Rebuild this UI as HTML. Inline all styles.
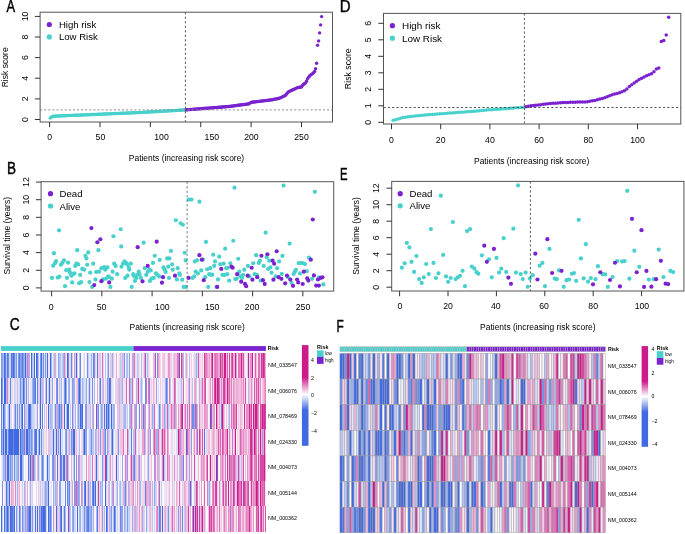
<!DOCTYPE html><html><head><meta charset="utf-8"><style>html,body{margin:0;padding:0;background:#fff;width:685px;height:534px;overflow:hidden}svg{display:block;will-change:transform;font-family:"Liberation Sans",sans-serif}</style></head><body><svg width="685" height="534" viewBox="0 0 685 534" font-family='"Liberation Sans", sans-serif'>
<rect width="685" height="534" fill="#fff"/>
<text x="6.50" y="11.75" font-size="16.5" fill="#000" stroke="#000" stroke-width="0.45" transform="translate(6.50 0) scale(0.78 1) translate(-6.50 0)">A</text>
<circle cx="50.20" cy="118.10" r="1.7" fill="#48D1CC"/>
<circle cx="51.21" cy="117.25" r="1.7" fill="#48D1CC"/>
<circle cx="52.22" cy="116.64" r="1.7" fill="#48D1CC"/>
<circle cx="53.23" cy="116.19" r="1.7" fill="#48D1CC"/>
<circle cx="54.24" cy="116.15" r="1.7" fill="#48D1CC"/>
<circle cx="55.25" cy="116.11" r="1.7" fill="#48D1CC"/>
<circle cx="56.25" cy="116.07" r="1.7" fill="#48D1CC"/>
<circle cx="57.26" cy="116.02" r="1.7" fill="#48D1CC"/>
<circle cx="58.27" cy="115.98" r="1.7" fill="#48D1CC"/>
<circle cx="59.28" cy="115.94" r="1.7" fill="#48D1CC"/>
<circle cx="60.29" cy="115.89" r="1.7" fill="#48D1CC"/>
<circle cx="61.30" cy="115.85" r="1.7" fill="#48D1CC"/>
<circle cx="62.31" cy="115.81" r="1.7" fill="#48D1CC"/>
<circle cx="63.32" cy="115.76" r="1.7" fill="#48D1CC"/>
<circle cx="64.33" cy="115.72" r="1.7" fill="#48D1CC"/>
<circle cx="65.34" cy="115.68" r="1.7" fill="#48D1CC"/>
<circle cx="66.35" cy="115.64" r="1.7" fill="#48D1CC"/>
<circle cx="67.35" cy="115.59" r="1.7" fill="#48D1CC"/>
<circle cx="68.36" cy="115.55" r="1.7" fill="#48D1CC"/>
<circle cx="69.37" cy="115.51" r="1.7" fill="#48D1CC"/>
<circle cx="70.38" cy="115.46" r="1.7" fill="#48D1CC"/>
<circle cx="71.39" cy="115.42" r="1.7" fill="#48D1CC"/>
<circle cx="72.40" cy="115.38" r="1.7" fill="#48D1CC"/>
<circle cx="73.41" cy="115.34" r="1.7" fill="#48D1CC"/>
<circle cx="74.42" cy="115.29" r="1.7" fill="#48D1CC"/>
<circle cx="75.43" cy="115.25" r="1.7" fill="#48D1CC"/>
<circle cx="76.44" cy="115.21" r="1.7" fill="#48D1CC"/>
<circle cx="77.45" cy="115.16" r="1.7" fill="#48D1CC"/>
<circle cx="78.45" cy="115.12" r="1.7" fill="#48D1CC"/>
<circle cx="79.46" cy="115.08" r="1.7" fill="#48D1CC"/>
<circle cx="80.47" cy="115.03" r="1.7" fill="#48D1CC"/>
<circle cx="81.48" cy="114.99" r="1.7" fill="#48D1CC"/>
<circle cx="82.49" cy="114.95" r="1.7" fill="#48D1CC"/>
<circle cx="83.50" cy="114.91" r="1.7" fill="#48D1CC"/>
<circle cx="84.51" cy="114.86" r="1.7" fill="#48D1CC"/>
<circle cx="85.52" cy="114.82" r="1.7" fill="#48D1CC"/>
<circle cx="86.53" cy="114.78" r="1.7" fill="#48D1CC"/>
<circle cx="87.54" cy="114.73" r="1.7" fill="#48D1CC"/>
<circle cx="88.55" cy="114.69" r="1.7" fill="#48D1CC"/>
<circle cx="89.55" cy="114.65" r="1.7" fill="#48D1CC"/>
<circle cx="90.56" cy="114.60" r="1.7" fill="#48D1CC"/>
<circle cx="91.57" cy="114.56" r="1.7" fill="#48D1CC"/>
<circle cx="92.58" cy="114.52" r="1.7" fill="#48D1CC"/>
<circle cx="93.59" cy="114.48" r="1.7" fill="#48D1CC"/>
<circle cx="94.60" cy="114.43" r="1.7" fill="#48D1CC"/>
<circle cx="95.61" cy="114.39" r="1.7" fill="#48D1CC"/>
<circle cx="96.62" cy="114.35" r="1.7" fill="#48D1CC"/>
<circle cx="97.63" cy="114.30" r="1.7" fill="#48D1CC"/>
<circle cx="98.64" cy="114.26" r="1.7" fill="#48D1CC"/>
<circle cx="99.65" cy="114.22" r="1.7" fill="#48D1CC"/>
<circle cx="100.65" cy="114.18" r="1.7" fill="#48D1CC"/>
<circle cx="101.66" cy="114.13" r="1.7" fill="#48D1CC"/>
<circle cx="102.67" cy="114.09" r="1.7" fill="#48D1CC"/>
<circle cx="103.68" cy="114.05" r="1.7" fill="#48D1CC"/>
<circle cx="104.69" cy="114.00" r="1.7" fill="#48D1CC"/>
<circle cx="105.70" cy="113.96" r="1.7" fill="#48D1CC"/>
<circle cx="106.71" cy="113.92" r="1.7" fill="#48D1CC"/>
<circle cx="107.72" cy="113.87" r="1.7" fill="#48D1CC"/>
<circle cx="108.73" cy="113.83" r="1.7" fill="#48D1CC"/>
<circle cx="109.74" cy="113.79" r="1.7" fill="#48D1CC"/>
<circle cx="110.75" cy="113.75" r="1.7" fill="#48D1CC"/>
<circle cx="111.75" cy="113.70" r="1.7" fill="#48D1CC"/>
<circle cx="112.76" cy="113.66" r="1.7" fill="#48D1CC"/>
<circle cx="113.77" cy="113.62" r="1.7" fill="#48D1CC"/>
<circle cx="114.78" cy="113.57" r="1.7" fill="#48D1CC"/>
<circle cx="115.79" cy="113.53" r="1.7" fill="#48D1CC"/>
<circle cx="116.80" cy="113.49" r="1.7" fill="#48D1CC"/>
<circle cx="117.81" cy="113.44" r="1.7" fill="#48D1CC"/>
<circle cx="118.82" cy="113.40" r="1.7" fill="#48D1CC"/>
<circle cx="119.83" cy="113.36" r="1.7" fill="#48D1CC"/>
<circle cx="120.84" cy="113.32" r="1.7" fill="#48D1CC"/>
<circle cx="121.85" cy="113.27" r="1.7" fill="#48D1CC"/>
<circle cx="122.85" cy="113.23" r="1.7" fill="#48D1CC"/>
<circle cx="123.86" cy="113.19" r="1.7" fill="#48D1CC"/>
<circle cx="124.87" cy="113.14" r="1.7" fill="#48D1CC"/>
<circle cx="125.88" cy="113.10" r="1.7" fill="#48D1CC"/>
<circle cx="126.89" cy="113.06" r="1.7" fill="#48D1CC"/>
<circle cx="127.90" cy="113.02" r="1.7" fill="#48D1CC"/>
<circle cx="128.91" cy="112.97" r="1.7" fill="#48D1CC"/>
<circle cx="129.92" cy="112.93" r="1.7" fill="#48D1CC"/>
<circle cx="130.93" cy="112.89" r="1.7" fill="#48D1CC"/>
<circle cx="131.94" cy="112.84" r="1.7" fill="#48D1CC"/>
<circle cx="132.95" cy="112.80" r="1.7" fill="#48D1CC"/>
<circle cx="133.95" cy="112.76" r="1.7" fill="#48D1CC"/>
<circle cx="134.96" cy="112.71" r="1.7" fill="#48D1CC"/>
<circle cx="135.97" cy="112.67" r="1.7" fill="#48D1CC"/>
<circle cx="136.98" cy="112.63" r="1.7" fill="#48D1CC"/>
<circle cx="137.99" cy="112.59" r="1.7" fill="#48D1CC"/>
<circle cx="139.00" cy="112.54" r="1.7" fill="#48D1CC"/>
<circle cx="140.01" cy="112.50" r="1.7" fill="#48D1CC"/>
<circle cx="141.02" cy="112.44" r="1.7" fill="#48D1CC"/>
<circle cx="142.03" cy="112.38" r="1.7" fill="#48D1CC"/>
<circle cx="143.04" cy="112.33" r="1.7" fill="#48D1CC"/>
<circle cx="144.05" cy="112.27" r="1.7" fill="#48D1CC"/>
<circle cx="145.05" cy="112.21" r="1.7" fill="#48D1CC"/>
<circle cx="146.06" cy="112.15" r="1.7" fill="#48D1CC"/>
<circle cx="147.07" cy="112.09" r="1.7" fill="#48D1CC"/>
<circle cx="148.08" cy="112.04" r="1.7" fill="#48D1CC"/>
<circle cx="149.09" cy="111.98" r="1.7" fill="#48D1CC"/>
<circle cx="150.10" cy="111.92" r="1.7" fill="#48D1CC"/>
<circle cx="151.11" cy="111.86" r="1.7" fill="#48D1CC"/>
<circle cx="152.12" cy="111.81" r="1.7" fill="#48D1CC"/>
<circle cx="153.13" cy="111.75" r="1.7" fill="#48D1CC"/>
<circle cx="154.14" cy="111.69" r="1.7" fill="#48D1CC"/>
<circle cx="155.15" cy="111.63" r="1.7" fill="#48D1CC"/>
<circle cx="156.15" cy="111.57" r="1.7" fill="#48D1CC"/>
<circle cx="157.16" cy="111.52" r="1.7" fill="#48D1CC"/>
<circle cx="158.17" cy="111.46" r="1.7" fill="#48D1CC"/>
<circle cx="159.18" cy="111.40" r="1.7" fill="#48D1CC"/>
<circle cx="160.19" cy="111.34" r="1.7" fill="#48D1CC"/>
<circle cx="161.20" cy="111.29" r="1.7" fill="#48D1CC"/>
<circle cx="162.21" cy="111.23" r="1.7" fill="#48D1CC"/>
<circle cx="163.22" cy="111.17" r="1.7" fill="#48D1CC"/>
<circle cx="164.23" cy="111.11" r="1.7" fill="#48D1CC"/>
<circle cx="165.24" cy="111.05" r="1.7" fill="#48D1CC"/>
<circle cx="166.25" cy="111.00" r="1.7" fill="#48D1CC"/>
<circle cx="167.25" cy="110.94" r="1.7" fill="#48D1CC"/>
<circle cx="168.26" cy="110.88" r="1.7" fill="#48D1CC"/>
<circle cx="169.27" cy="110.82" r="1.7" fill="#48D1CC"/>
<circle cx="170.28" cy="110.77" r="1.7" fill="#48D1CC"/>
<circle cx="171.29" cy="110.71" r="1.7" fill="#48D1CC"/>
<circle cx="172.30" cy="110.65" r="1.7" fill="#48D1CC"/>
<circle cx="173.31" cy="110.59" r="1.7" fill="#48D1CC"/>
<circle cx="174.32" cy="110.53" r="1.7" fill="#48D1CC"/>
<circle cx="175.33" cy="110.48" r="1.7" fill="#48D1CC"/>
<circle cx="176.34" cy="110.42" r="1.7" fill="#48D1CC"/>
<circle cx="177.35" cy="110.36" r="1.7" fill="#48D1CC"/>
<circle cx="178.35" cy="110.30" r="1.7" fill="#48D1CC"/>
<circle cx="179.36" cy="110.25" r="1.7" fill="#48D1CC"/>
<circle cx="180.37" cy="110.19" r="1.7" fill="#48D1CC"/>
<circle cx="181.38" cy="110.13" r="1.7" fill="#48D1CC"/>
<circle cx="182.39" cy="110.07" r="1.7" fill="#48D1CC"/>
<circle cx="183.40" cy="110.01" r="1.7" fill="#48D1CC"/>
<circle cx="184.41" cy="109.96" r="1.7" fill="#48D1CC"/>
<circle cx="185.42" cy="109.90" r="1.7" fill="#48D1CC"/>
<circle cx="186.43" cy="109.82" r="1.7" fill="#7B22D0"/>
<circle cx="187.44" cy="109.74" r="1.7" fill="#7B22D0"/>
<circle cx="188.45" cy="109.66" r="1.7" fill="#7B22D0"/>
<circle cx="189.45" cy="109.58" r="1.7" fill="#7B22D0"/>
<circle cx="190.46" cy="109.50" r="1.7" fill="#7B22D0"/>
<circle cx="191.47" cy="109.42" r="1.7" fill="#7B22D0"/>
<circle cx="192.48" cy="109.34" r="1.7" fill="#7B22D0"/>
<circle cx="193.49" cy="109.27" r="1.7" fill="#7B22D0"/>
<circle cx="194.50" cy="109.19" r="1.7" fill="#7B22D0"/>
<circle cx="195.51" cy="109.11" r="1.7" fill="#7B22D0"/>
<circle cx="196.52" cy="109.03" r="1.7" fill="#7B22D0"/>
<circle cx="197.53" cy="108.95" r="1.7" fill="#7B22D0"/>
<circle cx="198.54" cy="108.87" r="1.7" fill="#7B22D0"/>
<circle cx="199.55" cy="108.79" r="1.7" fill="#7B22D0"/>
<circle cx="200.55" cy="108.71" r="1.7" fill="#7B22D0"/>
<circle cx="201.56" cy="108.63" r="1.7" fill="#7B22D0"/>
<circle cx="202.57" cy="108.55" r="1.7" fill="#7B22D0"/>
<circle cx="203.58" cy="108.47" r="1.7" fill="#7B22D0"/>
<circle cx="204.59" cy="108.39" r="1.7" fill="#7B22D0"/>
<circle cx="205.60" cy="108.31" r="1.7" fill="#7B22D0"/>
<circle cx="206.61" cy="108.24" r="1.7" fill="#7B22D0"/>
<circle cx="207.62" cy="108.16" r="1.7" fill="#7B22D0"/>
<circle cx="208.63" cy="108.08" r="1.7" fill="#7B22D0"/>
<circle cx="209.64" cy="108.00" r="1.7" fill="#7B22D0"/>
<circle cx="210.65" cy="107.92" r="1.7" fill="#7B22D0"/>
<circle cx="211.65" cy="107.84" r="1.7" fill="#7B22D0"/>
<circle cx="212.66" cy="107.76" r="1.7" fill="#7B22D0"/>
<circle cx="213.67" cy="107.68" r="1.7" fill="#7B22D0"/>
<circle cx="214.68" cy="107.60" r="1.7" fill="#7B22D0"/>
<circle cx="215.69" cy="107.52" r="1.7" fill="#7B22D0"/>
<circle cx="216.70" cy="107.44" r="1.7" fill="#7B22D0"/>
<circle cx="217.71" cy="107.36" r="1.7" fill="#7B22D0"/>
<circle cx="218.72" cy="107.29" r="1.7" fill="#7B22D0"/>
<circle cx="219.73" cy="107.21" r="1.7" fill="#7B22D0"/>
<circle cx="220.74" cy="107.13" r="1.7" fill="#7B22D0"/>
<circle cx="221.75" cy="107.05" r="1.7" fill="#7B22D0"/>
<circle cx="222.75" cy="106.97" r="1.7" fill="#7B22D0"/>
<circle cx="223.76" cy="106.89" r="1.7" fill="#7B22D0"/>
<circle cx="224.77" cy="106.81" r="1.7" fill="#7B22D0"/>
<circle cx="225.78" cy="106.73" r="1.7" fill="#7B22D0"/>
<circle cx="226.79" cy="106.65" r="1.7" fill="#7B22D0"/>
<circle cx="227.80" cy="106.57" r="1.7" fill="#7B22D0"/>
<circle cx="228.81" cy="106.49" r="1.7" fill="#7B22D0"/>
<circle cx="229.82" cy="106.41" r="1.7" fill="#7B22D0"/>
<circle cx="230.83" cy="106.29" r="1.7" fill="#7B22D0"/>
<circle cx="231.84" cy="106.15" r="1.7" fill="#7B22D0"/>
<circle cx="232.85" cy="106.01" r="1.7" fill="#7B22D0"/>
<circle cx="233.85" cy="105.87" r="1.7" fill="#7B22D0"/>
<circle cx="234.86" cy="105.73" r="1.7" fill="#7B22D0"/>
<circle cx="235.87" cy="105.60" r="1.7" fill="#7B22D0"/>
<circle cx="236.88" cy="105.46" r="1.7" fill="#7B22D0"/>
<circle cx="237.89" cy="105.32" r="1.7" fill="#7B22D0"/>
<circle cx="238.90" cy="105.18" r="1.7" fill="#7B22D0"/>
<circle cx="239.91" cy="105.04" r="1.7" fill="#7B22D0"/>
<circle cx="240.92" cy="104.91" r="1.7" fill="#7B22D0"/>
<circle cx="241.93" cy="104.77" r="1.7" fill="#7B22D0"/>
<circle cx="242.94" cy="104.63" r="1.7" fill="#7B22D0"/>
<circle cx="243.95" cy="104.49" r="1.7" fill="#7B22D0"/>
<circle cx="244.95" cy="104.35" r="1.7" fill="#7B22D0"/>
<circle cx="245.96" cy="104.22" r="1.7" fill="#7B22D0"/>
<circle cx="246.97" cy="104.08" r="1.7" fill="#7B22D0"/>
<circle cx="247.98" cy="103.94" r="1.7" fill="#7B22D0"/>
<circle cx="248.99" cy="103.80" r="1.7" fill="#7B22D0"/>
<circle cx="250.00" cy="103.12" r="1.7" fill="#7B22D0"/>
<circle cx="251.01" cy="102.43" r="1.7" fill="#7B22D0"/>
<circle cx="252.02" cy="102.20" r="1.7" fill="#7B22D0"/>
<circle cx="253.03" cy="102.07" r="1.7" fill="#7B22D0"/>
<circle cx="254.04" cy="101.95" r="1.7" fill="#7B22D0"/>
<circle cx="255.05" cy="101.83" r="1.7" fill="#7B22D0"/>
<circle cx="256.05" cy="101.70" r="1.7" fill="#7B22D0"/>
<circle cx="257.06" cy="101.58" r="1.7" fill="#7B22D0"/>
<circle cx="258.07" cy="101.45" r="1.7" fill="#7B22D0"/>
<circle cx="259.08" cy="101.33" r="1.7" fill="#7B22D0"/>
<circle cx="260.09" cy="101.20" r="1.7" fill="#7B22D0"/>
<circle cx="261.10" cy="101.08" r="1.7" fill="#7B22D0"/>
<circle cx="262.11" cy="100.96" r="1.7" fill="#7B22D0"/>
<circle cx="263.12" cy="100.83" r="1.7" fill="#7B22D0"/>
<circle cx="264.13" cy="100.71" r="1.7" fill="#7B22D0"/>
<circle cx="265.14" cy="100.58" r="1.7" fill="#7B22D0"/>
<circle cx="266.15" cy="100.46" r="1.7" fill="#7B22D0"/>
<circle cx="267.15" cy="100.33" r="1.7" fill="#7B22D0"/>
<circle cx="268.16" cy="100.21" r="1.7" fill="#7B22D0"/>
<circle cx="269.17" cy="100.09" r="1.7" fill="#7B22D0"/>
<circle cx="270.18" cy="99.96" r="1.7" fill="#7B22D0"/>
<circle cx="271.19" cy="99.84" r="1.7" fill="#7B22D0"/>
<circle cx="272.20" cy="99.71" r="1.7" fill="#7B22D0"/>
<circle cx="273.21" cy="99.51" r="1.7" fill="#7B22D0"/>
<circle cx="274.22" cy="99.31" r="1.7" fill="#7B22D0"/>
<circle cx="275.23" cy="99.10" r="1.7" fill="#7B22D0"/>
<circle cx="276.24" cy="98.89" r="1.7" fill="#7B22D0"/>
<circle cx="277.25" cy="98.68" r="1.7" fill="#7B22D0"/>
<circle cx="278.25" cy="98.48" r="1.7" fill="#7B22D0"/>
<circle cx="279.26" cy="98.27" r="1.7" fill="#7B22D0"/>
<circle cx="280.27" cy="97.87" r="1.7" fill="#7B22D0"/>
<circle cx="281.28" cy="97.37" r="1.7" fill="#7B22D0"/>
<circle cx="282.29" cy="96.88" r="1.7" fill="#7B22D0"/>
<circle cx="283.30" cy="96.38" r="1.7" fill="#7B22D0"/>
<circle cx="284.31" cy="95.89" r="1.7" fill="#7B22D0"/>
<circle cx="285.32" cy="95.39" r="1.7" fill="#7B22D0"/>
<circle cx="286.33" cy="94.30" r="1.7" fill="#7B22D0"/>
<circle cx="287.34" cy="93.08" r="1.7" fill="#7B22D0"/>
<circle cx="288.35" cy="91.87" r="1.7" fill="#7B22D0"/>
<circle cx="289.35" cy="91.37" r="1.7" fill="#7B22D0"/>
<circle cx="290.36" cy="90.92" r="1.7" fill="#7B22D0"/>
<circle cx="291.37" cy="90.47" r="1.7" fill="#7B22D0"/>
<circle cx="292.38" cy="90.02" r="1.7" fill="#7B22D0"/>
<circle cx="293.39" cy="89.56" r="1.7" fill="#7B22D0"/>
<circle cx="294.40" cy="89.10" r="1.7" fill="#7B22D0"/>
<circle cx="295.41" cy="88.61" r="1.7" fill="#7B22D0"/>
<circle cx="296.42" cy="88.12" r="1.7" fill="#7B22D0"/>
<circle cx="297.43" cy="87.63" r="1.7" fill="#7B22D0"/>
<circle cx="298.44" cy="87.34" r="1.7" fill="#7B22D0"/>
<circle cx="299.45" cy="87.23" r="1.7" fill="#7B22D0"/>
<circle cx="300.45" cy="87.12" r="1.7" fill="#7B22D0"/>
<circle cx="301.46" cy="87.00" r="1.7" fill="#7B22D0"/>
<circle cx="302.47" cy="85.38" r="1.7" fill="#7B22D0"/>
<circle cx="303.48" cy="84.23" r="1.7" fill="#7B22D0"/>
<circle cx="304.49" cy="83.68" r="1.7" fill="#7B22D0"/>
<circle cx="305.50" cy="83.12" r="1.7" fill="#7B22D0"/>
<circle cx="306.51" cy="81.32" r="1.7" fill="#7B22D0"/>
<circle cx="307.52" cy="78.83" r="1.7" fill="#7B22D0"/>
<circle cx="308.53" cy="77.36" r="1.7" fill="#7B22D0"/>
<circle cx="309.54" cy="75.89" r="1.7" fill="#7B22D0"/>
<circle cx="310.55" cy="75.09" r="1.7" fill="#7B22D0"/>
<circle cx="311.55" cy="74.33" r="1.7" fill="#7B22D0"/>
<circle cx="312.56" cy="73.58" r="1.7" fill="#7B22D0"/>
<circle cx="313.57" cy="72.68" r="1.7" fill="#7B22D0"/>
<circle cx="314.58" cy="71.53" r="1.7" fill="#7B22D0"/>
<circle cx="315.59" cy="68.82" r="1.7" fill="#7B22D0"/>
<circle cx="316.60" cy="63.20" r="1.7" fill="#7B22D0"/>
<circle cx="317.60" cy="45.20" r="1.7" fill="#7B22D0"/>
<circle cx="318.60" cy="40.90" r="1.7" fill="#7B22D0"/>
<circle cx="319.60" cy="32.90" r="1.7" fill="#7B22D0"/>
<circle cx="320.60" cy="24.90" r="1.7" fill="#7B22D0"/>
<circle cx="321.60" cy="16.60" r="1.7" fill="#7B22D0"/>
<line x1="40.1" y1="109.9" x2="332.5" y2="109.9" stroke="#8a8a8a" stroke-width="1" stroke-dasharray="2 2.1"/>
<line x1="185.4" y1="12.2" x2="185.4" y2="122.0" stroke="#444" stroke-width="0.9" stroke-dasharray="2.2 2.3"/>
<rect x="40.1" y="12.2" width="292.4" height="109.8" fill="none" stroke="#555" stroke-width="1"/>
<line x1="34.9" y1="119.50" x2="40.1" y2="119.50" stroke="#333" stroke-width="1"/>
<text x="24.9" y="119.5" font-size="8.7" text-anchor="middle" dominant-baseline="central" font-weight="normal" fill="#000" transform="rotate(-90 24.9 119.5)">0</text>
<line x1="34.9" y1="98.88" x2="40.1" y2="98.88" stroke="#333" stroke-width="1"/>
<text x="24.9" y="98.88" font-size="8.7" text-anchor="middle" dominant-baseline="central" font-weight="normal" fill="#000" transform="rotate(-90 24.9 98.88)">2</text>
<line x1="34.9" y1="78.26" x2="40.1" y2="78.26" stroke="#333" stroke-width="1"/>
<text x="24.9" y="78.25999999999999" font-size="8.7" text-anchor="middle" dominant-baseline="central" font-weight="normal" fill="#000" transform="rotate(-90 24.9 78.25999999999999)">4</text>
<line x1="34.9" y1="57.64" x2="40.1" y2="57.64" stroke="#333" stroke-width="1"/>
<text x="24.9" y="57.64" font-size="8.7" text-anchor="middle" dominant-baseline="central" font-weight="normal" fill="#000" transform="rotate(-90 24.9 57.64)">6</text>
<line x1="34.9" y1="37.02" x2="40.1" y2="37.02" stroke="#333" stroke-width="1"/>
<text x="24.9" y="37.019999999999996" font-size="8.7" text-anchor="middle" dominant-baseline="central" font-weight="normal" fill="#000" transform="rotate(-90 24.9 37.019999999999996)">8</text>
<line x1="34.9" y1="16.40" x2="40.1" y2="16.40" stroke="#333" stroke-width="1"/>
<text x="24.9" y="16.39999999999999" font-size="8.7" text-anchor="middle" dominant-baseline="central" font-weight="normal" fill="#000" transform="rotate(-90 24.9 16.39999999999999)">10</text>
<line x1="49.60" y1="122.0" x2="49.60" y2="127.2" stroke="#333" stroke-width="1"/>
<text x="49.6" y="137.3" font-size="8.7" text-anchor="middle" dominant-baseline="central" font-weight="normal" fill="#000">0</text>
<line x1="99.98" y1="122.0" x2="99.98" y2="127.2" stroke="#333" stroke-width="1"/>
<text x="100.4" y="137.3" font-size="8.7" text-anchor="middle" dominant-baseline="central" font-weight="normal" fill="#000">50</text>
<line x1="150.36" y1="122.0" x2="150.36" y2="127.2" stroke="#333" stroke-width="1"/>
<text x="161.5" y="137.3" font-size="8.7" text-anchor="middle" dominant-baseline="central" font-weight="normal" fill="#000">100</text>
<line x1="200.74" y1="122.0" x2="200.74" y2="127.2" stroke="#333" stroke-width="1"/>
<text x="211.8" y="137.3" font-size="8.7" text-anchor="middle" dominant-baseline="central" font-weight="normal" fill="#000">150</text>
<line x1="251.12" y1="122.0" x2="251.12" y2="127.2" stroke="#333" stroke-width="1"/>
<text x="251.4" y="137.3" font-size="8.7" text-anchor="middle" dominant-baseline="central" font-weight="normal" fill="#000">200</text>
<line x1="301.50" y1="122.0" x2="301.50" y2="127.2" stroke="#333" stroke-width="1"/>
<text x="301.5" y="137.3" font-size="8.7" text-anchor="middle" dominant-baseline="central" font-weight="normal" fill="#000">250</text>
<text x="186.5" y="157.7" font-size="8.45" text-anchor="middle" dominant-baseline="central" font-weight="normal" fill="#000">Patients (increasing risk score)</text>
<text x="4.8" y="67.3" font-size="8.6" text-anchor="middle" dominant-baseline="central" font-weight="normal" fill="#000" transform="rotate(-90 4.8 67.3)">Risk score</text>
<circle cx="49.3" cy="24.5" r="2.6" fill="#7B22D0"/>
<circle cx="49.3" cy="36.9" r="2.6" fill="#48D1CC"/>
<text x="58.9" y="24.5" font-size="9.6" text-anchor="start" dominant-baseline="central" font-weight="normal" fill="#000">High risk</text>
<text x="58.9" y="36.9" font-size="9.6" text-anchor="start" dominant-baseline="central" font-weight="normal" fill="#000">Low Risk</text>
<text x="339.75" y="12.25" font-size="16.5" fill="#000" stroke="#000" stroke-width="0.45" transform="translate(339.75 0) scale(0.91 1) translate(-339.75 0)">D</text>
<circle cx="393.16" cy="120.20" r="1.75" fill="#48D1CC"/>
<circle cx="395.62" cy="119.66" r="1.75" fill="#48D1CC"/>
<circle cx="398.08" cy="118.92" r="1.75" fill="#48D1CC"/>
<circle cx="400.54" cy="118.19" r="1.75" fill="#48D1CC"/>
<circle cx="403.00" cy="117.52" r="1.75" fill="#48D1CC"/>
<circle cx="405.46" cy="117.13" r="1.75" fill="#48D1CC"/>
<circle cx="407.92" cy="116.80" r="1.75" fill="#48D1CC"/>
<circle cx="410.38" cy="116.55" r="1.75" fill="#48D1CC"/>
<circle cx="412.84" cy="116.30" r="1.75" fill="#48D1CC"/>
<circle cx="415.30" cy="116.05" r="1.75" fill="#48D1CC"/>
<circle cx="417.76" cy="115.80" r="1.75" fill="#48D1CC"/>
<circle cx="420.22" cy="115.56" r="1.75" fill="#48D1CC"/>
<circle cx="422.68" cy="115.31" r="1.75" fill="#48D1CC"/>
<circle cx="425.14" cy="115.07" r="1.75" fill="#48D1CC"/>
<circle cx="427.60" cy="114.82" r="1.75" fill="#48D1CC"/>
<circle cx="430.06" cy="114.60" r="1.75" fill="#48D1CC"/>
<circle cx="432.52" cy="114.41" r="1.75" fill="#48D1CC"/>
<circle cx="434.98" cy="114.22" r="1.75" fill="#48D1CC"/>
<circle cx="437.44" cy="114.03" r="1.75" fill="#48D1CC"/>
<circle cx="439.90" cy="113.84" r="1.75" fill="#48D1CC"/>
<circle cx="442.36" cy="113.65" r="1.75" fill="#48D1CC"/>
<circle cx="444.82" cy="113.46" r="1.75" fill="#48D1CC"/>
<circle cx="447.28" cy="113.27" r="1.75" fill="#48D1CC"/>
<circle cx="449.74" cy="113.07" r="1.75" fill="#48D1CC"/>
<circle cx="452.20" cy="112.89" r="1.75" fill="#48D1CC"/>
<circle cx="454.66" cy="112.70" r="1.75" fill="#48D1CC"/>
<circle cx="457.12" cy="112.51" r="1.75" fill="#48D1CC"/>
<circle cx="459.58" cy="112.32" r="1.75" fill="#48D1CC"/>
<circle cx="462.04" cy="112.14" r="1.75" fill="#48D1CC"/>
<circle cx="464.50" cy="111.95" r="1.75" fill="#48D1CC"/>
<circle cx="466.96" cy="111.76" r="1.75" fill="#48D1CC"/>
<circle cx="469.42" cy="111.58" r="1.75" fill="#48D1CC"/>
<circle cx="471.88" cy="111.39" r="1.75" fill="#48D1CC"/>
<circle cx="474.34" cy="111.20" r="1.75" fill="#48D1CC"/>
<circle cx="476.80" cy="111.02" r="1.75" fill="#48D1CC"/>
<circle cx="479.26" cy="110.77" r="1.75" fill="#48D1CC"/>
<circle cx="481.72" cy="110.52" r="1.75" fill="#48D1CC"/>
<circle cx="484.18" cy="110.28" r="1.75" fill="#48D1CC"/>
<circle cx="486.64" cy="110.03" r="1.75" fill="#48D1CC"/>
<circle cx="489.10" cy="109.82" r="1.75" fill="#48D1CC"/>
<circle cx="491.56" cy="109.66" r="1.75" fill="#48D1CC"/>
<circle cx="494.02" cy="109.50" r="1.75" fill="#48D1CC"/>
<circle cx="496.48" cy="109.33" r="1.75" fill="#48D1CC"/>
<circle cx="498.94" cy="109.17" r="1.75" fill="#48D1CC"/>
<circle cx="501.40" cy="109.01" r="1.75" fill="#48D1CC"/>
<circle cx="503.86" cy="108.85" r="1.75" fill="#48D1CC"/>
<circle cx="506.32" cy="108.68" r="1.75" fill="#48D1CC"/>
<circle cx="508.78" cy="108.50" r="1.75" fill="#48D1CC"/>
<circle cx="511.24" cy="108.29" r="1.75" fill="#48D1CC"/>
<circle cx="513.70" cy="108.08" r="1.75" fill="#48D1CC"/>
<circle cx="516.16" cy="107.87" r="1.75" fill="#48D1CC"/>
<circle cx="518.62" cy="107.66" r="1.75" fill="#48D1CC"/>
<circle cx="521.08" cy="107.45" r="1.75" fill="#48D1CC"/>
<circle cx="523.54" cy="107.24" r="1.75" fill="#48D1CC"/>
<circle cx="526.00" cy="106.82" r="1.75" fill="#7B22D0"/>
<circle cx="528.46" cy="106.34" r="1.75" fill="#7B22D0"/>
<circle cx="530.92" cy="105.87" r="1.75" fill="#7B22D0"/>
<circle cx="533.38" cy="105.51" r="1.75" fill="#7B22D0"/>
<circle cx="535.84" cy="105.22" r="1.75" fill="#7B22D0"/>
<circle cx="538.30" cy="104.93" r="1.75" fill="#7B22D0"/>
<circle cx="540.76" cy="104.64" r="1.75" fill="#7B22D0"/>
<circle cx="543.22" cy="104.34" r="1.75" fill="#7B22D0"/>
<circle cx="545.68" cy="104.05" r="1.75" fill="#7B22D0"/>
<circle cx="548.14" cy="103.77" r="1.75" fill="#7B22D0"/>
<circle cx="550.60" cy="103.57" r="1.75" fill="#7B22D0"/>
<circle cx="553.06" cy="103.37" r="1.75" fill="#7B22D0"/>
<circle cx="555.52" cy="103.17" r="1.75" fill="#7B22D0"/>
<circle cx="557.98" cy="102.97" r="1.75" fill="#7B22D0"/>
<circle cx="560.44" cy="102.77" r="1.75" fill="#7B22D0"/>
<circle cx="562.90" cy="102.57" r="1.75" fill="#7B22D0"/>
<circle cx="565.36" cy="102.46" r="1.75" fill="#7B22D0"/>
<circle cx="567.82" cy="102.39" r="1.75" fill="#7B22D0"/>
<circle cx="570.28" cy="102.32" r="1.75" fill="#7B22D0"/>
<circle cx="572.74" cy="102.26" r="1.75" fill="#7B22D0"/>
<circle cx="575.20" cy="102.19" r="1.75" fill="#7B22D0"/>
<circle cx="577.66" cy="102.12" r="1.75" fill="#7B22D0"/>
<circle cx="580.12" cy="102.06" r="1.75" fill="#7B22D0"/>
<circle cx="582.58" cy="101.99" r="1.75" fill="#7B22D0"/>
<circle cx="585.04" cy="101.93" r="1.75" fill="#7B22D0"/>
<circle cx="587.50" cy="101.65" r="1.75" fill="#7B22D0"/>
<circle cx="589.96" cy="101.23" r="1.75" fill="#7B22D0"/>
<circle cx="592.42" cy="100.82" r="1.75" fill="#7B22D0"/>
<circle cx="594.88" cy="100.40" r="1.75" fill="#7B22D0"/>
<circle cx="597.34" cy="99.80" r="1.75" fill="#7B22D0"/>
<circle cx="599.80" cy="99.12" r="1.75" fill="#7B22D0"/>
<circle cx="602.26" cy="98.45" r="1.75" fill="#7B22D0"/>
<circle cx="604.72" cy="97.78" r="1.75" fill="#7B22D0"/>
<circle cx="607.18" cy="96.75" r="1.75" fill="#7B22D0"/>
<circle cx="609.64" cy="95.67" r="1.75" fill="#7B22D0"/>
<circle cx="612.10" cy="94.71" r="1.75" fill="#7B22D0"/>
<circle cx="614.56" cy="94.04" r="1.75" fill="#7B22D0"/>
<circle cx="617.02" cy="93.38" r="1.75" fill="#7B22D0"/>
<circle cx="619.48" cy="92.71" r="1.75" fill="#7B22D0"/>
<circle cx="621.94" cy="91.87" r="1.75" fill="#7B22D0"/>
<circle cx="624.40" cy="90.74" r="1.75" fill="#7B22D0"/>
<circle cx="626.86" cy="88.94" r="1.75" fill="#7B22D0"/>
<circle cx="629.32" cy="86.38" r="1.75" fill="#7B22D0"/>
<circle cx="631.78" cy="84.71" r="1.75" fill="#7B22D0"/>
<circle cx="634.24" cy="83.02" r="1.75" fill="#7B22D0"/>
<circle cx="636.70" cy="81.30" r="1.75" fill="#7B22D0"/>
<circle cx="639.16" cy="79.59" r="1.75" fill="#7B22D0"/>
<circle cx="641.62" cy="78.19" r="1.75" fill="#7B22D0"/>
<circle cx="644.08" cy="76.96" r="1.75" fill="#7B22D0"/>
<circle cx="646.54" cy="75.74" r="1.75" fill="#7B22D0"/>
<circle cx="649.00" cy="74.74" r="1.75" fill="#7B22D0"/>
<circle cx="651.46" cy="73.74" r="1.75" fill="#7B22D0"/>
<circle cx="653.92" cy="71.76" r="1.75" fill="#7B22D0"/>
<circle cx="656.38" cy="68.95" r="1.75" fill="#7B22D0"/>
<circle cx="658.84" cy="67.95" r="1.75" fill="#7B22D0"/>
<circle cx="661.30" cy="41.40" r="1.75" fill="#7B22D0"/>
<circle cx="663.76" cy="40.40" r="1.75" fill="#7B22D0"/>
<circle cx="666.22" cy="35.00" r="1.75" fill="#7B22D0"/>
<circle cx="668.68" cy="17.20" r="1.75" fill="#7B22D0"/>
<line x1="383.5" y1="107.5" x2="680.8" y2="107.5" stroke="#444" stroke-width="0.9" stroke-dasharray="2.2 2.1"/>
<line x1="524.4" y1="13.4" x2="524.4" y2="124.0" stroke="#444" stroke-width="0.9" stroke-dasharray="2.2 2.3"/>
<rect x="383.5" y="13.4" width="297.29999999999995" height="110.6" fill="none" stroke="#555" stroke-width="1"/>
<line x1="378.3" y1="122.30" x2="383.5" y2="122.30" stroke="#333" stroke-width="1"/>
<text x="367.8" y="122.3" font-size="8.7" text-anchor="middle" dominant-baseline="central" font-weight="normal" fill="#000" transform="rotate(-90 367.8 122.3)">0</text>
<line x1="378.3" y1="105.80" x2="383.5" y2="105.80" stroke="#333" stroke-width="1"/>
<text x="367.8" y="105.8" font-size="8.7" text-anchor="middle" dominant-baseline="central" font-weight="normal" fill="#000" transform="rotate(-90 367.8 105.8)">1</text>
<line x1="378.3" y1="89.30" x2="383.5" y2="89.30" stroke="#333" stroke-width="1"/>
<text x="367.8" y="89.3" font-size="8.7" text-anchor="middle" dominant-baseline="central" font-weight="normal" fill="#000" transform="rotate(-90 367.8 89.3)">2</text>
<line x1="378.3" y1="72.80" x2="383.5" y2="72.80" stroke="#333" stroke-width="1"/>
<text x="367.8" y="72.8" font-size="8.7" text-anchor="middle" dominant-baseline="central" font-weight="normal" fill="#000" transform="rotate(-90 367.8 72.8)">3</text>
<line x1="378.3" y1="56.30" x2="383.5" y2="56.30" stroke="#333" stroke-width="1"/>
<text x="367.8" y="56.3" font-size="8.7" text-anchor="middle" dominant-baseline="central" font-weight="normal" fill="#000" transform="rotate(-90 367.8 56.3)">4</text>
<line x1="378.3" y1="39.80" x2="383.5" y2="39.80" stroke="#333" stroke-width="1"/>
<text x="367.8" y="39.8" font-size="8.7" text-anchor="middle" dominant-baseline="central" font-weight="normal" fill="#000" transform="rotate(-90 367.8 39.8)">5</text>
<line x1="378.3" y1="23.30" x2="383.5" y2="23.30" stroke="#333" stroke-width="1"/>
<text x="367.8" y="23.299999999999997" font-size="8.7" text-anchor="middle" dominant-baseline="central" font-weight="normal" fill="#000" transform="rotate(-90 367.8 23.299999999999997)">6</text>
<line x1="391.50" y1="124.0" x2="391.50" y2="129.2" stroke="#333" stroke-width="1"/>
<text x="391.5" y="140.1" font-size="8.7" text-anchor="middle" dominant-baseline="central" font-weight="normal" fill="#000">0</text>
<line x1="440.70" y1="124.0" x2="440.70" y2="129.2" stroke="#333" stroke-width="1"/>
<text x="440.7" y="140.1" font-size="8.7" text-anchor="middle" dominant-baseline="central" font-weight="normal" fill="#000">20</text>
<line x1="489.90" y1="124.0" x2="489.90" y2="129.2" stroke="#333" stroke-width="1"/>
<text x="489.9" y="140.1" font-size="8.7" text-anchor="middle" dominant-baseline="central" font-weight="normal" fill="#000">40</text>
<line x1="539.10" y1="124.0" x2="539.10" y2="129.2" stroke="#333" stroke-width="1"/>
<text x="539.1" y="140.1" font-size="8.7" text-anchor="middle" dominant-baseline="central" font-weight="normal" fill="#000">60</text>
<line x1="588.30" y1="124.0" x2="588.30" y2="129.2" stroke="#333" stroke-width="1"/>
<text x="588.3" y="140.1" font-size="8.7" text-anchor="middle" dominant-baseline="central" font-weight="normal" fill="#000">80</text>
<line x1="637.50" y1="124.0" x2="637.50" y2="129.2" stroke="#333" stroke-width="1"/>
<text x="637.5" y="140.1" font-size="8.7" text-anchor="middle" dominant-baseline="central" font-weight="normal" fill="#000">100</text>
<text x="531.7" y="160.8" font-size="8.45" text-anchor="middle" dominant-baseline="central" font-weight="normal" fill="#000">Patients (increasing risk score)</text>
<text x="347.6" y="68.7" font-size="8.75" text-anchor="middle" dominant-baseline="central" font-weight="normal" fill="#000" transform="rotate(-90 347.6 68.7)">Risk score</text>
<circle cx="392.4" cy="25.7" r="2.6" fill="#7B22D0"/>
<circle cx="392.4" cy="38.2" r="2.6" fill="#48D1CC"/>
<text x="402.0" y="25.7" font-size="9.9" text-anchor="start" dominant-baseline="central" font-weight="normal" fill="#000">High risk</text>
<text x="402.0" y="38.2" font-size="9.9" text-anchor="start" dominant-baseline="central" font-weight="normal" fill="#000">Low Risk</text>
<text x="6.97" y="173.85" font-size="16.5" fill="#000" stroke="#000" stroke-width="0.45" transform="translate(6.97 0) scale(0.82 1) translate(-6.97 0)">B</text>
<circle cx="59.03" cy="230.28" r="2.1" fill="#48D1CC"/>
<circle cx="53.93" cy="253.20" r="2.1" fill="#48D1CC"/>
<circle cx="51.99" cy="277.92" r="2.1" fill="#48D1CC"/>
<circle cx="53.18" cy="265.64" r="2.1" fill="#48D1CC"/>
<circle cx="54.98" cy="263.24" r="2.1" fill="#48D1CC"/>
<circle cx="56.03" cy="261.14" r="2.1" fill="#48D1CC"/>
<circle cx="57.68" cy="277.62" r="2.1" fill="#48D1CC"/>
<circle cx="59.48" cy="276.72" r="2.1" fill="#48D1CC"/>
<circle cx="60.97" cy="264.74" r="2.1" fill="#48D1CC"/>
<circle cx="62.47" cy="262.64" r="2.1" fill="#48D1CC"/>
<circle cx="63.97" cy="260.39" r="2.1" fill="#48D1CC"/>
<circle cx="65.02" cy="286.16" r="2.1" fill="#48D1CC"/>
<circle cx="66.22" cy="270.13" r="2.1" fill="#48D1CC"/>
<circle cx="66.97" cy="277.92" r="2.1" fill="#48D1CC"/>
<circle cx="68.01" cy="262.64" r="2.1" fill="#48D1CC"/>
<circle cx="69.21" cy="269.68" r="2.1" fill="#48D1CC"/>
<circle cx="69.96" cy="272.68" r="2.1" fill="#48D1CC"/>
<circle cx="71.46" cy="275.67" r="2.1" fill="#48D1CC"/>
<circle cx="72.21" cy="282.42" r="2.1" fill="#48D1CC"/>
<circle cx="72.96" cy="274.18" r="2.1" fill="#48D1CC"/>
<circle cx="74.46" cy="273.43" r="2.1" fill="#48D1CC"/>
<circle cx="75.21" cy="265.94" r="2.1" fill="#48D1CC"/>
<circle cx="76.40" cy="263.69" r="2.1" fill="#48D1CC"/>
<circle cx="77.15" cy="250.21" r="2.1" fill="#48D1CC"/>
<circle cx="78.20" cy="264.44" r="2.1" fill="#48D1CC"/>
<circle cx="79.25" cy="283.16" r="2.1" fill="#48D1CC"/>
<circle cx="80.15" cy="274.93" r="2.1" fill="#48D1CC"/>
<circle cx="81.20" cy="282.12" r="2.1" fill="#48D1CC"/>
<circle cx="82.25" cy="268.93" r="2.1" fill="#48D1CC"/>
<circle cx="84.19" cy="269.68" r="2.1" fill="#48D1CC"/>
<circle cx="85.39" cy="255.75" r="2.1" fill="#48D1CC"/>
<circle cx="86.44" cy="258.45" r="2.1" fill="#48D1CC"/>
<circle cx="87.19" cy="264.74" r="2.1" fill="#48D1CC"/>
<circle cx="88.24" cy="252.45" r="2.1" fill="#48D1CC"/>
<circle cx="89.44" cy="282.12" r="2.1" fill="#48D1CC"/>
<circle cx="90.19" cy="272.68" r="2.1" fill="#48D1CC"/>
<circle cx="92.13" cy="286.91" r="2.1" fill="#48D1CC"/>
<circle cx="93.18" cy="263.69" r="2.1" fill="#48D1CC"/>
<circle cx="95.43" cy="279.42" r="2.1" fill="#48D1CC"/>
<circle cx="96.18" cy="271.93" r="2.1" fill="#48D1CC"/>
<circle cx="98.43" cy="250.21" r="2.1" fill="#48D1CC"/>
<circle cx="99.18" cy="271.63" r="2.1" fill="#48D1CC"/>
<circle cx="101.42" cy="268.18" r="2.1" fill="#48D1CC"/>
<circle cx="102.92" cy="279.42" r="2.1" fill="#48D1CC"/>
<circle cx="104.12" cy="267.13" r="2.1" fill="#48D1CC"/>
<circle cx="105.17" cy="269.68" r="2.1" fill="#48D1CC"/>
<circle cx="105.92" cy="278.67" r="2.1" fill="#48D1CC"/>
<circle cx="107.42" cy="267.43" r="2.1" fill="#48D1CC"/>
<circle cx="108.16" cy="276.42" r="2.1" fill="#48D1CC"/>
<circle cx="109.21" cy="277.17" r="2.1" fill="#48D1CC"/>
<circle cx="110.41" cy="286.91" r="2.1" fill="#48D1CC"/>
<circle cx="111.91" cy="278.67" r="2.1" fill="#48D1CC"/>
<circle cx="112.66" cy="271.63" r="2.1" fill="#48D1CC"/>
<circle cx="113.41" cy="236.27" r="2.1" fill="#48D1CC"/>
<circle cx="114.16" cy="263.69" r="2.1" fill="#48D1CC"/>
<circle cx="115.66" cy="265.94" r="2.1" fill="#48D1CC"/>
<circle cx="117.15" cy="274.18" r="2.1" fill="#48D1CC"/>
<circle cx="120.75" cy="229.23" r="2.1" fill="#48D1CC"/>
<circle cx="121.20" cy="246.46" r="2.1" fill="#48D1CC"/>
<circle cx="121.50" cy="266.69" r="2.1" fill="#48D1CC"/>
<circle cx="123.00" cy="263.69" r="2.1" fill="#48D1CC"/>
<circle cx="124.49" cy="261.44" r="2.1" fill="#48D1CC"/>
<circle cx="125.99" cy="262.94" r="2.1" fill="#48D1CC"/>
<circle cx="127.19" cy="264.44" r="2.1" fill="#48D1CC"/>
<circle cx="128.69" cy="267.43" r="2.1" fill="#48D1CC"/>
<circle cx="129.29" cy="269.68" r="2.1" fill="#48D1CC"/>
<circle cx="130.79" cy="263.69" r="2.1" fill="#48D1CC"/>
<circle cx="131.69" cy="286.91" r="2.1" fill="#48D1CC"/>
<circle cx="125.24" cy="277.92" r="2.1" fill="#48D1CC"/>
<circle cx="127.49" cy="275.67" r="2.1" fill="#48D1CC"/>
<circle cx="133.18" cy="274.18" r="2.1" fill="#48D1CC"/>
<circle cx="134.23" cy="276.42" r="2.1" fill="#48D1CC"/>
<circle cx="134.98" cy="280.92" r="2.1" fill="#48D1CC"/>
<circle cx="136.48" cy="277.92" r="2.1" fill="#48D1CC"/>
<circle cx="137.23" cy="274.93" r="2.1" fill="#48D1CC"/>
<circle cx="138.73" cy="271.63" r="2.1" fill="#48D1CC"/>
<circle cx="139.48" cy="274.18" r="2.1" fill="#48D1CC"/>
<circle cx="140.97" cy="277.92" r="2.1" fill="#48D1CC"/>
<circle cx="143.67" cy="242.72" r="2.1" fill="#48D1CC"/>
<circle cx="144.72" cy="268.18" r="2.1" fill="#48D1CC"/>
<circle cx="146.22" cy="274.93" r="2.1" fill="#48D1CC"/>
<circle cx="147.72" cy="271.93" r="2.1" fill="#48D1CC"/>
<circle cx="149.21" cy="269.68" r="2.1" fill="#48D1CC"/>
<circle cx="150.71" cy="270.43" r="2.1" fill="#48D1CC"/>
<circle cx="149.96" cy="280.92" r="2.1" fill="#48D1CC"/>
<circle cx="151.46" cy="278.67" r="2.1" fill="#48D1CC"/>
<circle cx="152.96" cy="262.94" r="2.1" fill="#48D1CC"/>
<circle cx="153.71" cy="277.92" r="2.1" fill="#48D1CC"/>
<circle cx="154.76" cy="255.75" r="2.1" fill="#48D1CC"/>
<circle cx="155.96" cy="273.43" r="2.1" fill="#48D1CC"/>
<circle cx="157.45" cy="274.93" r="2.1" fill="#48D1CC"/>
<circle cx="159.70" cy="259.94" r="2.1" fill="#48D1CC"/>
<circle cx="159.25" cy="276.42" r="2.1" fill="#48D1CC"/>
<circle cx="163.45" cy="267.43" r="2.1" fill="#48D1CC"/>
<circle cx="164.64" cy="269.68" r="2.1" fill="#48D1CC"/>
<circle cx="165.69" cy="271.93" r="2.1" fill="#48D1CC"/>
<circle cx="167.19" cy="258.45" r="2.1" fill="#48D1CC"/>
<circle cx="168.24" cy="266.69" r="2.1" fill="#48D1CC"/>
<circle cx="169.44" cy="258.45" r="2.1" fill="#48D1CC"/>
<circle cx="168.99" cy="277.92" r="2.1" fill="#48D1CC"/>
<circle cx="170.94" cy="250.96" r="2.1" fill="#48D1CC"/>
<circle cx="172.13" cy="264.44" r="2.1" fill="#48D1CC"/>
<circle cx="172.73" cy="269.68" r="2.1" fill="#48D1CC"/>
<circle cx="175.88" cy="220.24" r="2.1" fill="#48D1CC"/>
<circle cx="177.68" cy="268.18" r="2.1" fill="#48D1CC"/>
<circle cx="176.93" cy="279.42" r="2.1" fill="#48D1CC"/>
<circle cx="179.18" cy="273.43" r="2.1" fill="#48D1CC"/>
<circle cx="179.93" cy="274.93" r="2.1" fill="#48D1CC"/>
<circle cx="180.67" cy="223.24" r="2.1" fill="#48D1CC"/>
<circle cx="182.17" cy="279.72" r="2.1" fill="#48D1CC"/>
<circle cx="182.92" cy="224.74" r="2.1" fill="#48D1CC"/>
<circle cx="183.67" cy="286.91" r="2.1" fill="#48D1CC"/>
<circle cx="184.72" cy="252.75" r="2.1" fill="#48D1CC"/>
<circle cx="185.62" cy="260.39" r="2.1" fill="#48D1CC"/>
<circle cx="185.92" cy="286.91" r="2.1" fill="#48D1CC"/>
<circle cx="192.66" cy="277.92" r="2.1" fill="#48D1CC"/>
<circle cx="194.16" cy="276.42" r="2.1" fill="#48D1CC"/>
<circle cx="194.91" cy="261.44" r="2.1" fill="#48D1CC"/>
<circle cx="195.66" cy="271.63" r="2.1" fill="#48D1CC"/>
<circle cx="197.15" cy="260.24" r="2.1" fill="#48D1CC"/>
<circle cx="197.90" cy="273.43" r="2.1" fill="#48D1CC"/>
<circle cx="201.20" cy="270.43" r="2.1" fill="#48D1CC"/>
<circle cx="203.00" cy="259.64" r="2.1" fill="#48D1CC"/>
<circle cx="205.24" cy="277.17" r="2.1" fill="#48D1CC"/>
<circle cx="205.99" cy="241.97" r="2.1" fill="#48D1CC"/>
<circle cx="207.19" cy="269.23" r="2.1" fill="#48D1CC"/>
<circle cx="208.24" cy="286.91" r="2.1" fill="#48D1CC"/>
<circle cx="209.29" cy="274.18" r="2.1" fill="#48D1CC"/>
<circle cx="210.19" cy="268.18" r="2.1" fill="#48D1CC"/>
<circle cx="211.24" cy="274.93" r="2.1" fill="#48D1CC"/>
<circle cx="212.28" cy="274.63" r="2.1" fill="#48D1CC"/>
<circle cx="213.18" cy="254.70" r="2.1" fill="#48D1CC"/>
<circle cx="214.23" cy="265.94" r="2.1" fill="#48D1CC"/>
<circle cx="214.98" cy="261.44" r="2.1" fill="#48D1CC"/>
<circle cx="216.48" cy="286.91" r="2.1" fill="#48D1CC"/>
<circle cx="217.98" cy="279.42" r="2.1" fill="#48D1CC"/>
<circle cx="219.18" cy="256.65" r="2.1" fill="#48D1CC"/>
<circle cx="220.22" cy="264.14" r="2.1" fill="#48D1CC"/>
<circle cx="222.47" cy="274.93" r="2.1" fill="#48D1CC"/>
<circle cx="223.67" cy="263.69" r="2.1" fill="#48D1CC"/>
<circle cx="224.72" cy="274.93" r="2.1" fill="#48D1CC"/>
<circle cx="225.17" cy="248.71" r="2.1" fill="#48D1CC"/>
<circle cx="226.22" cy="268.18" r="2.1" fill="#48D1CC"/>
<circle cx="227.27" cy="274.18" r="2.1" fill="#48D1CC"/>
<circle cx="227.72" cy="267.73" r="2.1" fill="#48D1CC"/>
<circle cx="229.21" cy="280.62" r="2.1" fill="#48D1CC"/>
<circle cx="230.26" cy="263.24" r="2.1" fill="#48D1CC"/>
<circle cx="233.26" cy="240.77" r="2.1" fill="#48D1CC"/>
<circle cx="235.21" cy="279.12" r="2.1" fill="#48D1CC"/>
<circle cx="236.70" cy="278.67" r="2.1" fill="#48D1CC"/>
<circle cx="238.20" cy="258.75" r="2.1" fill="#48D1CC"/>
<circle cx="239.25" cy="271.63" r="2.1" fill="#48D1CC"/>
<circle cx="240.45" cy="276.42" r="2.1" fill="#48D1CC"/>
<circle cx="241.95" cy="277.92" r="2.1" fill="#48D1CC"/>
<circle cx="243.15" cy="274.93" r="2.1" fill="#48D1CC"/>
<circle cx="244.19" cy="269.68" r="2.1" fill="#48D1CC"/>
<circle cx="247.94" cy="265.94" r="2.1" fill="#48D1CC"/>
<circle cx="249.44" cy="276.42" r="2.1" fill="#48D1CC"/>
<circle cx="253.18" cy="263.24" r="2.1" fill="#48D1CC"/>
<circle cx="254.68" cy="274.18" r="2.1" fill="#48D1CC"/>
<circle cx="256.18" cy="255.15" r="2.1" fill="#48D1CC"/>
<circle cx="256.93" cy="274.93" r="2.1" fill="#48D1CC"/>
<circle cx="258.73" cy="262.94" r="2.1" fill="#48D1CC"/>
<circle cx="259.93" cy="260.69" r="2.1" fill="#48D1CC"/>
<circle cx="260.67" cy="280.62" r="2.1" fill="#48D1CC"/>
<circle cx="263.67" cy="265.94" r="2.1" fill="#48D1CC"/>
<circle cx="265.62" cy="232.68" r="2.1" fill="#48D1CC"/>
<circle cx="266.67" cy="257.25" r="2.1" fill="#48D1CC"/>
<circle cx="268.16" cy="268.93" r="2.1" fill="#48D1CC"/>
<circle cx="269.21" cy="260.69" r="2.1" fill="#48D1CC"/>
<circle cx="270.41" cy="267.43" r="2.1" fill="#48D1CC"/>
<circle cx="271.61" cy="272.68" r="2.1" fill="#48D1CC"/>
<circle cx="275.66" cy="276.42" r="2.1" fill="#48D1CC"/>
<circle cx="277.15" cy="268.18" r="2.1" fill="#48D1CC"/>
<circle cx="279.10" cy="261.44" r="2.1" fill="#48D1CC"/>
<circle cx="283.60" cy="185.56" r="2.1" fill="#48D1CC"/>
<circle cx="314.83" cy="191.85" r="2.1" fill="#48D1CC"/>
<circle cx="289.66" cy="243.54" r="2.1" fill="#48D1CC"/>
<circle cx="282.47" cy="255.90" r="2.1" fill="#48D1CC"/>
<circle cx="281.80" cy="273.88" r="2.1" fill="#48D1CC"/>
<circle cx="288.09" cy="277.25" r="2.1" fill="#48D1CC"/>
<circle cx="291.46" cy="282.87" r="2.1" fill="#48D1CC"/>
<circle cx="293.71" cy="273.88" r="2.1" fill="#48D1CC"/>
<circle cx="294.83" cy="271.63" r="2.1" fill="#48D1CC"/>
<circle cx="295.96" cy="269.83" r="2.1" fill="#48D1CC"/>
<circle cx="298.65" cy="263.09" r="2.1" fill="#48D1CC"/>
<circle cx="300.45" cy="263.09" r="2.1" fill="#48D1CC"/>
<circle cx="302.70" cy="263.09" r="2.1" fill="#48D1CC"/>
<circle cx="304.94" cy="263.99" r="2.1" fill="#48D1CC"/>
<circle cx="300.00" cy="273.43" r="2.1" fill="#48D1CC"/>
<circle cx="306.74" cy="271.18" r="2.1" fill="#48D1CC"/>
<circle cx="308.99" cy="257.70" r="2.1" fill="#48D1CC"/>
<circle cx="312.13" cy="278.82" r="2.1" fill="#48D1CC"/>
<circle cx="318.88" cy="277.25" r="2.1" fill="#48D1CC"/>
<circle cx="323.37" cy="284.44" r="2.1" fill="#48D1CC"/>
<circle cx="188.90" cy="199.60" r="2.1" fill="#48D1CC"/>
<circle cx="191.40" cy="199.60" r="2.1" fill="#48D1CC"/>
<circle cx="199.40" cy="201.70" r="2.1" fill="#48D1CC"/>
<circle cx="234.50" cy="187.70" r="2.1" fill="#48D1CC"/>
<circle cx="91.39" cy="228.03" r="2.1" fill="#7B22D0"/>
<circle cx="97.38" cy="242.27" r="2.1" fill="#7B22D0"/>
<circle cx="100.37" cy="239.27" r="2.1" fill="#7B22D0"/>
<circle cx="94.23" cy="285.11" r="2.1" fill="#7B22D0"/>
<circle cx="101.42" cy="281.22" r="2.1" fill="#7B22D0"/>
<circle cx="109.21" cy="282.42" r="2.1" fill="#7B22D0"/>
<circle cx="137.68" cy="247.21" r="2.1" fill="#7B22D0"/>
<circle cx="147.72" cy="265.94" r="2.1" fill="#7B22D0"/>
<circle cx="156.70" cy="241.67" r="2.1" fill="#7B22D0"/>
<circle cx="142.47" cy="281.37" r="2.1" fill="#7B22D0"/>
<circle cx="163.00" cy="277.17" r="2.1" fill="#7B22D0"/>
<circle cx="161.95" cy="282.72" r="2.1" fill="#7B22D0"/>
<circle cx="174.98" cy="275.67" r="2.1" fill="#7B22D0"/>
<circle cx="188.61" cy="277.92" r="2.1" fill="#7B22D0"/>
<circle cx="199.40" cy="255.15" r="2.1" fill="#7B22D0"/>
<circle cx="201.80" cy="259.64" r="2.1" fill="#7B22D0"/>
<circle cx="203.75" cy="280.17" r="2.1" fill="#7B22D0"/>
<circle cx="217.23" cy="286.91" r="2.1" fill="#7B22D0"/>
<circle cx="221.27" cy="268.93" r="2.1" fill="#7B22D0"/>
<circle cx="231.46" cy="266.69" r="2.1" fill="#7B22D0"/>
<circle cx="232.66" cy="267.73" r="2.1" fill="#7B22D0"/>
<circle cx="237.15" cy="274.18" r="2.1" fill="#7B22D0"/>
<circle cx="241.20" cy="281.67" r="2.1" fill="#7B22D0"/>
<circle cx="244.94" cy="283.91" r="2.1" fill="#7B22D0"/>
<circle cx="246.14" cy="286.16" r="2.1" fill="#7B22D0"/>
<circle cx="247.64" cy="275.67" r="2.1" fill="#7B22D0"/>
<circle cx="251.69" cy="267.73" r="2.1" fill="#7B22D0"/>
<circle cx="252.43" cy="279.72" r="2.1" fill="#7B22D0"/>
<circle cx="257.23" cy="277.17" r="2.1" fill="#7B22D0"/>
<circle cx="261.42" cy="255.75" r="2.1" fill="#7B22D0"/>
<circle cx="262.92" cy="280.17" r="2.1" fill="#7B22D0"/>
<circle cx="264.72" cy="283.91" r="2.1" fill="#7B22D0"/>
<circle cx="267.42" cy="254.25" r="2.1" fill="#7B22D0"/>
<circle cx="272.66" cy="260.69" r="2.1" fill="#7B22D0"/>
<circle cx="274.16" cy="263.69" r="2.1" fill="#7B22D0"/>
<circle cx="273.41" cy="279.72" r="2.1" fill="#7B22D0"/>
<circle cx="276.70" cy="251.25" r="2.1" fill="#7B22D0"/>
<circle cx="278.65" cy="277.17" r="2.1" fill="#7B22D0"/>
<circle cx="312.81" cy="219.49" r="2.1" fill="#7B22D0"/>
<circle cx="281.35" cy="278.82" r="2.1" fill="#7B22D0"/>
<circle cx="285.17" cy="283.31" r="2.1" fill="#7B22D0"/>
<circle cx="286.97" cy="275.67" r="2.1" fill="#7B22D0"/>
<circle cx="290.34" cy="279.49" r="2.1" fill="#7B22D0"/>
<circle cx="293.03" cy="285.79" r="2.1" fill="#7B22D0"/>
<circle cx="297.08" cy="279.49" r="2.1" fill="#7B22D0"/>
<circle cx="298.20" cy="282.42" r="2.1" fill="#7B22D0"/>
<circle cx="302.70" cy="283.99" r="2.1" fill="#7B22D0"/>
<circle cx="303.82" cy="271.63" r="2.1" fill="#7B22D0"/>
<circle cx="307.19" cy="278.37" r="2.1" fill="#7B22D0"/>
<circle cx="308.31" cy="280.62" r="2.1" fill="#7B22D0"/>
<circle cx="310.79" cy="259.72" r="2.1" fill="#7B22D0"/>
<circle cx="313.93" cy="275.45" r="2.1" fill="#7B22D0"/>
<circle cx="316.18" cy="285.56" r="2.1" fill="#7B22D0"/>
<circle cx="317.98" cy="279.49" r="2.1" fill="#7B22D0"/>
<circle cx="318.88" cy="285.56" r="2.1" fill="#7B22D0"/>
<circle cx="320.67" cy="277.92" r="2.1" fill="#7B22D0"/>
<circle cx="322.47" cy="277.25" r="2.1" fill="#7B22D0"/>
<line x1="187.1" y1="181.7" x2="187.1" y2="291.1" stroke="#666" stroke-width="0.9" stroke-dasharray="2.2 2.3"/>
<rect x="41.1" y="181.7" width="292.59999999999997" height="109.40000000000003" fill="none" stroke="#555" stroke-width="1"/>
<line x1="35.9" y1="287.90" x2="41.1" y2="287.90" stroke="#333" stroke-width="1"/>
<text x="26.3" y="287.9" font-size="8.7" text-anchor="middle" dominant-baseline="central" font-weight="normal" fill="#000" transform="rotate(-90 26.3 287.9)">0</text>
<line x1="35.9" y1="270.26" x2="41.1" y2="270.26" stroke="#333" stroke-width="1"/>
<text x="26.3" y="270.26" font-size="8.7" text-anchor="middle" dominant-baseline="central" font-weight="normal" fill="#000" transform="rotate(-90 26.3 270.26)">2</text>
<line x1="35.9" y1="252.62" x2="41.1" y2="252.62" stroke="#333" stroke-width="1"/>
<text x="26.3" y="252.61999999999998" font-size="8.7" text-anchor="middle" dominant-baseline="central" font-weight="normal" fill="#000" transform="rotate(-90 26.3 252.61999999999998)">4</text>
<line x1="35.9" y1="234.98" x2="41.1" y2="234.98" stroke="#333" stroke-width="1"/>
<text x="26.3" y="234.97999999999996" font-size="8.7" text-anchor="middle" dominant-baseline="central" font-weight="normal" fill="#000" transform="rotate(-90 26.3 234.97999999999996)">6</text>
<line x1="35.9" y1="217.34" x2="41.1" y2="217.34" stroke="#333" stroke-width="1"/>
<text x="26.3" y="217.33999999999997" font-size="8.7" text-anchor="middle" dominant-baseline="central" font-weight="normal" fill="#000" transform="rotate(-90 26.3 217.33999999999997)">8</text>
<line x1="35.9" y1="199.70" x2="41.1" y2="199.70" stroke="#333" stroke-width="1"/>
<text x="26.3" y="199.7" font-size="8.7" text-anchor="middle" dominant-baseline="central" font-weight="normal" fill="#000" transform="rotate(-90 26.3 199.7)">10</text>
<line x1="35.9" y1="182.06" x2="41.1" y2="182.06" stroke="#333" stroke-width="1"/>
<text x="26.3" y="182.05999999999997" font-size="8.7" text-anchor="middle" dominant-baseline="central" font-weight="normal" fill="#000" transform="rotate(-90 26.3 182.05999999999997)">12</text>
<line x1="51.60" y1="291.1" x2="51.60" y2="296.3" stroke="#333" stroke-width="1"/>
<text x="51.1" y="306.5" font-size="8.7" text-anchor="middle" dominant-baseline="central" font-weight="normal" fill="#000">0</text>
<line x1="101.85" y1="291.1" x2="101.85" y2="296.3" stroke="#333" stroke-width="1"/>
<text x="101.5" y="306.5" font-size="8.7" text-anchor="middle" dominant-baseline="central" font-weight="normal" fill="#000">50</text>
<line x1="152.10" y1="291.1" x2="152.10" y2="296.3" stroke="#333" stroke-width="1"/>
<text x="162.3" y="306.5" font-size="8.7" text-anchor="middle" dominant-baseline="central" font-weight="normal" fill="#000">100</text>
<line x1="202.35" y1="291.1" x2="202.35" y2="296.3" stroke="#333" stroke-width="1"/>
<text x="212.2" y="306.5" font-size="8.7" text-anchor="middle" dominant-baseline="central" font-weight="normal" fill="#000">150</text>
<line x1="252.60" y1="291.1" x2="252.60" y2="296.3" stroke="#333" stroke-width="1"/>
<text x="252.1" y="306.5" font-size="8.7" text-anchor="middle" dominant-baseline="central" font-weight="normal" fill="#000">200</text>
<line x1="302.85" y1="291.1" x2="302.85" y2="296.3" stroke="#333" stroke-width="1"/>
<text x="303" y="306.5" font-size="8.7" text-anchor="middle" dominant-baseline="central" font-weight="normal" fill="#000">250</text>
<text x="187.2" y="326.9" font-size="8.45" text-anchor="middle" dominant-baseline="central" font-weight="normal" fill="#000">Patients (increasing risk score)</text>
<text x="6.6" y="235.7" font-size="8.5" text-anchor="middle" dominant-baseline="central" font-weight="normal" fill="#000" transform="rotate(-90 6.6 235.7)">Survival time (years)</text>
<circle cx="50.5" cy="193.7" r="2.6" fill="#7B22D0"/>
<circle cx="50.5" cy="206.0" r="2.6" fill="#48D1CC"/>
<text x="59.6" y="193.7" font-size="9.6" text-anchor="start" dominant-baseline="central" font-weight="normal" fill="#000">Dead</text>
<text x="59.6" y="206.0" font-size="9.6" text-anchor="start" dominant-baseline="central" font-weight="normal" fill="#000">Alive</text>
<text x="340.04" y="179.65" font-size="16.5" fill="#000" stroke="#000" stroke-width="0.45" transform="translate(340.04 0) scale(0.69 1) translate(-340.04 0)">E</text>
<circle cx="401.84" cy="267.64" r="2.1" fill="#48D1CC"/>
<circle cx="404.64" cy="263.33" r="2.1" fill="#48D1CC"/>
<circle cx="406.80" cy="242.88" r="2.1" fill="#48D1CC"/>
<circle cx="409.38" cy="247.40" r="2.1" fill="#48D1CC"/>
<circle cx="411.53" cy="261.83" r="2.1" fill="#48D1CC"/>
<circle cx="414.12" cy="271.95" r="2.1" fill="#48D1CC"/>
<circle cx="416.49" cy="256.01" r="2.1" fill="#48D1CC"/>
<circle cx="419.07" cy="279.05" r="2.1" fill="#48D1CC"/>
<circle cx="421.65" cy="282.93" r="2.1" fill="#48D1CC"/>
<circle cx="423.81" cy="277.33" r="2.1" fill="#48D1CC"/>
<circle cx="426.18" cy="263.98" r="2.1" fill="#48D1CC"/>
<circle cx="428.76" cy="274.10" r="2.1" fill="#48D1CC"/>
<circle cx="430.91" cy="229.10" r="2.1" fill="#48D1CC"/>
<circle cx="433.50" cy="262.90" r="2.1" fill="#48D1CC"/>
<circle cx="435.87" cy="277.98" r="2.1" fill="#48D1CC"/>
<circle cx="438.45" cy="273.24" r="2.1" fill="#48D1CC"/>
<circle cx="440.82" cy="195.72" r="2.1" fill="#48D1CC"/>
<circle cx="443.19" cy="254.94" r="2.1" fill="#48D1CC"/>
<circle cx="445.99" cy="276.47" r="2.1" fill="#48D1CC"/>
<circle cx="448.14" cy="281.85" r="2.1" fill="#48D1CC"/>
<circle cx="450.72" cy="277.98" r="2.1" fill="#48D1CC"/>
<circle cx="452.88" cy="221.99" r="2.1" fill="#48D1CC"/>
<circle cx="455.68" cy="279.05" r="2.1" fill="#48D1CC"/>
<circle cx="457.83" cy="277.33" r="2.1" fill="#48D1CC"/>
<circle cx="459.98" cy="275.82" r="2.1" fill="#48D1CC"/>
<circle cx="462.57" cy="270.87" r="2.1" fill="#48D1CC"/>
<circle cx="464.94" cy="286.16" r="2.1" fill="#48D1CC"/>
<circle cx="467.09" cy="231.03" r="2.1" fill="#48D1CC"/>
<circle cx="470.10" cy="229.10" r="2.1" fill="#48D1CC"/>
<circle cx="471.83" cy="266.56" r="2.1" fill="#48D1CC"/>
<circle cx="474.41" cy="268.72" r="2.1" fill="#48D1CC"/>
<circle cx="476.56" cy="272.16" r="2.1" fill="#48D1CC"/>
<circle cx="478.29" cy="273.67" r="2.1" fill="#48D1CC"/>
<circle cx="481.89" cy="255.37" r="2.1" fill="#48D1CC"/>
<circle cx="489.00" cy="259.24" r="2.1" fill="#48D1CC"/>
<circle cx="491.80" cy="277.33" r="2.1" fill="#48D1CC"/>
<circle cx="496.53" cy="257.95" r="2.1" fill="#48D1CC"/>
<circle cx="499.12" cy="272.59" r="2.1" fill="#48D1CC"/>
<circle cx="501.27" cy="268.72" r="2.1" fill="#48D1CC"/>
<circle cx="503.64" cy="238.14" r="2.1" fill="#48D1CC"/>
<circle cx="506.22" cy="271.95" r="2.1" fill="#48D1CC"/>
<circle cx="513.33" cy="228.66" r="2.1" fill="#48D1CC"/>
<circle cx="515.91" cy="272.59" r="2.1" fill="#48D1CC"/>
<circle cx="518.07" cy="185.38" r="2.1" fill="#48D1CC"/>
<circle cx="520.65" cy="274.10" r="2.1" fill="#48D1CC"/>
<circle cx="522.80" cy="279.05" r="2.1" fill="#48D1CC"/>
<circle cx="525.60" cy="272.59" r="2.1" fill="#48D1CC"/>
<circle cx="527.76" cy="286.80" r="2.1" fill="#48D1CC"/>
<circle cx="529.91" cy="278.62" r="2.1" fill="#48D1CC"/>
<circle cx="532.71" cy="275.18" r="2.1" fill="#48D1CC"/>
<circle cx="539.60" cy="265.70" r="2.1" fill="#48D1CC"/>
<circle cx="542.40" cy="262.90" r="2.1" fill="#48D1CC"/>
<circle cx="544.98" cy="286.16" r="2.1" fill="#48D1CC"/>
<circle cx="549.50" cy="248.91" r="2.1" fill="#48D1CC"/>
<circle cx="554.67" cy="278.62" r="2.1" fill="#48D1CC"/>
<circle cx="556.83" cy="279.05" r="2.1" fill="#48D1CC"/>
<circle cx="558.98" cy="270.44" r="2.1" fill="#48D1CC"/>
<circle cx="563.72" cy="286.80" r="2.1" fill="#48D1CC"/>
<circle cx="566.47" cy="280.22" r="2.1" fill="#48D1CC"/>
<circle cx="569.05" cy="279.57" r="2.1" fill="#48D1CC"/>
<circle cx="571.85" cy="273.75" r="2.1" fill="#48D1CC"/>
<circle cx="574.01" cy="273.10" r="2.1" fill="#48D1CC"/>
<circle cx="576.16" cy="280.86" r="2.1" fill="#48D1CC"/>
<circle cx="578.75" cy="219.87" r="2.1" fill="#48D1CC"/>
<circle cx="580.91" cy="258.45" r="2.1" fill="#48D1CC"/>
<circle cx="583.71" cy="278.28" r="2.1" fill="#48D1CC"/>
<circle cx="585.86" cy="244.22" r="2.1" fill="#48D1CC"/>
<circle cx="588.02" cy="281.72" r="2.1" fill="#48D1CC"/>
<circle cx="590.82" cy="278.06" r="2.1" fill="#48D1CC"/>
<circle cx="595.56" cy="279.14" r="2.1" fill="#48D1CC"/>
<circle cx="597.93" cy="266.21" r="2.1" fill="#48D1CC"/>
<circle cx="602.67" cy="274.18" r="2.1" fill="#48D1CC"/>
<circle cx="605.26" cy="274.40" r="2.1" fill="#48D1CC"/>
<circle cx="607.84" cy="286.90" r="2.1" fill="#48D1CC"/>
<circle cx="612.59" cy="276.98" r="2.1" fill="#48D1CC"/>
<circle cx="617.11" cy="261.03" r="2.1" fill="#48D1CC"/>
<circle cx="622.07" cy="261.47" r="2.1" fill="#48D1CC"/>
<circle cx="624.66" cy="261.03" r="2.1" fill="#48D1CC"/>
<circle cx="627.24" cy="190.78" r="2.1" fill="#48D1CC"/>
<circle cx="629.40" cy="278.71" r="2.1" fill="#48D1CC"/>
<circle cx="634.35" cy="250.69" r="2.1" fill="#48D1CC"/>
<circle cx="639.31" cy="266.85" r="2.1" fill="#48D1CC"/>
<circle cx="648.79" cy="279.57" r="2.1" fill="#48D1CC"/>
<circle cx="653.75" cy="279.14" r="2.1" fill="#48D1CC"/>
<circle cx="658.71" cy="249.61" r="2.1" fill="#48D1CC"/>
<circle cx="663.45" cy="276.98" r="2.1" fill="#48D1CC"/>
<circle cx="670.34" cy="270.95" r="2.1" fill="#48D1CC"/>
<circle cx="673.15" cy="272.03" r="2.1" fill="#48D1CC"/>
<circle cx="484.26" cy="245.68" r="2.1" fill="#7B22D0"/>
<circle cx="486.84" cy="261.83" r="2.1" fill="#7B22D0"/>
<circle cx="493.95" cy="248.91" r="2.1" fill="#7B22D0"/>
<circle cx="508.38" cy="277.55" r="2.1" fill="#7B22D0"/>
<circle cx="510.96" cy="283.79" r="2.1" fill="#7B22D0"/>
<circle cx="535.29" cy="253.64" r="2.1" fill="#7B22D0"/>
<circle cx="537.45" cy="279.48" r="2.1" fill="#7B22D0"/>
<circle cx="547.35" cy="239.22" r="2.1" fill="#7B22D0"/>
<circle cx="552.09" cy="273.02" r="2.1" fill="#7B22D0"/>
<circle cx="561.56" cy="270.87" r="2.1" fill="#7B22D0"/>
<circle cx="592.97" cy="284.31" r="2.1" fill="#7B22D0"/>
<circle cx="600.30" cy="272.24" r="2.1" fill="#7B22D0"/>
<circle cx="610.00" cy="280.00" r="2.1" fill="#7B22D0"/>
<circle cx="614.96" cy="262.76" r="2.1" fill="#7B22D0"/>
<circle cx="619.91" cy="286.47" r="2.1" fill="#7B22D0"/>
<circle cx="631.98" cy="218.79" r="2.1" fill="#7B22D0"/>
<circle cx="636.72" cy="272.24" r="2.1" fill="#7B22D0"/>
<circle cx="641.47" cy="230.22" r="2.1" fill="#7B22D0"/>
<circle cx="644.05" cy="286.90" r="2.1" fill="#7B22D0"/>
<circle cx="646.42" cy="270.95" r="2.1" fill="#7B22D0"/>
<circle cx="651.38" cy="286.68" r="2.1" fill="#7B22D0"/>
<circle cx="656.12" cy="279.14" r="2.1" fill="#7B22D0"/>
<circle cx="660.86" cy="260.82" r="2.1" fill="#7B22D0"/>
<circle cx="665.60" cy="283.66" r="2.1" fill="#7B22D0"/>
<circle cx="668.19" cy="284.09" r="2.1" fill="#7B22D0"/>
<line x1="530.4" y1="181.4" x2="530.4" y2="291.0" stroke="#444" stroke-width="0.9" stroke-dasharray="2.2 2.3"/>
<rect x="391.7" y="181.4" width="292.2" height="109.6" fill="none" stroke="#555" stroke-width="1"/>
<line x1="386.5" y1="287.20" x2="391.7" y2="287.20" stroke="#333" stroke-width="1"/>
<text x="376.3" y="287.2" font-size="8.7" text-anchor="middle" dominant-baseline="central" font-weight="normal" fill="#000" transform="rotate(-90 376.3 287.2)">0</text>
<line x1="386.5" y1="270.70" x2="391.7" y2="270.70" stroke="#333" stroke-width="1"/>
<text x="376.3" y="270.7" font-size="8.7" text-anchor="middle" dominant-baseline="central" font-weight="normal" fill="#000" transform="rotate(-90 376.3 270.7)">2</text>
<line x1="386.5" y1="254.20" x2="391.7" y2="254.20" stroke="#333" stroke-width="1"/>
<text x="376.3" y="254.2" font-size="8.7" text-anchor="middle" dominant-baseline="central" font-weight="normal" fill="#000" transform="rotate(-90 376.3 254.2)">4</text>
<line x1="386.5" y1="237.70" x2="391.7" y2="237.70" stroke="#333" stroke-width="1"/>
<text x="376.3" y="237.7" font-size="8.7" text-anchor="middle" dominant-baseline="central" font-weight="normal" fill="#000" transform="rotate(-90 376.3 237.7)">6</text>
<line x1="386.5" y1="221.20" x2="391.7" y2="221.20" stroke="#333" stroke-width="1"/>
<text x="376.3" y="221.2" font-size="8.7" text-anchor="middle" dominant-baseline="central" font-weight="normal" fill="#000" transform="rotate(-90 376.3 221.2)">8</text>
<line x1="386.5" y1="204.70" x2="391.7" y2="204.70" stroke="#333" stroke-width="1"/>
<text x="376.3" y="204.7" font-size="8.7" text-anchor="middle" dominant-baseline="central" font-weight="normal" fill="#000" transform="rotate(-90 376.3 204.7)">10</text>
<line x1="386.5" y1="188.20" x2="391.7" y2="188.20" stroke="#333" stroke-width="1"/>
<text x="376.3" y="188.2" font-size="8.7" text-anchor="middle" dominant-baseline="central" font-weight="normal" fill="#000" transform="rotate(-90 376.3 188.2)">12</text>
<line x1="399.60" y1="291.0" x2="399.60" y2="296.2" stroke="#333" stroke-width="1"/>
<text x="400" y="306.3" font-size="8.7" text-anchor="middle" dominant-baseline="central" font-weight="normal" fill="#000">0</text>
<line x1="448.00" y1="291.0" x2="448.00" y2="296.2" stroke="#333" stroke-width="1"/>
<text x="448.1" y="306.3" font-size="8.7" text-anchor="middle" dominant-baseline="central" font-weight="normal" fill="#000">20</text>
<line x1="496.40" y1="291.0" x2="496.40" y2="296.2" stroke="#333" stroke-width="1"/>
<text x="495.8" y="306.3" font-size="8.7" text-anchor="middle" dominant-baseline="central" font-weight="normal" fill="#000">40</text>
<line x1="544.80" y1="291.0" x2="544.80" y2="296.2" stroke="#333" stroke-width="1"/>
<text x="544" y="306.3" font-size="8.7" text-anchor="middle" dominant-baseline="central" font-weight="normal" fill="#000">60</text>
<line x1="593.20" y1="291.0" x2="593.20" y2="296.2" stroke="#333" stroke-width="1"/>
<text x="593.2" y="306.3" font-size="8.7" text-anchor="middle" dominant-baseline="central" font-weight="normal" fill="#000">80</text>
<line x1="641.60" y1="291.0" x2="641.60" y2="296.2" stroke="#333" stroke-width="1"/>
<text x="641.9" y="306.3" font-size="8.7" text-anchor="middle" dominant-baseline="central" font-weight="normal" fill="#000">100</text>
<text x="537.8" y="327.0" font-size="8.45" text-anchor="middle" dominant-baseline="central" font-weight="normal" fill="#000">Patients (increasing risk score)</text>
<text x="355.8" y="235.9" font-size="8.5" text-anchor="middle" dominant-baseline="central" font-weight="normal" fill="#000" transform="rotate(-90 355.8 235.9)">Survival time (years)</text>
<circle cx="400.2" cy="193.7" r="2.6" fill="#7B22D0"/>
<circle cx="400.2" cy="205.8" r="2.6" fill="#48D1CC"/>
<text x="409.5" y="193.7" font-size="9.6" text-anchor="start" dominant-baseline="central" font-weight="normal" fill="#000">Dead</text>
<text x="409.5" y="205.8" font-size="9.6" text-anchor="start" dominant-baseline="central" font-weight="normal" fill="#000">Alive</text>
<text x="9.77" y="329.8" font-size="16.5" fill="#000" stroke="#000" stroke-width="0.45" transform="translate(9.77 0) scale(0.83 1) translate(-9.77 0)">C</text>
<rect x="1.0" y="346.1" width="132.45" height="4.7999999999999545" fill="#48D1CC"/>
<rect x="133.45" y="346.1" width="132.45" height="4.7999999999999545" fill="#7B22D0"/>
<g shape-rendering="crispEdges">
<rect x="1.000" y="352.60" width="1.001" height="25.65" fill="#7d98ea"/>
<rect x="1.981" y="352.60" width="1.001" height="25.65" fill="#8fa6ed"/>
<rect x="2.962" y="352.60" width="1.001" height="25.65" fill="#abbdf2"/>
<rect x="3.943" y="352.60" width="1.001" height="25.65" fill="#456ce2"/>
<rect x="4.924" y="352.60" width="1.001" height="25.65" fill="#6082e6"/>
<rect x="5.906" y="352.60" width="1.001" height="25.65" fill="#b4c4f3"/>
<rect x="6.887" y="352.60" width="1.001" height="25.65" fill="#577be5"/>
<rect x="7.868" y="352.60" width="1.001" height="25.65" fill="#7390e9"/>
<rect x="8.849" y="352.60" width="1.001" height="25.65" fill="#cdd7f7"/>
<rect x="9.830" y="352.60" width="1.001" height="25.65" fill="#ccd7f7"/>
<rect x="10.811" y="352.60" width="1.001" height="25.65" fill="#5578e4"/>
<rect x="11.792" y="352.60" width="1.001" height="25.65" fill="#7390e9"/>
<rect x="12.773" y="352.60" width="1.001" height="25.65" fill="#4169e1"/>
<rect x="13.754" y="352.60" width="1.001" height="25.65" fill="#6d8be8"/>
<rect x="14.736" y="352.60" width="1.001" height="25.65" fill="#aebff2"/>
<rect x="15.717" y="352.60" width="1.001" height="25.65" fill="#7e99eb"/>
<rect x="16.698" y="352.60" width="1.001" height="25.65" fill="#e4eafb"/>
<rect x="17.679" y="352.60" width="1.001" height="25.65" fill="#7c98ea"/>
<rect x="18.660" y="352.60" width="1.001" height="25.65" fill="#577ae4"/>
<rect x="19.641" y="352.60" width="1.001" height="25.65" fill="#8aa3ed"/>
<rect x="20.622" y="352.60" width="1.001" height="25.65" fill="#819ceb"/>
<rect x="21.603" y="352.60" width="1.001" height="25.65" fill="#5579e4"/>
<rect x="22.584" y="352.60" width="1.001" height="25.65" fill="#859fec"/>
<rect x="23.566" y="352.60" width="1.001" height="25.65" fill="#a2b5f0"/>
<rect x="24.547" y="352.60" width="1.001" height="25.65" fill="#4169e1"/>
<rect x="25.528" y="352.60" width="1.001" height="25.65" fill="#ecaad4"/>
<rect x="26.509" y="352.60" width="1.001" height="25.65" fill="#f6d8eb"/>
<rect x="27.490" y="352.60" width="1.001" height="25.65" fill="#839deb"/>
<rect x="28.471" y="352.60" width="1.001" height="25.65" fill="#e899cb"/>
<rect x="29.452" y="352.60" width="1.001" height="25.65" fill="#9eb3f0"/>
<rect x="30.433" y="352.60" width="1.001" height="25.65" fill="#fef9fc"/>
<rect x="31.414" y="352.60" width="1.001" height="25.65" fill="#4169e1"/>
<rect x="32.396" y="352.60" width="1.001" height="25.65" fill="#b0c0f2"/>
<rect x="33.377" y="352.60" width="1.001" height="25.65" fill="#c4d1f6"/>
<rect x="34.358" y="352.60" width="1.001" height="25.65" fill="#4169e1"/>
<rect x="35.339" y="352.60" width="1.001" height="25.65" fill="#fefcfe"/>
<rect x="36.320" y="352.60" width="1.001" height="25.65" fill="#4169e1"/>
<rect x="37.301" y="352.60" width="1.001" height="25.65" fill="#5f81e6"/>
<rect x="38.282" y="352.60" width="1.001" height="25.65" fill="#b2c2f3"/>
<rect x="39.263" y="352.60" width="1.001" height="25.65" fill="#faebf5"/>
<rect x="40.244" y="352.60" width="1.001" height="25.65" fill="#7e9aeb"/>
<rect x="41.226" y="352.60" width="1.001" height="25.65" fill="#4169e1"/>
<rect x="42.207" y="352.60" width="1.001" height="25.65" fill="#c3d0f6"/>
<rect x="43.188" y="352.60" width="1.001" height="25.65" fill="#708ee8"/>
<rect x="44.169" y="352.60" width="1.001" height="25.65" fill="#dbe2f9"/>
<rect x="45.150" y="352.60" width="1.001" height="25.65" fill="#839deb"/>
<rect x="46.131" y="352.60" width="1.001" height="25.65" fill="#d6dff9"/>
<rect x="47.112" y="352.60" width="1.001" height="25.65" fill="#466de2"/>
<rect x="48.093" y="352.60" width="1.001" height="25.65" fill="#e4e9fb"/>
<rect x="49.074" y="352.60" width="1.001" height="25.65" fill="#f7ddee"/>
<rect x="50.056" y="352.60" width="1.001" height="25.65" fill="#4169e1"/>
<rect x="51.037" y="352.60" width="1.001" height="25.65" fill="#9eb3f0"/>
<rect x="52.018" y="352.60" width="1.001" height="25.65" fill="#eef1fc"/>
<rect x="52.999" y="352.60" width="1.001" height="25.65" fill="#c8d4f6"/>
<rect x="53.980" y="352.60" width="1.001" height="25.65" fill="#eaa1cf"/>
<rect x="54.961" y="352.60" width="1.001" height="25.65" fill="#abbcf2"/>
<rect x="55.942" y="352.60" width="1.001" height="25.65" fill="#e4eafb"/>
<rect x="56.923" y="352.60" width="1.001" height="25.65" fill="#f3f6fd"/>
<rect x="57.904" y="352.60" width="1.001" height="25.65" fill="#8da5ed"/>
<rect x="58.886" y="352.60" width="1.001" height="25.65" fill="#b4c4f3"/>
<rect x="59.867" y="352.60" width="1.001" height="25.65" fill="#b5c5f3"/>
<rect x="60.848" y="352.60" width="1.001" height="25.65" fill="#dde4fa"/>
<rect x="61.829" y="352.60" width="1.001" height="25.65" fill="#bbcaf4"/>
<rect x="62.810" y="352.60" width="1.001" height="25.65" fill="#a2b5f0"/>
<rect x="63.791" y="352.60" width="1.001" height="25.65" fill="#e179bb"/>
<rect x="64.772" y="352.60" width="1.001" height="25.65" fill="#c0cdf5"/>
<rect x="65.753" y="352.60" width="1.001" height="25.65" fill="#eef1fc"/>
<rect x="66.734" y="352.60" width="1.001" height="25.65" fill="#4169e1"/>
<rect x="67.716" y="352.60" width="1.001" height="25.65" fill="#6f8de8"/>
<rect x="68.697" y="352.60" width="1.001" height="25.65" fill="#f5d2e8"/>
<rect x="69.678" y="352.60" width="1.001" height="25.65" fill="#d4ddf8"/>
<rect x="70.659" y="352.60" width="1.001" height="25.65" fill="#6687e7"/>
<rect x="71.640" y="352.60" width="1.001" height="25.65" fill="#f1c0df"/>
<rect x="72.621" y="352.60" width="1.001" height="25.65" fill="#ffffff"/>
<rect x="73.602" y="352.60" width="1.001" height="25.65" fill="#98aeef"/>
<rect x="74.583" y="352.60" width="1.001" height="25.65" fill="#f2c3e1"/>
<rect x="75.564" y="352.60" width="1.001" height="25.65" fill="#4169e1"/>
<rect x="76.546" y="352.60" width="1.001" height="25.65" fill="#f2c5e2"/>
<rect x="77.527" y="352.60" width="1.001" height="25.65" fill="#fefbfd"/>
<rect x="78.508" y="352.60" width="1.001" height="25.65" fill="#e99dcd"/>
<rect x="79.489" y="352.60" width="1.001" height="25.65" fill="#b3c3f3"/>
<rect x="80.470" y="352.60" width="1.001" height="25.65" fill="#6b8ae8"/>
<rect x="81.451" y="352.60" width="1.001" height="25.65" fill="#fdf6fa"/>
<rect x="82.432" y="352.60" width="1.001" height="25.65" fill="#f4f7fd"/>
<rect x="83.413" y="352.60" width="1.001" height="25.65" fill="#f9e5f2"/>
<rect x="84.394" y="352.60" width="1.001" height="25.65" fill="#ced9f7"/>
<rect x="85.376" y="352.60" width="1.001" height="25.65" fill="#fefcfd"/>
<rect x="86.357" y="352.60" width="1.001" height="25.65" fill="#f9e4f1"/>
<rect x="87.338" y="352.60" width="1.001" height="25.65" fill="#7290e9"/>
<rect x="88.319" y="352.60" width="1.001" height="25.65" fill="#c4d0f6"/>
<rect x="89.300" y="352.60" width="1.001" height="25.65" fill="#e5eafb"/>
<rect x="90.281" y="352.60" width="1.001" height="25.65" fill="#dee5fa"/>
<rect x="91.262" y="352.60" width="1.001" height="25.65" fill="#a4b8f1"/>
<rect x="92.243" y="352.60" width="1.001" height="25.65" fill="#e0e6fa"/>
<rect x="93.224" y="352.60" width="1.001" height="25.65" fill="#6182e6"/>
<rect x="94.206" y="352.60" width="1.001" height="25.65" fill="#7a96ea"/>
<rect x="95.187" y="352.60" width="1.001" height="25.65" fill="#f3cbe5"/>
<rect x="96.168" y="352.60" width="1.001" height="25.65" fill="#f9e4f1"/>
<rect x="97.149" y="352.60" width="1.001" height="25.65" fill="#5c7ee5"/>
<rect x="98.130" y="352.60" width="1.001" height="25.65" fill="#f3c9e4"/>
<rect x="99.111" y="352.60" width="1.001" height="25.65" fill="#f3c8e3"/>
<rect x="100.092" y="352.60" width="1.001" height="25.65" fill="#c7d3f6"/>
<rect x="101.073" y="352.60" width="1.001" height="25.65" fill="#eaeefc"/>
<rect x="102.054" y="352.60" width="1.001" height="25.65" fill="#df6fb6"/>
<rect x="103.036" y="352.60" width="1.001" height="25.65" fill="#f4d0e7"/>
<rect x="104.017" y="352.60" width="1.001" height="25.65" fill="#f1f4fd"/>
<rect x="104.998" y="352.60" width="1.001" height="25.65" fill="#b7c6f4"/>
<rect x="105.979" y="352.60" width="1.001" height="25.65" fill="#fef8fc"/>
<rect x="106.960" y="352.60" width="1.001" height="25.65" fill="#b5c5f3"/>
<rect x="107.941" y="352.60" width="1.001" height="25.65" fill="#829ceb"/>
<rect x="108.922" y="352.60" width="1.001" height="25.65" fill="#e5ebfb"/>
<rect x="109.903" y="352.60" width="1.001" height="25.65" fill="#f1c1e0"/>
<rect x="110.884" y="352.60" width="1.001" height="25.65" fill="#c9d4f6"/>
<rect x="111.866" y="352.60" width="1.001" height="25.65" fill="#9bb0ef"/>
<rect x="112.847" y="352.60" width="1.001" height="25.65" fill="#f1c2e0"/>
<rect x="113.828" y="352.60" width="1.001" height="25.65" fill="#fcf0f7"/>
<rect x="114.809" y="352.60" width="1.001" height="25.65" fill="#fbeef7"/>
<rect x="115.790" y="352.60" width="1.001" height="25.65" fill="#eca8d3"/>
<rect x="116.771" y="352.60" width="1.001" height="25.65" fill="#f6f8fe"/>
<rect x="117.752" y="352.60" width="1.001" height="25.65" fill="#fae8f3"/>
<rect x="118.733" y="352.60" width="1.001" height="25.65" fill="#f6d7eb"/>
<rect x="119.714" y="352.60" width="1.001" height="25.65" fill="#bbc9f4"/>
<rect x="120.696" y="352.60" width="1.001" height="25.65" fill="#d1dbf8"/>
<rect x="121.677" y="352.60" width="1.001" height="25.65" fill="#eca9d3"/>
<rect x="122.658" y="352.60" width="1.001" height="25.65" fill="#c4d0f6"/>
<rect x="123.639" y="352.60" width="1.001" height="25.65" fill="#7693e9"/>
<rect x="124.620" y="352.60" width="1.001" height="25.65" fill="#fdf4f9"/>
<rect x="125.601" y="352.60" width="1.001" height="25.65" fill="#b5c4f3"/>
<rect x="126.582" y="352.60" width="1.001" height="25.65" fill="#adbef2"/>
<rect x="127.563" y="352.60" width="1.001" height="25.65" fill="#f8dfef"/>
<rect x="128.544" y="352.60" width="1.001" height="25.65" fill="#88a1ec"/>
<rect x="129.526" y="352.60" width="1.001" height="25.65" fill="#f2f5fd"/>
<rect x="130.507" y="352.60" width="1.001" height="25.65" fill="#e9eefc"/>
<rect x="131.488" y="352.60" width="1.001" height="25.65" fill="#eaeefc"/>
<rect x="132.469" y="352.60" width="1.001" height="25.65" fill="#a2b6f0"/>
<rect x="133.450" y="352.60" width="1.001" height="25.65" fill="#e89acc"/>
<rect x="134.431" y="352.60" width="1.001" height="25.65" fill="#df71b7"/>
<rect x="135.412" y="352.60" width="1.001" height="25.65" fill="#f6d7eb"/>
<rect x="136.393" y="352.60" width="1.001" height="25.65" fill="#e7ecfb"/>
<rect x="137.374" y="352.60" width="1.001" height="25.65" fill="#b9c8f4"/>
<rect x="138.356" y="352.60" width="1.001" height="25.65" fill="#ccd6f7"/>
<rect x="139.337" y="352.60" width="1.001" height="25.65" fill="#f7dbed"/>
<rect x="140.318" y="352.60" width="1.001" height="25.65" fill="#fdf5fa"/>
<rect x="141.299" y="352.60" width="1.001" height="25.65" fill="#adbef2"/>
<rect x="142.280" y="352.60" width="1.001" height="25.65" fill="#fbecf5"/>
<rect x="143.261" y="352.60" width="1.001" height="25.65" fill="#f5d4e9"/>
<rect x="144.242" y="352.60" width="1.001" height="25.65" fill="#a7b9f1"/>
<rect x="145.223" y="352.60" width="1.001" height="25.65" fill="#d74ba4"/>
<rect x="146.204" y="352.60" width="1.001" height="25.65" fill="#e4eafb"/>
<rect x="147.186" y="352.60" width="1.001" height="25.65" fill="#adbff2"/>
<rect x="148.167" y="352.60" width="1.001" height="25.65" fill="#f4cde6"/>
<rect x="149.148" y="352.60" width="1.001" height="25.65" fill="#fae7f3"/>
<rect x="150.129" y="352.60" width="1.001" height="25.65" fill="#f4f6fd"/>
<rect x="151.110" y="352.60" width="1.001" height="25.65" fill="#fffeff"/>
<rect x="152.091" y="352.60" width="1.001" height="25.65" fill="#f5f7fd"/>
<rect x="153.072" y="352.60" width="1.001" height="25.65" fill="#f1bfde"/>
<rect x="154.053" y="352.60" width="1.001" height="25.65" fill="#b1c2f3"/>
<rect x="155.034" y="352.60" width="1.001" height="25.65" fill="#d74da5"/>
<rect x="156.016" y="352.60" width="1.001" height="25.65" fill="#fdf7fb"/>
<rect x="156.997" y="352.60" width="1.001" height="25.65" fill="#7693e9"/>
<rect x="157.978" y="352.60" width="1.001" height="25.65" fill="#eaa0cf"/>
<rect x="158.959" y="352.60" width="1.001" height="25.65" fill="#f0bede"/>
<rect x="159.940" y="352.60" width="1.001" height="25.65" fill="#f7d9ec"/>
<rect x="160.921" y="352.60" width="1.001" height="25.65" fill="#fdf6fa"/>
<rect x="161.902" y="352.60" width="1.001" height="25.65" fill="#f5d2e8"/>
<rect x="162.883" y="352.60" width="1.001" height="25.65" fill="#f0bede"/>
<rect x="163.864" y="352.60" width="1.001" height="25.65" fill="#f2c5e2"/>
<rect x="164.846" y="352.60" width="1.001" height="25.65" fill="#e7ecfb"/>
<rect x="165.827" y="352.60" width="1.001" height="25.65" fill="#faebf5"/>
<rect x="166.808" y="352.60" width="1.001" height="25.65" fill="#f6d8eb"/>
<rect x="167.789" y="352.60" width="1.001" height="25.65" fill="#e793c8"/>
<rect x="168.770" y="352.60" width="1.001" height="25.65" fill="#e99dcd"/>
<rect x="169.751" y="352.60" width="1.001" height="25.65" fill="#f3cbe5"/>
<rect x="170.732" y="352.60" width="1.001" height="25.65" fill="#d3dcf8"/>
<rect x="171.713" y="352.60" width="1.001" height="25.65" fill="#fae8f4"/>
<rect x="172.694" y="352.60" width="1.001" height="25.65" fill="#f3c9e3"/>
<rect x="173.676" y="352.60" width="1.001" height="25.65" fill="#efb8db"/>
<rect x="174.657" y="352.60" width="1.001" height="25.65" fill="#f1c3e0"/>
<rect x="175.638" y="352.60" width="1.001" height="25.65" fill="#f1c1e0"/>
<rect x="176.619" y="352.60" width="1.001" height="25.65" fill="#e077ba"/>
<rect x="177.600" y="352.60" width="1.001" height="25.65" fill="#859fec"/>
<rect x="178.581" y="352.60" width="1.001" height="25.65" fill="#d02d95"/>
<rect x="179.562" y="352.60" width="1.001" height="25.65" fill="#fdfdff"/>
<rect x="180.543" y="352.60" width="1.001" height="25.65" fill="#d43f9e"/>
<rect x="181.524" y="352.60" width="1.001" height="25.65" fill="#e589c3"/>
<rect x="182.506" y="352.60" width="1.001" height="25.65" fill="#eba7d2"/>
<rect x="183.487" y="352.60" width="1.001" height="25.65" fill="#a6b9f1"/>
<rect x="184.468" y="352.60" width="1.001" height="25.65" fill="#fcfdff"/>
<rect x="185.449" y="352.60" width="1.001" height="25.65" fill="#c9d4f6"/>
<rect x="186.430" y="352.60" width="1.001" height="25.65" fill="#eba4d1"/>
<rect x="187.411" y="352.60" width="1.001" height="25.65" fill="#f5d1e8"/>
<rect x="188.392" y="352.60" width="1.001" height="25.65" fill="#f6f8fe"/>
<rect x="189.373" y="352.60" width="1.001" height="25.65" fill="#b4c4f3"/>
<rect x="190.354" y="352.60" width="1.001" height="25.65" fill="#fbecf5"/>
<rect x="191.336" y="352.60" width="1.001" height="25.65" fill="#f3cce5"/>
<rect x="192.317" y="352.60" width="1.001" height="25.65" fill="#f8fafe"/>
<rect x="193.298" y="352.60" width="1.001" height="25.65" fill="#f9e3f1"/>
<rect x="194.279" y="352.60" width="1.001" height="25.65" fill="#f3c9e4"/>
<rect x="195.260" y="352.60" width="1.001" height="25.65" fill="#d2dbf8"/>
<rect x="196.241" y="352.60" width="1.001" height="25.65" fill="#97adef"/>
<rect x="197.222" y="352.60" width="1.001" height="25.65" fill="#ced8f7"/>
<rect x="198.203" y="352.60" width="1.001" height="25.65" fill="#d955a9"/>
<rect x="199.184" y="352.60" width="1.001" height="25.65" fill="#f6d6ea"/>
<rect x="200.166" y="352.60" width="1.001" height="25.65" fill="#f7daec"/>
<rect x="201.147" y="352.60" width="1.001" height="25.65" fill="#f9e5f2"/>
<rect x="202.128" y="352.60" width="1.001" height="25.65" fill="#f2c6e2"/>
<rect x="203.109" y="352.60" width="1.001" height="25.65" fill="#fafbfe"/>
<rect x="204.090" y="352.60" width="1.001" height="25.65" fill="#d43f9e"/>
<rect x="205.071" y="352.60" width="1.001" height="25.65" fill="#e27cbd"/>
<rect x="206.052" y="352.60" width="1.001" height="25.65" fill="#e17bbc"/>
<rect x="207.033" y="352.60" width="1.001" height="25.65" fill="#eaa0cf"/>
<rect x="208.014" y="352.60" width="1.001" height="25.65" fill="#efb7da"/>
<rect x="208.996" y="352.60" width="1.001" height="25.65" fill="#eaa0cf"/>
<rect x="209.977" y="352.60" width="1.001" height="25.65" fill="#f4cee6"/>
<rect x="210.958" y="352.60" width="1.001" height="25.65" fill="#dd68b2"/>
<rect x="211.939" y="352.60" width="1.001" height="25.65" fill="#cc1c8c"/>
<rect x="212.920" y="352.60" width="1.001" height="25.65" fill="#f6d5ea"/>
<rect x="213.901" y="352.60" width="1.001" height="25.65" fill="#e489c3"/>
<rect x="214.882" y="352.60" width="1.001" height="25.65" fill="#de6eb5"/>
<rect x="215.863" y="352.60" width="1.001" height="25.65" fill="#e486c1"/>
<rect x="216.844" y="352.60" width="1.001" height="25.65" fill="#e486c1"/>
<rect x="217.826" y="352.60" width="1.001" height="25.65" fill="#eba6d2"/>
<rect x="218.807" y="352.60" width="1.001" height="25.65" fill="#eaa2d0"/>
<rect x="219.788" y="352.60" width="1.001" height="25.65" fill="#d13297"/>
<rect x="220.769" y="352.60" width="1.001" height="25.65" fill="#e27ebe"/>
<rect x="221.750" y="352.60" width="1.001" height="25.65" fill="#da59ab"/>
<rect x="222.731" y="352.60" width="1.001" height="25.65" fill="#eca8d3"/>
<rect x="223.712" y="352.60" width="1.001" height="25.65" fill="#cc1c8c"/>
<rect x="224.693" y="352.60" width="1.001" height="25.65" fill="#cc1c8c"/>
<rect x="225.674" y="352.60" width="1.001" height="25.65" fill="#f0bede"/>
<rect x="226.656" y="352.60" width="1.001" height="25.65" fill="#db5dad"/>
<rect x="227.637" y="352.60" width="1.001" height="25.65" fill="#fbeff7"/>
<rect x="228.618" y="352.60" width="1.001" height="25.65" fill="#d545a1"/>
<rect x="229.599" y="352.60" width="1.001" height="25.65" fill="#f8e1f0"/>
<rect x="230.580" y="352.60" width="1.001" height="25.65" fill="#dd66b1"/>
<rect x="231.561" y="352.60" width="1.001" height="25.65" fill="#d33c9c"/>
<rect x="232.542" y="352.60" width="1.001" height="25.65" fill="#eba4d1"/>
<rect x="233.523" y="352.60" width="1.001" height="25.65" fill="#efb7db"/>
<rect x="234.504" y="352.60" width="1.001" height="25.65" fill="#e179bb"/>
<rect x="235.486" y="352.60" width="1.001" height="25.65" fill="#cd218f"/>
<rect x="236.467" y="352.60" width="1.001" height="25.65" fill="#e99dcd"/>
<rect x="237.448" y="352.60" width="1.001" height="25.65" fill="#ebeffc"/>
<rect x="238.429" y="352.60" width="1.001" height="25.65" fill="#e178bb"/>
<rect x="239.410" y="352.60" width="1.001" height="25.65" fill="#e178bb"/>
<rect x="240.391" y="352.60" width="1.001" height="25.65" fill="#e690c7"/>
<rect x="241.372" y="352.60" width="1.001" height="25.65" fill="#cc1c8c"/>
<rect x="242.353" y="352.60" width="1.001" height="25.65" fill="#e896ca"/>
<rect x="243.334" y="352.60" width="1.001" height="25.65" fill="#d853a8"/>
<rect x="244.316" y="352.60" width="1.001" height="25.65" fill="#f4cfe6"/>
<rect x="245.297" y="352.60" width="1.001" height="25.65" fill="#ebeffc"/>
<rect x="246.278" y="352.60" width="1.001" height="25.65" fill="#eff2fc"/>
<rect x="247.259" y="352.60" width="1.001" height="25.65" fill="#f3cce5"/>
<rect x="248.240" y="352.60" width="1.001" height="25.65" fill="#ce2390"/>
<rect x="249.221" y="352.60" width="1.001" height="25.65" fill="#d4ddf8"/>
<rect x="250.202" y="352.60" width="1.001" height="25.65" fill="#e58dc5"/>
<rect x="251.183" y="352.60" width="1.001" height="25.65" fill="#e690c7"/>
<rect x="252.164" y="352.60" width="1.001" height="25.65" fill="#cc1c8c"/>
<rect x="253.146" y="352.60" width="1.001" height="25.65" fill="#fefbfd"/>
<rect x="254.127" y="352.60" width="1.001" height="25.65" fill="#f6d5ea"/>
<rect x="255.108" y="352.60" width="1.001" height="25.65" fill="#db5fae"/>
<rect x="256.089" y="352.60" width="1.001" height="25.65" fill="#f1bfdf"/>
<rect x="257.070" y="352.60" width="1.001" height="25.65" fill="#fbecf6"/>
<rect x="258.051" y="352.60" width="1.001" height="25.65" fill="#de6db5"/>
<rect x="259.032" y="352.60" width="1.001" height="25.65" fill="#e074b9"/>
<rect x="260.013" y="352.60" width="1.001" height="25.65" fill="#f1c0df"/>
<rect x="260.994" y="352.60" width="1.001" height="25.65" fill="#d2389a"/>
<rect x="261.976" y="352.60" width="1.001" height="25.65" fill="#db5dad"/>
<rect x="262.957" y="352.60" width="1.001" height="25.65" fill="#ce2792"/>
<rect x="263.938" y="352.60" width="1.001" height="25.65" fill="#d74ca5"/>
<rect x="264.919" y="352.60" width="1.001" height="25.65" fill="#ecacd5"/>
<rect x="1.000" y="378.23" width="1.001" height="25.65" fill="#446be1"/>
<rect x="1.981" y="378.23" width="1.001" height="25.65" fill="#819beb"/>
<rect x="2.962" y="378.23" width="1.001" height="25.65" fill="#dde5fa"/>
<rect x="3.943" y="378.23" width="1.001" height="25.65" fill="#4169e1"/>
<rect x="4.924" y="378.23" width="1.001" height="25.65" fill="#4169e1"/>
<rect x="5.906" y="378.23" width="1.001" height="25.65" fill="#a9bbf1"/>
<rect x="6.887" y="378.23" width="1.001" height="25.65" fill="#e27ebe"/>
<rect x="7.868" y="378.23" width="1.001" height="25.65" fill="#d8e0f9"/>
<rect x="8.849" y="378.23" width="1.001" height="25.65" fill="#f7daec"/>
<rect x="9.830" y="378.23" width="1.001" height="25.65" fill="#6586e7"/>
<rect x="10.811" y="378.23" width="1.001" height="25.65" fill="#dee5fa"/>
<rect x="11.792" y="378.23" width="1.001" height="25.65" fill="#f5d2e8"/>
<rect x="12.773" y="378.23" width="1.001" height="25.65" fill="#fbeef7"/>
<rect x="13.754" y="378.23" width="1.001" height="25.65" fill="#c8d3f6"/>
<rect x="14.736" y="378.23" width="1.001" height="25.65" fill="#d1daf8"/>
<rect x="15.717" y="378.23" width="1.001" height="25.65" fill="#f6d9ec"/>
<rect x="16.698" y="378.23" width="1.001" height="25.65" fill="#b8c7f4"/>
<rect x="17.679" y="378.23" width="1.001" height="25.65" fill="#e0e6fa"/>
<rect x="18.660" y="378.23" width="1.001" height="25.65" fill="#ccd6f7"/>
<rect x="19.641" y="378.23" width="1.001" height="25.65" fill="#7894ea"/>
<rect x="20.622" y="378.23" width="1.001" height="25.65" fill="#acbdf2"/>
<rect x="21.603" y="378.23" width="1.001" height="25.65" fill="#b6c5f3"/>
<rect x="22.584" y="378.23" width="1.001" height="25.65" fill="#4169e1"/>
<rect x="23.566" y="378.23" width="1.001" height="25.65" fill="#809beb"/>
<rect x="24.547" y="378.23" width="1.001" height="25.65" fill="#d1dbf8"/>
<rect x="25.528" y="378.23" width="1.001" height="25.65" fill="#7290e9"/>
<rect x="26.509" y="378.23" width="1.001" height="25.65" fill="#fae9f4"/>
<rect x="27.490" y="378.23" width="1.001" height="25.65" fill="#f9e4f2"/>
<rect x="28.471" y="378.23" width="1.001" height="25.65" fill="#aabcf2"/>
<rect x="29.452" y="378.23" width="1.001" height="25.65" fill="#fdf5fa"/>
<rect x="30.433" y="378.23" width="1.001" height="25.65" fill="#dce3f9"/>
<rect x="31.414" y="378.23" width="1.001" height="25.65" fill="#f9e2f0"/>
<rect x="32.396" y="378.23" width="1.001" height="25.65" fill="#a2b6f0"/>
<rect x="33.377" y="378.23" width="1.001" height="25.65" fill="#7693e9"/>
<rect x="34.358" y="378.23" width="1.001" height="25.65" fill="#7290e9"/>
<rect x="35.339" y="378.23" width="1.001" height="25.65" fill="#577be5"/>
<rect x="36.320" y="378.23" width="1.001" height="25.65" fill="#f8f9fe"/>
<rect x="37.301" y="378.23" width="1.001" height="25.65" fill="#6082e6"/>
<rect x="38.282" y="378.23" width="1.001" height="25.65" fill="#f3cae4"/>
<rect x="39.263" y="378.23" width="1.001" height="25.65" fill="#c9d4f6"/>
<rect x="40.244" y="378.23" width="1.001" height="25.65" fill="#5075e3"/>
<rect x="41.226" y="378.23" width="1.001" height="25.65" fill="#b3c3f3"/>
<rect x="42.207" y="378.23" width="1.001" height="25.65" fill="#eca9d3"/>
<rect x="43.188" y="378.23" width="1.001" height="25.65" fill="#bac9f4"/>
<rect x="44.169" y="378.23" width="1.001" height="25.65" fill="#fefcfd"/>
<rect x="45.150" y="378.23" width="1.001" height="25.65" fill="#bbc9f4"/>
<rect x="46.131" y="378.23" width="1.001" height="25.65" fill="#5b7de5"/>
<rect x="47.112" y="378.23" width="1.001" height="25.65" fill="#f9e6f2"/>
<rect x="48.093" y="378.23" width="1.001" height="25.65" fill="#c6d2f6"/>
<rect x="49.074" y="378.23" width="1.001" height="25.65" fill="#4169e1"/>
<rect x="50.056" y="378.23" width="1.001" height="25.65" fill="#d3dcf8"/>
<rect x="51.037" y="378.23" width="1.001" height="25.65" fill="#f6d8eb"/>
<rect x="52.018" y="378.23" width="1.001" height="25.65" fill="#8ea6ed"/>
<rect x="52.999" y="378.23" width="1.001" height="25.65" fill="#fdf5fa"/>
<rect x="53.980" y="378.23" width="1.001" height="25.65" fill="#f7dced"/>
<rect x="54.961" y="378.23" width="1.001" height="25.65" fill="#fdf4f9"/>
<rect x="55.942" y="378.23" width="1.001" height="25.65" fill="#7d98ea"/>
<rect x="56.923" y="378.23" width="1.001" height="25.65" fill="#6686e7"/>
<rect x="57.904" y="378.23" width="1.001" height="25.65" fill="#e9edfb"/>
<rect x="58.886" y="378.23" width="1.001" height="25.65" fill="#edb0d7"/>
<rect x="59.867" y="378.23" width="1.001" height="25.65" fill="#d8e0f9"/>
<rect x="60.848" y="378.23" width="1.001" height="25.65" fill="#a3b7f1"/>
<rect x="61.829" y="378.23" width="1.001" height="25.65" fill="#fcf3f9"/>
<rect x="62.810" y="378.23" width="1.001" height="25.65" fill="#dce3f9"/>
<rect x="63.791" y="378.23" width="1.001" height="25.65" fill="#809beb"/>
<rect x="64.772" y="378.23" width="1.001" height="25.65" fill="#4169e1"/>
<rect x="65.753" y="378.23" width="1.001" height="25.65" fill="#9bb0ef"/>
<rect x="66.734" y="378.23" width="1.001" height="25.65" fill="#fdf6fb"/>
<rect x="67.716" y="378.23" width="1.001" height="25.65" fill="#9eb3f0"/>
<rect x="68.697" y="378.23" width="1.001" height="25.65" fill="#9cb1ef"/>
<rect x="69.678" y="378.23" width="1.001" height="25.65" fill="#faeaf4"/>
<rect x="70.659" y="378.23" width="1.001" height="25.65" fill="#e5eafb"/>
<rect x="71.640" y="378.23" width="1.001" height="25.65" fill="#839deb"/>
<rect x="72.621" y="378.23" width="1.001" height="25.65" fill="#98aeef"/>
<rect x="73.602" y="378.23" width="1.001" height="25.65" fill="#a0b4f0"/>
<rect x="74.583" y="378.23" width="1.001" height="25.65" fill="#f9e4f1"/>
<rect x="75.564" y="378.23" width="1.001" height="25.65" fill="#f3cce5"/>
<rect x="76.546" y="378.23" width="1.001" height="25.65" fill="#f0bddd"/>
<rect x="77.527" y="378.23" width="1.001" height="25.65" fill="#718fe9"/>
<rect x="78.508" y="378.23" width="1.001" height="25.65" fill="#f4cfe7"/>
<rect x="79.489" y="378.23" width="1.001" height="25.65" fill="#4169e1"/>
<rect x="80.470" y="378.23" width="1.001" height="25.65" fill="#819beb"/>
<rect x="81.451" y="378.23" width="1.001" height="25.65" fill="#dee5fa"/>
<rect x="82.432" y="378.23" width="1.001" height="25.65" fill="#a2b5f0"/>
<rect x="83.413" y="378.23" width="1.001" height="25.65" fill="#c3cff5"/>
<rect x="84.394" y="378.23" width="1.001" height="25.65" fill="#d5ddf8"/>
<rect x="85.376" y="378.23" width="1.001" height="25.65" fill="#d4ddf8"/>
<rect x="86.357" y="378.23" width="1.001" height="25.65" fill="#91a8ee"/>
<rect x="87.338" y="378.23" width="1.001" height="25.65" fill="#fbecf5"/>
<rect x="88.319" y="378.23" width="1.001" height="25.65" fill="#cbd6f7"/>
<rect x="89.300" y="378.23" width="1.001" height="25.65" fill="#6d8ce8"/>
<rect x="90.281" y="378.23" width="1.001" height="25.65" fill="#d1dbf8"/>
<rect x="91.262" y="378.23" width="1.001" height="25.65" fill="#fbeff7"/>
<rect x="92.243" y="378.23" width="1.001" height="25.65" fill="#6e8ce8"/>
<rect x="93.224" y="378.23" width="1.001" height="25.65" fill="#fbecf5"/>
<rect x="94.206" y="378.23" width="1.001" height="25.65" fill="#a5b8f1"/>
<rect x="95.187" y="378.23" width="1.001" height="25.65" fill="#fcf4f9"/>
<rect x="96.168" y="378.23" width="1.001" height="25.65" fill="#feffff"/>
<rect x="97.149" y="378.23" width="1.001" height="25.65" fill="#eaa1cf"/>
<rect x="98.130" y="378.23" width="1.001" height="25.65" fill="#fdf7fb"/>
<rect x="99.111" y="378.23" width="1.001" height="25.65" fill="#a5b8f1"/>
<rect x="100.092" y="378.23" width="1.001" height="25.65" fill="#567ae4"/>
<rect x="101.073" y="378.23" width="1.001" height="25.65" fill="#ecf0fc"/>
<rect x="102.054" y="378.23" width="1.001" height="25.65" fill="#b6c5f3"/>
<rect x="103.036" y="378.23" width="1.001" height="25.65" fill="#eba7d3"/>
<rect x="104.017" y="378.23" width="1.001" height="25.65" fill="#fae7f3"/>
<rect x="104.998" y="378.23" width="1.001" height="25.65" fill="#f3cae4"/>
<rect x="105.979" y="378.23" width="1.001" height="25.65" fill="#e8edfb"/>
<rect x="106.960" y="378.23" width="1.001" height="25.65" fill="#7995ea"/>
<rect x="107.941" y="378.23" width="1.001" height="25.65" fill="#a5b8f1"/>
<rect x="108.922" y="378.23" width="1.001" height="25.65" fill="#466de2"/>
<rect x="109.903" y="378.23" width="1.001" height="25.65" fill="#5a7ce5"/>
<rect x="110.884" y="378.23" width="1.001" height="25.65" fill="#f3c9e4"/>
<rect x="111.866" y="378.23" width="1.001" height="25.65" fill="#e2e8fa"/>
<rect x="112.847" y="378.23" width="1.001" height="25.65" fill="#e8edfb"/>
<rect x="113.828" y="378.23" width="1.001" height="25.65" fill="#fefdfe"/>
<rect x="114.809" y="378.23" width="1.001" height="25.65" fill="#f3cbe5"/>
<rect x="115.790" y="378.23" width="1.001" height="25.65" fill="#f4cde6"/>
<rect x="116.771" y="378.23" width="1.001" height="25.65" fill="#cad5f7"/>
<rect x="117.752" y="378.23" width="1.001" height="25.65" fill="#c0cdf5"/>
<rect x="118.733" y="378.23" width="1.001" height="25.65" fill="#eaa3d0"/>
<rect x="119.714" y="378.23" width="1.001" height="25.65" fill="#f1bfdf"/>
<rect x="120.696" y="378.23" width="1.001" height="25.65" fill="#c3cff5"/>
<rect x="121.677" y="378.23" width="1.001" height="25.65" fill="#97adef"/>
<rect x="122.658" y="378.23" width="1.001" height="25.65" fill="#f9e5f2"/>
<rect x="123.639" y="378.23" width="1.001" height="25.65" fill="#f7ddee"/>
<rect x="124.620" y="378.23" width="1.001" height="25.65" fill="#e2e8fa"/>
<rect x="125.601" y="378.23" width="1.001" height="25.65" fill="#dd66b1"/>
<rect x="126.582" y="378.23" width="1.001" height="25.65" fill="#fcf0f7"/>
<rect x="127.563" y="378.23" width="1.001" height="25.65" fill="#ebeffc"/>
<rect x="128.544" y="378.23" width="1.001" height="25.65" fill="#db5dad"/>
<rect x="129.526" y="378.23" width="1.001" height="25.65" fill="#abbcf2"/>
<rect x="130.507" y="378.23" width="1.001" height="25.65" fill="#fdf5fa"/>
<rect x="131.488" y="378.23" width="1.001" height="25.65" fill="#b9c8f4"/>
<rect x="132.469" y="378.23" width="1.001" height="25.65" fill="#df71b7"/>
<rect x="133.450" y="378.23" width="1.001" height="25.65" fill="#d7e0f9"/>
<rect x="134.431" y="378.23" width="1.001" height="25.65" fill="#fdf6fa"/>
<rect x="135.412" y="378.23" width="1.001" height="25.65" fill="#fcf2f9"/>
<rect x="136.393" y="378.23" width="1.001" height="25.65" fill="#a5b8f1"/>
<rect x="137.374" y="378.23" width="1.001" height="25.65" fill="#efb7db"/>
<rect x="138.356" y="378.23" width="1.001" height="25.65" fill="#d2379a"/>
<rect x="139.337" y="378.23" width="1.001" height="25.65" fill="#f9e3f1"/>
<rect x="140.318" y="378.23" width="1.001" height="25.65" fill="#c9d4f6"/>
<rect x="141.299" y="378.23" width="1.001" height="25.65" fill="#9cb1ef"/>
<rect x="142.280" y="378.23" width="1.001" height="25.65" fill="#d2dbf8"/>
<rect x="143.261" y="378.23" width="1.001" height="25.65" fill="#ffffff"/>
<rect x="144.242" y="378.23" width="1.001" height="25.65" fill="#fbfcfe"/>
<rect x="145.223" y="378.23" width="1.001" height="25.65" fill="#6989e7"/>
<rect x="146.204" y="378.23" width="1.001" height="25.65" fill="#de6bb4"/>
<rect x="147.186" y="378.23" width="1.001" height="25.65" fill="#faebf5"/>
<rect x="148.167" y="378.23" width="1.001" height="25.65" fill="#7f9aeb"/>
<rect x="149.148" y="378.23" width="1.001" height="25.65" fill="#dd66b2"/>
<rect x="150.129" y="378.23" width="1.001" height="25.65" fill="#dde5fa"/>
<rect x="151.110" y="378.23" width="1.001" height="25.65" fill="#f4cee6"/>
<rect x="152.091" y="378.23" width="1.001" height="25.65" fill="#f9e4f2"/>
<rect x="153.072" y="378.23" width="1.001" height="25.65" fill="#efb6da"/>
<rect x="154.053" y="378.23" width="1.001" height="25.65" fill="#f4cfe7"/>
<rect x="155.034" y="378.23" width="1.001" height="25.65" fill="#f9e6f2"/>
<rect x="156.016" y="378.23" width="1.001" height="25.65" fill="#93aaee"/>
<rect x="156.997" y="378.23" width="1.001" height="25.65" fill="#fae8f3"/>
<rect x="157.978" y="378.23" width="1.001" height="25.65" fill="#d8e0f9"/>
<rect x="158.959" y="378.23" width="1.001" height="25.65" fill="#f5f7fd"/>
<rect x="159.940" y="378.23" width="1.001" height="25.65" fill="#f3cae4"/>
<rect x="160.921" y="378.23" width="1.001" height="25.65" fill="#fcf0f8"/>
<rect x="161.902" y="378.23" width="1.001" height="25.65" fill="#f5d3e8"/>
<rect x="162.883" y="378.23" width="1.001" height="25.65" fill="#ecf0fc"/>
<rect x="163.864" y="378.23" width="1.001" height="25.65" fill="#dbe2f9"/>
<rect x="164.846" y="378.23" width="1.001" height="25.65" fill="#a1b5f0"/>
<rect x="165.827" y="378.23" width="1.001" height="25.65" fill="#5f81e6"/>
<rect x="166.808" y="378.23" width="1.001" height="25.65" fill="#8fa6ed"/>
<rect x="167.789" y="378.23" width="1.001" height="25.65" fill="#fdf7fb"/>
<rect x="168.770" y="378.23" width="1.001" height="25.65" fill="#df71b7"/>
<rect x="169.751" y="378.23" width="1.001" height="25.65" fill="#b8c7f4"/>
<rect x="170.732" y="378.23" width="1.001" height="25.65" fill="#fefafc"/>
<rect x="171.713" y="378.23" width="1.001" height="25.65" fill="#dee5fa"/>
<rect x="172.694" y="378.23" width="1.001" height="25.65" fill="#f4cfe7"/>
<rect x="173.676" y="378.23" width="1.001" height="25.65" fill="#da58ab"/>
<rect x="174.657" y="378.23" width="1.001" height="25.65" fill="#e280be"/>
<rect x="175.638" y="378.23" width="1.001" height="25.65" fill="#eff2fc"/>
<rect x="176.619" y="378.23" width="1.001" height="25.65" fill="#e8edfb"/>
<rect x="177.600" y="378.23" width="1.001" height="25.65" fill="#f7dbed"/>
<rect x="178.581" y="378.23" width="1.001" height="25.65" fill="#dde5fa"/>
<rect x="179.562" y="378.23" width="1.001" height="25.65" fill="#d6dff9"/>
<rect x="180.543" y="378.23" width="1.001" height="25.65" fill="#afc0f2"/>
<rect x="181.524" y="378.23" width="1.001" height="25.65" fill="#f5d1e8"/>
<rect x="182.506" y="378.23" width="1.001" height="25.65" fill="#beccf5"/>
<rect x="183.487" y="378.23" width="1.001" height="25.65" fill="#dd67b2"/>
<rect x="184.468" y="378.23" width="1.001" height="25.65" fill="#f5f7fd"/>
<rect x="185.449" y="378.23" width="1.001" height="25.65" fill="#f4f6fd"/>
<rect x="186.430" y="378.23" width="1.001" height="25.65" fill="#f5d1e8"/>
<rect x="187.411" y="378.23" width="1.001" height="25.65" fill="#f8deee"/>
<rect x="188.392" y="378.23" width="1.001" height="25.65" fill="#edadd6"/>
<rect x="189.373" y="378.23" width="1.001" height="25.65" fill="#89a2ec"/>
<rect x="190.354" y="378.23" width="1.001" height="25.65" fill="#fae8f3"/>
<rect x="191.336" y="378.23" width="1.001" height="25.65" fill="#f6d7eb"/>
<rect x="192.317" y="378.23" width="1.001" height="25.65" fill="#b3c3f3"/>
<rect x="193.298" y="378.23" width="1.001" height="25.65" fill="#f5f7fd"/>
<rect x="194.279" y="378.23" width="1.001" height="25.65" fill="#ecacd5"/>
<rect x="195.260" y="378.23" width="1.001" height="25.65" fill="#e99ece"/>
<rect x="196.241" y="378.23" width="1.001" height="25.65" fill="#c0cdf5"/>
<rect x="197.222" y="378.23" width="1.001" height="25.65" fill="#fef9fc"/>
<rect x="198.203" y="378.23" width="1.001" height="25.65" fill="#e1e8fa"/>
<rect x="199.184" y="378.23" width="1.001" height="25.65" fill="#eaa1cf"/>
<rect x="200.166" y="378.23" width="1.001" height="25.65" fill="#d5def8"/>
<rect x="201.147" y="378.23" width="1.001" height="25.65" fill="#f0bede"/>
<rect x="202.128" y="378.23" width="1.001" height="25.65" fill="#dc65b1"/>
<rect x="203.109" y="378.23" width="1.001" height="25.65" fill="#f3cce5"/>
<rect x="204.090" y="378.23" width="1.001" height="25.65" fill="#df70b6"/>
<rect x="205.071" y="378.23" width="1.001" height="25.65" fill="#d544a0"/>
<rect x="206.052" y="378.23" width="1.001" height="25.65" fill="#fef9fc"/>
<rect x="207.033" y="378.23" width="1.001" height="25.65" fill="#fbedf6"/>
<rect x="208.014" y="378.23" width="1.001" height="25.65" fill="#f8e1f0"/>
<rect x="208.996" y="378.23" width="1.001" height="25.65" fill="#f3cae4"/>
<rect x="209.977" y="378.23" width="1.001" height="25.65" fill="#e99dcd"/>
<rect x="210.958" y="378.23" width="1.001" height="25.65" fill="#f2f5fd"/>
<rect x="211.939" y="378.23" width="1.001" height="25.65" fill="#e58ac3"/>
<rect x="212.920" y="378.23" width="1.001" height="25.65" fill="#f5d3e9"/>
<rect x="213.901" y="378.23" width="1.001" height="25.65" fill="#d546a1"/>
<rect x="214.882" y="378.23" width="1.001" height="25.65" fill="#cc1c8c"/>
<rect x="215.863" y="378.23" width="1.001" height="25.65" fill="#e793c8"/>
<rect x="216.844" y="378.23" width="1.001" height="25.65" fill="#cc1c8c"/>
<rect x="217.826" y="378.23" width="1.001" height="25.65" fill="#d23699"/>
<rect x="218.807" y="378.23" width="1.001" height="25.65" fill="#de6ab4"/>
<rect x="219.788" y="378.23" width="1.001" height="25.65" fill="#d4ddf8"/>
<rect x="220.769" y="378.23" width="1.001" height="25.65" fill="#e382c0"/>
<rect x="221.750" y="378.23" width="1.001" height="25.65" fill="#f3cbe5"/>
<rect x="222.731" y="378.23" width="1.001" height="25.65" fill="#d646a1"/>
<rect x="223.712" y="378.23" width="1.001" height="25.65" fill="#d4409e"/>
<rect x="224.693" y="378.23" width="1.001" height="25.65" fill="#e486c2"/>
<rect x="225.674" y="378.23" width="1.001" height="25.65" fill="#f0bbdc"/>
<rect x="226.656" y="378.23" width="1.001" height="25.65" fill="#cc1c8c"/>
<rect x="227.637" y="378.23" width="1.001" height="25.65" fill="#e488c3"/>
<rect x="228.618" y="378.23" width="1.001" height="25.65" fill="#dc64b1"/>
<rect x="229.599" y="378.23" width="1.001" height="25.65" fill="#f0bede"/>
<rect x="230.580" y="378.23" width="1.001" height="25.65" fill="#e17bbc"/>
<rect x="231.561" y="378.23" width="1.001" height="25.65" fill="#f7daec"/>
<rect x="232.542" y="378.23" width="1.001" height="25.65" fill="#e796ca"/>
<rect x="233.523" y="378.23" width="1.001" height="25.65" fill="#eca9d3"/>
<rect x="234.504" y="378.23" width="1.001" height="25.65" fill="#f4cce5"/>
<rect x="235.486" y="378.23" width="1.001" height="25.65" fill="#f2c4e1"/>
<rect x="236.467" y="378.23" width="1.001" height="25.65" fill="#ecacd5"/>
<rect x="237.448" y="378.23" width="1.001" height="25.65" fill="#edafd6"/>
<rect x="238.429" y="378.23" width="1.001" height="25.65" fill="#efb8db"/>
<rect x="239.410" y="378.23" width="1.001" height="25.65" fill="#f1c0df"/>
<rect x="240.391" y="378.23" width="1.001" height="25.65" fill="#f1c0df"/>
<rect x="241.372" y="378.23" width="1.001" height="25.65" fill="#e898cb"/>
<rect x="242.353" y="378.23" width="1.001" height="25.65" fill="#f3c8e3"/>
<rect x="243.334" y="378.23" width="1.001" height="25.65" fill="#e384c1"/>
<rect x="244.316" y="378.23" width="1.001" height="25.65" fill="#f5d1e8"/>
<rect x="245.297" y="378.23" width="1.001" height="25.65" fill="#d853a8"/>
<rect x="246.278" y="378.23" width="1.001" height="25.65" fill="#f9e6f2"/>
<rect x="247.259" y="378.23" width="1.001" height="25.65" fill="#f3f6fd"/>
<rect x="248.240" y="378.23" width="1.001" height="25.65" fill="#afc0f2"/>
<rect x="249.221" y="378.23" width="1.001" height="25.65" fill="#f1c0df"/>
<rect x="250.202" y="378.23" width="1.001" height="25.65" fill="#f4cfe7"/>
<rect x="251.183" y="378.23" width="1.001" height="25.65" fill="#e68fc6"/>
<rect x="252.164" y="378.23" width="1.001" height="25.65" fill="#f2c7e2"/>
<rect x="253.146" y="378.23" width="1.001" height="25.65" fill="#fbeff7"/>
<rect x="254.127" y="378.23" width="1.001" height="25.65" fill="#da5cac"/>
<rect x="255.108" y="378.23" width="1.001" height="25.65" fill="#f3c9e3"/>
<rect x="256.089" y="378.23" width="1.001" height="25.65" fill="#da5cac"/>
<rect x="257.070" y="378.23" width="1.001" height="25.65" fill="#eaa1cf"/>
<rect x="258.051" y="378.23" width="1.001" height="25.65" fill="#d74ca4"/>
<rect x="259.032" y="378.23" width="1.001" height="25.65" fill="#f1bfdf"/>
<rect x="260.013" y="378.23" width="1.001" height="25.65" fill="#e385c1"/>
<rect x="260.994" y="378.23" width="1.001" height="25.65" fill="#fbeff7"/>
<rect x="261.976" y="378.23" width="1.001" height="25.65" fill="#f1c1e0"/>
<rect x="262.957" y="378.23" width="1.001" height="25.65" fill="#f0bcdd"/>
<rect x="263.938" y="378.23" width="1.001" height="25.65" fill="#e99ccd"/>
<rect x="264.919" y="378.23" width="1.001" height="25.65" fill="#e383c0"/>
<rect x="1.000" y="403.86" width="1.001" height="25.65" fill="#6b8ae8"/>
<rect x="1.981" y="403.86" width="1.001" height="25.65" fill="#dae2f9"/>
<rect x="2.962" y="403.86" width="1.001" height="25.65" fill="#4169e1"/>
<rect x="3.943" y="403.86" width="1.001" height="25.65" fill="#7d99eb"/>
<rect x="4.924" y="403.86" width="1.001" height="25.65" fill="#b0c1f3"/>
<rect x="5.906" y="403.86" width="1.001" height="25.65" fill="#f3f6fd"/>
<rect x="6.887" y="403.86" width="1.001" height="25.65" fill="#d9e1f9"/>
<rect x="7.868" y="403.86" width="1.001" height="25.65" fill="#b3c3f3"/>
<rect x="8.849" y="403.86" width="1.001" height="25.65" fill="#4169e1"/>
<rect x="9.830" y="403.86" width="1.001" height="25.65" fill="#f5d3e9"/>
<rect x="10.811" y="403.86" width="1.001" height="25.65" fill="#cfd9f7"/>
<rect x="11.792" y="403.86" width="1.001" height="25.65" fill="#fffdfe"/>
<rect x="12.773" y="403.86" width="1.001" height="25.65" fill="#f7ddee"/>
<rect x="13.754" y="403.86" width="1.001" height="25.65" fill="#b6c5f3"/>
<rect x="14.736" y="403.86" width="1.001" height="25.65" fill="#6585e7"/>
<rect x="15.717" y="403.86" width="1.001" height="25.65" fill="#d3dcf8"/>
<rect x="16.698" y="403.86" width="1.001" height="25.65" fill="#7492e9"/>
<rect x="17.679" y="403.86" width="1.001" height="25.65" fill="#dae2f9"/>
<rect x="18.660" y="403.86" width="1.001" height="25.65" fill="#7c98ea"/>
<rect x="19.641" y="403.86" width="1.001" height="25.65" fill="#cdd7f7"/>
<rect x="20.622" y="403.86" width="1.001" height="25.65" fill="#7d99eb"/>
<rect x="21.603" y="403.86" width="1.001" height="25.65" fill="#4169e1"/>
<rect x="22.584" y="403.86" width="1.001" height="25.65" fill="#f7f9fe"/>
<rect x="23.566" y="403.86" width="1.001" height="25.65" fill="#819beb"/>
<rect x="24.547" y="403.86" width="1.001" height="25.65" fill="#efb9dc"/>
<rect x="25.528" y="403.86" width="1.001" height="25.65" fill="#bdcbf5"/>
<rect x="26.509" y="403.86" width="1.001" height="25.65" fill="#446ce2"/>
<rect x="27.490" y="403.86" width="1.001" height="25.65" fill="#ced8f7"/>
<rect x="28.471" y="403.86" width="1.001" height="25.65" fill="#587be5"/>
<rect x="29.452" y="403.86" width="1.001" height="25.65" fill="#4169e1"/>
<rect x="30.433" y="403.86" width="1.001" height="25.65" fill="#5579e4"/>
<rect x="31.414" y="403.86" width="1.001" height="25.65" fill="#abbdf2"/>
<rect x="32.396" y="403.86" width="1.001" height="25.65" fill="#c8d4f6"/>
<rect x="33.377" y="403.86" width="1.001" height="25.65" fill="#cbd6f7"/>
<rect x="34.358" y="403.86" width="1.001" height="25.65" fill="#d3dcf8"/>
<rect x="35.339" y="403.86" width="1.001" height="25.65" fill="#e6ebfb"/>
<rect x="36.320" y="403.86" width="1.001" height="25.65" fill="#f7dbed"/>
<rect x="37.301" y="403.86" width="1.001" height="25.65" fill="#90a7ed"/>
<rect x="38.282" y="403.86" width="1.001" height="25.65" fill="#fdf6fb"/>
<rect x="39.263" y="403.86" width="1.001" height="25.65" fill="#c9d4f6"/>
<rect x="40.244" y="403.86" width="1.001" height="25.65" fill="#4169e1"/>
<rect x="41.226" y="403.86" width="1.001" height="25.65" fill="#fae9f4"/>
<rect x="42.207" y="403.86" width="1.001" height="25.65" fill="#5d7fe5"/>
<rect x="43.188" y="403.86" width="1.001" height="25.65" fill="#f9fafe"/>
<rect x="44.169" y="403.86" width="1.001" height="25.65" fill="#b8c7f4"/>
<rect x="45.150" y="403.86" width="1.001" height="25.65" fill="#fcf0f7"/>
<rect x="46.131" y="403.86" width="1.001" height="25.65" fill="#efb9dc"/>
<rect x="47.112" y="403.86" width="1.001" height="25.65" fill="#fcf2f8"/>
<rect x="48.093" y="403.86" width="1.001" height="25.65" fill="#4169e1"/>
<rect x="49.074" y="403.86" width="1.001" height="25.65" fill="#cdd7f7"/>
<rect x="50.056" y="403.86" width="1.001" height="25.65" fill="#a0b4f0"/>
<rect x="51.037" y="403.86" width="1.001" height="25.65" fill="#b2c2f3"/>
<rect x="52.018" y="403.86" width="1.001" height="25.65" fill="#b9c8f4"/>
<rect x="52.999" y="403.86" width="1.001" height="25.65" fill="#fbeff7"/>
<rect x="53.980" y="403.86" width="1.001" height="25.65" fill="#d2dcf8"/>
<rect x="54.961" y="403.86" width="1.001" height="25.65" fill="#6f8de8"/>
<rect x="55.942" y="403.86" width="1.001" height="25.65" fill="#eca9d3"/>
<rect x="56.923" y="403.86" width="1.001" height="25.65" fill="#9cb1ef"/>
<rect x="57.904" y="403.86" width="1.001" height="25.65" fill="#96acee"/>
<rect x="58.886" y="403.86" width="1.001" height="25.65" fill="#567ae4"/>
<rect x="59.867" y="403.86" width="1.001" height="25.65" fill="#a0b4f0"/>
<rect x="60.848" y="403.86" width="1.001" height="25.65" fill="#6f8ee8"/>
<rect x="61.829" y="403.86" width="1.001" height="25.65" fill="#efbadc"/>
<rect x="62.810" y="403.86" width="1.001" height="25.65" fill="#f7dced"/>
<rect x="63.791" y="403.86" width="1.001" height="25.65" fill="#4169e1"/>
<rect x="64.772" y="403.86" width="1.001" height="25.65" fill="#f3f5fd"/>
<rect x="65.753" y="403.86" width="1.001" height="25.65" fill="#abbdf2"/>
<rect x="66.734" y="403.86" width="1.001" height="25.65" fill="#436ae1"/>
<rect x="67.716" y="403.86" width="1.001" height="25.65" fill="#4169e1"/>
<rect x="68.697" y="403.86" width="1.001" height="25.65" fill="#f3f6fd"/>
<rect x="69.678" y="403.86" width="1.001" height="25.65" fill="#bac8f4"/>
<rect x="70.659" y="403.86" width="1.001" height="25.65" fill="#fdf6fa"/>
<rect x="71.640" y="403.86" width="1.001" height="25.65" fill="#6e8ce8"/>
<rect x="72.621" y="403.86" width="1.001" height="25.65" fill="#efb9dc"/>
<rect x="73.602" y="403.86" width="1.001" height="25.65" fill="#dae2f9"/>
<rect x="74.583" y="403.86" width="1.001" height="25.65" fill="#a6b8f1"/>
<rect x="75.564" y="403.86" width="1.001" height="25.65" fill="#fefafc"/>
<rect x="76.546" y="403.86" width="1.001" height="25.65" fill="#beccf5"/>
<rect x="77.527" y="403.86" width="1.001" height="25.65" fill="#88a1ec"/>
<rect x="78.508" y="403.86" width="1.001" height="25.65" fill="#577ae4"/>
<rect x="79.489" y="403.86" width="1.001" height="25.65" fill="#becbf5"/>
<rect x="80.470" y="403.86" width="1.001" height="25.65" fill="#4169e1"/>
<rect x="81.451" y="403.86" width="1.001" height="25.65" fill="#6a8ae8"/>
<rect x="82.432" y="403.86" width="1.001" height="25.65" fill="#4169e1"/>
<rect x="83.413" y="403.86" width="1.001" height="25.65" fill="#f6f8fe"/>
<rect x="84.394" y="403.86" width="1.001" height="25.65" fill="#fdf4f9"/>
<rect x="85.376" y="403.86" width="1.001" height="25.65" fill="#859fec"/>
<rect x="86.357" y="403.86" width="1.001" height="25.65" fill="#859fec"/>
<rect x="87.338" y="403.86" width="1.001" height="25.65" fill="#f3cbe5"/>
<rect x="88.319" y="403.86" width="1.001" height="25.65" fill="#c9d4f6"/>
<rect x="89.300" y="403.86" width="1.001" height="25.65" fill="#f4cce5"/>
<rect x="90.281" y="403.86" width="1.001" height="25.65" fill="#b0c1f3"/>
<rect x="91.262" y="403.86" width="1.001" height="25.65" fill="#eff2fc"/>
<rect x="92.243" y="403.86" width="1.001" height="25.65" fill="#eaa0cf"/>
<rect x="93.224" y="403.86" width="1.001" height="25.65" fill="#98aeef"/>
<rect x="94.206" y="403.86" width="1.001" height="25.65" fill="#fdf8fc"/>
<rect x="95.187" y="403.86" width="1.001" height="25.65" fill="#fbfcfe"/>
<rect x="96.168" y="403.86" width="1.001" height="25.65" fill="#4169e1"/>
<rect x="97.149" y="403.86" width="1.001" height="25.65" fill="#e99dcd"/>
<rect x="98.130" y="403.86" width="1.001" height="25.65" fill="#7290e9"/>
<rect x="99.111" y="403.86" width="1.001" height="25.65" fill="#fefbfd"/>
<rect x="100.092" y="403.86" width="1.001" height="25.65" fill="#c5d1f6"/>
<rect x="101.073" y="403.86" width="1.001" height="25.65" fill="#8ca4ed"/>
<rect x="102.054" y="403.86" width="1.001" height="25.65" fill="#a6b9f1"/>
<rect x="103.036" y="403.86" width="1.001" height="25.65" fill="#f8e1f0"/>
<rect x="104.017" y="403.86" width="1.001" height="25.65" fill="#5377e4"/>
<rect x="104.998" y="403.86" width="1.001" height="25.65" fill="#d3dcf8"/>
<rect x="105.979" y="403.86" width="1.001" height="25.65" fill="#4169e1"/>
<rect x="106.960" y="403.86" width="1.001" height="25.65" fill="#91a8ee"/>
<rect x="107.941" y="403.86" width="1.001" height="25.65" fill="#4169e1"/>
<rect x="108.922" y="403.86" width="1.001" height="25.65" fill="#a1b5f0"/>
<rect x="109.903" y="403.86" width="1.001" height="25.65" fill="#dce3f9"/>
<rect x="110.884" y="403.86" width="1.001" height="25.65" fill="#4169e1"/>
<rect x="111.866" y="403.86" width="1.001" height="25.65" fill="#beccf5"/>
<rect x="112.847" y="403.86" width="1.001" height="25.65" fill="#9aafef"/>
<rect x="113.828" y="403.86" width="1.001" height="25.65" fill="#a3b7f1"/>
<rect x="114.809" y="403.86" width="1.001" height="25.65" fill="#fffefe"/>
<rect x="115.790" y="403.86" width="1.001" height="25.65" fill="#f7f8fe"/>
<rect x="116.771" y="403.86" width="1.001" height="25.65" fill="#f1c1e0"/>
<rect x="117.752" y="403.86" width="1.001" height="25.65" fill="#f1c3e0"/>
<rect x="118.733" y="403.86" width="1.001" height="25.65" fill="#b2c2f3"/>
<rect x="119.714" y="403.86" width="1.001" height="25.65" fill="#f4cce5"/>
<rect x="120.696" y="403.86" width="1.001" height="25.65" fill="#f4cfe7"/>
<rect x="121.677" y="403.86" width="1.001" height="25.65" fill="#d8e0f9"/>
<rect x="122.658" y="403.86" width="1.001" height="25.65" fill="#b7c6f4"/>
<rect x="123.639" y="403.86" width="1.001" height="25.65" fill="#a4b7f1"/>
<rect x="124.620" y="403.86" width="1.001" height="25.65" fill="#a2b6f0"/>
<rect x="125.601" y="403.86" width="1.001" height="25.65" fill="#f6d7eb"/>
<rect x="126.582" y="403.86" width="1.001" height="25.65" fill="#c3d0f6"/>
<rect x="127.563" y="403.86" width="1.001" height="25.65" fill="#ffffff"/>
<rect x="128.544" y="403.86" width="1.001" height="25.65" fill="#a9bbf1"/>
<rect x="129.526" y="403.86" width="1.001" height="25.65" fill="#99afef"/>
<rect x="130.507" y="403.86" width="1.001" height="25.65" fill="#db5dad"/>
<rect x="131.488" y="403.86" width="1.001" height="25.65" fill="#e076ba"/>
<rect x="132.469" y="403.86" width="1.001" height="25.65" fill="#f2c3e1"/>
<rect x="133.450" y="403.86" width="1.001" height="25.65" fill="#f4f6fd"/>
<rect x="134.431" y="403.86" width="1.001" height="25.65" fill="#a7b9f1"/>
<rect x="135.412" y="403.86" width="1.001" height="25.65" fill="#e487c2"/>
<rect x="136.393" y="403.86" width="1.001" height="25.65" fill="#8ba3ed"/>
<rect x="137.374" y="403.86" width="1.001" height="25.65" fill="#fcfdff"/>
<rect x="138.356" y="403.86" width="1.001" height="25.65" fill="#fbeff7"/>
<rect x="139.337" y="403.86" width="1.001" height="25.65" fill="#6f8de8"/>
<rect x="140.318" y="403.86" width="1.001" height="25.65" fill="#fcfdff"/>
<rect x="141.299" y="403.86" width="1.001" height="25.65" fill="#e897ca"/>
<rect x="142.280" y="403.86" width="1.001" height="25.65" fill="#eeb5da"/>
<rect x="143.261" y="403.86" width="1.001" height="25.65" fill="#5e80e6"/>
<rect x="144.242" y="403.86" width="1.001" height="25.65" fill="#e68fc6"/>
<rect x="145.223" y="403.86" width="1.001" height="25.65" fill="#96acee"/>
<rect x="146.204" y="403.86" width="1.001" height="25.65" fill="#fef9fc"/>
<rect x="147.186" y="403.86" width="1.001" height="25.65" fill="#fffdfe"/>
<rect x="148.167" y="403.86" width="1.001" height="25.65" fill="#b6c5f3"/>
<rect x="149.148" y="403.86" width="1.001" height="25.65" fill="#e488c3"/>
<rect x="150.129" y="403.86" width="1.001" height="25.65" fill="#fae8f3"/>
<rect x="151.110" y="403.86" width="1.001" height="25.65" fill="#f3cbe5"/>
<rect x="152.091" y="403.86" width="1.001" height="25.65" fill="#97adef"/>
<rect x="153.072" y="403.86" width="1.001" height="25.65" fill="#c1cef5"/>
<rect x="154.053" y="403.86" width="1.001" height="25.65" fill="#dc63b0"/>
<rect x="155.034" y="403.86" width="1.001" height="25.65" fill="#fbecf6"/>
<rect x="156.016" y="403.86" width="1.001" height="25.65" fill="#fffdfe"/>
<rect x="156.997" y="403.86" width="1.001" height="25.65" fill="#f9e2f1"/>
<rect x="157.978" y="403.86" width="1.001" height="25.65" fill="#c6d2f6"/>
<rect x="158.959" y="403.86" width="1.001" height="25.65" fill="#6a8ae8"/>
<rect x="159.940" y="403.86" width="1.001" height="25.65" fill="#a3b7f1"/>
<rect x="160.921" y="403.86" width="1.001" height="25.65" fill="#fdf5fa"/>
<rect x="161.902" y="403.86" width="1.001" height="25.65" fill="#ecacd5"/>
<rect x="162.883" y="403.86" width="1.001" height="25.65" fill="#f1c1e0"/>
<rect x="163.864" y="403.86" width="1.001" height="25.65" fill="#8fa6ed"/>
<rect x="164.846" y="403.86" width="1.001" height="25.65" fill="#beccf5"/>
<rect x="165.827" y="403.86" width="1.001" height="25.65" fill="#cad5f7"/>
<rect x="166.808" y="403.86" width="1.001" height="25.65" fill="#db5dad"/>
<rect x="167.789" y="403.86" width="1.001" height="25.65" fill="#b5c5f3"/>
<rect x="168.770" y="403.86" width="1.001" height="25.65" fill="#dae2f9"/>
<rect x="169.751" y="403.86" width="1.001" height="25.65" fill="#f1c2e0"/>
<rect x="170.732" y="403.86" width="1.001" height="25.65" fill="#df6fb6"/>
<rect x="171.713" y="403.86" width="1.001" height="25.65" fill="#edb1d7"/>
<rect x="172.694" y="403.86" width="1.001" height="25.65" fill="#eba7d3"/>
<rect x="173.676" y="403.86" width="1.001" height="25.65" fill="#de6bb4"/>
<rect x="174.657" y="403.86" width="1.001" height="25.65" fill="#a0b4f0"/>
<rect x="175.638" y="403.86" width="1.001" height="25.65" fill="#efb6da"/>
<rect x="176.619" y="403.86" width="1.001" height="25.65" fill="#fefcfd"/>
<rect x="177.600" y="403.86" width="1.001" height="25.65" fill="#e99ccd"/>
<rect x="178.581" y="403.86" width="1.001" height="25.65" fill="#dde4fa"/>
<rect x="179.562" y="403.86" width="1.001" height="25.65" fill="#e68fc6"/>
<rect x="180.543" y="403.86" width="1.001" height="25.65" fill="#d851a7"/>
<rect x="181.524" y="403.86" width="1.001" height="25.65" fill="#cc1c8c"/>
<rect x="182.506" y="403.86" width="1.001" height="25.65" fill="#ccd7f7"/>
<rect x="183.487" y="403.86" width="1.001" height="25.65" fill="#f0f3fd"/>
<rect x="184.468" y="403.86" width="1.001" height="25.65" fill="#efb9db"/>
<rect x="185.449" y="403.86" width="1.001" height="25.65" fill="#df71b7"/>
<rect x="186.430" y="403.86" width="1.001" height="25.65" fill="#dce3f9"/>
<rect x="187.411" y="403.86" width="1.001" height="25.65" fill="#de6bb4"/>
<rect x="188.392" y="403.86" width="1.001" height="25.65" fill="#dde5fa"/>
<rect x="189.373" y="403.86" width="1.001" height="25.65" fill="#da5aac"/>
<rect x="190.354" y="403.86" width="1.001" height="25.65" fill="#fbecf5"/>
<rect x="191.336" y="403.86" width="1.001" height="25.65" fill="#e68ec6"/>
<rect x="192.317" y="403.86" width="1.001" height="25.65" fill="#6c8be8"/>
<rect x="193.298" y="403.86" width="1.001" height="25.65" fill="#6f8de8"/>
<rect x="194.279" y="403.86" width="1.001" height="25.65" fill="#e58ac4"/>
<rect x="195.260" y="403.86" width="1.001" height="25.65" fill="#6485e7"/>
<rect x="196.241" y="403.86" width="1.001" height="25.65" fill="#de6ab3"/>
<rect x="197.222" y="403.86" width="1.001" height="25.65" fill="#afc0f2"/>
<rect x="198.203" y="403.86" width="1.001" height="25.65" fill="#fcf3f9"/>
<rect x="199.184" y="403.86" width="1.001" height="25.65" fill="#e488c3"/>
<rect x="200.166" y="403.86" width="1.001" height="25.65" fill="#f4cde6"/>
<rect x="201.147" y="403.86" width="1.001" height="25.65" fill="#f5d2e8"/>
<rect x="202.128" y="403.86" width="1.001" height="25.65" fill="#f1c2e0"/>
<rect x="203.109" y="403.86" width="1.001" height="25.65" fill="#f9e7f3"/>
<rect x="204.090" y="403.86" width="1.001" height="25.65" fill="#e692c8"/>
<rect x="205.071" y="403.86" width="1.001" height="25.65" fill="#e89acc"/>
<rect x="206.052" y="403.86" width="1.001" height="25.65" fill="#eaa2d0"/>
<rect x="207.033" y="403.86" width="1.001" height="25.65" fill="#eaa4d1"/>
<rect x="208.014" y="403.86" width="1.001" height="25.65" fill="#fcf4f9"/>
<rect x="208.996" y="403.86" width="1.001" height="25.65" fill="#e6ebfb"/>
<rect x="209.977" y="403.86" width="1.001" height="25.65" fill="#4169e1"/>
<rect x="210.958" y="403.86" width="1.001" height="25.65" fill="#d4419f"/>
<rect x="211.939" y="403.86" width="1.001" height="25.65" fill="#f0bbdc"/>
<rect x="212.920" y="403.86" width="1.001" height="25.65" fill="#e99ece"/>
<rect x="213.901" y="403.86" width="1.001" height="25.65" fill="#e898cb"/>
<rect x="214.882" y="403.86" width="1.001" height="25.65" fill="#fefeff"/>
<rect x="215.863" y="403.86" width="1.001" height="25.65" fill="#cc1c8c"/>
<rect x="216.844" y="403.86" width="1.001" height="25.65" fill="#eaa0cf"/>
<rect x="217.826" y="403.86" width="1.001" height="25.65" fill="#f5d2e8"/>
<rect x="218.807" y="403.86" width="1.001" height="25.65" fill="#edadd5"/>
<rect x="219.788" y="403.86" width="1.001" height="25.65" fill="#f6d5ea"/>
<rect x="220.769" y="403.86" width="1.001" height="25.65" fill="#6988e7"/>
<rect x="221.750" y="403.86" width="1.001" height="25.65" fill="#cc1c8c"/>
<rect x="222.731" y="403.86" width="1.001" height="25.65" fill="#e690c7"/>
<rect x="223.712" y="403.86" width="1.001" height="25.65" fill="#f2c6e2"/>
<rect x="224.693" y="403.86" width="1.001" height="25.65" fill="#fdf7fb"/>
<rect x="225.674" y="403.86" width="1.001" height="25.65" fill="#f3c9e4"/>
<rect x="226.656" y="403.86" width="1.001" height="25.65" fill="#fbeef6"/>
<rect x="227.637" y="403.86" width="1.001" height="25.65" fill="#c6d2f6"/>
<rect x="228.618" y="403.86" width="1.001" height="25.65" fill="#a4b7f1"/>
<rect x="229.599" y="403.86" width="1.001" height="25.65" fill="#f8e1f0"/>
<rect x="230.580" y="403.86" width="1.001" height="25.65" fill="#e073b8"/>
<rect x="231.561" y="403.86" width="1.001" height="25.65" fill="#efb6da"/>
<rect x="232.542" y="403.86" width="1.001" height="25.65" fill="#dc62b0"/>
<rect x="233.523" y="403.86" width="1.001" height="25.65" fill="#e380bf"/>
<rect x="234.504" y="403.86" width="1.001" height="25.65" fill="#ebf0fc"/>
<rect x="235.486" y="403.86" width="1.001" height="25.65" fill="#e795ca"/>
<rect x="236.467" y="403.86" width="1.001" height="25.65" fill="#d33b9c"/>
<rect x="237.448" y="403.86" width="1.001" height="25.65" fill="#fdf5fa"/>
<rect x="238.429" y="403.86" width="1.001" height="25.65" fill="#f3c8e3"/>
<rect x="239.410" y="403.86" width="1.001" height="25.65" fill="#f9e3f1"/>
<rect x="240.391" y="403.86" width="1.001" height="25.65" fill="#eeb3d9"/>
<rect x="241.372" y="403.86" width="1.001" height="25.65" fill="#f2c7e2"/>
<rect x="242.353" y="403.86" width="1.001" height="25.65" fill="#f5d1e8"/>
<rect x="243.334" y="403.86" width="1.001" height="25.65" fill="#fafbfe"/>
<rect x="244.316" y="403.86" width="1.001" height="25.65" fill="#cf2992"/>
<rect x="245.297" y="403.86" width="1.001" height="25.65" fill="#f8e0ef"/>
<rect x="246.278" y="403.86" width="1.001" height="25.65" fill="#e385c1"/>
<rect x="247.259" y="403.86" width="1.001" height="25.65" fill="#e691c7"/>
<rect x="248.240" y="403.86" width="1.001" height="25.65" fill="#e99dcd"/>
<rect x="249.221" y="403.86" width="1.001" height="25.65" fill="#cd208e"/>
<rect x="250.202" y="403.86" width="1.001" height="25.65" fill="#e384c1"/>
<rect x="251.183" y="403.86" width="1.001" height="25.65" fill="#d43d9d"/>
<rect x="252.164" y="403.86" width="1.001" height="25.65" fill="#f8e0ef"/>
<rect x="253.146" y="403.86" width="1.001" height="25.65" fill="#cc1c8c"/>
<rect x="254.127" y="403.86" width="1.001" height="25.65" fill="#e486c2"/>
<rect x="255.108" y="403.86" width="1.001" height="25.65" fill="#cc1c8c"/>
<rect x="256.089" y="403.86" width="1.001" height="25.65" fill="#cc1c8c"/>
<rect x="257.070" y="403.86" width="1.001" height="25.65" fill="#de6eb5"/>
<rect x="258.051" y="403.86" width="1.001" height="25.65" fill="#e58ac4"/>
<rect x="259.032" y="403.86" width="1.001" height="25.65" fill="#fefafc"/>
<rect x="260.013" y="403.86" width="1.001" height="25.65" fill="#d648a2"/>
<rect x="260.994" y="403.86" width="1.001" height="25.65" fill="#de6eb6"/>
<rect x="261.976" y="403.86" width="1.001" height="25.65" fill="#cc1c8c"/>
<rect x="262.957" y="403.86" width="1.001" height="25.65" fill="#d543a0"/>
<rect x="263.938" y="403.86" width="1.001" height="25.65" fill="#d02c94"/>
<rect x="264.919" y="403.86" width="1.001" height="25.65" fill="#d5429f"/>
<rect x="1.000" y="429.49" width="1.001" height="25.65" fill="#6888e7"/>
<rect x="1.981" y="429.49" width="1.001" height="25.65" fill="#9aafef"/>
<rect x="2.962" y="429.49" width="1.001" height="25.65" fill="#4169e1"/>
<rect x="3.943" y="429.49" width="1.001" height="25.65" fill="#b5c4f3"/>
<rect x="4.924" y="429.49" width="1.001" height="25.65" fill="#4169e1"/>
<rect x="5.906" y="429.49" width="1.001" height="25.65" fill="#4970e2"/>
<rect x="6.887" y="429.49" width="1.001" height="25.65" fill="#bac8f4"/>
<rect x="7.868" y="429.49" width="1.001" height="25.65" fill="#6384e6"/>
<rect x="8.849" y="429.49" width="1.001" height="25.65" fill="#4169e1"/>
<rect x="9.830" y="429.49" width="1.001" height="25.65" fill="#4169e1"/>
<rect x="10.811" y="429.49" width="1.001" height="25.65" fill="#4169e1"/>
<rect x="11.792" y="429.49" width="1.001" height="25.65" fill="#4169e1"/>
<rect x="12.773" y="429.49" width="1.001" height="25.65" fill="#6888e7"/>
<rect x="13.754" y="429.49" width="1.001" height="25.65" fill="#4169e1"/>
<rect x="14.736" y="429.49" width="1.001" height="25.65" fill="#4169e1"/>
<rect x="15.717" y="429.49" width="1.001" height="25.65" fill="#4169e1"/>
<rect x="16.698" y="429.49" width="1.001" height="25.65" fill="#4169e1"/>
<rect x="17.679" y="429.49" width="1.001" height="25.65" fill="#4169e1"/>
<rect x="18.660" y="429.49" width="1.001" height="25.65" fill="#cdd7f7"/>
<rect x="19.641" y="429.49" width="1.001" height="25.65" fill="#4169e1"/>
<rect x="20.622" y="429.49" width="1.001" height="25.65" fill="#819ceb"/>
<rect x="21.603" y="429.49" width="1.001" height="25.65" fill="#7491e9"/>
<rect x="22.584" y="429.49" width="1.001" height="25.65" fill="#87a0ec"/>
<rect x="23.566" y="429.49" width="1.001" height="25.65" fill="#6585e7"/>
<rect x="24.547" y="429.49" width="1.001" height="25.65" fill="#eeb3d8"/>
<rect x="25.528" y="429.49" width="1.001" height="25.65" fill="#4169e1"/>
<rect x="26.509" y="429.49" width="1.001" height="25.65" fill="#6e8de8"/>
<rect x="27.490" y="429.49" width="1.001" height="25.65" fill="#4169e1"/>
<rect x="28.471" y="429.49" width="1.001" height="25.65" fill="#88a1ec"/>
<rect x="29.452" y="429.49" width="1.001" height="25.65" fill="#6888e7"/>
<rect x="30.433" y="429.49" width="1.001" height="25.65" fill="#aabcf2"/>
<rect x="31.414" y="429.49" width="1.001" height="25.65" fill="#7693e9"/>
<rect x="32.396" y="429.49" width="1.001" height="25.65" fill="#9bb0ef"/>
<rect x="33.377" y="429.49" width="1.001" height="25.65" fill="#e0e6fa"/>
<rect x="34.358" y="429.49" width="1.001" height="25.65" fill="#7895ea"/>
<rect x="35.339" y="429.49" width="1.001" height="25.65" fill="#4a70e2"/>
<rect x="36.320" y="429.49" width="1.001" height="25.65" fill="#5075e3"/>
<rect x="37.301" y="429.49" width="1.001" height="25.65" fill="#e8edfb"/>
<rect x="38.282" y="429.49" width="1.001" height="25.65" fill="#a8bbf1"/>
<rect x="39.263" y="429.49" width="1.001" height="25.65" fill="#4169e1"/>
<rect x="40.244" y="429.49" width="1.001" height="25.65" fill="#d3dcf8"/>
<rect x="41.226" y="429.49" width="1.001" height="25.65" fill="#6f8ee8"/>
<rect x="42.207" y="429.49" width="1.001" height="25.65" fill="#d5def8"/>
<rect x="43.188" y="429.49" width="1.001" height="25.65" fill="#beccf5"/>
<rect x="44.169" y="429.49" width="1.001" height="25.65" fill="#f7ddee"/>
<rect x="45.150" y="429.49" width="1.001" height="25.65" fill="#fae7f3"/>
<rect x="46.131" y="429.49" width="1.001" height="25.65" fill="#f2c7e3"/>
<rect x="47.112" y="429.49" width="1.001" height="25.65" fill="#fdf7fb"/>
<rect x="48.093" y="429.49" width="1.001" height="25.65" fill="#f0bddd"/>
<rect x="49.074" y="429.49" width="1.001" height="25.65" fill="#c2cff5"/>
<rect x="50.056" y="429.49" width="1.001" height="25.65" fill="#c5d1f6"/>
<rect x="51.037" y="429.49" width="1.001" height="25.65" fill="#f0bede"/>
<rect x="52.018" y="429.49" width="1.001" height="25.65" fill="#ccd6f7"/>
<rect x="52.999" y="429.49" width="1.001" height="25.65" fill="#4169e1"/>
<rect x="53.980" y="429.49" width="1.001" height="25.65" fill="#d3dcf8"/>
<rect x="54.961" y="429.49" width="1.001" height="25.65" fill="#cad5f7"/>
<rect x="55.942" y="429.49" width="1.001" height="25.65" fill="#4169e1"/>
<rect x="56.923" y="429.49" width="1.001" height="25.65" fill="#f0bede"/>
<rect x="57.904" y="429.49" width="1.001" height="25.65" fill="#7c98ea"/>
<rect x="58.886" y="429.49" width="1.001" height="25.65" fill="#d0daf8"/>
<rect x="59.867" y="429.49" width="1.001" height="25.65" fill="#4169e1"/>
<rect x="60.848" y="429.49" width="1.001" height="25.65" fill="#dfe5fa"/>
<rect x="61.829" y="429.49" width="1.001" height="25.65" fill="#ccd7f7"/>
<rect x="62.810" y="429.49" width="1.001" height="25.65" fill="#ecf0fc"/>
<rect x="63.791" y="429.49" width="1.001" height="25.65" fill="#fbeef6"/>
<rect x="64.772" y="429.49" width="1.001" height="25.65" fill="#90a7ed"/>
<rect x="65.753" y="429.49" width="1.001" height="25.65" fill="#7592e9"/>
<rect x="66.734" y="429.49" width="1.001" height="25.65" fill="#d9e1f9"/>
<rect x="67.716" y="429.49" width="1.001" height="25.65" fill="#c4d0f6"/>
<rect x="68.697" y="429.49" width="1.001" height="25.65" fill="#e897ca"/>
<rect x="69.678" y="429.49" width="1.001" height="25.65" fill="#d3dcf8"/>
<rect x="70.659" y="429.49" width="1.001" height="25.65" fill="#7b97ea"/>
<rect x="71.640" y="429.49" width="1.001" height="25.65" fill="#9cb1ef"/>
<rect x="72.621" y="429.49" width="1.001" height="25.65" fill="#4169e1"/>
<rect x="73.602" y="429.49" width="1.001" height="25.65" fill="#4169e1"/>
<rect x="74.583" y="429.49" width="1.001" height="25.65" fill="#f3cae4"/>
<rect x="75.564" y="429.49" width="1.001" height="25.65" fill="#efb9db"/>
<rect x="76.546" y="429.49" width="1.001" height="25.65" fill="#fae9f4"/>
<rect x="77.527" y="429.49" width="1.001" height="25.65" fill="#e3e9fb"/>
<rect x="78.508" y="429.49" width="1.001" height="25.65" fill="#829ceb"/>
<rect x="79.489" y="429.49" width="1.001" height="25.65" fill="#adbef2"/>
<rect x="80.470" y="429.49" width="1.001" height="25.65" fill="#fffeff"/>
<rect x="81.451" y="429.49" width="1.001" height="25.65" fill="#f7ddee"/>
<rect x="82.432" y="429.49" width="1.001" height="25.65" fill="#f4cee6"/>
<rect x="83.413" y="429.49" width="1.001" height="25.65" fill="#859fec"/>
<rect x="84.394" y="429.49" width="1.001" height="25.65" fill="#4169e1"/>
<rect x="85.376" y="429.49" width="1.001" height="25.65" fill="#8fa7ed"/>
<rect x="86.357" y="429.49" width="1.001" height="25.65" fill="#86a0ec"/>
<rect x="87.338" y="429.49" width="1.001" height="25.65" fill="#fafbfe"/>
<rect x="88.319" y="429.49" width="1.001" height="25.65" fill="#e5eafb"/>
<rect x="89.300" y="429.49" width="1.001" height="25.65" fill="#c7d2f6"/>
<rect x="90.281" y="429.49" width="1.001" height="25.65" fill="#b3c3f3"/>
<rect x="91.262" y="429.49" width="1.001" height="25.65" fill="#7894ea"/>
<rect x="92.243" y="429.49" width="1.001" height="25.65" fill="#b7c6f4"/>
<rect x="93.224" y="429.49" width="1.001" height="25.65" fill="#b6c5f3"/>
<rect x="94.206" y="429.49" width="1.001" height="25.65" fill="#f9e6f2"/>
<rect x="95.187" y="429.49" width="1.001" height="25.65" fill="#9fb3f0"/>
<rect x="96.168" y="429.49" width="1.001" height="25.65" fill="#b1c1f3"/>
<rect x="97.149" y="429.49" width="1.001" height="25.65" fill="#f5d3e8"/>
<rect x="98.130" y="429.49" width="1.001" height="25.65" fill="#eaa0cf"/>
<rect x="99.111" y="429.49" width="1.001" height="25.65" fill="#d6dff9"/>
<rect x="100.092" y="429.49" width="1.001" height="25.65" fill="#809beb"/>
<rect x="101.073" y="429.49" width="1.001" height="25.65" fill="#d8e0f9"/>
<rect x="102.054" y="429.49" width="1.001" height="25.65" fill="#eeb4d9"/>
<rect x="103.036" y="429.49" width="1.001" height="25.65" fill="#e99bcc"/>
<rect x="104.017" y="429.49" width="1.001" height="25.65" fill="#9bb0ef"/>
<rect x="104.998" y="429.49" width="1.001" height="25.65" fill="#6787e7"/>
<rect x="105.979" y="429.49" width="1.001" height="25.65" fill="#fcf2f8"/>
<rect x="106.960" y="429.49" width="1.001" height="25.65" fill="#88a1ec"/>
<rect x="107.941" y="429.49" width="1.001" height="25.65" fill="#eeb3d9"/>
<rect x="108.922" y="429.49" width="1.001" height="25.65" fill="#d0daf8"/>
<rect x="109.903" y="429.49" width="1.001" height="25.65" fill="#e5eafb"/>
<rect x="110.884" y="429.49" width="1.001" height="25.65" fill="#95abee"/>
<rect x="111.866" y="429.49" width="1.001" height="25.65" fill="#486fe2"/>
<rect x="112.847" y="429.49" width="1.001" height="25.65" fill="#b8c7f4"/>
<rect x="113.828" y="429.49" width="1.001" height="25.65" fill="#f3f6fd"/>
<rect x="114.809" y="429.49" width="1.001" height="25.65" fill="#dde4fa"/>
<rect x="115.790" y="429.49" width="1.001" height="25.65" fill="#f6d8eb"/>
<rect x="116.771" y="429.49" width="1.001" height="25.65" fill="#f1c1e0"/>
<rect x="117.752" y="429.49" width="1.001" height="25.65" fill="#7a96ea"/>
<rect x="118.733" y="429.49" width="1.001" height="25.65" fill="#e2e8fa"/>
<rect x="119.714" y="429.49" width="1.001" height="25.65" fill="#f1c0df"/>
<rect x="120.696" y="429.49" width="1.001" height="25.65" fill="#f1c3e1"/>
<rect x="121.677" y="429.49" width="1.001" height="25.65" fill="#f1c0df"/>
<rect x="122.658" y="429.49" width="1.001" height="25.65" fill="#e074b8"/>
<rect x="123.639" y="429.49" width="1.001" height="25.65" fill="#ecf0fc"/>
<rect x="124.620" y="429.49" width="1.001" height="25.65" fill="#f7dced"/>
<rect x="125.601" y="429.49" width="1.001" height="25.65" fill="#f9fafe"/>
<rect x="126.582" y="429.49" width="1.001" height="25.65" fill="#d852a8"/>
<rect x="127.563" y="429.49" width="1.001" height="25.65" fill="#b1c2f3"/>
<rect x="128.544" y="429.49" width="1.001" height="25.65" fill="#f8e2f0"/>
<rect x="129.526" y="429.49" width="1.001" height="25.65" fill="#e3e9fb"/>
<rect x="130.507" y="429.49" width="1.001" height="25.65" fill="#d852a8"/>
<rect x="131.488" y="429.49" width="1.001" height="25.65" fill="#5c7fe5"/>
<rect x="132.469" y="429.49" width="1.001" height="25.65" fill="#fcf0f7"/>
<rect x="133.450" y="429.49" width="1.001" height="25.65" fill="#acbdf2"/>
<rect x="134.431" y="429.49" width="1.001" height="25.65" fill="#b4c4f3"/>
<rect x="135.412" y="429.49" width="1.001" height="25.65" fill="#d956aa"/>
<rect x="136.393" y="429.49" width="1.001" height="25.65" fill="#dde4fa"/>
<rect x="137.374" y="429.49" width="1.001" height="25.65" fill="#f2f5fd"/>
<rect x="138.356" y="429.49" width="1.001" height="25.65" fill="#f5d1e8"/>
<rect x="139.337" y="429.49" width="1.001" height="25.65" fill="#f6d5ea"/>
<rect x="140.318" y="429.49" width="1.001" height="25.65" fill="#fbeff7"/>
<rect x="141.299" y="429.49" width="1.001" height="25.65" fill="#e1e7fa"/>
<rect x="142.280" y="429.49" width="1.001" height="25.65" fill="#eba7d2"/>
<rect x="143.261" y="429.49" width="1.001" height="25.65" fill="#eaa0cf"/>
<rect x="144.242" y="429.49" width="1.001" height="25.65" fill="#859fec"/>
<rect x="145.223" y="429.49" width="1.001" height="25.65" fill="#ecabd4"/>
<rect x="146.204" y="429.49" width="1.001" height="25.65" fill="#fefafc"/>
<rect x="147.186" y="429.49" width="1.001" height="25.65" fill="#f2c6e2"/>
<rect x="148.167" y="429.49" width="1.001" height="25.65" fill="#e690c7"/>
<rect x="149.148" y="429.49" width="1.001" height="25.65" fill="#c3cff5"/>
<rect x="150.129" y="429.49" width="1.001" height="25.65" fill="#819ceb"/>
<rect x="151.110" y="429.49" width="1.001" height="25.65" fill="#fefcfd"/>
<rect x="152.091" y="429.49" width="1.001" height="25.65" fill="#eff3fd"/>
<rect x="153.072" y="429.49" width="1.001" height="25.65" fill="#e99ccd"/>
<rect x="154.053" y="429.49" width="1.001" height="25.65" fill="#d852a7"/>
<rect x="155.034" y="429.49" width="1.001" height="25.65" fill="#e99fce"/>
<rect x="156.016" y="429.49" width="1.001" height="25.65" fill="#9aafef"/>
<rect x="156.997" y="429.49" width="1.001" height="25.65" fill="#a0b4f0"/>
<rect x="157.978" y="429.49" width="1.001" height="25.65" fill="#e076b9"/>
<rect x="158.959" y="429.49" width="1.001" height="25.65" fill="#f2c7e3"/>
<rect x="159.940" y="429.49" width="1.001" height="25.65" fill="#e0e7fa"/>
<rect x="160.921" y="429.49" width="1.001" height="25.65" fill="#ecabd5"/>
<rect x="161.902" y="429.49" width="1.001" height="25.65" fill="#d33a9b"/>
<rect x="162.883" y="429.49" width="1.001" height="25.65" fill="#eba4d1"/>
<rect x="163.864" y="429.49" width="1.001" height="25.65" fill="#da5bac"/>
<rect x="164.846" y="429.49" width="1.001" height="25.65" fill="#edaed6"/>
<rect x="165.827" y="429.49" width="1.001" height="25.65" fill="#fbeff7"/>
<rect x="166.808" y="429.49" width="1.001" height="25.65" fill="#e27ebd"/>
<rect x="167.789" y="429.49" width="1.001" height="25.65" fill="#edb1d8"/>
<rect x="168.770" y="429.49" width="1.001" height="25.65" fill="#ffffff"/>
<rect x="169.751" y="429.49" width="1.001" height="25.65" fill="#ecf0fc"/>
<rect x="170.732" y="429.49" width="1.001" height="25.65" fill="#f5d4e9"/>
<rect x="171.713" y="429.49" width="1.001" height="25.65" fill="#dbe3f9"/>
<rect x="172.694" y="429.49" width="1.001" height="25.65" fill="#eaeefc"/>
<rect x="173.676" y="429.49" width="1.001" height="25.65" fill="#f9e3f1"/>
<rect x="174.657" y="429.49" width="1.001" height="25.65" fill="#fcf1f8"/>
<rect x="175.638" y="429.49" width="1.001" height="25.65" fill="#d8e0f9"/>
<rect x="176.619" y="429.49" width="1.001" height="25.65" fill="#ced8f7"/>
<rect x="177.600" y="429.49" width="1.001" height="25.65" fill="#cc1c8c"/>
<rect x="178.581" y="429.49" width="1.001" height="25.65" fill="#e178ba"/>
<rect x="179.562" y="429.49" width="1.001" height="25.65" fill="#e17bbc"/>
<rect x="180.543" y="429.49" width="1.001" height="25.65" fill="#aebff2"/>
<rect x="181.524" y="429.49" width="1.001" height="25.65" fill="#f0bdde"/>
<rect x="182.506" y="429.49" width="1.001" height="25.65" fill="#c7d3f6"/>
<rect x="183.487" y="429.49" width="1.001" height="25.65" fill="#eca9d3"/>
<rect x="184.468" y="429.49" width="1.001" height="25.65" fill="#faeaf4"/>
<rect x="185.449" y="429.49" width="1.001" height="25.65" fill="#f7d9ec"/>
<rect x="186.430" y="429.49" width="1.001" height="25.65" fill="#4169e1"/>
<rect x="187.411" y="429.49" width="1.001" height="25.65" fill="#db60ae"/>
<rect x="188.392" y="429.49" width="1.001" height="25.65" fill="#ea9fcf"/>
<rect x="189.373" y="429.49" width="1.001" height="25.65" fill="#e99fce"/>
<rect x="190.354" y="429.49" width="1.001" height="25.65" fill="#f5d3e9"/>
<rect x="191.336" y="429.49" width="1.001" height="25.65" fill="#849eec"/>
<rect x="192.317" y="429.49" width="1.001" height="25.65" fill="#f3f6fd"/>
<rect x="193.298" y="429.49" width="1.001" height="25.65" fill="#f4cde6"/>
<rect x="194.279" y="429.49" width="1.001" height="25.65" fill="#e68fc6"/>
<rect x="195.260" y="429.49" width="1.001" height="25.65" fill="#f9e4f1"/>
<rect x="196.241" y="429.49" width="1.001" height="25.65" fill="#a0b4f0"/>
<rect x="197.222" y="429.49" width="1.001" height="25.65" fill="#d954a8"/>
<rect x="198.203" y="429.49" width="1.001" height="25.65" fill="#fbeff7"/>
<rect x="199.184" y="429.49" width="1.001" height="25.65" fill="#d13297"/>
<rect x="200.166" y="429.49" width="1.001" height="25.65" fill="#e68fc6"/>
<rect x="201.147" y="429.49" width="1.001" height="25.65" fill="#f6d9ec"/>
<rect x="202.128" y="429.49" width="1.001" height="25.65" fill="#d958aa"/>
<rect x="203.109" y="429.49" width="1.001" height="25.65" fill="#fae9f4"/>
<rect x="204.090" y="429.49" width="1.001" height="25.65" fill="#5075e3"/>
<rect x="205.071" y="429.49" width="1.001" height="25.65" fill="#fae9f4"/>
<rect x="206.052" y="429.49" width="1.001" height="25.65" fill="#f3cbe4"/>
<rect x="207.033" y="429.49" width="1.001" height="25.65" fill="#d7dff9"/>
<rect x="208.014" y="429.49" width="1.001" height="25.65" fill="#f1c2e0"/>
<rect x="208.996" y="429.49" width="1.001" height="25.65" fill="#efb8db"/>
<rect x="209.977" y="429.49" width="1.001" height="25.65" fill="#fbeef6"/>
<rect x="210.958" y="429.49" width="1.001" height="25.65" fill="#f4d0e7"/>
<rect x="211.939" y="429.49" width="1.001" height="25.65" fill="#f1bfde"/>
<rect x="212.920" y="429.49" width="1.001" height="25.65" fill="#eaa3d1"/>
<rect x="213.901" y="429.49" width="1.001" height="25.65" fill="#efb6da"/>
<rect x="214.882" y="429.49" width="1.001" height="25.65" fill="#f9e5f2"/>
<rect x="215.863" y="429.49" width="1.001" height="25.65" fill="#f1bfdf"/>
<rect x="216.844" y="429.49" width="1.001" height="25.65" fill="#f0bede"/>
<rect x="217.826" y="429.49" width="1.001" height="25.65" fill="#da5cad"/>
<rect x="218.807" y="429.49" width="1.001" height="25.65" fill="#edafd7"/>
<rect x="219.788" y="429.49" width="1.001" height="25.65" fill="#de6cb5"/>
<rect x="220.769" y="429.49" width="1.001" height="25.65" fill="#f4cfe7"/>
<rect x="221.750" y="429.49" width="1.001" height="25.65" fill="#d84fa6"/>
<rect x="222.731" y="429.49" width="1.001" height="25.65" fill="#df72b8"/>
<rect x="223.712" y="429.49" width="1.001" height="25.65" fill="#efb7db"/>
<rect x="224.693" y="429.49" width="1.001" height="25.65" fill="#e99bcc"/>
<rect x="225.674" y="429.49" width="1.001" height="25.65" fill="#e68fc6"/>
<rect x="226.656" y="429.49" width="1.001" height="25.65" fill="#ce2791"/>
<rect x="227.637" y="429.49" width="1.001" height="25.65" fill="#fbecf5"/>
<rect x="228.618" y="429.49" width="1.001" height="25.65" fill="#e58ac4"/>
<rect x="229.599" y="429.49" width="1.001" height="25.65" fill="#f3c9e4"/>
<rect x="230.580" y="429.49" width="1.001" height="25.65" fill="#eaeffc"/>
<rect x="231.561" y="429.49" width="1.001" height="25.65" fill="#df71b7"/>
<rect x="232.542" y="429.49" width="1.001" height="25.65" fill="#dbe3f9"/>
<rect x="233.523" y="429.49" width="1.001" height="25.65" fill="#eeb5da"/>
<rect x="234.504" y="429.49" width="1.001" height="25.65" fill="#da5cac"/>
<rect x="235.486" y="429.49" width="1.001" height="25.65" fill="#cc1c8c"/>
<rect x="236.467" y="429.49" width="1.001" height="25.65" fill="#fdf6fb"/>
<rect x="237.448" y="429.49" width="1.001" height="25.65" fill="#f5d4e9"/>
<rect x="238.429" y="429.49" width="1.001" height="25.65" fill="#f8e1f0"/>
<rect x="239.410" y="429.49" width="1.001" height="25.65" fill="#f1c1e0"/>
<rect x="240.391" y="429.49" width="1.001" height="25.65" fill="#db60af"/>
<rect x="241.372" y="429.49" width="1.001" height="25.65" fill="#e58cc5"/>
<rect x="242.353" y="429.49" width="1.001" height="25.65" fill="#edb1d8"/>
<rect x="243.334" y="429.49" width="1.001" height="25.65" fill="#e58ac4"/>
<rect x="244.316" y="429.49" width="1.001" height="25.65" fill="#efb9db"/>
<rect x="245.297" y="429.49" width="1.001" height="25.65" fill="#eca9d4"/>
<rect x="246.278" y="429.49" width="1.001" height="25.65" fill="#ecacd5"/>
<rect x="247.259" y="429.49" width="1.001" height="25.65" fill="#f6d6ea"/>
<rect x="248.240" y="429.49" width="1.001" height="25.65" fill="#ecabd4"/>
<rect x="249.221" y="429.49" width="1.001" height="25.65" fill="#f0bdde"/>
<rect x="250.202" y="429.49" width="1.001" height="25.65" fill="#d13096"/>
<rect x="251.183" y="429.49" width="1.001" height="25.65" fill="#d13196"/>
<rect x="252.164" y="429.49" width="1.001" height="25.65" fill="#de6db5"/>
<rect x="253.146" y="429.49" width="1.001" height="25.65" fill="#efbadc"/>
<rect x="254.127" y="429.49" width="1.001" height="25.65" fill="#cc1c8c"/>
<rect x="255.108" y="429.49" width="1.001" height="25.65" fill="#db61af"/>
<rect x="256.089" y="429.49" width="1.001" height="25.65" fill="#e384c1"/>
<rect x="257.070" y="429.49" width="1.001" height="25.65" fill="#e8edfb"/>
<rect x="258.051" y="429.49" width="1.001" height="25.65" fill="#df71b7"/>
<rect x="259.032" y="429.49" width="1.001" height="25.65" fill="#f7daec"/>
<rect x="260.013" y="429.49" width="1.001" height="25.65" fill="#cc1c8c"/>
<rect x="260.994" y="429.49" width="1.001" height="25.65" fill="#eeb5d9"/>
<rect x="261.976" y="429.49" width="1.001" height="25.65" fill="#e280bf"/>
<rect x="262.957" y="429.49" width="1.001" height="25.65" fill="#abbdf2"/>
<rect x="263.938" y="429.49" width="1.001" height="25.65" fill="#d02d95"/>
<rect x="264.919" y="429.49" width="1.001" height="25.65" fill="#f1c1e0"/>
<rect x="1.000" y="455.11" width="1.001" height="25.65" fill="#f9e4f1"/>
<rect x="1.981" y="455.11" width="1.001" height="25.65" fill="#d6def8"/>
<rect x="2.962" y="455.11" width="1.001" height="25.65" fill="#9bb0ef"/>
<rect x="3.943" y="455.11" width="1.001" height="25.65" fill="#acbef2"/>
<rect x="4.924" y="455.11" width="1.001" height="25.65" fill="#6a8ae8"/>
<rect x="5.906" y="455.11" width="1.001" height="25.65" fill="#f0bede"/>
<rect x="6.887" y="455.11" width="1.001" height="25.65" fill="#4169e1"/>
<rect x="7.868" y="455.11" width="1.001" height="25.65" fill="#4169e1"/>
<rect x="8.849" y="455.11" width="1.001" height="25.65" fill="#aebff2"/>
<rect x="9.830" y="455.11" width="1.001" height="25.65" fill="#7290e9"/>
<rect x="10.811" y="455.11" width="1.001" height="25.65" fill="#a5b8f1"/>
<rect x="11.792" y="455.11" width="1.001" height="25.65" fill="#91a8ee"/>
<rect x="12.773" y="455.11" width="1.001" height="25.65" fill="#dfe6fa"/>
<rect x="13.754" y="455.11" width="1.001" height="25.65" fill="#7592e9"/>
<rect x="14.736" y="455.11" width="1.001" height="25.65" fill="#c8d3f6"/>
<rect x="15.717" y="455.11" width="1.001" height="25.65" fill="#a7b9f1"/>
<rect x="16.698" y="455.11" width="1.001" height="25.65" fill="#aabcf2"/>
<rect x="17.679" y="455.11" width="1.001" height="25.65" fill="#829deb"/>
<rect x="18.660" y="455.11" width="1.001" height="25.65" fill="#fae7f3"/>
<rect x="19.641" y="455.11" width="1.001" height="25.65" fill="#4169e1"/>
<rect x="20.622" y="455.11" width="1.001" height="25.65" fill="#4169e1"/>
<rect x="21.603" y="455.11" width="1.001" height="25.65" fill="#a4b7f1"/>
<rect x="22.584" y="455.11" width="1.001" height="25.65" fill="#beccf5"/>
<rect x="23.566" y="455.11" width="1.001" height="25.65" fill="#fefcfd"/>
<rect x="24.547" y="455.11" width="1.001" height="25.65" fill="#e4eafb"/>
<rect x="25.528" y="455.11" width="1.001" height="25.65" fill="#f7f9fe"/>
<rect x="26.509" y="455.11" width="1.001" height="25.65" fill="#fefcfe"/>
<rect x="27.490" y="455.11" width="1.001" height="25.65" fill="#fbeef7"/>
<rect x="28.471" y="455.11" width="1.001" height="25.65" fill="#5b7ee5"/>
<rect x="29.452" y="455.11" width="1.001" height="25.65" fill="#b4c4f3"/>
<rect x="30.433" y="455.11" width="1.001" height="25.65" fill="#4169e1"/>
<rect x="31.414" y="455.11" width="1.001" height="25.65" fill="#e99fce"/>
<rect x="32.396" y="455.11" width="1.001" height="25.65" fill="#de6cb4"/>
<rect x="33.377" y="455.11" width="1.001" height="25.65" fill="#6182e6"/>
<rect x="34.358" y="455.11" width="1.001" height="25.65" fill="#9aafef"/>
<rect x="35.339" y="455.11" width="1.001" height="25.65" fill="#cfd9f7"/>
<rect x="36.320" y="455.11" width="1.001" height="25.65" fill="#fbeff7"/>
<rect x="37.301" y="455.11" width="1.001" height="25.65" fill="#efb8db"/>
<rect x="38.282" y="455.11" width="1.001" height="25.65" fill="#95abee"/>
<rect x="39.263" y="455.11" width="1.001" height="25.65" fill="#dde4fa"/>
<rect x="40.244" y="455.11" width="1.001" height="25.65" fill="#f2f5fd"/>
<rect x="41.226" y="455.11" width="1.001" height="25.65" fill="#a3b6f0"/>
<rect x="42.207" y="455.11" width="1.001" height="25.65" fill="#5e80e6"/>
<rect x="43.188" y="455.11" width="1.001" height="25.65" fill="#93a9ee"/>
<rect x="44.169" y="455.11" width="1.001" height="25.65" fill="#eef1fc"/>
<rect x="45.150" y="455.11" width="1.001" height="25.65" fill="#f8fafe"/>
<rect x="46.131" y="455.11" width="1.001" height="25.65" fill="#d1dbf8"/>
<rect x="47.112" y="455.11" width="1.001" height="25.65" fill="#496fe2"/>
<rect x="48.093" y="455.11" width="1.001" height="25.65" fill="#c1cef5"/>
<rect x="49.074" y="455.11" width="1.001" height="25.65" fill="#abbcf2"/>
<rect x="50.056" y="455.11" width="1.001" height="25.65" fill="#fefcfd"/>
<rect x="51.037" y="455.11" width="1.001" height="25.65" fill="#f5f7fd"/>
<rect x="52.018" y="455.11" width="1.001" height="25.65" fill="#809aeb"/>
<rect x="52.999" y="455.11" width="1.001" height="25.65" fill="#7390e9"/>
<rect x="53.980" y="455.11" width="1.001" height="25.65" fill="#a2b5f0"/>
<rect x="54.961" y="455.11" width="1.001" height="25.65" fill="#eba4d1"/>
<rect x="55.942" y="455.11" width="1.001" height="25.65" fill="#fcf1f8"/>
<rect x="56.923" y="455.11" width="1.001" height="25.65" fill="#597ce5"/>
<rect x="57.904" y="455.11" width="1.001" height="25.65" fill="#f7dbed"/>
<rect x="58.886" y="455.11" width="1.001" height="25.65" fill="#f5d1e7"/>
<rect x="59.867" y="455.11" width="1.001" height="25.65" fill="#5377e4"/>
<rect x="60.848" y="455.11" width="1.001" height="25.65" fill="#6b8ae8"/>
<rect x="61.829" y="455.11" width="1.001" height="25.65" fill="#becbf5"/>
<rect x="62.810" y="455.11" width="1.001" height="25.65" fill="#5679e4"/>
<rect x="63.791" y="455.11" width="1.001" height="25.65" fill="#4a70e2"/>
<rect x="64.772" y="455.11" width="1.001" height="25.65" fill="#f2c5e1"/>
<rect x="65.753" y="455.11" width="1.001" height="25.65" fill="#e076ba"/>
<rect x="66.734" y="455.11" width="1.001" height="25.65" fill="#6b8ae8"/>
<rect x="67.716" y="455.11" width="1.001" height="25.65" fill="#bccaf4"/>
<rect x="68.697" y="455.11" width="1.001" height="25.65" fill="#fcf2f9"/>
<rect x="69.678" y="455.11" width="1.001" height="25.65" fill="#fefbfd"/>
<rect x="70.659" y="455.11" width="1.001" height="25.65" fill="#edb0d7"/>
<rect x="71.640" y="455.11" width="1.001" height="25.65" fill="#fae9f4"/>
<rect x="72.621" y="455.11" width="1.001" height="25.65" fill="#c9d4f6"/>
<rect x="73.602" y="455.11" width="1.001" height="25.65" fill="#6d8ce8"/>
<rect x="74.583" y="455.11" width="1.001" height="25.65" fill="#fefeff"/>
<rect x="75.564" y="455.11" width="1.001" height="25.65" fill="#7995ea"/>
<rect x="76.546" y="455.11" width="1.001" height="25.65" fill="#faeaf4"/>
<rect x="77.527" y="455.11" width="1.001" height="25.65" fill="#8ca4ed"/>
<rect x="78.508" y="455.11" width="1.001" height="25.65" fill="#f3cbe5"/>
<rect x="79.489" y="455.11" width="1.001" height="25.65" fill="#e68ec6"/>
<rect x="80.470" y="455.11" width="1.001" height="25.65" fill="#ced8f7"/>
<rect x="81.451" y="455.11" width="1.001" height="25.65" fill="#f2c3e1"/>
<rect x="82.432" y="455.11" width="1.001" height="25.65" fill="#d0daf8"/>
<rect x="83.413" y="455.11" width="1.001" height="25.65" fill="#fdf4f9"/>
<rect x="84.394" y="455.11" width="1.001" height="25.65" fill="#fae8f3"/>
<rect x="85.376" y="455.11" width="1.001" height="25.65" fill="#f9fafe"/>
<rect x="86.357" y="455.11" width="1.001" height="25.65" fill="#e489c3"/>
<rect x="87.338" y="455.11" width="1.001" height="25.65" fill="#f9fbfe"/>
<rect x="88.319" y="455.11" width="1.001" height="25.65" fill="#edadd6"/>
<rect x="89.300" y="455.11" width="1.001" height="25.65" fill="#f3c9e4"/>
<rect x="90.281" y="455.11" width="1.001" height="25.65" fill="#bbc9f4"/>
<rect x="91.262" y="455.11" width="1.001" height="25.65" fill="#f4f6fd"/>
<rect x="92.243" y="455.11" width="1.001" height="25.65" fill="#de6bb4"/>
<rect x="93.224" y="455.11" width="1.001" height="25.65" fill="#fef9fc"/>
<rect x="94.206" y="455.11" width="1.001" height="25.65" fill="#dfe6fa"/>
<rect x="95.187" y="455.11" width="1.001" height="25.65" fill="#efb6da"/>
<rect x="96.168" y="455.11" width="1.001" height="25.65" fill="#4169e1"/>
<rect x="97.149" y="455.11" width="1.001" height="25.65" fill="#cad5f7"/>
<rect x="98.130" y="455.11" width="1.001" height="25.65" fill="#f4cfe7"/>
<rect x="99.111" y="455.11" width="1.001" height="25.65" fill="#f8fafe"/>
<rect x="100.092" y="455.11" width="1.001" height="25.65" fill="#f9e4f1"/>
<rect x="101.073" y="455.11" width="1.001" height="25.65" fill="#edf1fc"/>
<rect x="102.054" y="455.11" width="1.001" height="25.65" fill="#809beb"/>
<rect x="103.036" y="455.11" width="1.001" height="25.65" fill="#c1cef5"/>
<rect x="104.017" y="455.11" width="1.001" height="25.65" fill="#f5d2e8"/>
<rect x="104.998" y="455.11" width="1.001" height="25.65" fill="#d13197"/>
<rect x="105.979" y="455.11" width="1.001" height="25.65" fill="#4169e1"/>
<rect x="106.960" y="455.11" width="1.001" height="25.65" fill="#c1cef5"/>
<rect x="107.941" y="455.11" width="1.001" height="25.65" fill="#f8e2f0"/>
<rect x="108.922" y="455.11" width="1.001" height="25.65" fill="#cbd6f7"/>
<rect x="109.903" y="455.11" width="1.001" height="25.65" fill="#e58dc5"/>
<rect x="110.884" y="455.11" width="1.001" height="25.65" fill="#fcf0f8"/>
<rect x="111.866" y="455.11" width="1.001" height="25.65" fill="#bdcbf5"/>
<rect x="112.847" y="455.11" width="1.001" height="25.65" fill="#f9e4f1"/>
<rect x="113.828" y="455.11" width="1.001" height="25.65" fill="#fcf1f8"/>
<rect x="114.809" y="455.11" width="1.001" height="25.65" fill="#f5d2e8"/>
<rect x="115.790" y="455.11" width="1.001" height="25.65" fill="#426ae1"/>
<rect x="116.771" y="455.11" width="1.001" height="25.65" fill="#f4cde6"/>
<rect x="117.752" y="455.11" width="1.001" height="25.65" fill="#c0cdf5"/>
<rect x="118.733" y="455.11" width="1.001" height="25.65" fill="#f8fafe"/>
<rect x="119.714" y="455.11" width="1.001" height="25.65" fill="#e6ecfb"/>
<rect x="120.696" y="455.11" width="1.001" height="25.65" fill="#fefeff"/>
<rect x="121.677" y="455.11" width="1.001" height="25.65" fill="#8fa7ed"/>
<rect x="122.658" y="455.11" width="1.001" height="25.65" fill="#fef9fc"/>
<rect x="123.639" y="455.11" width="1.001" height="25.65" fill="#f7ddee"/>
<rect x="124.620" y="455.11" width="1.001" height="25.65" fill="#e382c0"/>
<rect x="125.601" y="455.11" width="1.001" height="25.65" fill="#ecaad4"/>
<rect x="126.582" y="455.11" width="1.001" height="25.65" fill="#859fec"/>
<rect x="127.563" y="455.11" width="1.001" height="25.65" fill="#faebf5"/>
<rect x="128.544" y="455.11" width="1.001" height="25.65" fill="#fdf5fa"/>
<rect x="129.526" y="455.11" width="1.001" height="25.65" fill="#eeb3d8"/>
<rect x="130.507" y="455.11" width="1.001" height="25.65" fill="#e6ebfb"/>
<rect x="131.488" y="455.11" width="1.001" height="25.65" fill="#d74da5"/>
<rect x="132.469" y="455.11" width="1.001" height="25.65" fill="#efb8db"/>
<rect x="133.450" y="455.11" width="1.001" height="25.65" fill="#829ceb"/>
<rect x="134.431" y="455.11" width="1.001" height="25.65" fill="#6888e7"/>
<rect x="135.412" y="455.11" width="1.001" height="25.65" fill="#b6c6f4"/>
<rect x="136.393" y="455.11" width="1.001" height="25.65" fill="#f3c8e3"/>
<rect x="137.374" y="455.11" width="1.001" height="25.65" fill="#f9e3f1"/>
<rect x="138.356" y="455.11" width="1.001" height="25.65" fill="#e99ece"/>
<rect x="139.337" y="455.11" width="1.001" height="25.65" fill="#88a1ec"/>
<rect x="140.318" y="455.11" width="1.001" height="25.65" fill="#d1dbf8"/>
<rect x="141.299" y="455.11" width="1.001" height="25.65" fill="#f0bcdd"/>
<rect x="142.280" y="455.11" width="1.001" height="25.65" fill="#fafbfe"/>
<rect x="143.261" y="455.11" width="1.001" height="25.65" fill="#fbfcfe"/>
<rect x="144.242" y="455.11" width="1.001" height="25.65" fill="#f5d2e8"/>
<rect x="145.223" y="455.11" width="1.001" height="25.65" fill="#e9edfb"/>
<rect x="146.204" y="455.11" width="1.001" height="25.65" fill="#fcf2f8"/>
<rect x="147.186" y="455.11" width="1.001" height="25.65" fill="#c7d3f6"/>
<rect x="148.167" y="455.11" width="1.001" height="25.65" fill="#91a8ee"/>
<rect x="149.148" y="455.11" width="1.001" height="25.65" fill="#f9e2f0"/>
<rect x="150.129" y="455.11" width="1.001" height="25.65" fill="#f9e4f1"/>
<rect x="151.110" y="455.11" width="1.001" height="25.65" fill="#f1c0df"/>
<rect x="152.091" y="455.11" width="1.001" height="25.65" fill="#fdf8fb"/>
<rect x="153.072" y="455.11" width="1.001" height="25.65" fill="#fdf6fa"/>
<rect x="154.053" y="455.11" width="1.001" height="25.65" fill="#8fa7ed"/>
<rect x="155.034" y="455.11" width="1.001" height="25.65" fill="#e385c1"/>
<rect x="156.016" y="455.11" width="1.001" height="25.65" fill="#fae8f3"/>
<rect x="156.997" y="455.11" width="1.001" height="25.65" fill="#eaa1cf"/>
<rect x="157.978" y="455.11" width="1.001" height="25.65" fill="#b3c3f3"/>
<rect x="158.959" y="455.11" width="1.001" height="25.65" fill="#efb8db"/>
<rect x="159.940" y="455.11" width="1.001" height="25.65" fill="#fbeff7"/>
<rect x="160.921" y="455.11" width="1.001" height="25.65" fill="#f7daec"/>
<rect x="161.902" y="455.11" width="1.001" height="25.65" fill="#93aaee"/>
<rect x="162.883" y="455.11" width="1.001" height="25.65" fill="#cf2792"/>
<rect x="163.864" y="455.11" width="1.001" height="25.65" fill="#b8c7f4"/>
<rect x="164.846" y="455.11" width="1.001" height="25.65" fill="#e0e6fa"/>
<rect x="165.827" y="455.11" width="1.001" height="25.65" fill="#e9eefc"/>
<rect x="166.808" y="455.11" width="1.001" height="25.65" fill="#df6fb6"/>
<rect x="167.789" y="455.11" width="1.001" height="25.65" fill="#eca9d3"/>
<rect x="168.770" y="455.11" width="1.001" height="25.65" fill="#e690c7"/>
<rect x="169.751" y="455.11" width="1.001" height="25.65" fill="#f3f5fd"/>
<rect x="170.732" y="455.11" width="1.001" height="25.65" fill="#faeaf4"/>
<rect x="171.713" y="455.11" width="1.001" height="25.65" fill="#c5d1f6"/>
<rect x="172.694" y="455.11" width="1.001" height="25.65" fill="#fae8f4"/>
<rect x="173.676" y="455.11" width="1.001" height="25.65" fill="#e58dc5"/>
<rect x="174.657" y="455.11" width="1.001" height="25.65" fill="#f8e0ef"/>
<rect x="175.638" y="455.11" width="1.001" height="25.65" fill="#f7daec"/>
<rect x="176.619" y="455.11" width="1.001" height="25.65" fill="#f0bede"/>
<rect x="177.600" y="455.11" width="1.001" height="25.65" fill="#f1f4fd"/>
<rect x="178.581" y="455.11" width="1.001" height="25.65" fill="#b5c4f3"/>
<rect x="179.562" y="455.11" width="1.001" height="25.65" fill="#b2c3f3"/>
<rect x="180.543" y="455.11" width="1.001" height="25.65" fill="#e68ec6"/>
<rect x="181.524" y="455.11" width="1.001" height="25.65" fill="#eba7d2"/>
<rect x="182.506" y="455.11" width="1.001" height="25.65" fill="#e6ecfb"/>
<rect x="183.487" y="455.11" width="1.001" height="25.65" fill="#6888e7"/>
<rect x="184.468" y="455.11" width="1.001" height="25.65" fill="#fef9fc"/>
<rect x="185.449" y="455.11" width="1.001" height="25.65" fill="#f9e5f2"/>
<rect x="186.430" y="455.11" width="1.001" height="25.65" fill="#e280bf"/>
<rect x="187.411" y="455.11" width="1.001" height="25.65" fill="#d3dcf8"/>
<rect x="188.392" y="455.11" width="1.001" height="25.65" fill="#f5d2e8"/>
<rect x="189.373" y="455.11" width="1.001" height="25.65" fill="#97adef"/>
<rect x="190.354" y="455.11" width="1.001" height="25.65" fill="#f0f3fd"/>
<rect x="191.336" y="455.11" width="1.001" height="25.65" fill="#e89acc"/>
<rect x="192.317" y="455.11" width="1.001" height="25.65" fill="#eaeffc"/>
<rect x="193.298" y="455.11" width="1.001" height="25.65" fill="#fcf1f8"/>
<rect x="194.279" y="455.11" width="1.001" height="25.65" fill="#d648a2"/>
<rect x="195.260" y="455.11" width="1.001" height="25.65" fill="#f9e5f2"/>
<rect x="196.241" y="455.11" width="1.001" height="25.65" fill="#ecf0fc"/>
<rect x="197.222" y="455.11" width="1.001" height="25.65" fill="#f3f5fd"/>
<rect x="198.203" y="455.11" width="1.001" height="25.65" fill="#efb9db"/>
<rect x="199.184" y="455.11" width="1.001" height="25.65" fill="#f8f9fe"/>
<rect x="200.166" y="455.11" width="1.001" height="25.65" fill="#f6d5ea"/>
<rect x="201.147" y="455.11" width="1.001" height="25.65" fill="#e691c7"/>
<rect x="202.128" y="455.11" width="1.001" height="25.65" fill="#edafd6"/>
<rect x="203.109" y="455.11" width="1.001" height="25.65" fill="#e68ec6"/>
<rect x="204.090" y="455.11" width="1.001" height="25.65" fill="#eba4d1"/>
<rect x="205.071" y="455.11" width="1.001" height="25.65" fill="#faeaf4"/>
<rect x="206.052" y="455.11" width="1.001" height="25.65" fill="#e488c3"/>
<rect x="207.033" y="455.11" width="1.001" height="25.65" fill="#d646a2"/>
<rect x="208.014" y="455.11" width="1.001" height="25.65" fill="#fdfdff"/>
<rect x="208.996" y="455.11" width="1.001" height="25.65" fill="#f5d1e8"/>
<rect x="209.977" y="455.11" width="1.001" height="25.65" fill="#cc1c8c"/>
<rect x="210.958" y="455.11" width="1.001" height="25.65" fill="#f5d0e7"/>
<rect x="211.939" y="455.11" width="1.001" height="25.65" fill="#f1bfdf"/>
<rect x="212.920" y="455.11" width="1.001" height="25.65" fill="#f9e2f0"/>
<rect x="213.901" y="455.11" width="1.001" height="25.65" fill="#efb8db"/>
<rect x="214.882" y="455.11" width="1.001" height="25.65" fill="#f8dfef"/>
<rect x="215.863" y="455.11" width="1.001" height="25.65" fill="#cc1c8c"/>
<rect x="216.844" y="455.11" width="1.001" height="25.65" fill="#476ee2"/>
<rect x="217.826" y="455.11" width="1.001" height="25.65" fill="#fbebf5"/>
<rect x="218.807" y="455.11" width="1.001" height="25.65" fill="#fdfdff"/>
<rect x="219.788" y="455.11" width="1.001" height="25.65" fill="#eaa0cf"/>
<rect x="220.769" y="455.11" width="1.001" height="25.65" fill="#eeb2d8"/>
<rect x="221.750" y="455.11" width="1.001" height="25.65" fill="#e17bbc"/>
<rect x="222.731" y="455.11" width="1.001" height="25.65" fill="#ecaad4"/>
<rect x="223.712" y="455.11" width="1.001" height="25.65" fill="#d5def8"/>
<rect x="224.693" y="455.11" width="1.001" height="25.65" fill="#e17bbc"/>
<rect x="225.674" y="455.11" width="1.001" height="25.65" fill="#ffffff"/>
<rect x="226.656" y="455.11" width="1.001" height="25.65" fill="#d33c9c"/>
<rect x="227.637" y="455.11" width="1.001" height="25.65" fill="#c2cff5"/>
<rect x="228.618" y="455.11" width="1.001" height="25.65" fill="#d647a2"/>
<rect x="229.599" y="455.11" width="1.001" height="25.65" fill="#e27dbd"/>
<rect x="230.580" y="455.11" width="1.001" height="25.65" fill="#df6eb6"/>
<rect x="231.561" y="455.11" width="1.001" height="25.65" fill="#e690c7"/>
<rect x="232.542" y="455.11" width="1.001" height="25.65" fill="#db60af"/>
<rect x="233.523" y="455.11" width="1.001" height="25.65" fill="#db5dad"/>
<rect x="234.504" y="455.11" width="1.001" height="25.65" fill="#e898cb"/>
<rect x="235.486" y="455.11" width="1.001" height="25.65" fill="#e897ca"/>
<rect x="236.467" y="455.11" width="1.001" height="25.65" fill="#f0bbdc"/>
<rect x="237.448" y="455.11" width="1.001" height="25.65" fill="#cfd9f7"/>
<rect x="238.429" y="455.11" width="1.001" height="25.65" fill="#d647a2"/>
<rect x="239.410" y="455.11" width="1.001" height="25.65" fill="#b5c4f3"/>
<rect x="240.391" y="455.11" width="1.001" height="25.65" fill="#f5d1e8"/>
<rect x="241.372" y="455.11" width="1.001" height="25.65" fill="#b4c4f3"/>
<rect x="242.353" y="455.11" width="1.001" height="25.65" fill="#f1c2e0"/>
<rect x="243.334" y="455.11" width="1.001" height="25.65" fill="#d852a7"/>
<rect x="244.316" y="455.11" width="1.001" height="25.65" fill="#fefbfd"/>
<rect x="245.297" y="455.11" width="1.001" height="25.65" fill="#f1c1e0"/>
<rect x="246.278" y="455.11" width="1.001" height="25.65" fill="#f8f9fe"/>
<rect x="247.259" y="455.11" width="1.001" height="25.65" fill="#e792c8"/>
<rect x="248.240" y="455.11" width="1.001" height="25.65" fill="#f1bfdf"/>
<rect x="249.221" y="455.11" width="1.001" height="25.65" fill="#ecaad4"/>
<rect x="250.202" y="455.11" width="1.001" height="25.65" fill="#d853a8"/>
<rect x="251.183" y="455.11" width="1.001" height="25.65" fill="#d23599"/>
<rect x="252.164" y="455.11" width="1.001" height="25.65" fill="#e382c0"/>
<rect x="253.146" y="455.11" width="1.001" height="25.65" fill="#f5d2e8"/>
<rect x="254.127" y="455.11" width="1.001" height="25.65" fill="#e17abb"/>
<rect x="255.108" y="455.11" width="1.001" height="25.65" fill="#e380bf"/>
<rect x="256.089" y="455.11" width="1.001" height="25.65" fill="#dd67b2"/>
<rect x="257.070" y="455.11" width="1.001" height="25.65" fill="#f9e6f2"/>
<rect x="258.051" y="455.11" width="1.001" height="25.65" fill="#d647a2"/>
<rect x="259.032" y="455.11" width="1.001" height="25.65" fill="#eeb4d9"/>
<rect x="260.013" y="455.11" width="1.001" height="25.65" fill="#d43e9d"/>
<rect x="260.994" y="455.11" width="1.001" height="25.65" fill="#d64aa3"/>
<rect x="261.976" y="455.11" width="1.001" height="25.65" fill="#d64aa3"/>
<rect x="262.957" y="455.11" width="1.001" height="25.65" fill="#d850a6"/>
<rect x="263.938" y="455.11" width="1.001" height="25.65" fill="#cd1f8d"/>
<rect x="264.919" y="455.11" width="1.001" height="25.65" fill="#ecabd4"/>
<rect x="1.000" y="480.74" width="1.001" height="25.65" fill="#f5f7fd"/>
<rect x="1.981" y="480.74" width="1.001" height="25.65" fill="#7894ea"/>
<rect x="2.962" y="480.74" width="1.001" height="25.65" fill="#fcf4f9"/>
<rect x="3.943" y="480.74" width="1.001" height="25.65" fill="#e8edfb"/>
<rect x="4.924" y="480.74" width="1.001" height="25.65" fill="#f4cee6"/>
<rect x="5.906" y="480.74" width="1.001" height="25.65" fill="#5478e4"/>
<rect x="6.887" y="480.74" width="1.001" height="25.65" fill="#99afef"/>
<rect x="7.868" y="480.74" width="1.001" height="25.65" fill="#b4c4f3"/>
<rect x="8.849" y="480.74" width="1.001" height="25.65" fill="#4169e1"/>
<rect x="9.830" y="480.74" width="1.001" height="25.65" fill="#e7ecfb"/>
<rect x="10.811" y="480.74" width="1.001" height="25.65" fill="#eaa0cf"/>
<rect x="11.792" y="480.74" width="1.001" height="25.65" fill="#efb9dc"/>
<rect x="12.773" y="480.74" width="1.001" height="25.65" fill="#efb6da"/>
<rect x="13.754" y="480.74" width="1.001" height="25.65" fill="#fbecf5"/>
<rect x="14.736" y="480.74" width="1.001" height="25.65" fill="#e489c3"/>
<rect x="15.717" y="480.74" width="1.001" height="25.65" fill="#e4eafb"/>
<rect x="16.698" y="480.74" width="1.001" height="25.65" fill="#a2b6f0"/>
<rect x="17.679" y="480.74" width="1.001" height="25.65" fill="#f3cae4"/>
<rect x="18.660" y="480.74" width="1.001" height="25.65" fill="#eeb5d9"/>
<rect x="19.641" y="480.74" width="1.001" height="25.65" fill="#f3f6fd"/>
<rect x="20.622" y="480.74" width="1.001" height="25.65" fill="#f9e5f2"/>
<rect x="21.603" y="480.74" width="1.001" height="25.65" fill="#cdd7f7"/>
<rect x="22.584" y="480.74" width="1.001" height="25.65" fill="#e9edfb"/>
<rect x="23.566" y="480.74" width="1.001" height="25.65" fill="#a1b5f0"/>
<rect x="24.547" y="480.74" width="1.001" height="25.65" fill="#eeb5da"/>
<rect x="25.528" y="480.74" width="1.001" height="25.65" fill="#ebeffc"/>
<rect x="26.509" y="480.74" width="1.001" height="25.65" fill="#bac8f4"/>
<rect x="27.490" y="480.74" width="1.001" height="25.65" fill="#ecacd5"/>
<rect x="28.471" y="480.74" width="1.001" height="25.65" fill="#f8f9fe"/>
<rect x="29.452" y="480.74" width="1.001" height="25.65" fill="#dee5fa"/>
<rect x="30.433" y="480.74" width="1.001" height="25.65" fill="#9fb3f0"/>
<rect x="31.414" y="480.74" width="1.001" height="25.65" fill="#f5d3e9"/>
<rect x="32.396" y="480.74" width="1.001" height="25.65" fill="#cdd8f7"/>
<rect x="33.377" y="480.74" width="1.001" height="25.65" fill="#f9fafe"/>
<rect x="34.358" y="480.74" width="1.001" height="25.65" fill="#fcf4f9"/>
<rect x="35.339" y="480.74" width="1.001" height="25.65" fill="#fffdfe"/>
<rect x="36.320" y="480.74" width="1.001" height="25.65" fill="#f5d1e8"/>
<rect x="37.301" y="480.74" width="1.001" height="25.65" fill="#f3f6fd"/>
<rect x="38.282" y="480.74" width="1.001" height="25.65" fill="#f4cfe7"/>
<rect x="39.263" y="480.74" width="1.001" height="25.65" fill="#dce3f9"/>
<rect x="40.244" y="480.74" width="1.001" height="25.65" fill="#bdcbf5"/>
<rect x="41.226" y="480.74" width="1.001" height="25.65" fill="#dee5fa"/>
<rect x="42.207" y="480.74" width="1.001" height="25.65" fill="#f2c6e2"/>
<rect x="43.188" y="480.74" width="1.001" height="25.65" fill="#d7dff9"/>
<rect x="44.169" y="480.74" width="1.001" height="25.65" fill="#b8c7f4"/>
<rect x="45.150" y="480.74" width="1.001" height="25.65" fill="#8ea6ed"/>
<rect x="46.131" y="480.74" width="1.001" height="25.65" fill="#a3b6f0"/>
<rect x="47.112" y="480.74" width="1.001" height="25.65" fill="#b4c4f3"/>
<rect x="48.093" y="480.74" width="1.001" height="25.65" fill="#4169e1"/>
<rect x="49.074" y="480.74" width="1.001" height="25.65" fill="#e8edfb"/>
<rect x="50.056" y="480.74" width="1.001" height="25.65" fill="#e9eefc"/>
<rect x="51.037" y="480.74" width="1.001" height="25.65" fill="#f8dfef"/>
<rect x="52.018" y="480.74" width="1.001" height="25.65" fill="#ffffff"/>
<rect x="52.999" y="480.74" width="1.001" height="25.65" fill="#9cb1ef"/>
<rect x="53.980" y="480.74" width="1.001" height="25.65" fill="#ccd7f7"/>
<rect x="54.961" y="480.74" width="1.001" height="25.65" fill="#a2b5f0"/>
<rect x="55.942" y="480.74" width="1.001" height="25.65" fill="#aebff2"/>
<rect x="56.923" y="480.74" width="1.001" height="25.65" fill="#eba5d2"/>
<rect x="57.904" y="480.74" width="1.001" height="25.65" fill="#f9fafe"/>
<rect x="58.886" y="480.74" width="1.001" height="25.65" fill="#8fa7ed"/>
<rect x="59.867" y="480.74" width="1.001" height="25.65" fill="#829deb"/>
<rect x="60.848" y="480.74" width="1.001" height="25.65" fill="#f2f5fd"/>
<rect x="61.829" y="480.74" width="1.001" height="25.65" fill="#e4eafb"/>
<rect x="62.810" y="480.74" width="1.001" height="25.65" fill="#fbecf5"/>
<rect x="63.791" y="480.74" width="1.001" height="25.65" fill="#fdf8fb"/>
<rect x="64.772" y="480.74" width="1.001" height="25.65" fill="#6585e7"/>
<rect x="65.753" y="480.74" width="1.001" height="25.65" fill="#fdf5fa"/>
<rect x="66.734" y="480.74" width="1.001" height="25.65" fill="#6888e7"/>
<rect x="67.716" y="480.74" width="1.001" height="25.65" fill="#97adef"/>
<rect x="68.697" y="480.74" width="1.001" height="25.65" fill="#6384e6"/>
<rect x="69.678" y="480.74" width="1.001" height="25.65" fill="#e3e9fb"/>
<rect x="70.659" y="480.74" width="1.001" height="25.65" fill="#f5d1e8"/>
<rect x="71.640" y="480.74" width="1.001" height="25.65" fill="#a7b9f1"/>
<rect x="72.621" y="480.74" width="1.001" height="25.65" fill="#fefdfe"/>
<rect x="73.602" y="480.74" width="1.001" height="25.65" fill="#7a96ea"/>
<rect x="74.583" y="480.74" width="1.001" height="25.65" fill="#e383c0"/>
<rect x="75.564" y="480.74" width="1.001" height="25.65" fill="#da5aab"/>
<rect x="76.546" y="480.74" width="1.001" height="25.65" fill="#96acee"/>
<rect x="77.527" y="480.74" width="1.001" height="25.65" fill="#88a1ec"/>
<rect x="78.508" y="480.74" width="1.001" height="25.65" fill="#bac8f4"/>
<rect x="79.489" y="480.74" width="1.001" height="25.65" fill="#9cb1ef"/>
<rect x="80.470" y="480.74" width="1.001" height="25.65" fill="#fdf7fb"/>
<rect x="81.451" y="480.74" width="1.001" height="25.65" fill="#e58ac4"/>
<rect x="82.432" y="480.74" width="1.001" height="25.65" fill="#a5b8f1"/>
<rect x="83.413" y="480.74" width="1.001" height="25.65" fill="#e9eefc"/>
<rect x="84.394" y="480.74" width="1.001" height="25.65" fill="#6686e7"/>
<rect x="85.376" y="480.74" width="1.001" height="25.65" fill="#4169e1"/>
<rect x="86.357" y="480.74" width="1.001" height="25.65" fill="#dfe6fa"/>
<rect x="87.338" y="480.74" width="1.001" height="25.65" fill="#f1c3e0"/>
<rect x="88.319" y="480.74" width="1.001" height="25.65" fill="#7794ea"/>
<rect x="89.300" y="480.74" width="1.001" height="25.65" fill="#f0bcdd"/>
<rect x="90.281" y="480.74" width="1.001" height="25.65" fill="#adbef2"/>
<rect x="91.262" y="480.74" width="1.001" height="25.65" fill="#fae9f4"/>
<rect x="92.243" y="480.74" width="1.001" height="25.65" fill="#6d8ce8"/>
<rect x="93.224" y="480.74" width="1.001" height="25.65" fill="#4169e1"/>
<rect x="94.206" y="480.74" width="1.001" height="25.65" fill="#a4b7f1"/>
<rect x="95.187" y="480.74" width="1.001" height="25.65" fill="#4169e1"/>
<rect x="96.168" y="480.74" width="1.001" height="25.65" fill="#fbeef6"/>
<rect x="97.149" y="480.74" width="1.001" height="25.65" fill="#cdd8f7"/>
<rect x="98.130" y="480.74" width="1.001" height="25.65" fill="#d4409e"/>
<rect x="99.111" y="480.74" width="1.001" height="25.65" fill="#d4ddf8"/>
<rect x="100.092" y="480.74" width="1.001" height="25.65" fill="#a0b4f0"/>
<rect x="101.073" y="480.74" width="1.001" height="25.65" fill="#beccf5"/>
<rect x="102.054" y="480.74" width="1.001" height="25.65" fill="#99aeef"/>
<rect x="103.036" y="480.74" width="1.001" height="25.65" fill="#fefafc"/>
<rect x="104.017" y="480.74" width="1.001" height="25.65" fill="#fafbfe"/>
<rect x="104.998" y="480.74" width="1.001" height="25.65" fill="#4169e1"/>
<rect x="105.979" y="480.74" width="1.001" height="25.65" fill="#f3cae4"/>
<rect x="106.960" y="480.74" width="1.001" height="25.65" fill="#e9eefc"/>
<rect x="107.941" y="480.74" width="1.001" height="25.65" fill="#eeb3d8"/>
<rect x="108.922" y="480.74" width="1.001" height="25.65" fill="#afbff2"/>
<rect x="109.903" y="480.74" width="1.001" height="25.65" fill="#f7f9fe"/>
<rect x="110.884" y="480.74" width="1.001" height="25.65" fill="#c9d5f7"/>
<rect x="111.866" y="480.74" width="1.001" height="25.65" fill="#9cb1ef"/>
<rect x="112.847" y="480.74" width="1.001" height="25.65" fill="#e27cbd"/>
<rect x="113.828" y="480.74" width="1.001" height="25.65" fill="#fae9f4"/>
<rect x="114.809" y="480.74" width="1.001" height="25.65" fill="#e8edfb"/>
<rect x="115.790" y="480.74" width="1.001" height="25.65" fill="#cbd6f7"/>
<rect x="116.771" y="480.74" width="1.001" height="25.65" fill="#9cb1ef"/>
<rect x="117.752" y="480.74" width="1.001" height="25.65" fill="#ffffff"/>
<rect x="118.733" y="480.74" width="1.001" height="25.65" fill="#bdcbf5"/>
<rect x="119.714" y="480.74" width="1.001" height="25.65" fill="#a8bbf1"/>
<rect x="120.696" y="480.74" width="1.001" height="25.65" fill="#e2e8fa"/>
<rect x="121.677" y="480.74" width="1.001" height="25.65" fill="#d1daf8"/>
<rect x="122.658" y="480.74" width="1.001" height="25.65" fill="#ecadd5"/>
<rect x="123.639" y="480.74" width="1.001" height="25.65" fill="#a5b8f1"/>
<rect x="124.620" y="480.74" width="1.001" height="25.65" fill="#6787e7"/>
<rect x="125.601" y="480.74" width="1.001" height="25.65" fill="#eeb3d9"/>
<rect x="126.582" y="480.74" width="1.001" height="25.65" fill="#eaeefc"/>
<rect x="127.563" y="480.74" width="1.001" height="25.65" fill="#a1b5f0"/>
<rect x="128.544" y="480.74" width="1.001" height="25.65" fill="#eca9d3"/>
<rect x="129.526" y="480.74" width="1.001" height="25.65" fill="#f4cde6"/>
<rect x="130.507" y="480.74" width="1.001" height="25.65" fill="#5075e3"/>
<rect x="131.488" y="480.74" width="1.001" height="25.65" fill="#f1bfde"/>
<rect x="132.469" y="480.74" width="1.001" height="25.65" fill="#edaed6"/>
<rect x="133.450" y="480.74" width="1.001" height="25.65" fill="#e58bc4"/>
<rect x="134.431" y="480.74" width="1.001" height="25.65" fill="#faeaf4"/>
<rect x="135.412" y="480.74" width="1.001" height="25.65" fill="#c2cff5"/>
<rect x="136.393" y="480.74" width="1.001" height="25.65" fill="#f1f4fd"/>
<rect x="137.374" y="480.74" width="1.001" height="25.65" fill="#e795c9"/>
<rect x="138.356" y="480.74" width="1.001" height="25.65" fill="#e1e7fa"/>
<rect x="139.337" y="480.74" width="1.001" height="25.65" fill="#eba8d3"/>
<rect x="140.318" y="480.74" width="1.001" height="25.65" fill="#a0b4f0"/>
<rect x="141.299" y="480.74" width="1.001" height="25.65" fill="#e7ecfb"/>
<rect x="142.280" y="480.74" width="1.001" height="25.65" fill="#f5d3e9"/>
<rect x="143.261" y="480.74" width="1.001" height="25.65" fill="#f5d4e9"/>
<rect x="144.242" y="480.74" width="1.001" height="25.65" fill="#f3cbe5"/>
<rect x="145.223" y="480.74" width="1.001" height="25.65" fill="#6686e7"/>
<rect x="146.204" y="480.74" width="1.001" height="25.65" fill="#e89bcc"/>
<rect x="147.186" y="480.74" width="1.001" height="25.65" fill="#eeb5d9"/>
<rect x="148.167" y="480.74" width="1.001" height="25.65" fill="#edadd6"/>
<rect x="149.148" y="480.74" width="1.001" height="25.65" fill="#aabcf2"/>
<rect x="150.129" y="480.74" width="1.001" height="25.65" fill="#e793c8"/>
<rect x="151.110" y="480.74" width="1.001" height="25.65" fill="#e3e9fb"/>
<rect x="152.091" y="480.74" width="1.001" height="25.65" fill="#a8baf1"/>
<rect x="153.072" y="480.74" width="1.001" height="25.65" fill="#faebf5"/>
<rect x="154.053" y="480.74" width="1.001" height="25.65" fill="#91a8ee"/>
<rect x="155.034" y="480.74" width="1.001" height="25.65" fill="#c2cff5"/>
<rect x="156.016" y="480.74" width="1.001" height="25.65" fill="#f3c9e4"/>
<rect x="156.997" y="480.74" width="1.001" height="25.65" fill="#fefafc"/>
<rect x="157.978" y="480.74" width="1.001" height="25.65" fill="#b1c2f3"/>
<rect x="158.959" y="480.74" width="1.001" height="25.65" fill="#da59ab"/>
<rect x="159.940" y="480.74" width="1.001" height="25.65" fill="#ecf0fc"/>
<rect x="160.921" y="480.74" width="1.001" height="25.65" fill="#c4d0f6"/>
<rect x="161.902" y="480.74" width="1.001" height="25.65" fill="#eef2fc"/>
<rect x="162.883" y="480.74" width="1.001" height="25.65" fill="#fffdfe"/>
<rect x="163.864" y="480.74" width="1.001" height="25.65" fill="#f9e3f1"/>
<rect x="164.846" y="480.74" width="1.001" height="25.65" fill="#f7ddee"/>
<rect x="165.827" y="480.74" width="1.001" height="25.65" fill="#f6d5ea"/>
<rect x="166.808" y="480.74" width="1.001" height="25.65" fill="#e9eefc"/>
<rect x="167.789" y="480.74" width="1.001" height="25.65" fill="#dbe2f9"/>
<rect x="168.770" y="480.74" width="1.001" height="25.65" fill="#efb7da"/>
<rect x="169.751" y="480.74" width="1.001" height="25.65" fill="#fdf5fa"/>
<rect x="170.732" y="480.74" width="1.001" height="25.65" fill="#f5f7fd"/>
<rect x="171.713" y="480.74" width="1.001" height="25.65" fill="#efb6da"/>
<rect x="172.694" y="480.74" width="1.001" height="25.65" fill="#f9e5f2"/>
<rect x="173.676" y="480.74" width="1.001" height="25.65" fill="#ccd7f7"/>
<rect x="174.657" y="480.74" width="1.001" height="25.65" fill="#f7f9fe"/>
<rect x="175.638" y="480.74" width="1.001" height="25.65" fill="#eca9d3"/>
<rect x="176.619" y="480.74" width="1.001" height="25.65" fill="#f2c5e1"/>
<rect x="177.600" y="480.74" width="1.001" height="25.65" fill="#fcf0f7"/>
<rect x="178.581" y="480.74" width="1.001" height="25.65" fill="#db5dad"/>
<rect x="179.562" y="480.74" width="1.001" height="25.65" fill="#f9e5f2"/>
<rect x="180.543" y="480.74" width="1.001" height="25.65" fill="#fcf0f8"/>
<rect x="181.524" y="480.74" width="1.001" height="25.65" fill="#f3cbe5"/>
<rect x="182.506" y="480.74" width="1.001" height="25.65" fill="#fefeff"/>
<rect x="183.487" y="480.74" width="1.001" height="25.65" fill="#d8e0f9"/>
<rect x="184.468" y="480.74" width="1.001" height="25.65" fill="#eca8d3"/>
<rect x="185.449" y="480.74" width="1.001" height="25.65" fill="#eeb3d9"/>
<rect x="186.430" y="480.74" width="1.001" height="25.65" fill="#f5d2e8"/>
<rect x="187.411" y="480.74" width="1.001" height="25.65" fill="#f8deee"/>
<rect x="188.392" y="480.74" width="1.001" height="25.65" fill="#a2b5f0"/>
<rect x="189.373" y="480.74" width="1.001" height="25.65" fill="#eaa0cf"/>
<rect x="190.354" y="480.74" width="1.001" height="25.65" fill="#476ee2"/>
<rect x="191.336" y="480.74" width="1.001" height="25.65" fill="#e99dcd"/>
<rect x="192.317" y="480.74" width="1.001" height="25.65" fill="#fffeff"/>
<rect x="193.298" y="480.74" width="1.001" height="25.65" fill="#e9eefc"/>
<rect x="194.279" y="480.74" width="1.001" height="25.65" fill="#c5d1f6"/>
<rect x="195.260" y="480.74" width="1.001" height="25.65" fill="#efb9dc"/>
<rect x="196.241" y="480.74" width="1.001" height="25.65" fill="#d4419f"/>
<rect x="197.222" y="480.74" width="1.001" height="25.65" fill="#de6db5"/>
<rect x="198.203" y="480.74" width="1.001" height="25.65" fill="#f8fafe"/>
<rect x="199.184" y="480.74" width="1.001" height="25.65" fill="#f0bbdc"/>
<rect x="200.166" y="480.74" width="1.001" height="25.65" fill="#f4f7fd"/>
<rect x="201.147" y="480.74" width="1.001" height="25.65" fill="#e99ccd"/>
<rect x="202.128" y="480.74" width="1.001" height="25.65" fill="#fcfdff"/>
<rect x="203.109" y="480.74" width="1.001" height="25.65" fill="#f9e7f3"/>
<rect x="204.090" y="480.74" width="1.001" height="25.65" fill="#db5dad"/>
<rect x="205.071" y="480.74" width="1.001" height="25.65" fill="#f6f8fe"/>
<rect x="206.052" y="480.74" width="1.001" height="25.65" fill="#fefbfd"/>
<rect x="207.033" y="480.74" width="1.001" height="25.65" fill="#e179bb"/>
<rect x="208.014" y="480.74" width="1.001" height="25.65" fill="#c4d0f6"/>
<rect x="208.996" y="480.74" width="1.001" height="25.65" fill="#90a7ed"/>
<rect x="209.977" y="480.74" width="1.001" height="25.65" fill="#f6d5ea"/>
<rect x="210.958" y="480.74" width="1.001" height="25.65" fill="#fefbfd"/>
<rect x="211.939" y="480.74" width="1.001" height="25.65" fill="#e487c2"/>
<rect x="212.920" y="480.74" width="1.001" height="25.65" fill="#df6eb6"/>
<rect x="213.901" y="480.74" width="1.001" height="25.65" fill="#f0bdde"/>
<rect x="214.882" y="480.74" width="1.001" height="25.65" fill="#d546a1"/>
<rect x="215.863" y="480.74" width="1.001" height="25.65" fill="#d3399b"/>
<rect x="216.844" y="480.74" width="1.001" height="25.65" fill="#f4cce5"/>
<rect x="217.826" y="480.74" width="1.001" height="25.65" fill="#fdf4f9"/>
<rect x="218.807" y="480.74" width="1.001" height="25.65" fill="#e383c0"/>
<rect x="219.788" y="480.74" width="1.001" height="25.65" fill="#d8e0f9"/>
<rect x="220.769" y="480.74" width="1.001" height="25.65" fill="#eef1fc"/>
<rect x="221.750" y="480.74" width="1.001" height="25.65" fill="#e68ec6"/>
<rect x="222.731" y="480.74" width="1.001" height="25.65" fill="#d649a3"/>
<rect x="223.712" y="480.74" width="1.001" height="25.65" fill="#f3cae4"/>
<rect x="224.693" y="480.74" width="1.001" height="25.65" fill="#dc63b0"/>
<rect x="225.674" y="480.74" width="1.001" height="25.65" fill="#df72b8"/>
<rect x="226.656" y="480.74" width="1.001" height="25.65" fill="#fbedf6"/>
<rect x="227.637" y="480.74" width="1.001" height="25.65" fill="#cc1c8c"/>
<rect x="228.618" y="480.74" width="1.001" height="25.65" fill="#fcf3f9"/>
<rect x="229.599" y="480.74" width="1.001" height="25.65" fill="#e384c1"/>
<rect x="230.580" y="480.74" width="1.001" height="25.65" fill="#e796ca"/>
<rect x="231.561" y="480.74" width="1.001" height="25.65" fill="#cbd6f7"/>
<rect x="232.542" y="480.74" width="1.001" height="25.65" fill="#d13498"/>
<rect x="233.523" y="480.74" width="1.001" height="25.65" fill="#dc65b1"/>
<rect x="234.504" y="480.74" width="1.001" height="25.65" fill="#d33c9c"/>
<rect x="235.486" y="480.74" width="1.001" height="25.65" fill="#f3cbe5"/>
<rect x="236.467" y="480.74" width="1.001" height="25.65" fill="#f0bede"/>
<rect x="237.448" y="480.74" width="1.001" height="25.65" fill="#cc1c8c"/>
<rect x="238.429" y="480.74" width="1.001" height="25.65" fill="#d543a0"/>
<rect x="239.410" y="480.74" width="1.001" height="25.65" fill="#e075b9"/>
<rect x="240.391" y="480.74" width="1.001" height="25.65" fill="#e178bb"/>
<rect x="241.372" y="480.74" width="1.001" height="25.65" fill="#d23599"/>
<rect x="242.353" y="480.74" width="1.001" height="25.65" fill="#d8e0f9"/>
<rect x="243.334" y="480.74" width="1.001" height="25.65" fill="#d13398"/>
<rect x="244.316" y="480.74" width="1.001" height="25.65" fill="#d543a0"/>
<rect x="245.297" y="480.74" width="1.001" height="25.65" fill="#de6cb5"/>
<rect x="246.278" y="480.74" width="1.001" height="25.65" fill="#e99ece"/>
<rect x="247.259" y="480.74" width="1.001" height="25.65" fill="#de6cb5"/>
<rect x="248.240" y="480.74" width="1.001" height="25.65" fill="#d74fa6"/>
<rect x="249.221" y="480.74" width="1.001" height="25.65" fill="#fdf5fa"/>
<rect x="250.202" y="480.74" width="1.001" height="25.65" fill="#f4cfe7"/>
<rect x="251.183" y="480.74" width="1.001" height="25.65" fill="#d4409e"/>
<rect x="252.164" y="480.74" width="1.001" height="25.65" fill="#edadd6"/>
<rect x="253.146" y="480.74" width="1.001" height="25.65" fill="#e488c3"/>
<rect x="254.127" y="480.74" width="1.001" height="25.65" fill="#e99ccd"/>
<rect x="255.108" y="480.74" width="1.001" height="25.65" fill="#e27fbe"/>
<rect x="256.089" y="480.74" width="1.001" height="25.65" fill="#cc1c8c"/>
<rect x="257.070" y="480.74" width="1.001" height="25.65" fill="#d13498"/>
<rect x="258.051" y="480.74" width="1.001" height="25.65" fill="#e384c1"/>
<rect x="259.032" y="480.74" width="1.001" height="25.65" fill="#f6d6ea"/>
<rect x="260.013" y="480.74" width="1.001" height="25.65" fill="#cc1c8c"/>
<rect x="260.994" y="480.74" width="1.001" height="25.65" fill="#e27fbe"/>
<rect x="261.976" y="480.74" width="1.001" height="25.65" fill="#da59ab"/>
<rect x="262.957" y="480.74" width="1.001" height="25.65" fill="#e178bb"/>
<rect x="263.938" y="480.74" width="1.001" height="25.65" fill="#d853a8"/>
<rect x="264.919" y="480.74" width="1.001" height="25.65" fill="#faeaf4"/>
<rect x="1.000" y="506.37" width="1.001" height="25.65" fill="#4169e1"/>
<rect x="1.981" y="506.37" width="1.001" height="25.65" fill="#c3d0f6"/>
<rect x="2.962" y="506.37" width="1.001" height="25.65" fill="#eff3fd"/>
<rect x="3.943" y="506.37" width="1.001" height="25.65" fill="#4e73e3"/>
<rect x="4.924" y="506.37" width="1.001" height="25.65" fill="#a6b9f1"/>
<rect x="5.906" y="506.37" width="1.001" height="25.65" fill="#7895ea"/>
<rect x="6.887" y="506.37" width="1.001" height="25.65" fill="#4169e1"/>
<rect x="7.868" y="506.37" width="1.001" height="25.65" fill="#7794ea"/>
<rect x="8.849" y="506.37" width="1.001" height="25.65" fill="#c3cff5"/>
<rect x="9.830" y="506.37" width="1.001" height="25.65" fill="#4169e1"/>
<rect x="10.811" y="506.37" width="1.001" height="25.65" fill="#5579e4"/>
<rect x="11.792" y="506.37" width="1.001" height="25.65" fill="#5277e4"/>
<rect x="12.773" y="506.37" width="1.001" height="25.65" fill="#7995ea"/>
<rect x="13.754" y="506.37" width="1.001" height="25.65" fill="#4169e1"/>
<rect x="14.736" y="506.37" width="1.001" height="25.65" fill="#f7f8fe"/>
<rect x="15.717" y="506.37" width="1.001" height="25.65" fill="#819ceb"/>
<rect x="16.698" y="506.37" width="1.001" height="25.65" fill="#c1cef5"/>
<rect x="17.679" y="506.37" width="1.001" height="25.65" fill="#f9e2f0"/>
<rect x="18.660" y="506.37" width="1.001" height="25.65" fill="#5c7ee5"/>
<rect x="19.641" y="506.37" width="1.001" height="25.65" fill="#98aeef"/>
<rect x="20.622" y="506.37" width="1.001" height="25.65" fill="#f1f4fd"/>
<rect x="21.603" y="506.37" width="1.001" height="25.65" fill="#7290e9"/>
<rect x="22.584" y="506.37" width="1.001" height="25.65" fill="#aabcf2"/>
<rect x="23.566" y="506.37" width="1.001" height="25.65" fill="#c1cef5"/>
<rect x="24.547" y="506.37" width="1.001" height="25.65" fill="#88a1ec"/>
<rect x="25.528" y="506.37" width="1.001" height="25.65" fill="#eca9d4"/>
<rect x="26.509" y="506.37" width="1.001" height="25.65" fill="#98aeef"/>
<rect x="27.490" y="506.37" width="1.001" height="25.65" fill="#7995ea"/>
<rect x="28.471" y="506.37" width="1.001" height="25.65" fill="#7894ea"/>
<rect x="29.452" y="506.37" width="1.001" height="25.65" fill="#446ce2"/>
<rect x="30.433" y="506.37" width="1.001" height="25.65" fill="#4169e1"/>
<rect x="31.414" y="506.37" width="1.001" height="25.65" fill="#cbd6f7"/>
<rect x="32.396" y="506.37" width="1.001" height="25.65" fill="#7f9aeb"/>
<rect x="33.377" y="506.37" width="1.001" height="25.65" fill="#dce3f9"/>
<rect x="34.358" y="506.37" width="1.001" height="25.65" fill="#f7dced"/>
<rect x="35.339" y="506.37" width="1.001" height="25.65" fill="#5277e4"/>
<rect x="36.320" y="506.37" width="1.001" height="25.65" fill="#dee5fa"/>
<rect x="37.301" y="506.37" width="1.001" height="25.65" fill="#4169e1"/>
<rect x="38.282" y="506.37" width="1.001" height="25.65" fill="#f6d8eb"/>
<rect x="39.263" y="506.37" width="1.001" height="25.65" fill="#7290e9"/>
<rect x="40.244" y="506.37" width="1.001" height="25.65" fill="#97adef"/>
<rect x="41.226" y="506.37" width="1.001" height="25.65" fill="#4e74e3"/>
<rect x="42.207" y="506.37" width="1.001" height="25.65" fill="#5e80e6"/>
<rect x="43.188" y="506.37" width="1.001" height="25.65" fill="#4169e1"/>
<rect x="44.169" y="506.37" width="1.001" height="25.65" fill="#4169e1"/>
<rect x="45.150" y="506.37" width="1.001" height="25.65" fill="#5e80e6"/>
<rect x="46.131" y="506.37" width="1.001" height="25.65" fill="#cbd6f7"/>
<rect x="47.112" y="506.37" width="1.001" height="25.65" fill="#f8f9fe"/>
<rect x="48.093" y="506.37" width="1.001" height="25.65" fill="#4169e1"/>
<rect x="49.074" y="506.37" width="1.001" height="25.65" fill="#849eec"/>
<rect x="50.056" y="506.37" width="1.001" height="25.65" fill="#5e80e6"/>
<rect x="51.037" y="506.37" width="1.001" height="25.65" fill="#98aeef"/>
<rect x="52.018" y="506.37" width="1.001" height="25.65" fill="#fdf6fb"/>
<rect x="52.999" y="506.37" width="1.001" height="25.65" fill="#99aeef"/>
<rect x="53.980" y="506.37" width="1.001" height="25.65" fill="#f8dfef"/>
<rect x="54.961" y="506.37" width="1.001" height="25.65" fill="#fae8f3"/>
<rect x="55.942" y="506.37" width="1.001" height="25.65" fill="#4169e1"/>
<rect x="56.923" y="506.37" width="1.001" height="25.65" fill="#efbadc"/>
<rect x="57.904" y="506.37" width="1.001" height="25.65" fill="#f3c7e3"/>
<rect x="58.886" y="506.37" width="1.001" height="25.65" fill="#c3d0f6"/>
<rect x="59.867" y="506.37" width="1.001" height="25.65" fill="#6a89e7"/>
<rect x="60.848" y="506.37" width="1.001" height="25.65" fill="#4169e1"/>
<rect x="61.829" y="506.37" width="1.001" height="25.65" fill="#fbeff7"/>
<rect x="62.810" y="506.37" width="1.001" height="25.65" fill="#c1cef5"/>
<rect x="63.791" y="506.37" width="1.001" height="25.65" fill="#5d7fe5"/>
<rect x="64.772" y="506.37" width="1.001" height="25.65" fill="#a8baf1"/>
<rect x="65.753" y="506.37" width="1.001" height="25.65" fill="#fbebf5"/>
<rect x="66.734" y="506.37" width="1.001" height="25.65" fill="#edf1fc"/>
<rect x="67.716" y="506.37" width="1.001" height="25.65" fill="#4169e1"/>
<rect x="68.697" y="506.37" width="1.001" height="25.65" fill="#e796ca"/>
<rect x="69.678" y="506.37" width="1.001" height="25.65" fill="#b7c6f4"/>
<rect x="70.659" y="506.37" width="1.001" height="25.65" fill="#fdf7fb"/>
<rect x="71.640" y="506.37" width="1.001" height="25.65" fill="#95abee"/>
<rect x="72.621" y="506.37" width="1.001" height="25.65" fill="#87a0ec"/>
<rect x="73.602" y="506.37" width="1.001" height="25.65" fill="#c7d3f6"/>
<rect x="74.583" y="506.37" width="1.001" height="25.65" fill="#d1dbf8"/>
<rect x="75.564" y="506.37" width="1.001" height="25.65" fill="#fcf2f8"/>
<rect x="76.546" y="506.37" width="1.001" height="25.65" fill="#4169e1"/>
<rect x="77.527" y="506.37" width="1.001" height="25.65" fill="#e9eefc"/>
<rect x="78.508" y="506.37" width="1.001" height="25.65" fill="#e6ebfb"/>
<rect x="79.489" y="506.37" width="1.001" height="25.65" fill="#a5b8f1"/>
<rect x="80.470" y="506.37" width="1.001" height="25.65" fill="#9bb0ef"/>
<rect x="81.451" y="506.37" width="1.001" height="25.65" fill="#ecf0fc"/>
<rect x="82.432" y="506.37" width="1.001" height="25.65" fill="#cdd7f7"/>
<rect x="83.413" y="506.37" width="1.001" height="25.65" fill="#c3d0f6"/>
<rect x="84.394" y="506.37" width="1.001" height="25.65" fill="#7693e9"/>
<rect x="85.376" y="506.37" width="1.001" height="25.65" fill="#bac8f4"/>
<rect x="86.357" y="506.37" width="1.001" height="25.65" fill="#869fec"/>
<rect x="87.338" y="506.37" width="1.001" height="25.65" fill="#6384e6"/>
<rect x="88.319" y="506.37" width="1.001" height="25.65" fill="#5a7de5"/>
<rect x="89.300" y="506.37" width="1.001" height="25.65" fill="#9cb1ef"/>
<rect x="90.281" y="506.37" width="1.001" height="25.65" fill="#97adef"/>
<rect x="91.262" y="506.37" width="1.001" height="25.65" fill="#809beb"/>
<rect x="92.243" y="506.37" width="1.001" height="25.65" fill="#d3dcf8"/>
<rect x="93.224" y="506.37" width="1.001" height="25.65" fill="#a2b5f0"/>
<rect x="94.206" y="506.37" width="1.001" height="25.65" fill="#fceff7"/>
<rect x="95.187" y="506.37" width="1.001" height="25.65" fill="#f9fbfe"/>
<rect x="96.168" y="506.37" width="1.001" height="25.65" fill="#abbdf2"/>
<rect x="97.149" y="506.37" width="1.001" height="25.65" fill="#4f74e3"/>
<rect x="98.130" y="506.37" width="1.001" height="25.65" fill="#f6d5ea"/>
<rect x="99.111" y="506.37" width="1.001" height="25.65" fill="#edaed6"/>
<rect x="100.092" y="506.37" width="1.001" height="25.65" fill="#f9e6f2"/>
<rect x="101.073" y="506.37" width="1.001" height="25.65" fill="#f3cae4"/>
<rect x="102.054" y="506.37" width="1.001" height="25.65" fill="#8ca4ed"/>
<rect x="103.036" y="506.37" width="1.001" height="25.65" fill="#f6d5ea"/>
<rect x="104.017" y="506.37" width="1.001" height="25.65" fill="#a8bbf1"/>
<rect x="104.998" y="506.37" width="1.001" height="25.65" fill="#fcf3f9"/>
<rect x="105.979" y="506.37" width="1.001" height="25.65" fill="#4169e1"/>
<rect x="106.960" y="506.37" width="1.001" height="25.65" fill="#7693e9"/>
<rect x="107.941" y="506.37" width="1.001" height="25.65" fill="#dee5fa"/>
<rect x="108.922" y="506.37" width="1.001" height="25.65" fill="#eba4d1"/>
<rect x="109.903" y="506.37" width="1.001" height="25.65" fill="#b5c5f3"/>
<rect x="110.884" y="506.37" width="1.001" height="25.65" fill="#859eec"/>
<rect x="111.866" y="506.37" width="1.001" height="25.65" fill="#dee5fa"/>
<rect x="112.847" y="506.37" width="1.001" height="25.65" fill="#b1c1f3"/>
<rect x="113.828" y="506.37" width="1.001" height="25.65" fill="#4169e1"/>
<rect x="114.809" y="506.37" width="1.001" height="25.65" fill="#809beb"/>
<rect x="115.790" y="506.37" width="1.001" height="25.65" fill="#e4eafb"/>
<rect x="116.771" y="506.37" width="1.001" height="25.65" fill="#ced8f7"/>
<rect x="117.752" y="506.37" width="1.001" height="25.65" fill="#e8edfb"/>
<rect x="118.733" y="506.37" width="1.001" height="25.65" fill="#f6d6ea"/>
<rect x="119.714" y="506.37" width="1.001" height="25.65" fill="#6a8ae8"/>
<rect x="120.696" y="506.37" width="1.001" height="25.65" fill="#8ca4ed"/>
<rect x="121.677" y="506.37" width="1.001" height="25.65" fill="#8ba3ed"/>
<rect x="122.658" y="506.37" width="1.001" height="25.65" fill="#fbedf6"/>
<rect x="123.639" y="506.37" width="1.001" height="25.65" fill="#98aeef"/>
<rect x="124.620" y="506.37" width="1.001" height="25.65" fill="#b7c6f4"/>
<rect x="125.601" y="506.37" width="1.001" height="25.65" fill="#d7e0f9"/>
<rect x="126.582" y="506.37" width="1.001" height="25.65" fill="#7b97ea"/>
<rect x="127.563" y="506.37" width="1.001" height="25.65" fill="#c9d5f7"/>
<rect x="128.544" y="506.37" width="1.001" height="25.65" fill="#c2cff5"/>
<rect x="129.526" y="506.37" width="1.001" height="25.65" fill="#e3e9fb"/>
<rect x="130.507" y="506.37" width="1.001" height="25.65" fill="#f7f9fe"/>
<rect x="131.488" y="506.37" width="1.001" height="25.65" fill="#faeaf4"/>
<rect x="132.469" y="506.37" width="1.001" height="25.65" fill="#96acee"/>
<rect x="133.450" y="506.37" width="1.001" height="25.65" fill="#f3cae4"/>
<rect x="134.431" y="506.37" width="1.001" height="25.65" fill="#b0c0f2"/>
<rect x="135.412" y="506.37" width="1.001" height="25.65" fill="#e89acc"/>
<rect x="136.393" y="506.37" width="1.001" height="25.65" fill="#b8c7f4"/>
<rect x="137.374" y="506.37" width="1.001" height="25.65" fill="#f0bbdd"/>
<rect x="138.356" y="506.37" width="1.001" height="25.65" fill="#f7d9ec"/>
<rect x="139.337" y="506.37" width="1.001" height="25.65" fill="#e795c9"/>
<rect x="140.318" y="506.37" width="1.001" height="25.65" fill="#fae9f4"/>
<rect x="141.299" y="506.37" width="1.001" height="25.65" fill="#f0bbdc"/>
<rect x="142.280" y="506.37" width="1.001" height="25.65" fill="#99aeef"/>
<rect x="143.261" y="506.37" width="1.001" height="25.65" fill="#f0bede"/>
<rect x="144.242" y="506.37" width="1.001" height="25.65" fill="#cfd9f7"/>
<rect x="145.223" y="506.37" width="1.001" height="25.65" fill="#fdf4fa"/>
<rect x="146.204" y="506.37" width="1.001" height="25.65" fill="#93aaee"/>
<rect x="147.186" y="506.37" width="1.001" height="25.65" fill="#d7e0f9"/>
<rect x="148.167" y="506.37" width="1.001" height="25.65" fill="#f8e1f0"/>
<rect x="149.148" y="506.37" width="1.001" height="25.65" fill="#f1c1df"/>
<rect x="150.129" y="506.37" width="1.001" height="25.65" fill="#eeb6da"/>
<rect x="151.110" y="506.37" width="1.001" height="25.65" fill="#dbe3f9"/>
<rect x="152.091" y="506.37" width="1.001" height="25.65" fill="#b8c7f4"/>
<rect x="153.072" y="506.37" width="1.001" height="25.65" fill="#f2f5fd"/>
<rect x="154.053" y="506.37" width="1.001" height="25.65" fill="#ccd7f7"/>
<rect x="155.034" y="506.37" width="1.001" height="25.65" fill="#faebf5"/>
<rect x="156.016" y="506.37" width="1.001" height="25.65" fill="#e89acc"/>
<rect x="156.997" y="506.37" width="1.001" height="25.65" fill="#e27cbc"/>
<rect x="157.978" y="506.37" width="1.001" height="25.65" fill="#c1cef5"/>
<rect x="158.959" y="506.37" width="1.001" height="25.65" fill="#5f80e6"/>
<rect x="159.940" y="506.37" width="1.001" height="25.65" fill="#6e8de8"/>
<rect x="160.921" y="506.37" width="1.001" height="25.65" fill="#f8dfef"/>
<rect x="161.902" y="506.37" width="1.001" height="25.65" fill="#4169e1"/>
<rect x="162.883" y="506.37" width="1.001" height="25.65" fill="#f9e5f2"/>
<rect x="163.864" y="506.37" width="1.001" height="25.65" fill="#f0bddd"/>
<rect x="164.846" y="506.37" width="1.001" height="25.65" fill="#eaa2d0"/>
<rect x="165.827" y="506.37" width="1.001" height="25.65" fill="#f5d4e9"/>
<rect x="166.808" y="506.37" width="1.001" height="25.65" fill="#c5d2f6"/>
<rect x="167.789" y="506.37" width="1.001" height="25.65" fill="#7693e9"/>
<rect x="168.770" y="506.37" width="1.001" height="25.65" fill="#dce3f9"/>
<rect x="169.751" y="506.37" width="1.001" height="25.65" fill="#f6d5ea"/>
<rect x="170.732" y="506.37" width="1.001" height="25.65" fill="#f0bdde"/>
<rect x="171.713" y="506.37" width="1.001" height="25.65" fill="#dd68b2"/>
<rect x="172.694" y="506.37" width="1.001" height="25.65" fill="#f4cde6"/>
<rect x="173.676" y="506.37" width="1.001" height="25.65" fill="#ea9fcf"/>
<rect x="174.657" y="506.37" width="1.001" height="25.65" fill="#fbedf6"/>
<rect x="175.638" y="506.37" width="1.001" height="25.65" fill="#cad5f7"/>
<rect x="176.619" y="506.37" width="1.001" height="25.65" fill="#f7daec"/>
<rect x="177.600" y="506.37" width="1.001" height="25.65" fill="#839deb"/>
<rect x="178.581" y="506.37" width="1.001" height="25.65" fill="#f4d0e7"/>
<rect x="179.562" y="506.37" width="1.001" height="25.65" fill="#e382c0"/>
<rect x="180.543" y="506.37" width="1.001" height="25.65" fill="#dee5fa"/>
<rect x="181.524" y="506.37" width="1.001" height="25.65" fill="#6c8be8"/>
<rect x="182.506" y="506.37" width="1.001" height="25.65" fill="#eeb4d9"/>
<rect x="183.487" y="506.37" width="1.001" height="25.65" fill="#e8edfb"/>
<rect x="184.468" y="506.37" width="1.001" height="25.65" fill="#efb8db"/>
<rect x="185.449" y="506.37" width="1.001" height="25.65" fill="#afc0f2"/>
<rect x="186.430" y="506.37" width="1.001" height="25.65" fill="#f0bdde"/>
<rect x="187.411" y="506.37" width="1.001" height="25.65" fill="#f1c0df"/>
<rect x="188.392" y="506.37" width="1.001" height="25.65" fill="#d543a0"/>
<rect x="189.373" y="506.37" width="1.001" height="25.65" fill="#f8dfef"/>
<rect x="190.354" y="506.37" width="1.001" height="25.65" fill="#eeb4d9"/>
<rect x="191.336" y="506.37" width="1.001" height="25.65" fill="#ffffff"/>
<rect x="192.317" y="506.37" width="1.001" height="25.65" fill="#8ba3ed"/>
<rect x="193.298" y="506.37" width="1.001" height="25.65" fill="#cc1c8c"/>
<rect x="194.279" y="506.37" width="1.001" height="25.65" fill="#b6c5f3"/>
<rect x="195.260" y="506.37" width="1.001" height="25.65" fill="#cc1c8c"/>
<rect x="196.241" y="506.37" width="1.001" height="25.65" fill="#e27fbe"/>
<rect x="197.222" y="506.37" width="1.001" height="25.65" fill="#d13297"/>
<rect x="198.203" y="506.37" width="1.001" height="25.65" fill="#d6dff9"/>
<rect x="199.184" y="506.37" width="1.001" height="25.65" fill="#d4429f"/>
<rect x="200.166" y="506.37" width="1.001" height="25.65" fill="#efb6da"/>
<rect x="201.147" y="506.37" width="1.001" height="25.65" fill="#e381bf"/>
<rect x="202.128" y="506.37" width="1.001" height="25.65" fill="#cc1c8c"/>
<rect x="203.109" y="506.37" width="1.001" height="25.65" fill="#f0bddd"/>
<rect x="204.090" y="506.37" width="1.001" height="25.65" fill="#e89bcc"/>
<rect x="205.071" y="506.37" width="1.001" height="25.65" fill="#d9e1f9"/>
<rect x="206.052" y="506.37" width="1.001" height="25.65" fill="#fdf7fb"/>
<rect x="207.033" y="506.37" width="1.001" height="25.65" fill="#f7f9fe"/>
<rect x="208.014" y="506.37" width="1.001" height="25.65" fill="#f2c3e1"/>
<rect x="208.996" y="506.37" width="1.001" height="25.65" fill="#d2379a"/>
<rect x="209.977" y="506.37" width="1.001" height="25.65" fill="#e178bb"/>
<rect x="210.958" y="506.37" width="1.001" height="25.65" fill="#d4419f"/>
<rect x="211.939" y="506.37" width="1.001" height="25.65" fill="#eba7d2"/>
<rect x="212.920" y="506.37" width="1.001" height="25.65" fill="#db60af"/>
<rect x="213.901" y="506.37" width="1.001" height="25.65" fill="#e075b9"/>
<rect x="214.882" y="506.37" width="1.001" height="25.65" fill="#f8dfef"/>
<rect x="215.863" y="506.37" width="1.001" height="25.65" fill="#f2c6e2"/>
<rect x="216.844" y="506.37" width="1.001" height="25.65" fill="#eba5d1"/>
<rect x="217.826" y="506.37" width="1.001" height="25.65" fill="#f9e6f2"/>
<rect x="218.807" y="506.37" width="1.001" height="25.65" fill="#de6eb6"/>
<rect x="219.788" y="506.37" width="1.001" height="25.65" fill="#f9e3f1"/>
<rect x="220.769" y="506.37" width="1.001" height="25.65" fill="#f2c7e3"/>
<rect x="221.750" y="506.37" width="1.001" height="25.65" fill="#fdf7fb"/>
<rect x="222.731" y="506.37" width="1.001" height="25.65" fill="#eeb2d8"/>
<rect x="223.712" y="506.37" width="1.001" height="25.65" fill="#e381bf"/>
<rect x="224.693" y="506.37" width="1.001" height="25.65" fill="#efb6da"/>
<rect x="225.674" y="506.37" width="1.001" height="25.65" fill="#eeb2d8"/>
<rect x="226.656" y="506.37" width="1.001" height="25.65" fill="#fcf3f9"/>
<rect x="227.637" y="506.37" width="1.001" height="25.65" fill="#e68fc6"/>
<rect x="228.618" y="506.37" width="1.001" height="25.65" fill="#edafd7"/>
<rect x="229.599" y="506.37" width="1.001" height="25.65" fill="#dc61af"/>
<rect x="230.580" y="506.37" width="1.001" height="25.65" fill="#afc0f2"/>
<rect x="231.561" y="506.37" width="1.001" height="25.65" fill="#e68fc6"/>
<rect x="232.542" y="506.37" width="1.001" height="25.65" fill="#e489c3"/>
<rect x="233.523" y="506.37" width="1.001" height="25.65" fill="#f8e0ef"/>
<rect x="234.504" y="506.37" width="1.001" height="25.65" fill="#fefcfd"/>
<rect x="235.486" y="506.37" width="1.001" height="25.65" fill="#f7dced"/>
<rect x="236.467" y="506.37" width="1.001" height="25.65" fill="#edaed6"/>
<rect x="237.448" y="506.37" width="1.001" height="25.65" fill="#f1f4fd"/>
<rect x="238.429" y="506.37" width="1.001" height="25.65" fill="#de6eb6"/>
<rect x="239.410" y="506.37" width="1.001" height="25.65" fill="#e486c2"/>
<rect x="240.391" y="506.37" width="1.001" height="25.65" fill="#e488c3"/>
<rect x="241.372" y="506.37" width="1.001" height="25.65" fill="#f6d5ea"/>
<rect x="242.353" y="506.37" width="1.001" height="25.65" fill="#edafd6"/>
<rect x="243.334" y="506.37" width="1.001" height="25.65" fill="#eaa1cf"/>
<rect x="244.316" y="506.37" width="1.001" height="25.65" fill="#f4d0e7"/>
<rect x="245.297" y="506.37" width="1.001" height="25.65" fill="#eeb5da"/>
<rect x="246.278" y="506.37" width="1.001" height="25.65" fill="#e485c1"/>
<rect x="247.259" y="506.37" width="1.001" height="25.65" fill="#e68fc6"/>
<rect x="248.240" y="506.37" width="1.001" height="25.65" fill="#e58bc4"/>
<rect x="249.221" y="506.37" width="1.001" height="25.65" fill="#d02e95"/>
<rect x="250.202" y="506.37" width="1.001" height="25.65" fill="#e692c8"/>
<rect x="251.183" y="506.37" width="1.001" height="25.65" fill="#eba7d2"/>
<rect x="252.164" y="506.37" width="1.001" height="25.65" fill="#f7ddee"/>
<rect x="253.146" y="506.37" width="1.001" height="25.65" fill="#e795c9"/>
<rect x="254.127" y="506.37" width="1.001" height="25.65" fill="#fdf7fb"/>
<rect x="255.108" y="506.37" width="1.001" height="25.65" fill="#f9e2f0"/>
<rect x="256.089" y="506.37" width="1.001" height="25.65" fill="#da5cac"/>
<rect x="257.070" y="506.37" width="1.001" height="25.65" fill="#df72b8"/>
<rect x="258.051" y="506.37" width="1.001" height="25.65" fill="#d43f9e"/>
<rect x="259.032" y="506.37" width="1.001" height="25.65" fill="#fbecf5"/>
<rect x="260.013" y="506.37" width="1.001" height="25.65" fill="#db5eae"/>
<rect x="260.994" y="506.37" width="1.001" height="25.65" fill="#d2399a"/>
<rect x="261.976" y="506.37" width="1.001" height="25.65" fill="#eeb1d8"/>
<rect x="262.957" y="506.37" width="1.001" height="25.65" fill="#de6eb5"/>
<rect x="263.938" y="506.37" width="1.001" height="25.65" fill="#fae7f3"/>
<rect x="264.919" y="506.37" width="1.001" height="25.65" fill="#da59ab"/>
</g>
<text x="267.7" y="348.3" font-size="5.2" text-anchor="start" dominant-baseline="central" font-weight="bold" fill="#000">Risk</text>
<text x="268.0" y="365.3" font-size="5.3" text-anchor="start" dominant-baseline="central" font-weight="normal" fill="#000">NM_033547</text>
<text x="268.0" y="390.83000000000004" font-size="5.3" text-anchor="start" dominant-baseline="central" font-weight="normal" fill="#000">NM_006076</text>
<text x="268.0" y="416.36" font-size="5.3" text-anchor="start" dominant-baseline="central" font-weight="normal" fill="#000">NM_078469</text>
<text x="268.0" y="441.89" font-size="5.3" text-anchor="start" dominant-baseline="central" font-weight="normal" fill="#000">NM_024330</text>
<text x="268.0" y="467.42" font-size="5.3" text-anchor="start" dominant-baseline="central" font-weight="normal" fill="#000">NM_004073</text>
<text x="268.0" y="492.95000000000005" font-size="5.3" text-anchor="start" dominant-baseline="central" font-weight="normal" fill="#000">NM_005144</text>
<text x="268.0" y="518.48" font-size="5.3" text-anchor="start" dominant-baseline="central" font-weight="normal" fill="#000">NM_000362</text>
<defs><linearGradient id="gc" x1="0" y1="0" x2="0" y2="1"><stop offset="0" stop-color="rgb(204, 28, 140)"/><stop offset="0.32" stop-color="rgb(204, 28, 140)"/><stop offset="0.49" stop-color="#fff"/><stop offset="0.645" stop-color="rgb(65, 105, 225)"/><stop offset="1" stop-color="rgb(65, 105, 225)"/></linearGradient></defs>
<rect x="301.9" y="345.1" width="6.600000000000023" height="100.69999999999999" fill="url(#gc)"/>
<text x="311.0" y="360.2" font-size="5.2" text-anchor="start" dominant-baseline="central" font-weight="normal" fill="#000">4</text>
<text x="311.0" y="378.2" font-size="5.2" text-anchor="start" dominant-baseline="central" font-weight="normal" fill="#000">2</text>
<text x="311.0" y="395.3" font-size="5.2" text-anchor="start" dominant-baseline="central" font-weight="normal" fill="#000">0</text>
<text x="311.0" y="413.4" font-size="5.2" text-anchor="start" dominant-baseline="central" font-weight="normal" fill="#000">−2</text>
<text x="311.0" y="431.1" font-size="5.2" text-anchor="start" dominant-baseline="central" font-weight="normal" fill="#000">−4</text>
<text x="317.0" y="347.3" font-size="5.4" text-anchor="start" dominant-baseline="central" font-weight="bold" fill="#000">Risk</text>
<rect x="317.0" y="350.4" width="6.6" height="6.5" fill="#48D1CC"/>
<rect x="317.0" y="356.9" width="6.6" height="7.0" fill="#7B22D0"/>
<text x="324.9" y="353.65" font-size="4.6" text-anchor="start" dominant-baseline="central" font-weight="normal" fill="#000">low</text>
<text x="324.9" y="360.4" font-size="4.6" text-anchor="start" dominant-baseline="central" font-weight="normal" fill="#000">high</text>
<text x="336.40" y="331.65" font-size="16.5" fill="#000" stroke="#000" stroke-width="0.45" transform="translate(336.40 0) scale(0.72 1) translate(-336.40 0)">F</text>
<rect x="339.90" y="346.8" width="2.35" height="4.800000000000011" fill="#48D1CC" stroke="#b4b4b4" stroke-width="0.35"/>
<rect x="342.25" y="346.8" width="2.35" height="4.800000000000011" fill="#48D1CC" stroke="#b4b4b4" stroke-width="0.35"/>
<rect x="344.60" y="346.8" width="2.35" height="4.800000000000011" fill="#48D1CC" stroke="#b4b4b4" stroke-width="0.35"/>
<rect x="346.95" y="346.8" width="2.35" height="4.800000000000011" fill="#48D1CC" stroke="#b4b4b4" stroke-width="0.35"/>
<rect x="349.30" y="346.8" width="2.35" height="4.800000000000011" fill="#48D1CC" stroke="#b4b4b4" stroke-width="0.35"/>
<rect x="351.65" y="346.8" width="2.35" height="4.800000000000011" fill="#48D1CC" stroke="#b4b4b4" stroke-width="0.35"/>
<rect x="354.00" y="346.8" width="2.35" height="4.800000000000011" fill="#48D1CC" stroke="#b4b4b4" stroke-width="0.35"/>
<rect x="356.35" y="346.8" width="2.35" height="4.800000000000011" fill="#48D1CC" stroke="#b4b4b4" stroke-width="0.35"/>
<rect x="358.70" y="346.8" width="2.35" height="4.800000000000011" fill="#48D1CC" stroke="#b4b4b4" stroke-width="0.35"/>
<rect x="361.05" y="346.8" width="2.35" height="4.800000000000011" fill="#48D1CC" stroke="#b4b4b4" stroke-width="0.35"/>
<rect x="363.40" y="346.8" width="2.35" height="4.800000000000011" fill="#48D1CC" stroke="#b4b4b4" stroke-width="0.35"/>
<rect x="365.75" y="346.8" width="2.35" height="4.800000000000011" fill="#48D1CC" stroke="#b4b4b4" stroke-width="0.35"/>
<rect x="368.09" y="346.8" width="2.35" height="4.800000000000011" fill="#48D1CC" stroke="#b4b4b4" stroke-width="0.35"/>
<rect x="370.44" y="346.8" width="2.35" height="4.800000000000011" fill="#48D1CC" stroke="#b4b4b4" stroke-width="0.35"/>
<rect x="372.79" y="346.8" width="2.35" height="4.800000000000011" fill="#48D1CC" stroke="#b4b4b4" stroke-width="0.35"/>
<rect x="375.14" y="346.8" width="2.35" height="4.800000000000011" fill="#48D1CC" stroke="#b4b4b4" stroke-width="0.35"/>
<rect x="377.49" y="346.8" width="2.35" height="4.800000000000011" fill="#48D1CC" stroke="#b4b4b4" stroke-width="0.35"/>
<rect x="379.84" y="346.8" width="2.35" height="4.800000000000011" fill="#48D1CC" stroke="#b4b4b4" stroke-width="0.35"/>
<rect x="382.19" y="346.8" width="2.35" height="4.800000000000011" fill="#48D1CC" stroke="#b4b4b4" stroke-width="0.35"/>
<rect x="384.54" y="346.8" width="2.35" height="4.800000000000011" fill="#48D1CC" stroke="#b4b4b4" stroke-width="0.35"/>
<rect x="386.89" y="346.8" width="2.35" height="4.800000000000011" fill="#48D1CC" stroke="#b4b4b4" stroke-width="0.35"/>
<rect x="389.24" y="346.8" width="2.35" height="4.800000000000011" fill="#48D1CC" stroke="#b4b4b4" stroke-width="0.35"/>
<rect x="391.59" y="346.8" width="2.35" height="4.800000000000011" fill="#48D1CC" stroke="#b4b4b4" stroke-width="0.35"/>
<rect x="393.94" y="346.8" width="2.35" height="4.800000000000011" fill="#48D1CC" stroke="#b4b4b4" stroke-width="0.35"/>
<rect x="396.29" y="346.8" width="2.35" height="4.800000000000011" fill="#48D1CC" stroke="#b4b4b4" stroke-width="0.35"/>
<rect x="398.64" y="346.8" width="2.35" height="4.800000000000011" fill="#48D1CC" stroke="#b4b4b4" stroke-width="0.35"/>
<rect x="400.99" y="346.8" width="2.35" height="4.800000000000011" fill="#48D1CC" stroke="#b4b4b4" stroke-width="0.35"/>
<rect x="403.34" y="346.8" width="2.35" height="4.800000000000011" fill="#48D1CC" stroke="#b4b4b4" stroke-width="0.35"/>
<rect x="405.69" y="346.8" width="2.35" height="4.800000000000011" fill="#48D1CC" stroke="#b4b4b4" stroke-width="0.35"/>
<rect x="408.04" y="346.8" width="2.35" height="4.800000000000011" fill="#48D1CC" stroke="#b4b4b4" stroke-width="0.35"/>
<rect x="410.39" y="346.8" width="2.35" height="4.800000000000011" fill="#48D1CC" stroke="#b4b4b4" stroke-width="0.35"/>
<rect x="412.74" y="346.8" width="2.35" height="4.800000000000011" fill="#48D1CC" stroke="#b4b4b4" stroke-width="0.35"/>
<rect x="415.09" y="346.8" width="2.35" height="4.800000000000011" fill="#48D1CC" stroke="#b4b4b4" stroke-width="0.35"/>
<rect x="417.44" y="346.8" width="2.35" height="4.800000000000011" fill="#48D1CC" stroke="#b4b4b4" stroke-width="0.35"/>
<rect x="419.78" y="346.8" width="2.35" height="4.800000000000011" fill="#48D1CC" stroke="#b4b4b4" stroke-width="0.35"/>
<rect x="422.13" y="346.8" width="2.35" height="4.800000000000011" fill="#48D1CC" stroke="#b4b4b4" stroke-width="0.35"/>
<rect x="424.48" y="346.8" width="2.35" height="4.800000000000011" fill="#48D1CC" stroke="#b4b4b4" stroke-width="0.35"/>
<rect x="426.83" y="346.8" width="2.35" height="4.800000000000011" fill="#48D1CC" stroke="#b4b4b4" stroke-width="0.35"/>
<rect x="429.18" y="346.8" width="2.35" height="4.800000000000011" fill="#48D1CC" stroke="#b4b4b4" stroke-width="0.35"/>
<rect x="431.53" y="346.8" width="2.35" height="4.800000000000011" fill="#48D1CC" stroke="#b4b4b4" stroke-width="0.35"/>
<rect x="433.88" y="346.8" width="2.35" height="4.800000000000011" fill="#48D1CC" stroke="#b4b4b4" stroke-width="0.35"/>
<rect x="436.23" y="346.8" width="2.35" height="4.800000000000011" fill="#48D1CC" stroke="#b4b4b4" stroke-width="0.35"/>
<rect x="438.58" y="346.8" width="2.35" height="4.800000000000011" fill="#48D1CC" stroke="#b4b4b4" stroke-width="0.35"/>
<rect x="440.93" y="346.8" width="2.35" height="4.800000000000011" fill="#48D1CC" stroke="#b4b4b4" stroke-width="0.35"/>
<rect x="443.28" y="346.8" width="2.35" height="4.800000000000011" fill="#48D1CC" stroke="#b4b4b4" stroke-width="0.35"/>
<rect x="445.63" y="346.8" width="2.35" height="4.800000000000011" fill="#48D1CC" stroke="#b4b4b4" stroke-width="0.35"/>
<rect x="447.98" y="346.8" width="2.35" height="4.800000000000011" fill="#48D1CC" stroke="#b4b4b4" stroke-width="0.35"/>
<rect x="450.33" y="346.8" width="2.35" height="4.800000000000011" fill="#48D1CC" stroke="#b4b4b4" stroke-width="0.35"/>
<rect x="452.68" y="346.8" width="2.35" height="4.800000000000011" fill="#48D1CC" stroke="#b4b4b4" stroke-width="0.35"/>
<rect x="455.03" y="346.8" width="2.35" height="4.800000000000011" fill="#48D1CC" stroke="#b4b4b4" stroke-width="0.35"/>
<rect x="457.38" y="346.8" width="2.35" height="4.800000000000011" fill="#48D1CC" stroke="#b4b4b4" stroke-width="0.35"/>
<rect x="459.73" y="346.8" width="2.35" height="4.800000000000011" fill="#48D1CC" stroke="#b4b4b4" stroke-width="0.35"/>
<rect x="462.08" y="346.8" width="2.35" height="4.800000000000011" fill="#48D1CC" stroke="#b4b4b4" stroke-width="0.35"/>
<rect x="464.43" y="346.8" width="2.35" height="4.800000000000011" fill="#48D1CC" stroke="#b4b4b4" stroke-width="0.35"/>
<rect x="466.78" y="346.8" width="2.35" height="4.800000000000011" fill="#7B22D0" stroke="#b4b4b4" stroke-width="0.35"/>
<rect x="469.13" y="346.8" width="2.35" height="4.800000000000011" fill="#7B22D0" stroke="#b4b4b4" stroke-width="0.35"/>
<rect x="471.48" y="346.8" width="2.35" height="4.800000000000011" fill="#7B22D0" stroke="#b4b4b4" stroke-width="0.35"/>
<rect x="473.82" y="346.8" width="2.35" height="4.800000000000011" fill="#7B22D0" stroke="#b4b4b4" stroke-width="0.35"/>
<rect x="476.17" y="346.8" width="2.35" height="4.800000000000011" fill="#7B22D0" stroke="#b4b4b4" stroke-width="0.35"/>
<rect x="478.52" y="346.8" width="2.35" height="4.800000000000011" fill="#7B22D0" stroke="#b4b4b4" stroke-width="0.35"/>
<rect x="480.87" y="346.8" width="2.35" height="4.800000000000011" fill="#7B22D0" stroke="#b4b4b4" stroke-width="0.35"/>
<rect x="483.22" y="346.8" width="2.35" height="4.800000000000011" fill="#7B22D0" stroke="#b4b4b4" stroke-width="0.35"/>
<rect x="485.57" y="346.8" width="2.35" height="4.800000000000011" fill="#7B22D0" stroke="#b4b4b4" stroke-width="0.35"/>
<rect x="487.92" y="346.8" width="2.35" height="4.800000000000011" fill="#7B22D0" stroke="#b4b4b4" stroke-width="0.35"/>
<rect x="490.27" y="346.8" width="2.35" height="4.800000000000011" fill="#7B22D0" stroke="#b4b4b4" stroke-width="0.35"/>
<rect x="492.62" y="346.8" width="2.35" height="4.800000000000011" fill="#7B22D0" stroke="#b4b4b4" stroke-width="0.35"/>
<rect x="494.97" y="346.8" width="2.35" height="4.800000000000011" fill="#7B22D0" stroke="#b4b4b4" stroke-width="0.35"/>
<rect x="497.32" y="346.8" width="2.35" height="4.800000000000011" fill="#7B22D0" stroke="#b4b4b4" stroke-width="0.35"/>
<rect x="499.67" y="346.8" width="2.35" height="4.800000000000011" fill="#7B22D0" stroke="#b4b4b4" stroke-width="0.35"/>
<rect x="502.02" y="346.8" width="2.35" height="4.800000000000011" fill="#7B22D0" stroke="#b4b4b4" stroke-width="0.35"/>
<rect x="504.37" y="346.8" width="2.35" height="4.800000000000011" fill="#7B22D0" stroke="#b4b4b4" stroke-width="0.35"/>
<rect x="506.72" y="346.8" width="2.35" height="4.800000000000011" fill="#7B22D0" stroke="#b4b4b4" stroke-width="0.35"/>
<rect x="509.07" y="346.8" width="2.35" height="4.800000000000011" fill="#7B22D0" stroke="#b4b4b4" stroke-width="0.35"/>
<rect x="511.42" y="346.8" width="2.35" height="4.800000000000011" fill="#7B22D0" stroke="#b4b4b4" stroke-width="0.35"/>
<rect x="513.77" y="346.8" width="2.35" height="4.800000000000011" fill="#7B22D0" stroke="#b4b4b4" stroke-width="0.35"/>
<rect x="516.12" y="346.8" width="2.35" height="4.800000000000011" fill="#7B22D0" stroke="#b4b4b4" stroke-width="0.35"/>
<rect x="518.47" y="346.8" width="2.35" height="4.800000000000011" fill="#7B22D0" stroke="#b4b4b4" stroke-width="0.35"/>
<rect x="520.82" y="346.8" width="2.35" height="4.800000000000011" fill="#7B22D0" stroke="#b4b4b4" stroke-width="0.35"/>
<rect x="523.17" y="346.8" width="2.35" height="4.800000000000011" fill="#7B22D0" stroke="#b4b4b4" stroke-width="0.35"/>
<rect x="525.52" y="346.8" width="2.35" height="4.800000000000011" fill="#7B22D0" stroke="#b4b4b4" stroke-width="0.35"/>
<rect x="527.86" y="346.8" width="2.35" height="4.800000000000011" fill="#7B22D0" stroke="#b4b4b4" stroke-width="0.35"/>
<rect x="530.21" y="346.8" width="2.35" height="4.800000000000011" fill="#7B22D0" stroke="#b4b4b4" stroke-width="0.35"/>
<rect x="532.56" y="346.8" width="2.35" height="4.800000000000011" fill="#7B22D0" stroke="#b4b4b4" stroke-width="0.35"/>
<rect x="534.91" y="346.8" width="2.35" height="4.800000000000011" fill="#7B22D0" stroke="#b4b4b4" stroke-width="0.35"/>
<rect x="537.26" y="346.8" width="2.35" height="4.800000000000011" fill="#7B22D0" stroke="#b4b4b4" stroke-width="0.35"/>
<rect x="539.61" y="346.8" width="2.35" height="4.800000000000011" fill="#7B22D0" stroke="#b4b4b4" stroke-width="0.35"/>
<rect x="541.96" y="346.8" width="2.35" height="4.800000000000011" fill="#7B22D0" stroke="#b4b4b4" stroke-width="0.35"/>
<rect x="544.31" y="346.8" width="2.35" height="4.800000000000011" fill="#7B22D0" stroke="#b4b4b4" stroke-width="0.35"/>
<rect x="546.66" y="346.8" width="2.35" height="4.800000000000011" fill="#7B22D0" stroke="#b4b4b4" stroke-width="0.35"/>
<rect x="549.01" y="346.8" width="2.35" height="4.800000000000011" fill="#7B22D0" stroke="#b4b4b4" stroke-width="0.35"/>
<rect x="551.36" y="346.8" width="2.35" height="4.800000000000011" fill="#7B22D0" stroke="#b4b4b4" stroke-width="0.35"/>
<rect x="553.71" y="346.8" width="2.35" height="4.800000000000011" fill="#7B22D0" stroke="#b4b4b4" stroke-width="0.35"/>
<rect x="556.06" y="346.8" width="2.35" height="4.800000000000011" fill="#7B22D0" stroke="#b4b4b4" stroke-width="0.35"/>
<rect x="558.41" y="346.8" width="2.35" height="4.800000000000011" fill="#7B22D0" stroke="#b4b4b4" stroke-width="0.35"/>
<rect x="560.76" y="346.8" width="2.35" height="4.800000000000011" fill="#7B22D0" stroke="#b4b4b4" stroke-width="0.35"/>
<rect x="563.11" y="346.8" width="2.35" height="4.800000000000011" fill="#7B22D0" stroke="#b4b4b4" stroke-width="0.35"/>
<rect x="565.46" y="346.8" width="2.35" height="4.800000000000011" fill="#7B22D0" stroke="#b4b4b4" stroke-width="0.35"/>
<rect x="567.81" y="346.8" width="2.35" height="4.800000000000011" fill="#7B22D0" stroke="#b4b4b4" stroke-width="0.35"/>
<rect x="570.16" y="346.8" width="2.35" height="4.800000000000011" fill="#7B22D0" stroke="#b4b4b4" stroke-width="0.35"/>
<rect x="572.51" y="346.8" width="2.35" height="4.800000000000011" fill="#7B22D0" stroke="#b4b4b4" stroke-width="0.35"/>
<rect x="574.86" y="346.8" width="2.35" height="4.800000000000011" fill="#7B22D0" stroke="#b4b4b4" stroke-width="0.35"/>
<rect x="577.21" y="346.8" width="2.35" height="4.800000000000011" fill="#7B22D0" stroke="#b4b4b4" stroke-width="0.35"/>
<rect x="579.55" y="346.8" width="2.35" height="4.800000000000011" fill="#7B22D0" stroke="#b4b4b4" stroke-width="0.35"/>
<rect x="581.90" y="346.8" width="2.35" height="4.800000000000011" fill="#7B22D0" stroke="#b4b4b4" stroke-width="0.35"/>
<rect x="584.25" y="346.8" width="2.35" height="4.800000000000011" fill="#7B22D0" stroke="#b4b4b4" stroke-width="0.35"/>
<rect x="586.60" y="346.8" width="2.35" height="4.800000000000011" fill="#7B22D0" stroke="#b4b4b4" stroke-width="0.35"/>
<rect x="588.95" y="346.8" width="2.35" height="4.800000000000011" fill="#7B22D0" stroke="#b4b4b4" stroke-width="0.35"/>
<rect x="591.30" y="346.8" width="2.35" height="4.800000000000011" fill="#7B22D0" stroke="#b4b4b4" stroke-width="0.35"/>
<rect x="593.65" y="346.8" width="2.35" height="4.800000000000011" fill="#7B22D0" stroke="#b4b4b4" stroke-width="0.35"/>
<rect x="596.00" y="346.8" width="2.35" height="4.800000000000011" fill="#7B22D0" stroke="#b4b4b4" stroke-width="0.35"/>
<rect x="598.35" y="346.8" width="2.35" height="4.800000000000011" fill="#7B22D0" stroke="#b4b4b4" stroke-width="0.35"/>
<rect x="600.70" y="346.8" width="2.35" height="4.800000000000011" fill="#7B22D0" stroke="#b4b4b4" stroke-width="0.35"/>
<rect x="603.05" y="346.8" width="2.35" height="4.800000000000011" fill="#7B22D0" stroke="#b4b4b4" stroke-width="0.35"/>
<g>
<rect x="339.90" y="353.40" width="2.35" height="25.63" fill="#4169e1" stroke="#9a9a9a" stroke-width="0.4"/>
<rect x="342.25" y="353.40" width="2.35" height="25.63" fill="#4169e1" stroke="#9a9a9a" stroke-width="0.4"/>
<rect x="344.60" y="353.40" width="2.35" height="25.63" fill="#6e8de8" stroke="#9a9a9a" stroke-width="0.4"/>
<rect x="346.95" y="353.40" width="2.35" height="25.63" fill="#cc1c8c" stroke="#9a9a9a" stroke-width="0.4"/>
<rect x="349.30" y="353.40" width="2.35" height="25.63" fill="#4169e1" stroke="#9a9a9a" stroke-width="0.4"/>
<rect x="351.65" y="353.40" width="2.35" height="25.63" fill="#f2c5e2" stroke="#9a9a9a" stroke-width="0.4"/>
<rect x="354.00" y="353.40" width="2.35" height="25.63" fill="#4169e1" stroke="#9a9a9a" stroke-width="0.4"/>
<rect x="356.35" y="353.40" width="2.35" height="25.63" fill="#fdf7fb" stroke="#9a9a9a" stroke-width="0.4"/>
<rect x="358.70" y="353.40" width="2.35" height="25.63" fill="#567ae4" stroke="#9a9a9a" stroke-width="0.4"/>
<rect x="361.05" y="353.40" width="2.35" height="25.63" fill="#4169e1" stroke="#9a9a9a" stroke-width="0.4"/>
<rect x="363.40" y="353.40" width="2.35" height="25.63" fill="#cdd7f7" stroke="#9a9a9a" stroke-width="0.4"/>
<rect x="365.75" y="353.40" width="2.35" height="25.63" fill="#c1cef5" stroke="#9a9a9a" stroke-width="0.4"/>
<rect x="368.09" y="353.40" width="2.35" height="25.63" fill="#728fe9" stroke="#9a9a9a" stroke-width="0.4"/>
<rect x="370.44" y="353.40" width="2.35" height="25.63" fill="#f9e5f2" stroke="#9a9a9a" stroke-width="0.4"/>
<rect x="372.79" y="353.40" width="2.35" height="25.63" fill="#4169e1" stroke="#9a9a9a" stroke-width="0.4"/>
<rect x="375.14" y="353.40" width="2.35" height="25.63" fill="#f6d6ea" stroke="#9a9a9a" stroke-width="0.4"/>
<rect x="377.49" y="353.40" width="2.35" height="25.63" fill="#a0b4f0" stroke="#9a9a9a" stroke-width="0.4"/>
<rect x="379.84" y="353.40" width="2.35" height="25.63" fill="#f8e1f0" stroke="#9a9a9a" stroke-width="0.4"/>
<rect x="382.19" y="353.40" width="2.35" height="25.63" fill="#5478e4" stroke="#9a9a9a" stroke-width="0.4"/>
<rect x="384.54" y="353.40" width="2.35" height="25.63" fill="#fafbfe" stroke="#9a9a9a" stroke-width="0.4"/>
<rect x="386.89" y="353.40" width="2.35" height="25.63" fill="#4169e1" stroke="#9a9a9a" stroke-width="0.4"/>
<rect x="389.24" y="353.40" width="2.35" height="25.63" fill="#f7deee" stroke="#9a9a9a" stroke-width="0.4"/>
<rect x="391.59" y="353.40" width="2.35" height="25.63" fill="#e68ec6" stroke="#9a9a9a" stroke-width="0.4"/>
<rect x="393.94" y="353.40" width="2.35" height="25.63" fill="#eba4d1" stroke="#9a9a9a" stroke-width="0.4"/>
<rect x="396.29" y="353.40" width="2.35" height="25.63" fill="#4169e1" stroke="#9a9a9a" stroke-width="0.4"/>
<rect x="398.64" y="353.40" width="2.35" height="25.63" fill="#4169e1" stroke="#9a9a9a" stroke-width="0.4"/>
<rect x="400.99" y="353.40" width="2.35" height="25.63" fill="#7b97ea" stroke="#9a9a9a" stroke-width="0.4"/>
<rect x="403.34" y="353.40" width="2.35" height="25.63" fill="#eaeefc" stroke="#9a9a9a" stroke-width="0.4"/>
<rect x="405.69" y="353.40" width="2.35" height="25.63" fill="#bdcbf5" stroke="#9a9a9a" stroke-width="0.4"/>
<rect x="408.04" y="353.40" width="2.35" height="25.63" fill="#4169e1" stroke="#9a9a9a" stroke-width="0.4"/>
<rect x="410.39" y="353.40" width="2.35" height="25.63" fill="#e691c7" stroke="#9a9a9a" stroke-width="0.4"/>
<rect x="412.74" y="353.40" width="2.35" height="25.63" fill="#4169e1" stroke="#9a9a9a" stroke-width="0.4"/>
<rect x="415.09" y="353.40" width="2.35" height="25.63" fill="#f9e5f2" stroke="#9a9a9a" stroke-width="0.4"/>
<rect x="417.44" y="353.40" width="2.35" height="25.63" fill="#f9e4f1" stroke="#9a9a9a" stroke-width="0.4"/>
<rect x="419.78" y="353.40" width="2.35" height="25.63" fill="#bccaf4" stroke="#9a9a9a" stroke-width="0.4"/>
<rect x="422.13" y="353.40" width="2.35" height="25.63" fill="#a6b9f1" stroke="#9a9a9a" stroke-width="0.4"/>
<rect x="424.48" y="353.40" width="2.35" height="25.63" fill="#b1c1f3" stroke="#9a9a9a" stroke-width="0.4"/>
<rect x="426.83" y="353.40" width="2.35" height="25.63" fill="#edb0d7" stroke="#9a9a9a" stroke-width="0.4"/>
<rect x="429.18" y="353.40" width="2.35" height="25.63" fill="#dbe2f9" stroke="#9a9a9a" stroke-width="0.4"/>
<rect x="431.53" y="353.40" width="2.35" height="25.63" fill="#b5c4f3" stroke="#9a9a9a" stroke-width="0.4"/>
<rect x="433.88" y="353.40" width="2.35" height="25.63" fill="#b9c8f4" stroke="#9a9a9a" stroke-width="0.4"/>
<rect x="436.23" y="353.40" width="2.35" height="25.63" fill="#df70b7" stroke="#9a9a9a" stroke-width="0.4"/>
<rect x="438.58" y="353.40" width="2.35" height="25.63" fill="#eeb4d9" stroke="#9a9a9a" stroke-width="0.4"/>
<rect x="440.93" y="353.40" width="2.35" height="25.63" fill="#e0e7fa" stroke="#9a9a9a" stroke-width="0.4"/>
<rect x="443.28" y="353.40" width="2.35" height="25.63" fill="#d1dbf8" stroke="#9a9a9a" stroke-width="0.4"/>
<rect x="445.63" y="353.40" width="2.35" height="25.63" fill="#486ee2" stroke="#9a9a9a" stroke-width="0.4"/>
<rect x="447.98" y="353.40" width="2.35" height="25.63" fill="#dee5fa" stroke="#9a9a9a" stroke-width="0.4"/>
<rect x="450.33" y="353.40" width="2.35" height="25.63" fill="#7e99eb" stroke="#9a9a9a" stroke-width="0.4"/>
<rect x="452.68" y="353.40" width="2.35" height="25.63" fill="#d6def8" stroke="#9a9a9a" stroke-width="0.4"/>
<rect x="455.03" y="353.40" width="2.35" height="25.63" fill="#9cb1ef" stroke="#9a9a9a" stroke-width="0.4"/>
<rect x="457.38" y="353.40" width="2.35" height="25.63" fill="#476de2" stroke="#9a9a9a" stroke-width="0.4"/>
<rect x="459.73" y="353.40" width="2.35" height="25.63" fill="#4169e1" stroke="#9a9a9a" stroke-width="0.4"/>
<rect x="462.08" y="353.40" width="2.35" height="25.63" fill="#eca9d3" stroke="#9a9a9a" stroke-width="0.4"/>
<rect x="464.43" y="353.40" width="2.35" height="25.63" fill="#f7ddee" stroke="#9a9a9a" stroke-width="0.4"/>
<rect x="466.78" y="353.40" width="2.35" height="25.63" fill="#718fe9" stroke="#9a9a9a" stroke-width="0.4"/>
<rect x="469.13" y="353.40" width="2.35" height="25.63" fill="#cc1c8c" stroke="#9a9a9a" stroke-width="0.4"/>
<rect x="471.48" y="353.40" width="2.35" height="25.63" fill="#e384c1" stroke="#9a9a9a" stroke-width="0.4"/>
<rect x="473.82" y="353.40" width="2.35" height="25.63" fill="#f1c0df" stroke="#9a9a9a" stroke-width="0.4"/>
<rect x="476.17" y="353.40" width="2.35" height="25.63" fill="#f0bcdd" stroke="#9a9a9a" stroke-width="0.4"/>
<rect x="478.52" y="353.40" width="2.35" height="25.63" fill="#fcf2f8" stroke="#9a9a9a" stroke-width="0.4"/>
<rect x="480.87" y="353.40" width="2.35" height="25.63" fill="#f0bdde" stroke="#9a9a9a" stroke-width="0.4"/>
<rect x="483.22" y="353.40" width="2.35" height="25.63" fill="#fdf7fb" stroke="#9a9a9a" stroke-width="0.4"/>
<rect x="485.57" y="353.40" width="2.35" height="25.63" fill="#8aa2ec" stroke="#9a9a9a" stroke-width="0.4"/>
<rect x="487.92" y="353.40" width="2.35" height="25.63" fill="#f6f8fe" stroke="#9a9a9a" stroke-width="0.4"/>
<rect x="490.27" y="353.40" width="2.35" height="25.63" fill="#f3f6fd" stroke="#9a9a9a" stroke-width="0.4"/>
<rect x="492.62" y="353.40" width="2.35" height="25.63" fill="#bdcbf5" stroke="#9a9a9a" stroke-width="0.4"/>
<rect x="494.97" y="353.40" width="2.35" height="25.63" fill="#4169e1" stroke="#9a9a9a" stroke-width="0.4"/>
<rect x="497.32" y="353.40" width="2.35" height="25.63" fill="#ecaad4" stroke="#9a9a9a" stroke-width="0.4"/>
<rect x="499.67" y="353.40" width="2.35" height="25.63" fill="#d648a2" stroke="#9a9a9a" stroke-width="0.4"/>
<rect x="502.02" y="353.40" width="2.35" height="25.63" fill="#cc1c8c" stroke="#9a9a9a" stroke-width="0.4"/>
<rect x="504.37" y="353.40" width="2.35" height="25.63" fill="#e68ec6" stroke="#9a9a9a" stroke-width="0.4"/>
<rect x="506.72" y="353.40" width="2.35" height="25.63" fill="#eaa0cf" stroke="#9a9a9a" stroke-width="0.4"/>
<rect x="509.07" y="353.40" width="2.35" height="25.63" fill="#edb0d7" stroke="#9a9a9a" stroke-width="0.4"/>
<rect x="511.42" y="353.40" width="2.35" height="25.63" fill="#cf2c94" stroke="#9a9a9a" stroke-width="0.4"/>
<rect x="513.77" y="353.40" width="2.35" height="25.63" fill="#fef9fc" stroke="#9a9a9a" stroke-width="0.4"/>
<rect x="516.12" y="353.40" width="2.35" height="25.63" fill="#d33d9d" stroke="#9a9a9a" stroke-width="0.4"/>
<rect x="518.47" y="353.40" width="2.35" height="25.63" fill="#da5bac" stroke="#9a9a9a" stroke-width="0.4"/>
<rect x="520.82" y="353.40" width="2.35" height="25.63" fill="#e795c9" stroke="#9a9a9a" stroke-width="0.4"/>
<rect x="523.17" y="353.40" width="2.35" height="25.63" fill="#e27dbd" stroke="#9a9a9a" stroke-width="0.4"/>
<rect x="525.52" y="353.40" width="2.35" height="25.63" fill="#f0bcdd" stroke="#9a9a9a" stroke-width="0.4"/>
<rect x="527.86" y="353.40" width="2.35" height="25.63" fill="#e4eafb" stroke="#9a9a9a" stroke-width="0.4"/>
<rect x="530.21" y="353.40" width="2.35" height="25.63" fill="#afc0f2" stroke="#9a9a9a" stroke-width="0.4"/>
<rect x="532.56" y="353.40" width="2.35" height="25.63" fill="#f8dfef" stroke="#9a9a9a" stroke-width="0.4"/>
<rect x="534.91" y="353.40" width="2.35" height="25.63" fill="#f0bdde" stroke="#9a9a9a" stroke-width="0.4"/>
<rect x="537.26" y="353.40" width="2.35" height="25.63" fill="#f1c2e0" stroke="#9a9a9a" stroke-width="0.4"/>
<rect x="539.61" y="353.40" width="2.35" height="25.63" fill="#fefeff" stroke="#9a9a9a" stroke-width="0.4"/>
<rect x="541.96" y="353.40" width="2.35" height="25.63" fill="#fcf1f8" stroke="#9a9a9a" stroke-width="0.4"/>
<rect x="544.31" y="353.40" width="2.35" height="25.63" fill="#b4c3f3" stroke="#9a9a9a" stroke-width="0.4"/>
<rect x="546.66" y="353.40" width="2.35" height="25.63" fill="#eaa3d0" stroke="#9a9a9a" stroke-width="0.4"/>
<rect x="549.01" y="353.40" width="2.35" height="25.63" fill="#fdf5fa" stroke="#9a9a9a" stroke-width="0.4"/>
<rect x="551.36" y="353.40" width="2.35" height="25.63" fill="#f9e4f1" stroke="#9a9a9a" stroke-width="0.4"/>
<rect x="553.71" y="353.40" width="2.35" height="25.63" fill="#eeb1d8" stroke="#9a9a9a" stroke-width="0.4"/>
<rect x="556.06" y="353.40" width="2.35" height="25.63" fill="#cf2992" stroke="#9a9a9a" stroke-width="0.4"/>
<rect x="558.41" y="353.40" width="2.35" height="25.63" fill="#f5f7fd" stroke="#9a9a9a" stroke-width="0.4"/>
<rect x="560.76" y="353.40" width="2.35" height="25.63" fill="#fae8f3" stroke="#9a9a9a" stroke-width="0.4"/>
<rect x="563.11" y="353.40" width="2.35" height="25.63" fill="#e27cbd" stroke="#9a9a9a" stroke-width="0.4"/>
<rect x="565.46" y="353.40" width="2.35" height="25.63" fill="#da5bac" stroke="#9a9a9a" stroke-width="0.4"/>
<rect x="567.81" y="353.40" width="2.35" height="25.63" fill="#fffdfe" stroke="#9a9a9a" stroke-width="0.4"/>
<rect x="570.16" y="353.40" width="2.35" height="25.63" fill="#d649a3" stroke="#9a9a9a" stroke-width="0.4"/>
<rect x="572.51" y="353.40" width="2.35" height="25.63" fill="#d543a0" stroke="#9a9a9a" stroke-width="0.4"/>
<rect x="574.86" y="353.40" width="2.35" height="25.63" fill="#bccaf4" stroke="#9a9a9a" stroke-width="0.4"/>
<rect x="577.21" y="353.40" width="2.35" height="25.63" fill="#cc1c8c" stroke="#9a9a9a" stroke-width="0.4"/>
<rect x="579.55" y="353.40" width="2.35" height="25.63" fill="#cc1c8c" stroke="#9a9a9a" stroke-width="0.4"/>
<rect x="581.90" y="353.40" width="2.35" height="25.63" fill="#d545a1" stroke="#9a9a9a" stroke-width="0.4"/>
<rect x="584.25" y="353.40" width="2.35" height="25.63" fill="#de6eb6" stroke="#9a9a9a" stroke-width="0.4"/>
<rect x="586.60" y="353.40" width="2.35" height="25.63" fill="#eca8d3" stroke="#9a9a9a" stroke-width="0.4"/>
<rect x="588.95" y="353.40" width="2.35" height="25.63" fill="#f9e3f1" stroke="#9a9a9a" stroke-width="0.4"/>
<rect x="591.30" y="353.40" width="2.35" height="25.63" fill="#b4c4f3" stroke="#9a9a9a" stroke-width="0.4"/>
<rect x="593.65" y="353.40" width="2.35" height="25.63" fill="#e27fbe" stroke="#9a9a9a" stroke-width="0.4"/>
<rect x="596.00" y="353.40" width="2.35" height="25.63" fill="#6787e7" stroke="#9a9a9a" stroke-width="0.4"/>
<rect x="598.35" y="353.40" width="2.35" height="25.63" fill="#bac8f4" stroke="#9a9a9a" stroke-width="0.4"/>
<rect x="600.70" y="353.40" width="2.35" height="25.63" fill="#dd67b2" stroke="#9a9a9a" stroke-width="0.4"/>
<rect x="603.05" y="353.40" width="2.35" height="25.63" fill="#fdfeff" stroke="#9a9a9a" stroke-width="0.4"/>
<rect x="339.90" y="379.03" width="2.35" height="25.63" fill="#7390e9" stroke="#9a9a9a" stroke-width="0.4"/>
<rect x="342.25" y="379.03" width="2.35" height="25.63" fill="#f4cfe7" stroke="#9a9a9a" stroke-width="0.4"/>
<rect x="344.60" y="379.03" width="2.35" height="25.63" fill="#f1c3e0" stroke="#9a9a9a" stroke-width="0.4"/>
<rect x="346.95" y="379.03" width="2.35" height="25.63" fill="#436be1" stroke="#9a9a9a" stroke-width="0.4"/>
<rect x="349.30" y="379.03" width="2.35" height="25.63" fill="#abbdf2" stroke="#9a9a9a" stroke-width="0.4"/>
<rect x="351.65" y="379.03" width="2.35" height="25.63" fill="#9bb0ef" stroke="#9a9a9a" stroke-width="0.4"/>
<rect x="354.00" y="379.03" width="2.35" height="25.63" fill="#4169e1" stroke="#9a9a9a" stroke-width="0.4"/>
<rect x="356.35" y="379.03" width="2.35" height="25.63" fill="#4169e1" stroke="#9a9a9a" stroke-width="0.4"/>
<rect x="358.70" y="379.03" width="2.35" height="25.63" fill="#b8c7f4" stroke="#9a9a9a" stroke-width="0.4"/>
<rect x="361.05" y="379.03" width="2.35" height="25.63" fill="#4169e1" stroke="#9a9a9a" stroke-width="0.4"/>
<rect x="363.40" y="379.03" width="2.35" height="25.63" fill="#b1c1f3" stroke="#9a9a9a" stroke-width="0.4"/>
<rect x="365.75" y="379.03" width="2.35" height="25.63" fill="#6b8ae8" stroke="#9a9a9a" stroke-width="0.4"/>
<rect x="368.09" y="379.03" width="2.35" height="25.63" fill="#da5cac" stroke="#9a9a9a" stroke-width="0.4"/>
<rect x="370.44" y="379.03" width="2.35" height="25.63" fill="#4a70e2" stroke="#9a9a9a" stroke-width="0.4"/>
<rect x="372.79" y="379.03" width="2.35" height="25.63" fill="#4169e1" stroke="#9a9a9a" stroke-width="0.4"/>
<rect x="375.14" y="379.03" width="2.35" height="25.63" fill="#90a7ed" stroke="#9a9a9a" stroke-width="0.4"/>
<rect x="377.49" y="379.03" width="2.35" height="25.63" fill="#9db1ef" stroke="#9a9a9a" stroke-width="0.4"/>
<rect x="379.84" y="379.03" width="2.35" height="25.63" fill="#4169e1" stroke="#9a9a9a" stroke-width="0.4"/>
<rect x="382.19" y="379.03" width="2.35" height="25.63" fill="#4169e1" stroke="#9a9a9a" stroke-width="0.4"/>
<rect x="384.54" y="379.03" width="2.35" height="25.63" fill="#4169e1" stroke="#9a9a9a" stroke-width="0.4"/>
<rect x="386.89" y="379.03" width="2.35" height="25.63" fill="#4169e1" stroke="#9a9a9a" stroke-width="0.4"/>
<rect x="389.24" y="379.03" width="2.35" height="25.63" fill="#fbedf6" stroke="#9a9a9a" stroke-width="0.4"/>
<rect x="391.59" y="379.03" width="2.35" height="25.63" fill="#f5d2e8" stroke="#9a9a9a" stroke-width="0.4"/>
<rect x="393.94" y="379.03" width="2.35" height="25.63" fill="#7794ea" stroke="#9a9a9a" stroke-width="0.4"/>
<rect x="396.29" y="379.03" width="2.35" height="25.63" fill="#4169e1" stroke="#9a9a9a" stroke-width="0.4"/>
<rect x="398.64" y="379.03" width="2.35" height="25.63" fill="#fcf0f7" stroke="#9a9a9a" stroke-width="0.4"/>
<rect x="400.99" y="379.03" width="2.35" height="25.63" fill="#f0f3fd" stroke="#9a9a9a" stroke-width="0.4"/>
<rect x="403.34" y="379.03" width="2.35" height="25.63" fill="#cbd6f7" stroke="#9a9a9a" stroke-width="0.4"/>
<rect x="405.69" y="379.03" width="2.35" height="25.63" fill="#f5d3e9" stroke="#9a9a9a" stroke-width="0.4"/>
<rect x="408.04" y="379.03" width="2.35" height="25.63" fill="#7391e9" stroke="#9a9a9a" stroke-width="0.4"/>
<rect x="410.39" y="379.03" width="2.35" height="25.63" fill="#597ce5" stroke="#9a9a9a" stroke-width="0.4"/>
<rect x="412.74" y="379.03" width="2.35" height="25.63" fill="#e485c1" stroke="#9a9a9a" stroke-width="0.4"/>
<rect x="415.09" y="379.03" width="2.35" height="25.63" fill="#6f8de8" stroke="#9a9a9a" stroke-width="0.4"/>
<rect x="417.44" y="379.03" width="2.35" height="25.63" fill="#6c8be8" stroke="#9a9a9a" stroke-width="0.4"/>
<rect x="419.78" y="379.03" width="2.35" height="25.63" fill="#4169e1" stroke="#9a9a9a" stroke-width="0.4"/>
<rect x="422.13" y="379.03" width="2.35" height="25.63" fill="#eaeffc" stroke="#9a9a9a" stroke-width="0.4"/>
<rect x="424.48" y="379.03" width="2.35" height="25.63" fill="#c0cef5" stroke="#9a9a9a" stroke-width="0.4"/>
<rect x="426.83" y="379.03" width="2.35" height="25.63" fill="#4169e1" stroke="#9a9a9a" stroke-width="0.4"/>
<rect x="429.18" y="379.03" width="2.35" height="25.63" fill="#f2c4e1" stroke="#9a9a9a" stroke-width="0.4"/>
<rect x="431.53" y="379.03" width="2.35" height="25.63" fill="#b6c5f3" stroke="#9a9a9a" stroke-width="0.4"/>
<rect x="433.88" y="379.03" width="2.35" height="25.63" fill="#4169e1" stroke="#9a9a9a" stroke-width="0.4"/>
<rect x="436.23" y="379.03" width="2.35" height="25.63" fill="#f9e3f1" stroke="#9a9a9a" stroke-width="0.4"/>
<rect x="438.58" y="379.03" width="2.35" height="25.63" fill="#e17abc" stroke="#9a9a9a" stroke-width="0.4"/>
<rect x="440.93" y="379.03" width="2.35" height="25.63" fill="#f1c3e1" stroke="#9a9a9a" stroke-width="0.4"/>
<rect x="443.28" y="379.03" width="2.35" height="25.63" fill="#c9d5f7" stroke="#9a9a9a" stroke-width="0.4"/>
<rect x="445.63" y="379.03" width="2.35" height="25.63" fill="#e27cbd" stroke="#9a9a9a" stroke-width="0.4"/>
<rect x="447.98" y="379.03" width="2.35" height="25.63" fill="#f6d5ea" stroke="#9a9a9a" stroke-width="0.4"/>
<rect x="450.33" y="379.03" width="2.35" height="25.63" fill="#f9e5f2" stroke="#9a9a9a" stroke-width="0.4"/>
<rect x="452.68" y="379.03" width="2.35" height="25.63" fill="#f5d2e8" stroke="#9a9a9a" stroke-width="0.4"/>
<rect x="455.03" y="379.03" width="2.35" height="25.63" fill="#7a96ea" stroke="#9a9a9a" stroke-width="0.4"/>
<rect x="457.38" y="379.03" width="2.35" height="25.63" fill="#e380bf" stroke="#9a9a9a" stroke-width="0.4"/>
<rect x="459.73" y="379.03" width="2.35" height="25.63" fill="#6586e7" stroke="#9a9a9a" stroke-width="0.4"/>
<rect x="462.08" y="379.03" width="2.35" height="25.63" fill="#4169e1" stroke="#9a9a9a" stroke-width="0.4"/>
<rect x="464.43" y="379.03" width="2.35" height="25.63" fill="#eff2fc" stroke="#9a9a9a" stroke-width="0.4"/>
<rect x="466.78" y="379.03" width="2.35" height="25.63" fill="#e899cb" stroke="#9a9a9a" stroke-width="0.4"/>
<rect x="469.13" y="379.03" width="2.35" height="25.63" fill="#f7ddee" stroke="#9a9a9a" stroke-width="0.4"/>
<rect x="471.48" y="379.03" width="2.35" height="25.63" fill="#dfe6fa" stroke="#9a9a9a" stroke-width="0.4"/>
<rect x="473.82" y="379.03" width="2.35" height="25.63" fill="#b8c7f4" stroke="#9a9a9a" stroke-width="0.4"/>
<rect x="476.17" y="379.03" width="2.35" height="25.63" fill="#c8d4f6" stroke="#9a9a9a" stroke-width="0.4"/>
<rect x="478.52" y="379.03" width="2.35" height="25.63" fill="#f2f5fd" stroke="#9a9a9a" stroke-width="0.4"/>
<rect x="480.87" y="379.03" width="2.35" height="25.63" fill="#a6b9f1" stroke="#9a9a9a" stroke-width="0.4"/>
<rect x="483.22" y="379.03" width="2.35" height="25.63" fill="#f8dfef" stroke="#9a9a9a" stroke-width="0.4"/>
<rect x="485.57" y="379.03" width="2.35" height="25.63" fill="#819ceb" stroke="#9a9a9a" stroke-width="0.4"/>
<rect x="487.92" y="379.03" width="2.35" height="25.63" fill="#e179bb" stroke="#9a9a9a" stroke-width="0.4"/>
<rect x="490.27" y="379.03" width="2.35" height="25.63" fill="#93a9ee" stroke="#9a9a9a" stroke-width="0.4"/>
<rect x="492.62" y="379.03" width="2.35" height="25.63" fill="#f4f7fd" stroke="#9a9a9a" stroke-width="0.4"/>
<rect x="494.97" y="379.03" width="2.35" height="25.63" fill="#91a8ee" stroke="#9a9a9a" stroke-width="0.4"/>
<rect x="497.32" y="379.03" width="2.35" height="25.63" fill="#93a9ee" stroke="#9a9a9a" stroke-width="0.4"/>
<rect x="499.67" y="379.03" width="2.35" height="25.63" fill="#446ce2" stroke="#9a9a9a" stroke-width="0.4"/>
<rect x="502.02" y="379.03" width="2.35" height="25.63" fill="#6d8be8" stroke="#9a9a9a" stroke-width="0.4"/>
<rect x="504.37" y="379.03" width="2.35" height="25.63" fill="#eaa1cf" stroke="#9a9a9a" stroke-width="0.4"/>
<rect x="506.72" y="379.03" width="2.35" height="25.63" fill="#4169e1" stroke="#9a9a9a" stroke-width="0.4"/>
<rect x="509.07" y="379.03" width="2.35" height="25.63" fill="#ccd6f7" stroke="#9a9a9a" stroke-width="0.4"/>
<rect x="511.42" y="379.03" width="2.35" height="25.63" fill="#cc1c8c" stroke="#9a9a9a" stroke-width="0.4"/>
<rect x="513.77" y="379.03" width="2.35" height="25.63" fill="#fcf2f8" stroke="#9a9a9a" stroke-width="0.4"/>
<rect x="516.12" y="379.03" width="2.35" height="25.63" fill="#d6dff9" stroke="#9a9a9a" stroke-width="0.4"/>
<rect x="518.47" y="379.03" width="2.35" height="25.63" fill="#f9e6f2" stroke="#9a9a9a" stroke-width="0.4"/>
<rect x="520.82" y="379.03" width="2.35" height="25.63" fill="#4169e1" stroke="#9a9a9a" stroke-width="0.4"/>
<rect x="523.17" y="379.03" width="2.35" height="25.63" fill="#4169e1" stroke="#9a9a9a" stroke-width="0.4"/>
<rect x="525.52" y="379.03" width="2.35" height="25.63" fill="#f4cfe7" stroke="#9a9a9a" stroke-width="0.4"/>
<rect x="527.86" y="379.03" width="2.35" height="25.63" fill="#e89acc" stroke="#9a9a9a" stroke-width="0.4"/>
<rect x="530.21" y="379.03" width="2.35" height="25.63" fill="#f2c6e2" stroke="#9a9a9a" stroke-width="0.4"/>
<rect x="532.56" y="379.03" width="2.35" height="25.63" fill="#eba5d1" stroke="#9a9a9a" stroke-width="0.4"/>
<rect x="534.91" y="379.03" width="2.35" height="25.63" fill="#d0daf8" stroke="#9a9a9a" stroke-width="0.4"/>
<rect x="537.26" y="379.03" width="2.35" height="25.63" fill="#f7daec" stroke="#9a9a9a" stroke-width="0.4"/>
<rect x="539.61" y="379.03" width="2.35" height="25.63" fill="#cc1c8c" stroke="#9a9a9a" stroke-width="0.4"/>
<rect x="541.96" y="379.03" width="2.35" height="25.63" fill="#7491e9" stroke="#9a9a9a" stroke-width="0.4"/>
<rect x="544.31" y="379.03" width="2.35" height="25.63" fill="#dc62af" stroke="#9a9a9a" stroke-width="0.4"/>
<rect x="546.66" y="379.03" width="2.35" height="25.63" fill="#bccaf4" stroke="#9a9a9a" stroke-width="0.4"/>
<rect x="549.01" y="379.03" width="2.35" height="25.63" fill="#7894ea" stroke="#9a9a9a" stroke-width="0.4"/>
<rect x="551.36" y="379.03" width="2.35" height="25.63" fill="#e58cc5" stroke="#9a9a9a" stroke-width="0.4"/>
<rect x="553.71" y="379.03" width="2.35" height="25.63" fill="#aabcf2" stroke="#9a9a9a" stroke-width="0.4"/>
<rect x="556.06" y="379.03" width="2.35" height="25.63" fill="#dd69b3" stroke="#9a9a9a" stroke-width="0.4"/>
<rect x="558.41" y="379.03" width="2.35" height="25.63" fill="#d02f96" stroke="#9a9a9a" stroke-width="0.4"/>
<rect x="560.76" y="379.03" width="2.35" height="25.63" fill="#e384c1" stroke="#9a9a9a" stroke-width="0.4"/>
<rect x="563.11" y="379.03" width="2.35" height="25.63" fill="#eaeffc" stroke="#9a9a9a" stroke-width="0.4"/>
<rect x="565.46" y="379.03" width="2.35" height="25.63" fill="#f8dfef" stroke="#9a9a9a" stroke-width="0.4"/>
<rect x="567.81" y="379.03" width="2.35" height="25.63" fill="#e383c0" stroke="#9a9a9a" stroke-width="0.4"/>
<rect x="570.16" y="379.03" width="2.35" height="25.63" fill="#d4419f" stroke="#9a9a9a" stroke-width="0.4"/>
<rect x="572.51" y="379.03" width="2.35" height="25.63" fill="#cc1c8c" stroke="#9a9a9a" stroke-width="0.4"/>
<rect x="574.86" y="379.03" width="2.35" height="25.63" fill="#4c72e3" stroke="#9a9a9a" stroke-width="0.4"/>
<rect x="577.21" y="379.03" width="2.35" height="25.63" fill="#f5d4e9" stroke="#9a9a9a" stroke-width="0.4"/>
<rect x="579.55" y="379.03" width="2.35" height="25.63" fill="#d7e0f9" stroke="#9a9a9a" stroke-width="0.4"/>
<rect x="581.90" y="379.03" width="2.35" height="25.63" fill="#bac8f4" stroke="#9a9a9a" stroke-width="0.4"/>
<rect x="584.25" y="379.03" width="2.35" height="25.63" fill="#cc1c8c" stroke="#9a9a9a" stroke-width="0.4"/>
<rect x="586.60" y="379.03" width="2.35" height="25.63" fill="#f2c4e1" stroke="#9a9a9a" stroke-width="0.4"/>
<rect x="588.95" y="379.03" width="2.35" height="25.63" fill="#cc1c8c" stroke="#9a9a9a" stroke-width="0.4"/>
<rect x="591.30" y="379.03" width="2.35" height="25.63" fill="#f2c4e1" stroke="#9a9a9a" stroke-width="0.4"/>
<rect x="593.65" y="379.03" width="2.35" height="25.63" fill="#e4eafb" stroke="#9a9a9a" stroke-width="0.4"/>
<rect x="596.00" y="379.03" width="2.35" height="25.63" fill="#da5cac" stroke="#9a9a9a" stroke-width="0.4"/>
<rect x="598.35" y="379.03" width="2.35" height="25.63" fill="#f7ddee" stroke="#9a9a9a" stroke-width="0.4"/>
<rect x="600.70" y="379.03" width="2.35" height="25.63" fill="#cc1c8c" stroke="#9a9a9a" stroke-width="0.4"/>
<rect x="603.05" y="379.03" width="2.35" height="25.63" fill="#f0bcdd" stroke="#9a9a9a" stroke-width="0.4"/>
<rect x="339.90" y="404.66" width="2.35" height="25.63" fill="#4169e1" stroke="#9a9a9a" stroke-width="0.4"/>
<rect x="342.25" y="404.66" width="2.35" height="25.63" fill="#a1b5f0" stroke="#9a9a9a" stroke-width="0.4"/>
<rect x="344.60" y="404.66" width="2.35" height="25.63" fill="#e076ba" stroke="#9a9a9a" stroke-width="0.4"/>
<rect x="346.95" y="404.66" width="2.35" height="25.63" fill="#4169e1" stroke="#9a9a9a" stroke-width="0.4"/>
<rect x="349.30" y="404.66" width="2.35" height="25.63" fill="#f4cee6" stroke="#9a9a9a" stroke-width="0.4"/>
<rect x="351.65" y="404.66" width="2.35" height="25.63" fill="#e0e7fa" stroke="#9a9a9a" stroke-width="0.4"/>
<rect x="354.00" y="404.66" width="2.35" height="25.63" fill="#eeb4d9" stroke="#9a9a9a" stroke-width="0.4"/>
<rect x="356.35" y="404.66" width="2.35" height="25.63" fill="#c9d4f6" stroke="#9a9a9a" stroke-width="0.4"/>
<rect x="358.70" y="404.66" width="2.35" height="25.63" fill="#9aafef" stroke="#9a9a9a" stroke-width="0.4"/>
<rect x="361.05" y="404.66" width="2.35" height="25.63" fill="#4169e1" stroke="#9a9a9a" stroke-width="0.4"/>
<rect x="363.40" y="404.66" width="2.35" height="25.63" fill="#7290e9" stroke="#9a9a9a" stroke-width="0.4"/>
<rect x="365.75" y="404.66" width="2.35" height="25.63" fill="#9eb2f0" stroke="#9a9a9a" stroke-width="0.4"/>
<rect x="368.09" y="404.66" width="2.35" height="25.63" fill="#dfe6fa" stroke="#9a9a9a" stroke-width="0.4"/>
<rect x="370.44" y="404.66" width="2.35" height="25.63" fill="#f4cfe7" stroke="#9a9a9a" stroke-width="0.4"/>
<rect x="372.79" y="404.66" width="2.35" height="25.63" fill="#b4c4f3" stroke="#9a9a9a" stroke-width="0.4"/>
<rect x="375.14" y="404.66" width="2.35" height="25.63" fill="#e076ba" stroke="#9a9a9a" stroke-width="0.4"/>
<rect x="377.49" y="404.66" width="2.35" height="25.63" fill="#d0daf8" stroke="#9a9a9a" stroke-width="0.4"/>
<rect x="379.84" y="404.66" width="2.35" height="25.63" fill="#456ce2" stroke="#9a9a9a" stroke-width="0.4"/>
<rect x="382.19" y="404.66" width="2.35" height="25.63" fill="#fbfcfe" stroke="#9a9a9a" stroke-width="0.4"/>
<rect x="384.54" y="404.66" width="2.35" height="25.63" fill="#4a70e2" stroke="#9a9a9a" stroke-width="0.4"/>
<rect x="386.89" y="404.66" width="2.35" height="25.63" fill="#f8e0ef" stroke="#9a9a9a" stroke-width="0.4"/>
<rect x="389.24" y="404.66" width="2.35" height="25.63" fill="#4169e1" stroke="#9a9a9a" stroke-width="0.4"/>
<rect x="391.59" y="404.66" width="2.35" height="25.63" fill="#4169e1" stroke="#9a9a9a" stroke-width="0.4"/>
<rect x="393.94" y="404.66" width="2.35" height="25.63" fill="#bac8f4" stroke="#9a9a9a" stroke-width="0.4"/>
<rect x="396.29" y="404.66" width="2.35" height="25.63" fill="#d4ddf8" stroke="#9a9a9a" stroke-width="0.4"/>
<rect x="398.64" y="404.66" width="2.35" height="25.63" fill="#6082e6" stroke="#9a9a9a" stroke-width="0.4"/>
<rect x="400.99" y="404.66" width="2.35" height="25.63" fill="#f7dbed" stroke="#9a9a9a" stroke-width="0.4"/>
<rect x="403.34" y="404.66" width="2.35" height="25.63" fill="#7895ea" stroke="#9a9a9a" stroke-width="0.4"/>
<rect x="405.69" y="404.66" width="2.35" height="25.63" fill="#cc1c8c" stroke="#9a9a9a" stroke-width="0.4"/>
<rect x="408.04" y="404.66" width="2.35" height="25.63" fill="#e99ccd" stroke="#9a9a9a" stroke-width="0.4"/>
<rect x="410.39" y="404.66" width="2.35" height="25.63" fill="#e075b9" stroke="#9a9a9a" stroke-width="0.4"/>
<rect x="412.74" y="404.66" width="2.35" height="25.63" fill="#c2cff5" stroke="#9a9a9a" stroke-width="0.4"/>
<rect x="415.09" y="404.66" width="2.35" height="25.63" fill="#e3e9fb" stroke="#9a9a9a" stroke-width="0.4"/>
<rect x="417.44" y="404.66" width="2.35" height="25.63" fill="#d7dff9" stroke="#9a9a9a" stroke-width="0.4"/>
<rect x="419.78" y="404.66" width="2.35" height="25.63" fill="#fcfdff" stroke="#9a9a9a" stroke-width="0.4"/>
<rect x="422.13" y="404.66" width="2.35" height="25.63" fill="#4169e1" stroke="#9a9a9a" stroke-width="0.4"/>
<rect x="424.48" y="404.66" width="2.35" height="25.63" fill="#e077ba" stroke="#9a9a9a" stroke-width="0.4"/>
<rect x="426.83" y="404.66" width="2.35" height="25.63" fill="#4169e1" stroke="#9a9a9a" stroke-width="0.4"/>
<rect x="429.18" y="404.66" width="2.35" height="25.63" fill="#4169e1" stroke="#9a9a9a" stroke-width="0.4"/>
<rect x="431.53" y="404.66" width="2.35" height="25.63" fill="#4169e1" stroke="#9a9a9a" stroke-width="0.4"/>
<rect x="433.88" y="404.66" width="2.35" height="25.63" fill="#7894ea" stroke="#9a9a9a" stroke-width="0.4"/>
<rect x="436.23" y="404.66" width="2.35" height="25.63" fill="#f2c5e2" stroke="#9a9a9a" stroke-width="0.4"/>
<rect x="438.58" y="404.66" width="2.35" height="25.63" fill="#7d99eb" stroke="#9a9a9a" stroke-width="0.4"/>
<rect x="440.93" y="404.66" width="2.35" height="25.63" fill="#869fec" stroke="#9a9a9a" stroke-width="0.4"/>
<rect x="443.28" y="404.66" width="2.35" height="25.63" fill="#4169e1" stroke="#9a9a9a" stroke-width="0.4"/>
<rect x="445.63" y="404.66" width="2.35" height="25.63" fill="#4169e1" stroke="#9a9a9a" stroke-width="0.4"/>
<rect x="447.98" y="404.66" width="2.35" height="25.63" fill="#4169e1" stroke="#9a9a9a" stroke-width="0.4"/>
<rect x="450.33" y="404.66" width="2.35" height="25.63" fill="#f4cfe7" stroke="#9a9a9a" stroke-width="0.4"/>
<rect x="452.68" y="404.66" width="2.35" height="25.63" fill="#dee5fa" stroke="#9a9a9a" stroke-width="0.4"/>
<rect x="455.03" y="404.66" width="2.35" height="25.63" fill="#6a8ae8" stroke="#9a9a9a" stroke-width="0.4"/>
<rect x="457.38" y="404.66" width="2.35" height="25.63" fill="#f0bddd" stroke="#9a9a9a" stroke-width="0.4"/>
<rect x="459.73" y="404.66" width="2.35" height="25.63" fill="#fcf0f7" stroke="#9a9a9a" stroke-width="0.4"/>
<rect x="462.08" y="404.66" width="2.35" height="25.63" fill="#4d72e3" stroke="#9a9a9a" stroke-width="0.4"/>
<rect x="464.43" y="404.66" width="2.35" height="25.63" fill="#809beb" stroke="#9a9a9a" stroke-width="0.4"/>
<rect x="466.78" y="404.66" width="2.35" height="25.63" fill="#ecacd5" stroke="#9a9a9a" stroke-width="0.4"/>
<rect x="469.13" y="404.66" width="2.35" height="25.63" fill="#dd69b3" stroke="#9a9a9a" stroke-width="0.4"/>
<rect x="471.48" y="404.66" width="2.35" height="25.63" fill="#bccaf4" stroke="#9a9a9a" stroke-width="0.4"/>
<rect x="473.82" y="404.66" width="2.35" height="25.63" fill="#e793c8" stroke="#9a9a9a" stroke-width="0.4"/>
<rect x="476.17" y="404.66" width="2.35" height="25.63" fill="#dd69b3" stroke="#9a9a9a" stroke-width="0.4"/>
<rect x="478.52" y="404.66" width="2.35" height="25.63" fill="#e17bbc" stroke="#9a9a9a" stroke-width="0.4"/>
<rect x="480.87" y="404.66" width="2.35" height="25.63" fill="#fdf8fb" stroke="#9a9a9a" stroke-width="0.4"/>
<rect x="483.22" y="404.66" width="2.35" height="25.63" fill="#e99fce" stroke="#9a9a9a" stroke-width="0.4"/>
<rect x="485.57" y="404.66" width="2.35" height="25.63" fill="#e796ca" stroke="#9a9a9a" stroke-width="0.4"/>
<rect x="487.92" y="404.66" width="2.35" height="25.63" fill="#c8d4f6" stroke="#9a9a9a" stroke-width="0.4"/>
<rect x="490.27" y="404.66" width="2.35" height="25.63" fill="#f6d8eb" stroke="#9a9a9a" stroke-width="0.4"/>
<rect x="492.62" y="404.66" width="2.35" height="25.63" fill="#f0f3fd" stroke="#9a9a9a" stroke-width="0.4"/>
<rect x="494.97" y="404.66" width="2.35" height="25.63" fill="#5b7de5" stroke="#9a9a9a" stroke-width="0.4"/>
<rect x="497.32" y="404.66" width="2.35" height="25.63" fill="#f8e0ef" stroke="#9a9a9a" stroke-width="0.4"/>
<rect x="499.67" y="404.66" width="2.35" height="25.63" fill="#ffffff" stroke="#9a9a9a" stroke-width="0.4"/>
<rect x="502.02" y="404.66" width="2.35" height="25.63" fill="#9bb0ef" stroke="#9a9a9a" stroke-width="0.4"/>
<rect x="504.37" y="404.66" width="2.35" height="25.63" fill="#e485c1" stroke="#9a9a9a" stroke-width="0.4"/>
<rect x="506.72" y="404.66" width="2.35" height="25.63" fill="#d43f9e" stroke="#9a9a9a" stroke-width="0.4"/>
<rect x="509.07" y="404.66" width="2.35" height="25.63" fill="#e178bb" stroke="#9a9a9a" stroke-width="0.4"/>
<rect x="511.42" y="404.66" width="2.35" height="25.63" fill="#f4f6fd" stroke="#9a9a9a" stroke-width="0.4"/>
<rect x="513.77" y="404.66" width="2.35" height="25.63" fill="#9cb1ef" stroke="#9a9a9a" stroke-width="0.4"/>
<rect x="516.12" y="404.66" width="2.35" height="25.63" fill="#d853a8" stroke="#9a9a9a" stroke-width="0.4"/>
<rect x="518.47" y="404.66" width="2.35" height="25.63" fill="#d7e0f9" stroke="#9a9a9a" stroke-width="0.4"/>
<rect x="520.82" y="404.66" width="2.35" height="25.63" fill="#cd1f8d" stroke="#9a9a9a" stroke-width="0.4"/>
<rect x="523.17" y="404.66" width="2.35" height="25.63" fill="#fdf6fa" stroke="#9a9a9a" stroke-width="0.4"/>
<rect x="525.52" y="404.66" width="2.35" height="25.63" fill="#e691c7" stroke="#9a9a9a" stroke-width="0.4"/>
<rect x="527.86" y="404.66" width="2.35" height="25.63" fill="#f9e5f2" stroke="#9a9a9a" stroke-width="0.4"/>
<rect x="530.21" y="404.66" width="2.35" height="25.63" fill="#eeb4d9" stroke="#9a9a9a" stroke-width="0.4"/>
<rect x="532.56" y="404.66" width="2.35" height="25.63" fill="#d647a2" stroke="#9a9a9a" stroke-width="0.4"/>
<rect x="534.91" y="404.66" width="2.35" height="25.63" fill="#e27ebe" stroke="#9a9a9a" stroke-width="0.4"/>
<rect x="537.26" y="404.66" width="2.35" height="25.63" fill="#bccaf4" stroke="#9a9a9a" stroke-width="0.4"/>
<rect x="539.61" y="404.66" width="2.35" height="25.63" fill="#cc1c8c" stroke="#9a9a9a" stroke-width="0.4"/>
<rect x="541.96" y="404.66" width="2.35" height="25.63" fill="#d956aa" stroke="#9a9a9a" stroke-width="0.4"/>
<rect x="544.31" y="404.66" width="2.35" height="25.63" fill="#eaa0cf" stroke="#9a9a9a" stroke-width="0.4"/>
<rect x="546.66" y="404.66" width="2.35" height="25.63" fill="#abbdf2" stroke="#9a9a9a" stroke-width="0.4"/>
<rect x="549.01" y="404.66" width="2.35" height="25.63" fill="#ccd7f7" stroke="#9a9a9a" stroke-width="0.4"/>
<rect x="551.36" y="404.66" width="2.35" height="25.63" fill="#b2c2f3" stroke="#9a9a9a" stroke-width="0.4"/>
<rect x="553.71" y="404.66" width="2.35" height="25.63" fill="#b8c7f4" stroke="#9a9a9a" stroke-width="0.4"/>
<rect x="556.06" y="404.66" width="2.35" height="25.63" fill="#df71b7" stroke="#9a9a9a" stroke-width="0.4"/>
<rect x="558.41" y="404.66" width="2.35" height="25.63" fill="#f6d7eb" stroke="#9a9a9a" stroke-width="0.4"/>
<rect x="560.76" y="404.66" width="2.35" height="25.63" fill="#fbeff7" stroke="#9a9a9a" stroke-width="0.4"/>
<rect x="563.11" y="404.66" width="2.35" height="25.63" fill="#efb8db" stroke="#9a9a9a" stroke-width="0.4"/>
<rect x="565.46" y="404.66" width="2.35" height="25.63" fill="#eaa2d0" stroke="#9a9a9a" stroke-width="0.4"/>
<rect x="567.81" y="404.66" width="2.35" height="25.63" fill="#afbff2" stroke="#9a9a9a" stroke-width="0.4"/>
<rect x="570.16" y="404.66" width="2.35" height="25.63" fill="#dd67b2" stroke="#9a9a9a" stroke-width="0.4"/>
<rect x="572.51" y="404.66" width="2.35" height="25.63" fill="#ecabd4" stroke="#9a9a9a" stroke-width="0.4"/>
<rect x="574.86" y="404.66" width="2.35" height="25.63" fill="#fef9fc" stroke="#9a9a9a" stroke-width="0.4"/>
<rect x="577.21" y="404.66" width="2.35" height="25.63" fill="#eca9d3" stroke="#9a9a9a" stroke-width="0.4"/>
<rect x="579.55" y="404.66" width="2.35" height="25.63" fill="#6888e7" stroke="#9a9a9a" stroke-width="0.4"/>
<rect x="581.90" y="404.66" width="2.35" height="25.63" fill="#cc1c8c" stroke="#9a9a9a" stroke-width="0.4"/>
<rect x="584.25" y="404.66" width="2.35" height="25.63" fill="#e076ba" stroke="#9a9a9a" stroke-width="0.4"/>
<rect x="586.60" y="404.66" width="2.35" height="25.63" fill="#d23699" stroke="#9a9a9a" stroke-width="0.4"/>
<rect x="588.95" y="404.66" width="2.35" height="25.63" fill="#f3cbe5" stroke="#9a9a9a" stroke-width="0.4"/>
<rect x="591.30" y="404.66" width="2.35" height="25.63" fill="#d43f9e" stroke="#9a9a9a" stroke-width="0.4"/>
<rect x="593.65" y="404.66" width="2.35" height="25.63" fill="#db5fae" stroke="#9a9a9a" stroke-width="0.4"/>
<rect x="596.00" y="404.66" width="2.35" height="25.63" fill="#b9c8f4" stroke="#9a9a9a" stroke-width="0.4"/>
<rect x="598.35" y="404.66" width="2.35" height="25.63" fill="#e58dc5" stroke="#9a9a9a" stroke-width="0.4"/>
<rect x="600.70" y="404.66" width="2.35" height="25.63" fill="#cc1c8c" stroke="#9a9a9a" stroke-width="0.4"/>
<rect x="603.05" y="404.66" width="2.35" height="25.63" fill="#e074b9" stroke="#9a9a9a" stroke-width="0.4"/>
<rect x="339.90" y="430.29" width="2.35" height="25.63" fill="#b3c3f3" stroke="#9a9a9a" stroke-width="0.4"/>
<rect x="342.25" y="430.29" width="2.35" height="25.63" fill="#d8e0f9" stroke="#9a9a9a" stroke-width="0.4"/>
<rect x="344.60" y="430.29" width="2.35" height="25.63" fill="#f8e1f0" stroke="#9a9a9a" stroke-width="0.4"/>
<rect x="346.95" y="430.29" width="2.35" height="25.63" fill="#a1b5f0" stroke="#9a9a9a" stroke-width="0.4"/>
<rect x="349.30" y="430.29" width="2.35" height="25.63" fill="#4169e1" stroke="#9a9a9a" stroke-width="0.4"/>
<rect x="351.65" y="430.29" width="2.35" height="25.63" fill="#cbd6f7" stroke="#9a9a9a" stroke-width="0.4"/>
<rect x="354.00" y="430.29" width="2.35" height="25.63" fill="#f6f8fe" stroke="#9a9a9a" stroke-width="0.4"/>
<rect x="356.35" y="430.29" width="2.35" height="25.63" fill="#d4ddf8" stroke="#9a9a9a" stroke-width="0.4"/>
<rect x="358.70" y="430.29" width="2.35" height="25.63" fill="#4169e1" stroke="#9a9a9a" stroke-width="0.4"/>
<rect x="361.05" y="430.29" width="2.35" height="25.63" fill="#90a8ee" stroke="#9a9a9a" stroke-width="0.4"/>
<rect x="363.40" y="430.29" width="2.35" height="25.63" fill="#4169e1" stroke="#9a9a9a" stroke-width="0.4"/>
<rect x="365.75" y="430.29" width="2.35" height="25.63" fill="#a9bbf1" stroke="#9a9a9a" stroke-width="0.4"/>
<rect x="368.09" y="430.29" width="2.35" height="25.63" fill="#4169e1" stroke="#9a9a9a" stroke-width="0.4"/>
<rect x="370.44" y="430.29" width="2.35" height="25.63" fill="#f5d4e9" stroke="#9a9a9a" stroke-width="0.4"/>
<rect x="372.79" y="430.29" width="2.35" height="25.63" fill="#b5c4f3" stroke="#9a9a9a" stroke-width="0.4"/>
<rect x="375.14" y="430.29" width="2.35" height="25.63" fill="#4169e1" stroke="#9a9a9a" stroke-width="0.4"/>
<rect x="377.49" y="430.29" width="2.35" height="25.63" fill="#4169e1" stroke="#9a9a9a" stroke-width="0.4"/>
<rect x="379.84" y="430.29" width="2.35" height="25.63" fill="#486fe2" stroke="#9a9a9a" stroke-width="0.4"/>
<rect x="382.19" y="430.29" width="2.35" height="25.63" fill="#aabcf2" stroke="#9a9a9a" stroke-width="0.4"/>
<rect x="384.54" y="430.29" width="2.35" height="25.63" fill="#4169e1" stroke="#9a9a9a" stroke-width="0.4"/>
<rect x="386.89" y="430.29" width="2.35" height="25.63" fill="#6988e7" stroke="#9a9a9a" stroke-width="0.4"/>
<rect x="389.24" y="430.29" width="2.35" height="25.63" fill="#fae9f4" stroke="#9a9a9a" stroke-width="0.4"/>
<rect x="391.59" y="430.29" width="2.35" height="25.63" fill="#aebff2" stroke="#9a9a9a" stroke-width="0.4"/>
<rect x="393.94" y="430.29" width="2.35" height="25.63" fill="#4169e1" stroke="#9a9a9a" stroke-width="0.4"/>
<rect x="396.29" y="430.29" width="2.35" height="25.63" fill="#f0bddd" stroke="#9a9a9a" stroke-width="0.4"/>
<rect x="398.64" y="430.29" width="2.35" height="25.63" fill="#cc1c8c" stroke="#9a9a9a" stroke-width="0.4"/>
<rect x="400.99" y="430.29" width="2.35" height="25.63" fill="#7793e9" stroke="#9a9a9a" stroke-width="0.4"/>
<rect x="403.34" y="430.29" width="2.35" height="25.63" fill="#446be1" stroke="#9a9a9a" stroke-width="0.4"/>
<rect x="405.69" y="430.29" width="2.35" height="25.63" fill="#869fec" stroke="#9a9a9a" stroke-width="0.4"/>
<rect x="408.04" y="430.29" width="2.35" height="25.63" fill="#edadd6" stroke="#9a9a9a" stroke-width="0.4"/>
<rect x="410.39" y="430.29" width="2.35" height="25.63" fill="#4169e1" stroke="#9a9a9a" stroke-width="0.4"/>
<rect x="412.74" y="430.29" width="2.35" height="25.63" fill="#f6d9ec" stroke="#9a9a9a" stroke-width="0.4"/>
<rect x="415.09" y="430.29" width="2.35" height="25.63" fill="#aabcf2" stroke="#9a9a9a" stroke-width="0.4"/>
<rect x="417.44" y="430.29" width="2.35" height="25.63" fill="#e58ac3" stroke="#9a9a9a" stroke-width="0.4"/>
<rect x="419.78" y="430.29" width="2.35" height="25.63" fill="#c6d2f6" stroke="#9a9a9a" stroke-width="0.4"/>
<rect x="422.13" y="430.29" width="2.35" height="25.63" fill="#8da5ed" stroke="#9a9a9a" stroke-width="0.4"/>
<rect x="424.48" y="430.29" width="2.35" height="25.63" fill="#7f9aeb" stroke="#9a9a9a" stroke-width="0.4"/>
<rect x="426.83" y="430.29" width="2.35" height="25.63" fill="#faeaf4" stroke="#9a9a9a" stroke-width="0.4"/>
<rect x="429.18" y="430.29" width="2.35" height="25.63" fill="#b2c2f3" stroke="#9a9a9a" stroke-width="0.4"/>
<rect x="431.53" y="430.29" width="2.35" height="25.63" fill="#6686e7" stroke="#9a9a9a" stroke-width="0.4"/>
<rect x="433.88" y="430.29" width="2.35" height="25.63" fill="#4169e1" stroke="#9a9a9a" stroke-width="0.4"/>
<rect x="436.23" y="430.29" width="2.35" height="25.63" fill="#fffefe" stroke="#9a9a9a" stroke-width="0.4"/>
<rect x="438.58" y="430.29" width="2.35" height="25.63" fill="#8ba3ed" stroke="#9a9a9a" stroke-width="0.4"/>
<rect x="440.93" y="430.29" width="2.35" height="25.63" fill="#cd238f" stroke="#9a9a9a" stroke-width="0.4"/>
<rect x="443.28" y="430.29" width="2.35" height="25.63" fill="#cbd6f7" stroke="#9a9a9a" stroke-width="0.4"/>
<rect x="445.63" y="430.29" width="2.35" height="25.63" fill="#cf2993" stroke="#9a9a9a" stroke-width="0.4"/>
<rect x="447.98" y="430.29" width="2.35" height="25.63" fill="#edf1fc" stroke="#9a9a9a" stroke-width="0.4"/>
<rect x="450.33" y="430.29" width="2.35" height="25.63" fill="#eeb2d8" stroke="#9a9a9a" stroke-width="0.4"/>
<rect x="452.68" y="430.29" width="2.35" height="25.63" fill="#dde4fa" stroke="#9a9a9a" stroke-width="0.4"/>
<rect x="455.03" y="430.29" width="2.35" height="25.63" fill="#fae9f4" stroke="#9a9a9a" stroke-width="0.4"/>
<rect x="457.38" y="430.29" width="2.35" height="25.63" fill="#eaa1cf" stroke="#9a9a9a" stroke-width="0.4"/>
<rect x="459.73" y="430.29" width="2.35" height="25.63" fill="#b1c1f3" stroke="#9a9a9a" stroke-width="0.4"/>
<rect x="462.08" y="430.29" width="2.35" height="25.63" fill="#fae9f4" stroke="#9a9a9a" stroke-width="0.4"/>
<rect x="464.43" y="430.29" width="2.35" height="25.63" fill="#d02c94" stroke="#9a9a9a" stroke-width="0.4"/>
<rect x="466.78" y="430.29" width="2.35" height="25.63" fill="#7d98ea" stroke="#9a9a9a" stroke-width="0.4"/>
<rect x="469.13" y="430.29" width="2.35" height="25.63" fill="#dce3f9" stroke="#9a9a9a" stroke-width="0.4"/>
<rect x="471.48" y="430.29" width="2.35" height="25.63" fill="#e795c9" stroke="#9a9a9a" stroke-width="0.4"/>
<rect x="473.82" y="430.29" width="2.35" height="25.63" fill="#ecabd4" stroke="#9a9a9a" stroke-width="0.4"/>
<rect x="476.17" y="430.29" width="2.35" height="25.63" fill="#e99fce" stroke="#9a9a9a" stroke-width="0.4"/>
<rect x="478.52" y="430.29" width="2.35" height="25.63" fill="#fbedf6" stroke="#9a9a9a" stroke-width="0.4"/>
<rect x="480.87" y="430.29" width="2.35" height="25.63" fill="#de6db5" stroke="#9a9a9a" stroke-width="0.4"/>
<rect x="483.22" y="430.29" width="2.35" height="25.63" fill="#f9e3f1" stroke="#9a9a9a" stroke-width="0.4"/>
<rect x="485.57" y="430.29" width="2.35" height="25.63" fill="#fffdfe" stroke="#9a9a9a" stroke-width="0.4"/>
<rect x="487.92" y="430.29" width="2.35" height="25.63" fill="#4970e2" stroke="#9a9a9a" stroke-width="0.4"/>
<rect x="490.27" y="430.29" width="2.35" height="25.63" fill="#d7e0f9" stroke="#9a9a9a" stroke-width="0.4"/>
<rect x="492.62" y="430.29" width="2.35" height="25.63" fill="#f3c8e3" stroke="#9a9a9a" stroke-width="0.4"/>
<rect x="494.97" y="430.29" width="2.35" height="25.63" fill="#cd208e" stroke="#9a9a9a" stroke-width="0.4"/>
<rect x="497.32" y="430.29" width="2.35" height="25.63" fill="#fbecf5" stroke="#9a9a9a" stroke-width="0.4"/>
<rect x="499.67" y="430.29" width="2.35" height="25.63" fill="#cc1c8c" stroke="#9a9a9a" stroke-width="0.4"/>
<rect x="502.02" y="430.29" width="2.35" height="25.63" fill="#a7b9f1" stroke="#9a9a9a" stroke-width="0.4"/>
<rect x="504.37" y="430.29" width="2.35" height="25.63" fill="#f6d9ec" stroke="#9a9a9a" stroke-width="0.4"/>
<rect x="506.72" y="430.29" width="2.35" height="25.63" fill="#d854a8" stroke="#9a9a9a" stroke-width="0.4"/>
<rect x="509.07" y="430.29" width="2.35" height="25.63" fill="#d9e1f9" stroke="#9a9a9a" stroke-width="0.4"/>
<rect x="511.42" y="430.29" width="2.35" height="25.63" fill="#e3e9fb" stroke="#9a9a9a" stroke-width="0.4"/>
<rect x="513.77" y="430.29" width="2.35" height="25.63" fill="#eba7d3" stroke="#9a9a9a" stroke-width="0.4"/>
<rect x="516.12" y="430.29" width="2.35" height="25.63" fill="#e58bc4" stroke="#9a9a9a" stroke-width="0.4"/>
<rect x="518.47" y="430.29" width="2.35" height="25.63" fill="#e99bcc" stroke="#9a9a9a" stroke-width="0.4"/>
<rect x="520.82" y="430.29" width="2.35" height="25.63" fill="#cc1c8c" stroke="#9a9a9a" stroke-width="0.4"/>
<rect x="523.17" y="430.29" width="2.35" height="25.63" fill="#efb8db" stroke="#9a9a9a" stroke-width="0.4"/>
<rect x="525.52" y="430.29" width="2.35" height="25.63" fill="#cc1c8c" stroke="#9a9a9a" stroke-width="0.4"/>
<rect x="527.86" y="430.29" width="2.35" height="25.63" fill="#8da5ed" stroke="#9a9a9a" stroke-width="0.4"/>
<rect x="530.21" y="430.29" width="2.35" height="25.63" fill="#b0c1f3" stroke="#9a9a9a" stroke-width="0.4"/>
<rect x="532.56" y="430.29" width="2.35" height="25.63" fill="#f1c0df" stroke="#9a9a9a" stroke-width="0.4"/>
<rect x="534.91" y="430.29" width="2.35" height="25.63" fill="#f7daec" stroke="#9a9a9a" stroke-width="0.4"/>
<rect x="537.26" y="430.29" width="2.35" height="25.63" fill="#e383c0" stroke="#9a9a9a" stroke-width="0.4"/>
<rect x="539.61" y="430.29" width="2.35" height="25.63" fill="#f7dbed" stroke="#9a9a9a" stroke-width="0.4"/>
<rect x="541.96" y="430.29" width="2.35" height="25.63" fill="#d853a8" stroke="#9a9a9a" stroke-width="0.4"/>
<rect x="544.31" y="430.29" width="2.35" height="25.63" fill="#f2f5fd" stroke="#9a9a9a" stroke-width="0.4"/>
<rect x="546.66" y="430.29" width="2.35" height="25.63" fill="#efb7da" stroke="#9a9a9a" stroke-width="0.4"/>
<rect x="549.01" y="430.29" width="2.35" height="25.63" fill="#b4c4f3" stroke="#9a9a9a" stroke-width="0.4"/>
<rect x="551.36" y="430.29" width="2.35" height="25.63" fill="#f2c3e1" stroke="#9a9a9a" stroke-width="0.4"/>
<rect x="553.71" y="430.29" width="2.35" height="25.63" fill="#d43f9e" stroke="#9a9a9a" stroke-width="0.4"/>
<rect x="556.06" y="430.29" width="2.35" height="25.63" fill="#cf2792" stroke="#9a9a9a" stroke-width="0.4"/>
<rect x="558.41" y="430.29" width="2.35" height="25.63" fill="#cc1c8c" stroke="#9a9a9a" stroke-width="0.4"/>
<rect x="560.76" y="430.29" width="2.35" height="25.63" fill="#dee5fa" stroke="#9a9a9a" stroke-width="0.4"/>
<rect x="563.11" y="430.29" width="2.35" height="25.63" fill="#fcfcfe" stroke="#9a9a9a" stroke-width="0.4"/>
<rect x="565.46" y="430.29" width="2.35" height="25.63" fill="#f0bede" stroke="#9a9a9a" stroke-width="0.4"/>
<rect x="567.81" y="430.29" width="2.35" height="25.63" fill="#efb8db" stroke="#9a9a9a" stroke-width="0.4"/>
<rect x="570.16" y="430.29" width="2.35" height="25.63" fill="#ffffff" stroke="#9a9a9a" stroke-width="0.4"/>
<rect x="572.51" y="430.29" width="2.35" height="25.63" fill="#dd68b2" stroke="#9a9a9a" stroke-width="0.4"/>
<rect x="574.86" y="430.29" width="2.35" height="25.63" fill="#fdf6fa" stroke="#9a9a9a" stroke-width="0.4"/>
<rect x="577.21" y="430.29" width="2.35" height="25.63" fill="#d956a9" stroke="#9a9a9a" stroke-width="0.4"/>
<rect x="579.55" y="430.29" width="2.35" height="25.63" fill="#cc1c8c" stroke="#9a9a9a" stroke-width="0.4"/>
<rect x="581.90" y="430.29" width="2.35" height="25.63" fill="#e487c2" stroke="#9a9a9a" stroke-width="0.4"/>
<rect x="584.25" y="430.29" width="2.35" height="25.63" fill="#d33c9c" stroke="#9a9a9a" stroke-width="0.4"/>
<rect x="586.60" y="430.29" width="2.35" height="25.63" fill="#f3c8e3" stroke="#9a9a9a" stroke-width="0.4"/>
<rect x="588.95" y="430.29" width="2.35" height="25.63" fill="#e8edfb" stroke="#9a9a9a" stroke-width="0.4"/>
<rect x="591.30" y="430.29" width="2.35" height="25.63" fill="#7793e9" stroke="#9a9a9a" stroke-width="0.4"/>
<rect x="593.65" y="430.29" width="2.35" height="25.63" fill="#cc1c8c" stroke="#9a9a9a" stroke-width="0.4"/>
<rect x="596.00" y="430.29" width="2.35" height="25.63" fill="#cc1c8c" stroke="#9a9a9a" stroke-width="0.4"/>
<rect x="598.35" y="430.29" width="2.35" height="25.63" fill="#4169e1" stroke="#9a9a9a" stroke-width="0.4"/>
<rect x="600.70" y="430.29" width="2.35" height="25.63" fill="#eaeffc" stroke="#9a9a9a" stroke-width="0.4"/>
<rect x="603.05" y="430.29" width="2.35" height="25.63" fill="#f3cbe5" stroke="#9a9a9a" stroke-width="0.4"/>
<rect x="339.90" y="455.91" width="2.35" height="25.63" fill="#4169e1" stroke="#9a9a9a" stroke-width="0.4"/>
<rect x="342.25" y="455.91" width="2.35" height="25.63" fill="#5579e4" stroke="#9a9a9a" stroke-width="0.4"/>
<rect x="344.60" y="455.91" width="2.35" height="25.63" fill="#fdf5fa" stroke="#9a9a9a" stroke-width="0.4"/>
<rect x="346.95" y="455.91" width="2.35" height="25.63" fill="#8aa3ed" stroke="#9a9a9a" stroke-width="0.4"/>
<rect x="349.30" y="455.91" width="2.35" height="25.63" fill="#fbeef7" stroke="#9a9a9a" stroke-width="0.4"/>
<rect x="351.65" y="455.91" width="2.35" height="25.63" fill="#4169e1" stroke="#9a9a9a" stroke-width="0.4"/>
<rect x="354.00" y="455.91" width="2.35" height="25.63" fill="#7692e9" stroke="#9a9a9a" stroke-width="0.4"/>
<rect x="356.35" y="455.91" width="2.35" height="25.63" fill="#e27dbd" stroke="#9a9a9a" stroke-width="0.4"/>
<rect x="358.70" y="455.91" width="2.35" height="25.63" fill="#4f74e3" stroke="#9a9a9a" stroke-width="0.4"/>
<rect x="361.05" y="455.91" width="2.35" height="25.63" fill="#4169e1" stroke="#9a9a9a" stroke-width="0.4"/>
<rect x="363.40" y="455.91" width="2.35" height="25.63" fill="#6283e6" stroke="#9a9a9a" stroke-width="0.4"/>
<rect x="365.75" y="455.91" width="2.35" height="25.63" fill="#abbdf2" stroke="#9a9a9a" stroke-width="0.4"/>
<rect x="368.09" y="455.91" width="2.35" height="25.63" fill="#4169e1" stroke="#9a9a9a" stroke-width="0.4"/>
<rect x="370.44" y="455.91" width="2.35" height="25.63" fill="#e1e8fa" stroke="#9a9a9a" stroke-width="0.4"/>
<rect x="372.79" y="455.91" width="2.35" height="25.63" fill="#f7dced" stroke="#9a9a9a" stroke-width="0.4"/>
<rect x="375.14" y="455.91" width="2.35" height="25.63" fill="#829ceb" stroke="#9a9a9a" stroke-width="0.4"/>
<rect x="377.49" y="455.91" width="2.35" height="25.63" fill="#b5c5f3" stroke="#9a9a9a" stroke-width="0.4"/>
<rect x="379.84" y="455.91" width="2.35" height="25.63" fill="#b3c3f3" stroke="#9a9a9a" stroke-width="0.4"/>
<rect x="382.19" y="455.91" width="2.35" height="25.63" fill="#b1c1f3" stroke="#9a9a9a" stroke-width="0.4"/>
<rect x="384.54" y="455.91" width="2.35" height="25.63" fill="#4169e1" stroke="#9a9a9a" stroke-width="0.4"/>
<rect x="386.89" y="455.91" width="2.35" height="25.63" fill="#87a1ec" stroke="#9a9a9a" stroke-width="0.4"/>
<rect x="389.24" y="455.91" width="2.35" height="25.63" fill="#f7dbed" stroke="#9a9a9a" stroke-width="0.4"/>
<rect x="391.59" y="455.91" width="2.35" height="25.63" fill="#f3c9e4" stroke="#9a9a9a" stroke-width="0.4"/>
<rect x="393.94" y="455.91" width="2.35" height="25.63" fill="#faeaf5" stroke="#9a9a9a" stroke-width="0.4"/>
<rect x="396.29" y="455.91" width="2.35" height="25.63" fill="#6283e6" stroke="#9a9a9a" stroke-width="0.4"/>
<rect x="398.64" y="455.91" width="2.35" height="25.63" fill="#f7ddee" stroke="#9a9a9a" stroke-width="0.4"/>
<rect x="400.99" y="455.91" width="2.35" height="25.63" fill="#eba7d2" stroke="#9a9a9a" stroke-width="0.4"/>
<rect x="403.34" y="455.91" width="2.35" height="25.63" fill="#df73b8" stroke="#9a9a9a" stroke-width="0.4"/>
<rect x="405.69" y="455.91" width="2.35" height="25.63" fill="#f2c3e1" stroke="#9a9a9a" stroke-width="0.4"/>
<rect x="408.04" y="455.91" width="2.35" height="25.63" fill="#f1f4fd" stroke="#9a9a9a" stroke-width="0.4"/>
<rect x="410.39" y="455.91" width="2.35" height="25.63" fill="#dbe2f9" stroke="#9a9a9a" stroke-width="0.4"/>
<rect x="412.74" y="455.91" width="2.35" height="25.63" fill="#f1c1e0" stroke="#9a9a9a" stroke-width="0.4"/>
<rect x="415.09" y="455.91" width="2.35" height="25.63" fill="#e795c9" stroke="#9a9a9a" stroke-width="0.4"/>
<rect x="417.44" y="455.91" width="2.35" height="25.63" fill="#4169e1" stroke="#9a9a9a" stroke-width="0.4"/>
<rect x="419.78" y="455.91" width="2.35" height="25.63" fill="#7995ea" stroke="#9a9a9a" stroke-width="0.4"/>
<rect x="422.13" y="455.91" width="2.35" height="25.63" fill="#fcf3f9" stroke="#9a9a9a" stroke-width="0.4"/>
<rect x="424.48" y="455.91" width="2.35" height="25.63" fill="#e792c8" stroke="#9a9a9a" stroke-width="0.4"/>
<rect x="426.83" y="455.91" width="2.35" height="25.63" fill="#4169e1" stroke="#9a9a9a" stroke-width="0.4"/>
<rect x="429.18" y="455.91" width="2.35" height="25.63" fill="#4169e1" stroke="#9a9a9a" stroke-width="0.4"/>
<rect x="431.53" y="455.91" width="2.35" height="25.63" fill="#4169e1" stroke="#9a9a9a" stroke-width="0.4"/>
<rect x="433.88" y="455.91" width="2.35" height="25.63" fill="#de6eb5" stroke="#9a9a9a" stroke-width="0.4"/>
<rect x="436.23" y="455.91" width="2.35" height="25.63" fill="#efb8db" stroke="#9a9a9a" stroke-width="0.4"/>
<rect x="438.58" y="455.91" width="2.35" height="25.63" fill="#d1dbf8" stroke="#9a9a9a" stroke-width="0.4"/>
<rect x="440.93" y="455.91" width="2.35" height="25.63" fill="#cc1c8c" stroke="#9a9a9a" stroke-width="0.4"/>
<rect x="443.28" y="455.91" width="2.35" height="25.63" fill="#cc1c8c" stroke="#9a9a9a" stroke-width="0.4"/>
<rect x="445.63" y="455.91" width="2.35" height="25.63" fill="#e89acc" stroke="#9a9a9a" stroke-width="0.4"/>
<rect x="447.98" y="455.91" width="2.35" height="25.63" fill="#f7dbed" stroke="#9a9a9a" stroke-width="0.4"/>
<rect x="450.33" y="455.91" width="2.35" height="25.63" fill="#e6ebfb" stroke="#9a9a9a" stroke-width="0.4"/>
<rect x="452.68" y="455.91" width="2.35" height="25.63" fill="#e68fc6" stroke="#9a9a9a" stroke-width="0.4"/>
<rect x="455.03" y="455.91" width="2.35" height="25.63" fill="#93a9ee" stroke="#9a9a9a" stroke-width="0.4"/>
<rect x="457.38" y="455.91" width="2.35" height="25.63" fill="#e58dc5" stroke="#9a9a9a" stroke-width="0.4"/>
<rect x="459.73" y="455.91" width="2.35" height="25.63" fill="#a2b6f0" stroke="#9a9a9a" stroke-width="0.4"/>
<rect x="462.08" y="455.91" width="2.35" height="25.63" fill="#e794c9" stroke="#9a9a9a" stroke-width="0.4"/>
<rect x="464.43" y="455.91" width="2.35" height="25.63" fill="#edf0fc" stroke="#9a9a9a" stroke-width="0.4"/>
<rect x="466.78" y="455.91" width="2.35" height="25.63" fill="#f2c3e1" stroke="#9a9a9a" stroke-width="0.4"/>
<rect x="469.13" y="455.91" width="2.35" height="25.63" fill="#da5bac" stroke="#9a9a9a" stroke-width="0.4"/>
<rect x="471.48" y="455.91" width="2.35" height="25.63" fill="#eaa4d1" stroke="#9a9a9a" stroke-width="0.4"/>
<rect x="473.82" y="455.91" width="2.35" height="25.63" fill="#e9edfb" stroke="#9a9a9a" stroke-width="0.4"/>
<rect x="476.17" y="455.91" width="2.35" height="25.63" fill="#ced9f7" stroke="#9a9a9a" stroke-width="0.4"/>
<rect x="478.52" y="455.91" width="2.35" height="25.63" fill="#94aaee" stroke="#9a9a9a" stroke-width="0.4"/>
<rect x="480.87" y="455.91" width="2.35" height="25.63" fill="#7390e9" stroke="#9a9a9a" stroke-width="0.4"/>
<rect x="483.22" y="455.91" width="2.35" height="25.63" fill="#e589c3" stroke="#9a9a9a" stroke-width="0.4"/>
<rect x="485.57" y="455.91" width="2.35" height="25.63" fill="#fdf6fa" stroke="#9a9a9a" stroke-width="0.4"/>
<rect x="487.92" y="455.91" width="2.35" height="25.63" fill="#5579e4" stroke="#9a9a9a" stroke-width="0.4"/>
<rect x="490.27" y="455.91" width="2.35" height="25.63" fill="#db5fae" stroke="#9a9a9a" stroke-width="0.4"/>
<rect x="492.62" y="455.91" width="2.35" height="25.63" fill="#a6b8f1" stroke="#9a9a9a" stroke-width="0.4"/>
<rect x="494.97" y="455.91" width="2.35" height="25.63" fill="#d956a9" stroke="#9a9a9a" stroke-width="0.4"/>
<rect x="497.32" y="455.91" width="2.35" height="25.63" fill="#f6d7eb" stroke="#9a9a9a" stroke-width="0.4"/>
<rect x="499.67" y="455.91" width="2.35" height="25.63" fill="#e99fce" stroke="#9a9a9a" stroke-width="0.4"/>
<rect x="502.02" y="455.91" width="2.35" height="25.63" fill="#f9e4f1" stroke="#9a9a9a" stroke-width="0.4"/>
<rect x="504.37" y="455.91" width="2.35" height="25.63" fill="#809aeb" stroke="#9a9a9a" stroke-width="0.4"/>
<rect x="506.72" y="455.91" width="2.35" height="25.63" fill="#eef1fc" stroke="#9a9a9a" stroke-width="0.4"/>
<rect x="509.07" y="455.91" width="2.35" height="25.63" fill="#d8e0f9" stroke="#9a9a9a" stroke-width="0.4"/>
<rect x="511.42" y="455.91" width="2.35" height="25.63" fill="#91a8ee" stroke="#9a9a9a" stroke-width="0.4"/>
<rect x="513.77" y="455.91" width="2.35" height="25.63" fill="#edafd7" stroke="#9a9a9a" stroke-width="0.4"/>
<rect x="516.12" y="455.91" width="2.35" height="25.63" fill="#7693e9" stroke="#9a9a9a" stroke-width="0.4"/>
<rect x="518.47" y="455.91" width="2.35" height="25.63" fill="#7d98ea" stroke="#9a9a9a" stroke-width="0.4"/>
<rect x="520.82" y="455.91" width="2.35" height="25.63" fill="#b6c5f3" stroke="#9a9a9a" stroke-width="0.4"/>
<rect x="523.17" y="455.91" width="2.35" height="25.63" fill="#7794ea" stroke="#9a9a9a" stroke-width="0.4"/>
<rect x="525.52" y="455.91" width="2.35" height="25.63" fill="#f8dfef" stroke="#9a9a9a" stroke-width="0.4"/>
<rect x="527.86" y="455.91" width="2.35" height="25.63" fill="#e792c8" stroke="#9a9a9a" stroke-width="0.4"/>
<rect x="530.21" y="455.91" width="2.35" height="25.63" fill="#f5d4e9" stroke="#9a9a9a" stroke-width="0.4"/>
<rect x="532.56" y="455.91" width="2.35" height="25.63" fill="#fdf7fb" stroke="#9a9a9a" stroke-width="0.4"/>
<rect x="534.91" y="455.91" width="2.35" height="25.63" fill="#e27ebd" stroke="#9a9a9a" stroke-width="0.4"/>
<rect x="537.26" y="455.91" width="2.35" height="25.63" fill="#e58ac4" stroke="#9a9a9a" stroke-width="0.4"/>
<rect x="539.61" y="455.91" width="2.35" height="25.63" fill="#cc1c8c" stroke="#9a9a9a" stroke-width="0.4"/>
<rect x="541.96" y="455.91" width="2.35" height="25.63" fill="#edf1fc" stroke="#9a9a9a" stroke-width="0.4"/>
<rect x="544.31" y="455.91" width="2.35" height="25.63" fill="#ecacd5" stroke="#9a9a9a" stroke-width="0.4"/>
<rect x="546.66" y="455.91" width="2.35" height="25.63" fill="#fcf0f8" stroke="#9a9a9a" stroke-width="0.4"/>
<rect x="549.01" y="455.91" width="2.35" height="25.63" fill="#fbfcfe" stroke="#9a9a9a" stroke-width="0.4"/>
<rect x="551.36" y="455.91" width="2.35" height="25.63" fill="#f6d9ec" stroke="#9a9a9a" stroke-width="0.4"/>
<rect x="553.71" y="455.91" width="2.35" height="25.63" fill="#de6bb4" stroke="#9a9a9a" stroke-width="0.4"/>
<rect x="556.06" y="455.91" width="2.35" height="25.63" fill="#fffdfe" stroke="#9a9a9a" stroke-width="0.4"/>
<rect x="558.41" y="455.91" width="2.35" height="25.63" fill="#b6c5f3" stroke="#9a9a9a" stroke-width="0.4"/>
<rect x="560.76" y="455.91" width="2.35" height="25.63" fill="#cc1c8c" stroke="#9a9a9a" stroke-width="0.4"/>
<rect x="563.11" y="455.91" width="2.35" height="25.63" fill="#ecabd5" stroke="#9a9a9a" stroke-width="0.4"/>
<rect x="565.46" y="455.91" width="2.35" height="25.63" fill="#e691c8" stroke="#9a9a9a" stroke-width="0.4"/>
<rect x="567.81" y="455.91" width="2.35" height="25.63" fill="#dc63b0" stroke="#9a9a9a" stroke-width="0.4"/>
<rect x="570.16" y="455.91" width="2.35" height="25.63" fill="#d13498" stroke="#9a9a9a" stroke-width="0.4"/>
<rect x="572.51" y="455.91" width="2.35" height="25.63" fill="#d955a9" stroke="#9a9a9a" stroke-width="0.4"/>
<rect x="574.86" y="455.91" width="2.35" height="25.63" fill="#e6ebfb" stroke="#9a9a9a" stroke-width="0.4"/>
<rect x="577.21" y="455.91" width="2.35" height="25.63" fill="#f7ddee" stroke="#9a9a9a" stroke-width="0.4"/>
<rect x="579.55" y="455.91" width="2.35" height="25.63" fill="#d33c9c" stroke="#9a9a9a" stroke-width="0.4"/>
<rect x="581.90" y="455.91" width="2.35" height="25.63" fill="#f1c0df" stroke="#9a9a9a" stroke-width="0.4"/>
<rect x="584.25" y="455.91" width="2.35" height="25.63" fill="#ce2490" stroke="#9a9a9a" stroke-width="0.4"/>
<rect x="586.60" y="455.91" width="2.35" height="25.63" fill="#cc1c8c" stroke="#9a9a9a" stroke-width="0.4"/>
<rect x="588.95" y="455.91" width="2.35" height="25.63" fill="#aebff2" stroke="#9a9a9a" stroke-width="0.4"/>
<rect x="591.30" y="455.91" width="2.35" height="25.63" fill="#f2c7e3" stroke="#9a9a9a" stroke-width="0.4"/>
<rect x="593.65" y="455.91" width="2.35" height="25.63" fill="#cdd8f7" stroke="#9a9a9a" stroke-width="0.4"/>
<rect x="596.00" y="455.91" width="2.35" height="25.63" fill="#e8edfb" stroke="#9a9a9a" stroke-width="0.4"/>
<rect x="598.35" y="455.91" width="2.35" height="25.63" fill="#f8deee" stroke="#9a9a9a" stroke-width="0.4"/>
<rect x="600.70" y="455.91" width="2.35" height="25.63" fill="#ecacd5" stroke="#9a9a9a" stroke-width="0.4"/>
<rect x="603.05" y="455.91" width="2.35" height="25.63" fill="#e58cc5" stroke="#9a9a9a" stroke-width="0.4"/>
<rect x="339.90" y="481.54" width="2.35" height="25.63" fill="#446be1" stroke="#9a9a9a" stroke-width="0.4"/>
<rect x="342.25" y="481.54" width="2.35" height="25.63" fill="#dfe6fa" stroke="#9a9a9a" stroke-width="0.4"/>
<rect x="344.60" y="481.54" width="2.35" height="25.63" fill="#bbcaf4" stroke="#9a9a9a" stroke-width="0.4"/>
<rect x="346.95" y="481.54" width="2.35" height="25.63" fill="#6e8ce8" stroke="#9a9a9a" stroke-width="0.4"/>
<rect x="349.30" y="481.54" width="2.35" height="25.63" fill="#fffeff" stroke="#9a9a9a" stroke-width="0.4"/>
<rect x="351.65" y="481.54" width="2.35" height="25.63" fill="#4169e1" stroke="#9a9a9a" stroke-width="0.4"/>
<rect x="354.00" y="481.54" width="2.35" height="25.63" fill="#c8d3f6" stroke="#9a9a9a" stroke-width="0.4"/>
<rect x="356.35" y="481.54" width="2.35" height="25.63" fill="#e1e8fa" stroke="#9a9a9a" stroke-width="0.4"/>
<rect x="358.70" y="481.54" width="2.35" height="25.63" fill="#d647a2" stroke="#9a9a9a" stroke-width="0.4"/>
<rect x="361.05" y="481.54" width="2.35" height="25.63" fill="#d2dcf8" stroke="#9a9a9a" stroke-width="0.4"/>
<rect x="363.40" y="481.54" width="2.35" height="25.63" fill="#afc0f2" stroke="#9a9a9a" stroke-width="0.4"/>
<rect x="365.75" y="481.54" width="2.35" height="25.63" fill="#edadd6" stroke="#9a9a9a" stroke-width="0.4"/>
<rect x="368.09" y="481.54" width="2.35" height="25.63" fill="#456ce2" stroke="#9a9a9a" stroke-width="0.4"/>
<rect x="370.44" y="481.54" width="2.35" height="25.63" fill="#b5c5f3" stroke="#9a9a9a" stroke-width="0.4"/>
<rect x="372.79" y="481.54" width="2.35" height="25.63" fill="#cc1c8c" stroke="#9a9a9a" stroke-width="0.4"/>
<rect x="375.14" y="481.54" width="2.35" height="25.63" fill="#e489c3" stroke="#9a9a9a" stroke-width="0.4"/>
<rect x="377.49" y="481.54" width="2.35" height="25.63" fill="#fffefe" stroke="#9a9a9a" stroke-width="0.4"/>
<rect x="379.84" y="481.54" width="2.35" height="25.63" fill="#eeb3d9" stroke="#9a9a9a" stroke-width="0.4"/>
<rect x="382.19" y="481.54" width="2.35" height="25.63" fill="#4169e1" stroke="#9a9a9a" stroke-width="0.4"/>
<rect x="384.54" y="481.54" width="2.35" height="25.63" fill="#efb6da" stroke="#9a9a9a" stroke-width="0.4"/>
<rect x="386.89" y="481.54" width="2.35" height="25.63" fill="#718fe9" stroke="#9a9a9a" stroke-width="0.4"/>
<rect x="389.24" y="481.54" width="2.35" height="25.63" fill="#e5eafb" stroke="#9a9a9a" stroke-width="0.4"/>
<rect x="391.59" y="481.54" width="2.35" height="25.63" fill="#a9bbf1" stroke="#9a9a9a" stroke-width="0.4"/>
<rect x="393.94" y="481.54" width="2.35" height="25.63" fill="#e7ecfb" stroke="#9a9a9a" stroke-width="0.4"/>
<rect x="396.29" y="481.54" width="2.35" height="25.63" fill="#6c8be8" stroke="#9a9a9a" stroke-width="0.4"/>
<rect x="398.64" y="481.54" width="2.35" height="25.63" fill="#4169e1" stroke="#9a9a9a" stroke-width="0.4"/>
<rect x="400.99" y="481.54" width="2.35" height="25.63" fill="#4169e1" stroke="#9a9a9a" stroke-width="0.4"/>
<rect x="403.34" y="481.54" width="2.35" height="25.63" fill="#4169e1" stroke="#9a9a9a" stroke-width="0.4"/>
<rect x="405.69" y="481.54" width="2.35" height="25.63" fill="#b8c7f4" stroke="#9a9a9a" stroke-width="0.4"/>
<rect x="408.04" y="481.54" width="2.35" height="25.63" fill="#466de2" stroke="#9a9a9a" stroke-width="0.4"/>
<rect x="410.39" y="481.54" width="2.35" height="25.63" fill="#4169e1" stroke="#9a9a9a" stroke-width="0.4"/>
<rect x="412.74" y="481.54" width="2.35" height="25.63" fill="#eeb4d9" stroke="#9a9a9a" stroke-width="0.4"/>
<rect x="415.09" y="481.54" width="2.35" height="25.63" fill="#b4c4f3" stroke="#9a9a9a" stroke-width="0.4"/>
<rect x="417.44" y="481.54" width="2.35" height="25.63" fill="#4169e1" stroke="#9a9a9a" stroke-width="0.4"/>
<rect x="419.78" y="481.54" width="2.35" height="25.63" fill="#4169e1" stroke="#9a9a9a" stroke-width="0.4"/>
<rect x="422.13" y="481.54" width="2.35" height="25.63" fill="#fcfdff" stroke="#9a9a9a" stroke-width="0.4"/>
<rect x="424.48" y="481.54" width="2.35" height="25.63" fill="#8ea6ed" stroke="#9a9a9a" stroke-width="0.4"/>
<rect x="426.83" y="481.54" width="2.35" height="25.63" fill="#4169e1" stroke="#9a9a9a" stroke-width="0.4"/>
<rect x="429.18" y="481.54" width="2.35" height="25.63" fill="#9aafef" stroke="#9a9a9a" stroke-width="0.4"/>
<rect x="431.53" y="481.54" width="2.35" height="25.63" fill="#4169e1" stroke="#9a9a9a" stroke-width="0.4"/>
<rect x="433.88" y="481.54" width="2.35" height="25.63" fill="#e793c8" stroke="#9a9a9a" stroke-width="0.4"/>
<rect x="436.23" y="481.54" width="2.35" height="25.63" fill="#8ca4ed" stroke="#9a9a9a" stroke-width="0.4"/>
<rect x="438.58" y="481.54" width="2.35" height="25.63" fill="#c4d1f6" stroke="#9a9a9a" stroke-width="0.4"/>
<rect x="440.93" y="481.54" width="2.35" height="25.63" fill="#4169e1" stroke="#9a9a9a" stroke-width="0.4"/>
<rect x="443.28" y="481.54" width="2.35" height="25.63" fill="#4169e1" stroke="#9a9a9a" stroke-width="0.4"/>
<rect x="445.63" y="481.54" width="2.35" height="25.63" fill="#9fb3f0" stroke="#9a9a9a" stroke-width="0.4"/>
<rect x="447.98" y="481.54" width="2.35" height="25.63" fill="#4169e1" stroke="#9a9a9a" stroke-width="0.4"/>
<rect x="450.33" y="481.54" width="2.35" height="25.63" fill="#4169e1" stroke="#9a9a9a" stroke-width="0.4"/>
<rect x="452.68" y="481.54" width="2.35" height="25.63" fill="#fbedf6" stroke="#9a9a9a" stroke-width="0.4"/>
<rect x="455.03" y="481.54" width="2.35" height="25.63" fill="#a0b4f0" stroke="#9a9a9a" stroke-width="0.4"/>
<rect x="457.38" y="481.54" width="2.35" height="25.63" fill="#4169e1" stroke="#9a9a9a" stroke-width="0.4"/>
<rect x="459.73" y="481.54" width="2.35" height="25.63" fill="#fefcfe" stroke="#9a9a9a" stroke-width="0.4"/>
<rect x="462.08" y="481.54" width="2.35" height="25.63" fill="#b0c1f3" stroke="#9a9a9a" stroke-width="0.4"/>
<rect x="464.43" y="481.54" width="2.35" height="25.63" fill="#9bb0ef" stroke="#9a9a9a" stroke-width="0.4"/>
<rect x="466.78" y="481.54" width="2.35" height="25.63" fill="#4169e1" stroke="#9a9a9a" stroke-width="0.4"/>
<rect x="469.13" y="481.54" width="2.35" height="25.63" fill="#d3dcf8" stroke="#9a9a9a" stroke-width="0.4"/>
<rect x="471.48" y="481.54" width="2.35" height="25.63" fill="#4169e1" stroke="#9a9a9a" stroke-width="0.4"/>
<rect x="473.82" y="481.54" width="2.35" height="25.63" fill="#466de2" stroke="#9a9a9a" stroke-width="0.4"/>
<rect x="476.17" y="481.54" width="2.35" height="25.63" fill="#e17bbc" stroke="#9a9a9a" stroke-width="0.4"/>
<rect x="478.52" y="481.54" width="2.35" height="25.63" fill="#f9e6f2" stroke="#9a9a9a" stroke-width="0.4"/>
<rect x="480.87" y="481.54" width="2.35" height="25.63" fill="#4169e1" stroke="#9a9a9a" stroke-width="0.4"/>
<rect x="483.22" y="481.54" width="2.35" height="25.63" fill="#6f8de8" stroke="#9a9a9a" stroke-width="0.4"/>
<rect x="485.57" y="481.54" width="2.35" height="25.63" fill="#fefcfe" stroke="#9a9a9a" stroke-width="0.4"/>
<rect x="487.92" y="481.54" width="2.35" height="25.63" fill="#e99dce" stroke="#9a9a9a" stroke-width="0.4"/>
<rect x="490.27" y="481.54" width="2.35" height="25.63" fill="#e5ebfb" stroke="#9a9a9a" stroke-width="0.4"/>
<rect x="492.62" y="481.54" width="2.35" height="25.63" fill="#f0f3fd" stroke="#9a9a9a" stroke-width="0.4"/>
<rect x="494.97" y="481.54" width="2.35" height="25.63" fill="#eba8d3" stroke="#9a9a9a" stroke-width="0.4"/>
<rect x="497.32" y="481.54" width="2.35" height="25.63" fill="#dd68b2" stroke="#9a9a9a" stroke-width="0.4"/>
<rect x="499.67" y="481.54" width="2.35" height="25.63" fill="#4169e1" stroke="#9a9a9a" stroke-width="0.4"/>
<rect x="502.02" y="481.54" width="2.35" height="25.63" fill="#b9c8f4" stroke="#9a9a9a" stroke-width="0.4"/>
<rect x="504.37" y="481.54" width="2.35" height="25.63" fill="#e58cc5" stroke="#9a9a9a" stroke-width="0.4"/>
<rect x="506.72" y="481.54" width="2.35" height="25.63" fill="#f2c6e2" stroke="#9a9a9a" stroke-width="0.4"/>
<rect x="509.07" y="481.54" width="2.35" height="25.63" fill="#4e73e3" stroke="#9a9a9a" stroke-width="0.4"/>
<rect x="511.42" y="481.54" width="2.35" height="25.63" fill="#4169e1" stroke="#9a9a9a" stroke-width="0.4"/>
<rect x="513.77" y="481.54" width="2.35" height="25.63" fill="#df71b7" stroke="#9a9a9a" stroke-width="0.4"/>
<rect x="516.12" y="481.54" width="2.35" height="25.63" fill="#cfd9f7" stroke="#9a9a9a" stroke-width="0.4"/>
<rect x="518.47" y="481.54" width="2.35" height="25.63" fill="#ffffff" stroke="#9a9a9a" stroke-width="0.4"/>
<rect x="520.82" y="481.54" width="2.35" height="25.63" fill="#b3c3f3" stroke="#9a9a9a" stroke-width="0.4"/>
<rect x="523.17" y="481.54" width="2.35" height="25.63" fill="#e99bcc" stroke="#9a9a9a" stroke-width="0.4"/>
<rect x="525.52" y="481.54" width="2.35" height="25.63" fill="#e489c3" stroke="#9a9a9a" stroke-width="0.4"/>
<rect x="527.86" y="481.54" width="2.35" height="25.63" fill="#db5dad" stroke="#9a9a9a" stroke-width="0.4"/>
<rect x="530.21" y="481.54" width="2.35" height="25.63" fill="#4a70e2" stroke="#9a9a9a" stroke-width="0.4"/>
<rect x="532.56" y="481.54" width="2.35" height="25.63" fill="#d2dcf8" stroke="#9a9a9a" stroke-width="0.4"/>
<rect x="534.91" y="481.54" width="2.35" height="25.63" fill="#e99ccd" stroke="#9a9a9a" stroke-width="0.4"/>
<rect x="537.26" y="481.54" width="2.35" height="25.63" fill="#eaeffc" stroke="#9a9a9a" stroke-width="0.4"/>
<rect x="539.61" y="481.54" width="2.35" height="25.63" fill="#fffeff" stroke="#9a9a9a" stroke-width="0.4"/>
<rect x="541.96" y="481.54" width="2.35" height="25.63" fill="#cf2b94" stroke="#9a9a9a" stroke-width="0.4"/>
<rect x="544.31" y="481.54" width="2.35" height="25.63" fill="#fae9f4" stroke="#9a9a9a" stroke-width="0.4"/>
<rect x="546.66" y="481.54" width="2.35" height="25.63" fill="#587be5" stroke="#9a9a9a" stroke-width="0.4"/>
<rect x="549.01" y="481.54" width="2.35" height="25.63" fill="#cc1c8c" stroke="#9a9a9a" stroke-width="0.4"/>
<rect x="551.36" y="481.54" width="2.35" height="25.63" fill="#e487c2" stroke="#9a9a9a" stroke-width="0.4"/>
<rect x="553.71" y="481.54" width="2.35" height="25.63" fill="#f4cde6" stroke="#9a9a9a" stroke-width="0.4"/>
<rect x="556.06" y="481.54" width="2.35" height="25.63" fill="#e89acc" stroke="#9a9a9a" stroke-width="0.4"/>
<rect x="558.41" y="481.54" width="2.35" height="25.63" fill="#e58bc4" stroke="#9a9a9a" stroke-width="0.4"/>
<rect x="560.76" y="481.54" width="2.35" height="25.63" fill="#f5d1e8" stroke="#9a9a9a" stroke-width="0.4"/>
<rect x="563.11" y="481.54" width="2.35" height="25.63" fill="#df6fb6" stroke="#9a9a9a" stroke-width="0.4"/>
<rect x="565.46" y="481.54" width="2.35" height="25.63" fill="#f7dbed" stroke="#9a9a9a" stroke-width="0.4"/>
<rect x="567.81" y="481.54" width="2.35" height="25.63" fill="#de6eb6" stroke="#9a9a9a" stroke-width="0.4"/>
<rect x="570.16" y="481.54" width="2.35" height="25.63" fill="#cc1c8c" stroke="#9a9a9a" stroke-width="0.4"/>
<rect x="572.51" y="481.54" width="2.35" height="25.63" fill="#f8deee" stroke="#9a9a9a" stroke-width="0.4"/>
<rect x="574.86" y="481.54" width="2.35" height="25.63" fill="#4169e1" stroke="#9a9a9a" stroke-width="0.4"/>
<rect x="577.21" y="481.54" width="2.35" height="25.63" fill="#cc1c8c" stroke="#9a9a9a" stroke-width="0.4"/>
<rect x="579.55" y="481.54" width="2.35" height="25.63" fill="#e17abc" stroke="#9a9a9a" stroke-width="0.4"/>
<rect x="581.90" y="481.54" width="2.35" height="25.63" fill="#fafbfe" stroke="#9a9a9a" stroke-width="0.4"/>
<rect x="584.25" y="481.54" width="2.35" height="25.63" fill="#e179bb" stroke="#9a9a9a" stroke-width="0.4"/>
<rect x="586.60" y="481.54" width="2.35" height="25.63" fill="#89a2ec" stroke="#9a9a9a" stroke-width="0.4"/>
<rect x="588.95" y="481.54" width="2.35" height="25.63" fill="#d33a9b" stroke="#9a9a9a" stroke-width="0.4"/>
<rect x="591.30" y="481.54" width="2.35" height="25.63" fill="#4169e1" stroke="#9a9a9a" stroke-width="0.4"/>
<rect x="593.65" y="481.54" width="2.35" height="25.63" fill="#dc62af" stroke="#9a9a9a" stroke-width="0.4"/>
<rect x="596.00" y="481.54" width="2.35" height="25.63" fill="#cc1c8c" stroke="#9a9a9a" stroke-width="0.4"/>
<rect x="598.35" y="481.54" width="2.35" height="25.63" fill="#f8e1f0" stroke="#9a9a9a" stroke-width="0.4"/>
<rect x="600.70" y="481.54" width="2.35" height="25.63" fill="#de6eb6" stroke="#9a9a9a" stroke-width="0.4"/>
<rect x="603.05" y="481.54" width="2.35" height="25.63" fill="#df71b7" stroke="#9a9a9a" stroke-width="0.4"/>
<rect x="339.90" y="507.17" width="2.35" height="25.63" fill="#4169e1" stroke="#9a9a9a" stroke-width="0.4"/>
<rect x="342.25" y="507.17" width="2.35" height="25.63" fill="#4e73e3" stroke="#9a9a9a" stroke-width="0.4"/>
<rect x="344.60" y="507.17" width="2.35" height="25.63" fill="#e99fcf" stroke="#9a9a9a" stroke-width="0.4"/>
<rect x="346.95" y="507.17" width="2.35" height="25.63" fill="#8ca4ed" stroke="#9a9a9a" stroke-width="0.4"/>
<rect x="349.30" y="507.17" width="2.35" height="25.63" fill="#d955a9" stroke="#9a9a9a" stroke-width="0.4"/>
<rect x="351.65" y="507.17" width="2.35" height="25.63" fill="#8ea6ed" stroke="#9a9a9a" stroke-width="0.4"/>
<rect x="354.00" y="507.17" width="2.35" height="25.63" fill="#5075e3" stroke="#9a9a9a" stroke-width="0.4"/>
<rect x="356.35" y="507.17" width="2.35" height="25.63" fill="#6585e7" stroke="#9a9a9a" stroke-width="0.4"/>
<rect x="358.70" y="507.17" width="2.35" height="25.63" fill="#4169e1" stroke="#9a9a9a" stroke-width="0.4"/>
<rect x="361.05" y="507.17" width="2.35" height="25.63" fill="#4169e1" stroke="#9a9a9a" stroke-width="0.4"/>
<rect x="363.40" y="507.17" width="2.35" height="25.63" fill="#7a96ea" stroke="#9a9a9a" stroke-width="0.4"/>
<rect x="365.75" y="507.17" width="2.35" height="25.63" fill="#f0badc" stroke="#9a9a9a" stroke-width="0.4"/>
<rect x="368.09" y="507.17" width="2.35" height="25.63" fill="#4169e1" stroke="#9a9a9a" stroke-width="0.4"/>
<rect x="370.44" y="507.17" width="2.35" height="25.63" fill="#4169e1" stroke="#9a9a9a" stroke-width="0.4"/>
<rect x="372.79" y="507.17" width="2.35" height="25.63" fill="#466de2" stroke="#9a9a9a" stroke-width="0.4"/>
<rect x="375.14" y="507.17" width="2.35" height="25.63" fill="#f3cae4" stroke="#9a9a9a" stroke-width="0.4"/>
<rect x="377.49" y="507.17" width="2.35" height="25.63" fill="#f2c3e1" stroke="#9a9a9a" stroke-width="0.4"/>
<rect x="379.84" y="507.17" width="2.35" height="25.63" fill="#577ae4" stroke="#9a9a9a" stroke-width="0.4"/>
<rect x="382.19" y="507.17" width="2.35" height="25.63" fill="#fefafc" stroke="#9a9a9a" stroke-width="0.4"/>
<rect x="384.54" y="507.17" width="2.35" height="25.63" fill="#efb8db" stroke="#9a9a9a" stroke-width="0.4"/>
<rect x="386.89" y="507.17" width="2.35" height="25.63" fill="#b1c1f3" stroke="#9a9a9a" stroke-width="0.4"/>
<rect x="389.24" y="507.17" width="2.35" height="25.63" fill="#7f9aeb" stroke="#9a9a9a" stroke-width="0.4"/>
<rect x="391.59" y="507.17" width="2.35" height="25.63" fill="#f9e2f0" stroke="#9a9a9a" stroke-width="0.4"/>
<rect x="393.94" y="507.17" width="2.35" height="25.63" fill="#456ce2" stroke="#9a9a9a" stroke-width="0.4"/>
<rect x="396.29" y="507.17" width="2.35" height="25.63" fill="#d4ddf8" stroke="#9a9a9a" stroke-width="0.4"/>
<rect x="398.64" y="507.17" width="2.35" height="25.63" fill="#f8e0ef" stroke="#9a9a9a" stroke-width="0.4"/>
<rect x="400.99" y="507.17" width="2.35" height="25.63" fill="#db5dad" stroke="#9a9a9a" stroke-width="0.4"/>
<rect x="403.34" y="507.17" width="2.35" height="25.63" fill="#f0bbdc" stroke="#9a9a9a" stroke-width="0.4"/>
<rect x="405.69" y="507.17" width="2.35" height="25.63" fill="#fdf8fb" stroke="#9a9a9a" stroke-width="0.4"/>
<rect x="408.04" y="507.17" width="2.35" height="25.63" fill="#4d72e3" stroke="#9a9a9a" stroke-width="0.4"/>
<rect x="410.39" y="507.17" width="2.35" height="25.63" fill="#f4d0e7" stroke="#9a9a9a" stroke-width="0.4"/>
<rect x="412.74" y="507.17" width="2.35" height="25.63" fill="#cbd6f7" stroke="#9a9a9a" stroke-width="0.4"/>
<rect x="415.09" y="507.17" width="2.35" height="25.63" fill="#d23699" stroke="#9a9a9a" stroke-width="0.4"/>
<rect x="417.44" y="507.17" width="2.35" height="25.63" fill="#dfe6fa" stroke="#9a9a9a" stroke-width="0.4"/>
<rect x="419.78" y="507.17" width="2.35" height="25.63" fill="#e2e8fa" stroke="#9a9a9a" stroke-width="0.4"/>
<rect x="422.13" y="507.17" width="2.35" height="25.63" fill="#89a2ec" stroke="#9a9a9a" stroke-width="0.4"/>
<rect x="424.48" y="507.17" width="2.35" height="25.63" fill="#c7d3f6" stroke="#9a9a9a" stroke-width="0.4"/>
<rect x="426.83" y="507.17" width="2.35" height="25.63" fill="#fbeef7" stroke="#9a9a9a" stroke-width="0.4"/>
<rect x="429.18" y="507.17" width="2.35" height="25.63" fill="#4169e1" stroke="#9a9a9a" stroke-width="0.4"/>
<rect x="431.53" y="507.17" width="2.35" height="25.63" fill="#a1b5f0" stroke="#9a9a9a" stroke-width="0.4"/>
<rect x="433.88" y="507.17" width="2.35" height="25.63" fill="#4169e1" stroke="#9a9a9a" stroke-width="0.4"/>
<rect x="436.23" y="507.17" width="2.35" height="25.63" fill="#4169e1" stroke="#9a9a9a" stroke-width="0.4"/>
<rect x="438.58" y="507.17" width="2.35" height="25.63" fill="#f8deee" stroke="#9a9a9a" stroke-width="0.4"/>
<rect x="440.93" y="507.17" width="2.35" height="25.63" fill="#7290e9" stroke="#9a9a9a" stroke-width="0.4"/>
<rect x="443.28" y="507.17" width="2.35" height="25.63" fill="#94aaee" stroke="#9a9a9a" stroke-width="0.4"/>
<rect x="445.63" y="507.17" width="2.35" height="25.63" fill="#feffff" stroke="#9a9a9a" stroke-width="0.4"/>
<rect x="447.98" y="507.17" width="2.35" height="25.63" fill="#6283e6" stroke="#9a9a9a" stroke-width="0.4"/>
<rect x="450.33" y="507.17" width="2.35" height="25.63" fill="#92a9ee" stroke="#9a9a9a" stroke-width="0.4"/>
<rect x="452.68" y="507.17" width="2.35" height="25.63" fill="#afc0f2" stroke="#9a9a9a" stroke-width="0.4"/>
<rect x="455.03" y="507.17" width="2.35" height="25.63" fill="#6787e7" stroke="#9a9a9a" stroke-width="0.4"/>
<rect x="457.38" y="507.17" width="2.35" height="25.63" fill="#597ce5" stroke="#9a9a9a" stroke-width="0.4"/>
<rect x="459.73" y="507.17" width="2.35" height="25.63" fill="#e691c7" stroke="#9a9a9a" stroke-width="0.4"/>
<rect x="462.08" y="507.17" width="2.35" height="25.63" fill="#f9e5f2" stroke="#9a9a9a" stroke-width="0.4"/>
<rect x="464.43" y="507.17" width="2.35" height="25.63" fill="#f4cce5" stroke="#9a9a9a" stroke-width="0.4"/>
<rect x="466.78" y="507.17" width="2.35" height="25.63" fill="#4169e1" stroke="#9a9a9a" stroke-width="0.4"/>
<rect x="469.13" y="507.17" width="2.35" height="25.63" fill="#a3b7f1" stroke="#9a9a9a" stroke-width="0.4"/>
<rect x="471.48" y="507.17" width="2.35" height="25.63" fill="#edb0d7" stroke="#9a9a9a" stroke-width="0.4"/>
<rect x="473.82" y="507.17" width="2.35" height="25.63" fill="#edb0d7" stroke="#9a9a9a" stroke-width="0.4"/>
<rect x="476.17" y="507.17" width="2.35" height="25.63" fill="#708ee8" stroke="#9a9a9a" stroke-width="0.4"/>
<rect x="478.52" y="507.17" width="2.35" height="25.63" fill="#f7deee" stroke="#9a9a9a" stroke-width="0.4"/>
<rect x="480.87" y="507.17" width="2.35" height="25.63" fill="#d851a7" stroke="#9a9a9a" stroke-width="0.4"/>
<rect x="483.22" y="507.17" width="2.35" height="25.63" fill="#ecacd5" stroke="#9a9a9a" stroke-width="0.4"/>
<rect x="485.57" y="507.17" width="2.35" height="25.63" fill="#e5eafb" stroke="#9a9a9a" stroke-width="0.4"/>
<rect x="487.92" y="507.17" width="2.35" height="25.63" fill="#a7baf1" stroke="#9a9a9a" stroke-width="0.4"/>
<rect x="490.27" y="507.17" width="2.35" height="25.63" fill="#4169e1" stroke="#9a9a9a" stroke-width="0.4"/>
<rect x="492.62" y="507.17" width="2.35" height="25.63" fill="#d2dcf8" stroke="#9a9a9a" stroke-width="0.4"/>
<rect x="494.97" y="507.17" width="2.35" height="25.63" fill="#fcf2f9" stroke="#9a9a9a" stroke-width="0.4"/>
<rect x="497.32" y="507.17" width="2.35" height="25.63" fill="#fcfdff" stroke="#9a9a9a" stroke-width="0.4"/>
<rect x="499.67" y="507.17" width="2.35" height="25.63" fill="#e9edfb" stroke="#9a9a9a" stroke-width="0.4"/>
<rect x="502.02" y="507.17" width="2.35" height="25.63" fill="#e99ccd" stroke="#9a9a9a" stroke-width="0.4"/>
<rect x="504.37" y="507.17" width="2.35" height="25.63" fill="#dd67b2" stroke="#9a9a9a" stroke-width="0.4"/>
<rect x="506.72" y="507.17" width="2.35" height="25.63" fill="#7995ea" stroke="#9a9a9a" stroke-width="0.4"/>
<rect x="509.07" y="507.17" width="2.35" height="25.63" fill="#fae9f4" stroke="#9a9a9a" stroke-width="0.4"/>
<rect x="511.42" y="507.17" width="2.35" height="25.63" fill="#fefcfe" stroke="#9a9a9a" stroke-width="0.4"/>
<rect x="513.77" y="507.17" width="2.35" height="25.63" fill="#fae8f4" stroke="#9a9a9a" stroke-width="0.4"/>
<rect x="516.12" y="507.17" width="2.35" height="25.63" fill="#cfd9f7" stroke="#9a9a9a" stroke-width="0.4"/>
<rect x="518.47" y="507.17" width="2.35" height="25.63" fill="#ecabd4" stroke="#9a9a9a" stroke-width="0.4"/>
<rect x="520.82" y="507.17" width="2.35" height="25.63" fill="#db61af" stroke="#9a9a9a" stroke-width="0.4"/>
<rect x="523.17" y="507.17" width="2.35" height="25.63" fill="#d4ddf8" stroke="#9a9a9a" stroke-width="0.4"/>
<rect x="525.52" y="507.17" width="2.35" height="25.63" fill="#edf1fc" stroke="#9a9a9a" stroke-width="0.4"/>
<rect x="527.86" y="507.17" width="2.35" height="25.63" fill="#d647a2" stroke="#9a9a9a" stroke-width="0.4"/>
<rect x="530.21" y="507.17" width="2.35" height="25.63" fill="#95abee" stroke="#9a9a9a" stroke-width="0.4"/>
<rect x="532.56" y="507.17" width="2.35" height="25.63" fill="#e177ba" stroke="#9a9a9a" stroke-width="0.4"/>
<rect x="534.91" y="507.17" width="2.35" height="25.63" fill="#f2c4e1" stroke="#9a9a9a" stroke-width="0.4"/>
<rect x="537.26" y="507.17" width="2.35" height="25.63" fill="#d6dff9" stroke="#9a9a9a" stroke-width="0.4"/>
<rect x="539.61" y="507.17" width="2.35" height="25.63" fill="#e690c7" stroke="#9a9a9a" stroke-width="0.4"/>
<rect x="541.96" y="507.17" width="2.35" height="25.63" fill="#f4cce5" stroke="#9a9a9a" stroke-width="0.4"/>
<rect x="544.31" y="507.17" width="2.35" height="25.63" fill="#e074b8" stroke="#9a9a9a" stroke-width="0.4"/>
<rect x="546.66" y="507.17" width="2.35" height="25.63" fill="#da59ab" stroke="#9a9a9a" stroke-width="0.4"/>
<rect x="549.01" y="507.17" width="2.35" height="25.63" fill="#ecacd5" stroke="#9a9a9a" stroke-width="0.4"/>
<rect x="551.36" y="507.17" width="2.35" height="25.63" fill="#dd6ab3" stroke="#9a9a9a" stroke-width="0.4"/>
<rect x="553.71" y="507.17" width="2.35" height="25.63" fill="#df71b7" stroke="#9a9a9a" stroke-width="0.4"/>
<rect x="556.06" y="507.17" width="2.35" height="25.63" fill="#d33a9b" stroke="#9a9a9a" stroke-width="0.4"/>
<rect x="558.41" y="507.17" width="2.35" height="25.63" fill="#7f9aeb" stroke="#9a9a9a" stroke-width="0.4"/>
<rect x="560.76" y="507.17" width="2.35" height="25.63" fill="#eba5d2" stroke="#9a9a9a" stroke-width="0.4"/>
<rect x="563.11" y="507.17" width="2.35" height="25.63" fill="#d33a9b" stroke="#9a9a9a" stroke-width="0.4"/>
<rect x="565.46" y="507.17" width="2.35" height="25.63" fill="#eaa0cf" stroke="#9a9a9a" stroke-width="0.4"/>
<rect x="567.81" y="507.17" width="2.35" height="25.63" fill="#cc1c8c" stroke="#9a9a9a" stroke-width="0.4"/>
<rect x="570.16" y="507.17" width="2.35" height="25.63" fill="#f6d7eb" stroke="#9a9a9a" stroke-width="0.4"/>
<rect x="572.51" y="507.17" width="2.35" height="25.63" fill="#f4d0e7" stroke="#9a9a9a" stroke-width="0.4"/>
<rect x="574.86" y="507.17" width="2.35" height="25.63" fill="#e99ece" stroke="#9a9a9a" stroke-width="0.4"/>
<rect x="577.21" y="507.17" width="2.35" height="25.63" fill="#93aaee" stroke="#9a9a9a" stroke-width="0.4"/>
<rect x="579.55" y="507.17" width="2.35" height="25.63" fill="#cc1c8c" stroke="#9a9a9a" stroke-width="0.4"/>
<rect x="581.90" y="507.17" width="2.35" height="25.63" fill="#e1e7fa" stroke="#9a9a9a" stroke-width="0.4"/>
<rect x="584.25" y="507.17" width="2.35" height="25.63" fill="#eba6d2" stroke="#9a9a9a" stroke-width="0.4"/>
<rect x="586.60" y="507.17" width="2.35" height="25.63" fill="#4169e1" stroke="#9a9a9a" stroke-width="0.4"/>
<rect x="588.95" y="507.17" width="2.35" height="25.63" fill="#e488c3" stroke="#9a9a9a" stroke-width="0.4"/>
<rect x="591.30" y="507.17" width="2.35" height="25.63" fill="#e2e8fa" stroke="#9a9a9a" stroke-width="0.4"/>
<rect x="593.65" y="507.17" width="2.35" height="25.63" fill="#d648a2" stroke="#9a9a9a" stroke-width="0.4"/>
<rect x="596.00" y="507.17" width="2.35" height="25.63" fill="#e691c7" stroke="#9a9a9a" stroke-width="0.4"/>
<rect x="598.35" y="507.17" width="2.35" height="25.63" fill="#cc1c8c" stroke="#9a9a9a" stroke-width="0.4"/>
<rect x="600.70" y="507.17" width="2.35" height="25.63" fill="#f8deee" stroke="#9a9a9a" stroke-width="0.4"/>
<rect x="603.05" y="507.17" width="2.35" height="25.63" fill="#e58dc5" stroke="#9a9a9a" stroke-width="0.4"/>
</g>
<text x="607.9" y="349.0" font-size="5.2" text-anchor="start" dominant-baseline="central" font-weight="bold" fill="#000">Risk</text>
<text x="607.8" y="366.0" font-size="5.3" text-anchor="start" dominant-baseline="central" font-weight="normal" fill="#000">NM_033547</text>
<text x="607.8" y="391.6" font-size="5.3" text-anchor="start" dominant-baseline="central" font-weight="normal" fill="#000">NM_006076</text>
<text x="607.8" y="417.2" font-size="5.3" text-anchor="start" dominant-baseline="central" font-weight="normal" fill="#000">NM_078469</text>
<text x="607.8" y="442.8" font-size="5.3" text-anchor="start" dominant-baseline="central" font-weight="normal" fill="#000">NM_024330</text>
<text x="607.8" y="468.4" font-size="5.3" text-anchor="start" dominant-baseline="central" font-weight="normal" fill="#000">NM_004073</text>
<text x="607.8" y="494.0" font-size="5.3" text-anchor="start" dominant-baseline="central" font-weight="normal" fill="#000">NM_005144</text>
<text x="607.8" y="519.6" font-size="5.3" text-anchor="start" dominant-baseline="central" font-weight="normal" fill="#000">NM_000362</text>
<defs><linearGradient id="gf" x1="0" y1="0" x2="0" y2="1"><stop offset="0" stop-color="rgb(204, 28, 140)"/><stop offset="0.35" stop-color="rgb(204, 28, 140)"/><stop offset="0.5" stop-color="#fff"/><stop offset="0.655" stop-color="rgb(65, 105, 225)"/><stop offset="1" stop-color="rgb(65, 105, 225)"/></linearGradient></defs>
<rect x="641.6" y="346.1" width="6.5" height="100.69999999999999" fill="url(#gf)"/>
<text x="651.4" y="349.0" font-size="5.2" text-anchor="start" dominant-baseline="central" font-weight="normal" fill="#000">4</text>
<text x="651.4" y="373.1" font-size="5.2" text-anchor="start" dominant-baseline="central" font-weight="normal" fill="#000">2</text>
<text x="651.4" y="396.2" font-size="5.2" text-anchor="start" dominant-baseline="central" font-weight="normal" fill="#000">0</text>
<text x="651.4" y="420.5" font-size="5.2" text-anchor="start" dominant-baseline="central" font-weight="normal" fill="#000">−2</text>
<text x="651.4" y="444.0" font-size="5.2" text-anchor="start" dominant-baseline="central" font-weight="normal" fill="#000">−4</text>
<text x="656.8" y="348.0" font-size="5.4" text-anchor="start" dominant-baseline="central" font-weight="bold" fill="#000">Risk</text>
<rect x="656.8" y="351.2" width="6.6" height="6.800000000000011" fill="#48D1CC"/>
<rect x="656.8" y="358.0" width="6.6" height="6.699999999999989" fill="#7B22D0"/>
<text x="665.0" y="354.6" font-size="4.6" text-anchor="start" dominant-baseline="central" font-weight="normal" fill="#000">low</text>
<text x="665.0" y="361.35" font-size="4.6" text-anchor="start" dominant-baseline="central" font-weight="normal" fill="#000">high</text>
</svg></body></html>
